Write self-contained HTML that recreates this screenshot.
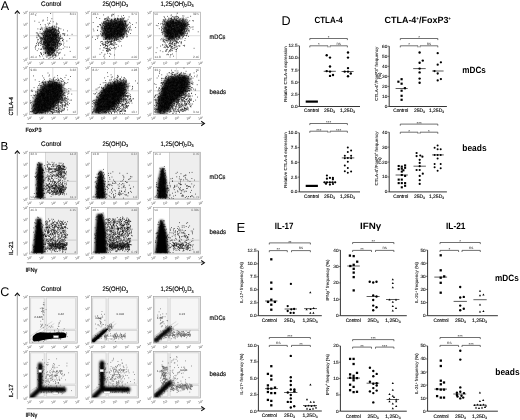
<!DOCTYPE html>
<html><head><meta charset="utf-8"><style>
html,body{margin:0;padding:0;background:#fff;width:520px;height:420px;overflow:hidden}
svg{display:block;filter:grayscale(1)}
text{font-family:"Liberation Sans",sans-serif;-webkit-font-smoothing:antialiased;text-rendering:geometricPrecision}
</style></head><body>
<svg width="520" height="420" viewBox="0 0 520 420">
<defs><filter id="b5" filterUnits="userSpaceOnUse" x="0" y="0" width="520" height="420"><feGaussianBlur stdDeviation="0.5"/></filter><filter id="b6" filterUnits="userSpaceOnUse" x="0" y="0" width="520" height="420"><feGaussianBlur stdDeviation="0.6"/></filter><filter id="b8" filterUnits="userSpaceOnUse" x="0" y="0" width="520" height="420"><feGaussianBlur stdDeviation="0.8"/></filter><filter id="b10" filterUnits="userSpaceOnUse" x="0" y="0" width="520" height="420"><feGaussianBlur stdDeviation="1.0"/></filter><filter id="b12" filterUnits="userSpaceOnUse" x="0" y="0" width="520" height="420"><feGaussianBlur stdDeviation="1.2"/></filter><filter id="b15" filterUnits="userSpaceOnUse" x="0" y="0" width="520" height="420"><feGaussianBlur stdDeviation="1.5"/></filter><filter id="b20" filterUnits="userSpaceOnUse" x="0" y="0" width="520" height="420"><feGaussianBlur stdDeviation="2.0"/></filter><filter id="b25" filterUnits="userSpaceOnUse" x="0" y="0" width="520" height="420"><feGaussianBlur stdDeviation="2.5"/></filter><filter id="b30" filterUnits="userSpaceOnUse" x="0" y="0" width="520" height="420"><feGaussianBlur stdDeviation="3.0"/></filter></defs>
<rect width="520" height="420" fill="#fff"/>
<text x="0.70" y="9.70" font-size="12.6">A</text>
<text x="0.60" y="149.80" font-size="11.6">B</text>
<text x="0.20" y="295.90" font-size="12.6">C</text>
<text x="281.60" y="25.30" font-size="12.6">D</text>
<text x="236.40" y="231.90" font-size="13.2">E</text>
<text x="51.30" y="5.80" font-size="6.6" text-anchor="middle" textLength="20.4" lengthAdjust="spacingAndGlyphs" stroke="#000" stroke-width=".15">Control</text>
<text x="102.5" y="5.8" font-size="6.6" stroke="#000" stroke-width=".15" textLength="25.5" lengthAdjust="spacingAndGlyphs">25(OH)D<tspan font-size="4" dy="1.3">3</tspan></text>
<text x="160.5" y="5.8" font-size="6.6" stroke="#000" stroke-width=".15" textLength="33" lengthAdjust="spacingAndGlyphs">1,25(OH)<tspan font-size="4" dy="1.3">2</tspan><tspan dy="-1.3">D</tspan><tspan font-size="4" dy="1.3">3</tspan></text>
<text x="51.30" y="145.60" font-size="6.6" text-anchor="middle" textLength="20.4" lengthAdjust="spacingAndGlyphs" stroke="#000" stroke-width=".15">Control</text>
<text x="102.5" y="145.6" font-size="6.6" stroke="#000" stroke-width=".15" textLength="25.5" lengthAdjust="spacingAndGlyphs">25(OH)D<tspan font-size="4" dy="1.3">3</tspan></text>
<text x="160.5" y="145.6" font-size="6.6" stroke="#000" stroke-width=".15" textLength="33" lengthAdjust="spacingAndGlyphs">1,25(OH)<tspan font-size="4" dy="1.3">2</tspan><tspan dy="-1.3">D</tspan><tspan font-size="4" dy="1.3">3</tspan></text>
<text x="51.30" y="291.20" font-size="6.6" text-anchor="middle" textLength="20.4" lengthAdjust="spacingAndGlyphs" stroke="#000" stroke-width=".15">Control</text>
<text x="102.5" y="291.2" font-size="6.6" stroke="#000" stroke-width=".15" textLength="25.5" lengthAdjust="spacingAndGlyphs">25(OH)D<tspan font-size="4" dy="1.3">3</tspan></text>
<text x="160.5" y="291.2" font-size="6.6" stroke="#000" stroke-width=".15" textLength="33" lengthAdjust="spacingAndGlyphs">1,25(OH)<tspan font-size="4" dy="1.3">2</tspan><tspan dy="-1.3">D</tspan><tspan font-size="4" dy="1.3">3</tspan></text>
<text x="209.60" y="38.60" font-size="6.6" textLength="15.8" lengthAdjust="spacingAndGlyphs" stroke="#000" stroke-width=".15">mDCs</text>
<text x="209.60" y="94.30" font-size="6.6" textLength="16.4" lengthAdjust="spacingAndGlyphs" stroke="#000" stroke-width=".15">beads</text>
<text x="209.60" y="178.70" font-size="6.6" textLength="15.8" lengthAdjust="spacingAndGlyphs" stroke="#000" stroke-width=".15">mDCs</text>
<text x="209.60" y="233.70" font-size="6.6" textLength="16.4" lengthAdjust="spacingAndGlyphs" stroke="#000" stroke-width=".15">beads</text>
<text x="209.60" y="320.20" font-size="6.6" textLength="15.8" lengthAdjust="spacingAndGlyphs" stroke="#000" stroke-width=".15">mDCs</text>
<text x="209.60" y="376.00" font-size="6.6" textLength="16.4" lengthAdjust="spacingAndGlyphs" stroke="#000" stroke-width=".15">beads</text>
<rect x="29.3" y="12.1" width="47.9" height="47.2" fill="#fff" stroke="#999" stroke-width=".6"/>
<path d="M52.8 12.1V59.3M29.3 35.7H77.2" stroke="#bbb" stroke-width=".5"/>
<text x="30.6" y="15.3" font-size="3.1" fill="#555">42.7</text>
<text x="75.9" y="15.3" font-size="3.1" fill="#555" text-anchor="end">8.61</text>
<text x="30.6" y="58.3" font-size="3.1" fill="#555">40.4</text>
<text x="75.9" y="58.3" font-size="3.1" fill="#555" text-anchor="end">16</text>
<text x="28.1" y="60.2" font-size="3.2" text-anchor="end" fill="#444" transform="rotate(-15 28.1 60.2)">10<tspan font-size="2.1" dy="-1.2">0</tspan></text>
<text x="28.1" y="48.4" font-size="3.2" text-anchor="end" fill="#444" transform="rotate(-15 28.1 48.4)">10<tspan font-size="2.1" dy="-1.2">1</tspan></text>
<text x="28.1" y="36.6" font-size="3.2" text-anchor="end" fill="#444" transform="rotate(-15 28.1 36.6)">10<tspan font-size="2.1" dy="-1.2">2</tspan></text>
<text x="28.1" y="24.8" font-size="3.2" text-anchor="end" fill="#444" transform="rotate(-15 28.1 24.8)">10<tspan font-size="2.1" dy="-1.2">3</tspan></text>
<text x="28.1" y="13.0" font-size="3.2" text-anchor="end" fill="#444" transform="rotate(-15 28.1 13.0)">10<tspan font-size="2.1" dy="-1.2">4</tspan></text>
<text x="29.8" y="64.2" font-size="3.2" text-anchor="middle" fill="#444" transform="rotate(-15 29.8 64.2)">10<tspan font-size="2.1" dy="-1.2">0</tspan></text>
<text x="41.8" y="64.2" font-size="3.2" text-anchor="middle" fill="#444" transform="rotate(-15 41.8 64.2)">10<tspan font-size="2.1" dy="-1.2">1</tspan></text>
<text x="53.8" y="64.2" font-size="3.2" text-anchor="middle" fill="#444" transform="rotate(-15 53.8 64.2)">10<tspan font-size="2.1" dy="-1.2">2</tspan></text>
<text x="65.7" y="64.2" font-size="3.2" text-anchor="middle" fill="#444" transform="rotate(-15 65.7 64.2)">10<tspan font-size="2.1" dy="-1.2">3</tspan></text>
<text x="77.7" y="64.2" font-size="3.2" text-anchor="middle" fill="#444" transform="rotate(-15 77.7 64.2)">10<tspan font-size="2.1" dy="-1.2">4</tspan></text>
<clipPath id="k1"><rect x="29.7" y="12.5" width="47.1" height="46.4"/></clipPath><g clip-path="url(#k1)"><path d="M46 28.5L52 28L56 30L58.5 35L57.5 45L54 52L49.5 56L46 54L43.5 46L42.8 36Z" filter="url(#b15)" fill-opacity="0.74"/></g><path d="M53.3 50.5h0.75M58.0 35.6h0.75M47.6 48.7h0.75M55.6 39.0h0.75M49.5 35.5h0.75M44.5 43.1h0.75M52.7 41.8h0.75M49.4 31.7h0.75M51.6 29.6h0.75M41.3 41.2h0.75M49.7 58.0h0.75M56.9 41.7h0.75M55.1 34.8h0.75M54.7 36.1h0.75M56.6 39.1h0.75M47.7 49.3h0.75M54.5 50.6h0.75M52.0 40.4h0.75M47.0 45.4h0.75M53.0 55.1h0.75M53.2 44.6h0.75M46.4 36.8h0.75M46.9 35.2h0.75M56.7 34.9h0.75M53.3 45.4h0.75M51.1 33.4h0.75M48.6 30.3h0.75M46.0 35.7h0.75M53.8 34.6h0.75M55.1 38.2h0.75M53.1 45.6h0.75M52.1 34.3h0.75M49.7 29.8h0.75M59.5 49.1h0.75M52.8 36.8h0.75M50.4 35.0h0.75M52.5 39.8h0.75M48.2 48.6h0.75M40.1 39.0h0.75M49.6 41.5h0.75M57.6 33.7h0.75M51.9 48.4h0.75M49.2 45.5h0.75M52.2 27.6h0.75M50.0 52.1h0.75M61.2 44.1h0.75M51.7 36.6h0.75M43.5 34.0h0.75M52.9 38.6h0.75M50.1 37.2h0.75M62.8 41.2h0.75M54.4 50.2h0.75M50.6 48.3h0.75M53.6 54.0h0.75M49.9 54.3h0.75M42.0 44.3h0.75M52.8 56.0h0.75M47.8 53.5h0.75M54.8 50.2h0.75M44.8 40.6h0.75M52.1 28.0h0.75M45.8 56.1h0.75M58.7 32.9h0.75M47.8 42.8h0.75M48.8 44.2h0.75M49.1 54.1h0.75M52.4 54.4h0.75M41.3 37.7h0.75M53.5 40.8h0.75M46.2 32.2h0.75M41.8 40.1h0.75M44.7 44.7h0.75M48.3 49.9h0.75M42.2 38.6h0.75M53.5 49.5h0.75M58.9 45.8h0.75M49.1 34.4h0.75M46.6 26.9h0.75M43.2 48.2h0.75M52.4 37.6h0.75M43.4 47.1h0.75M58.0 30.7h0.75M57.1 44.2h0.75M57.9 27.6h0.75M54.9 42.3h0.75M44.2 48.7h0.75M54.9 30.4h0.75M52.1 32.8h0.75M50.3 47.5h0.75M46.1 33.6h0.75M49.4 48.1h0.75M54.6 35.7h0.75M43.9 39.3h0.75M47.7 34.0h0.75M44.8 39.3h0.75M56.3 35.5h0.75M43.2 35.5h0.75M58.3 35.7h0.75M45.9 47.0h0.75M49.3 31.9h0.75M49.0 53.7h0.75M50.2 48.5h0.75M44.9 45.5h0.75M47.4 36.9h0.75M41.1 40.7h0.75M53.9 29.9h0.75M43.9 42.7h0.75M45.1 31.3h0.75M56.7 45.4h0.75M52.1 39.2h0.75M58.1 31.3h0.75M58.0 53.1h0.75M58.3 38.2h0.75M54.4 40.1h0.75M50.6 38.2h0.75M53.1 48.3h0.75M48.3 54.9h0.75M55.2 35.9h0.75M47.2 51.3h0.75M57.1 48.1h0.75M47.7 34.3h0.75M56.8 37.0h0.75M55.2 32.6h0.75M52.7 32.1h0.75M58.0 28.6h0.75M48.2 31.3h0.75M50.5 39.5h0.75M49.6 37.2h0.75M44.3 33.8h0.75M47.7 38.9h0.75M37.5 28.9h0.75M47.4 46.3h0.75M45.0 43.2h0.75M44.5 42.3h0.75M50.9 50.5h0.75M51.3 47.8h0.75M53.7 31.8h0.75M40.3 29.1h0.75M44.0 44.7h0.75M49.4 51.4h0.75M39.7 33.5h0.75M52.0 29.3h0.75M49.7 39.3h0.75M56.9 52.5h0.75M53.5 43.0h0.75M43.9 34.8h0.75M59.4 43.6h0.75M46.9 52.4h0.75M48.0 43.4h0.75M51.2 49.6h0.75M48.8 51.4h0.75M51.5 50.8h0.75M58.4 40.2h0.75M53.5 50.2h0.75M50.3 32.1h0.75M45.1 53.0h0.75M44.8 41.4h0.75M51.8 39.9h0.75M53.7 31.1h0.75M53.3 48.6h0.75M50.9 48.1h0.75M49.8 32.1h0.75M52.5 32.9h0.75M45.6 52.4h0.75M46.4 41.8h0.75M53.6 45.8h0.75M48.4 49.7h0.75M48.1 45.0h0.75M58.8 31.8h0.75M58.5 43.0h0.75M52.7 48.5h0.75M51.7 35.0h0.75M49.1 50.8h0.75M40.2 37.9h0.75M56.8 40.5h0.75M54.8 47.6h0.75M47.2 31.3h0.75M51.0 38.6h0.75M51.4 44.2h0.75M51.1 34.0h0.75M55.3 38.6h0.75M62.3 40.4h0.75M51.3 33.0h0.75M50.5 51.1h0.75M59.9 43.9h0.75M52.5 38.9h0.75M52.5 44.1h0.75M45.3 40.2h0.75M52.8 48.8h0.75M54.3 35.0h0.75M49.1 42.6h0.75M47.1 43.8h0.75M48.9 41.2h0.75M51.1 41.0h0.75M47.1 32.4h0.75M47.7 30.9h0.75M49.4 55.3h0.75M55.4 35.1h0.75M45.3 36.5h0.75M57.6 44.8h0.75M48.9 52.4h0.75M56.0 40.3h0.75M48.1 36.8h0.75M47.2 37.1h0.75M50.4 41.9h0.75M45.9 30.9h0.75M40.4 29.5h0.75M41.2 33.4h0.75M50.1 27.7h0.75M41.1 49.3h0.75M43.4 41.8h0.75M47.6 39.3h0.75M54.9 28.4h0.75M51.9 35.0h0.75M50.3 40.1h0.75M55.7 35.7h0.75M55.2 44.4h0.75M50.3 42.3h0.75M47.8 44.4h0.75M55.4 39.7h0.75M50.7 30.4h0.75M47.4 29.2h0.75M43.2 42.7h0.75M53.5 35.0h0.75M55.9 37.9h0.75M45.4 35.9h0.75M52.6 35.6h0.75M57.5 37.6h0.75M58.9 28.3h0.75M55.8 30.8h0.75M52.5 29.4h0.75M47.3 42.3h0.75M54.3 51.8h0.75M43.5 52.3h0.75M50.7 50.2h0.75M48.7 49.0h0.75M54.2 37.2h0.75M54.1 39.4h0.75M48.0 36.0h0.75M51.4 49.1h0.75M46.0 42.1h0.75M46.6 36.0h0.75M47.7 35.8h0.75M47.5 44.5h0.75M54.5 32.4h0.75M43.2 36.6h0.75M58.3 41.2h0.75M55.7 54.9h0.75M56.8 32.0h0.75M50.3 30.9h0.75M36.2 43.5h0.75M53.5 42.4h0.75M47.9 54.4h0.75M51.3 52.5h0.75M51.0 43.7h0.75M45.7 42.1h0.75M58.3 33.7h0.75M53.0 51.4h0.75M52.2 35.5h0.75M57.4 45.6h0.75M43.6 37.4h0.75M44.9 39.2h0.75M51.5 42.3h0.75M49.3 45.2h0.75M56.7 30.6h0.75M55.6 35.9h0.75M53.4 36.2h0.75M51.0 53.5h0.75M48.7 32.2h0.75M47.5 35.3h0.75M41.0 38.4h0.75M48.7 45.4h0.75M46.9 31.8h0.75M50.8 50.0h0.75M46.9 38.6h0.75M56.2 42.0h0.75M47.8 49.9h0.75M45.9 28.0h0.75M46.9 47.0h0.75M55.2 45.8h0.75M53.9 34.0h0.75M48.0 40.1h0.75M55.5 44.6h0.75M44.2 41.2h0.75M51.3 46.7h0.75M53.0 52.5h0.75M54.7 38.9h0.75M51.1 54.5h0.75M62.3 40.1h0.75M59.1 38.7h0.75M44.7 48.9h0.75M48.8 44.8h0.75M56.7 46.1h0.75M54.0 51.0h0.75M45.2 37.9h0.75M62.1 38.2h0.75M41.7 34.3h0.75M53.9 50.0h0.75M52.6 52.8h0.75M40.8 42.3h0.75M56.5 34.0h0.75M54.9 33.7h0.75M49.3 34.9h0.75M59.3 40.9h0.75M52.4 44.6h0.75M40.4 43.7h0.75M44.7 27.9h0.75M48.1 31.8h0.75M50.1 31.1h0.75M60.5 43.9h0.75M40.8 33.9h0.75M52.7 33.6h0.75M51.3 37.9h0.75M50.1 41.5h0.75M50.0 30.3h0.75M54.7 42.1h0.75M55.0 48.1h0.75M51.1 38.9h0.75M49.9 55.1h0.75M49.8 32.5h0.75M51.1 32.3h0.75M56.2 39.9h0.75M45.2 31.8h0.75M58.3 42.0h0.75M43.4 41.2h0.75M42.7 35.7h0.75M47.7 46.8h0.75M53.6 33.9h0.75M58.1 29.6h0.75M52.1 53.5h0.75M55.0 29.4h0.75M39.7 32.0h0.75M47.1 39.2h0.75M50.9 49.2h0.75M47.0 48.6h0.75M49.4 43.8h0.75M49.8 41.0h0.75M45.6 38.8h0.75M44.2 33.0h0.75M52.8 30.4h0.75M44.7 44.0h0.75M52.2 26.5h0.75M44.9 33.4h0.75M51.7 39.3h0.75M48.6 36.6h0.75M49.1 41.3h0.75M56.5 37.7h0.75M56.7 36.2h0.75M53.9 28.6h0.75M40.3 37.1h0.75M46.8 29.0h0.75M55.6 42.0h0.75M51.1 40.2h0.75M52.4 42.4h0.75M53.4 38.6h0.75M51.9 37.9h0.75M49.1 49.3h0.75M56.1 35.4h0.75M46.1 40.8h0.75M55.3 34.2h0.75M56.0 51.0h0.75M47.1 40.6h0.75M47.9 52.6h0.75M42.9 43.0h0.75M42.9 46.9h0.75M47.0 45.2h0.75M45.2 45.8h0.75M54.5 47.8h0.75M47.8 52.9h0.75M47.3 55.9h0.75M52.0 42.3h0.75M47.7 46.0h0.75M38.1 45.5h0.75M50.7 34.1h0.75M51.0 41.5h0.75M49.3 38.1h0.75M50.6 40.5h0.75M44.9 40.0h0.75M49.8 49.3h0.75M52.0 37.1h0.75M49.5 42.0h0.75M57.2 43.0h0.75M41.5 44.4h0.75M47.8 38.2h0.75M57.9 46.2h0.75M54.9 43.2h0.75M59.1 40.5h0.75M44.9 47.3h0.75M55.1 46.5h0.75M55.6 30.3h0.75M54.4 30.9h0.75M53.8 34.8h0.75M49.5 45.4h0.75M38.2 39.7h0.75M43.1 43.6h0.75M47.5 53.7h0.75M42.8 32.9h0.75M42.8 48.9h0.75M45.1 52.4h0.75M48.5 58.6h0.75M55.8 29.4h0.75M56.6 46.4h0.75M57.6 34.8h0.75M56.5 40.6h0.75M48.2 49.5h0.75M52.8 31.7h0.75M44.7 32.4h0.75M49.5 23.6h0.75M46.7 38.3h0.75M55.6 37.9h0.75M57.5 33.9h0.75M52.5 40.7h0.75M54.9 38.3h0.75M49.3 38.4h0.75M51.4 31.1h0.75M48.7 29.9h0.75M47.8 44.1h0.75M52.2 47.6h0.75M47.0 53.3h0.75M47.1 43.6h0.75M55.4 47.8h0.75M45.3 37.3h0.75M55.9 43.0h0.75M44.4 43.5h0.75M44.9 35.8h0.75M50.4 47.9h0.75M52.1 45.8h0.75M46.9 49.0h0.75M48.1 45.4h0.75M47.3 42.0h0.75M40.4 45.5h0.75M60.2 38.5h0.75M48.5 45.0h0.75M43.9 34.2h0.75M49.0 35.3h0.75M48.7 37.8h0.75M51.5 37.4h0.75M46.3 36.6h0.75M50.2 51.7h0.75M50.3 37.0h0.75M42.7 44.8h0.75M64.0 35.5h0.75M45.8 28.6h0.75M57.3 40.0h0.75M57.0 34.8h0.75M52.1 55.7h0.75M54.9 44.2h0.75M55.7 32.3h0.75M45.0 35.4h0.75M42.8 44.3h0.75M41.5 38.8h0.75M51.5 45.9h0.75M48.6 40.5h0.75M44.6 36.6h0.75M56.2 52.9h0.75M52.9 34.2h0.75M47.7 36.5h0.75M47.1 35.8h0.75M57.1 42.6h0.75M51.7 33.6h0.75M49.6 37.5h0.75M47.8 46.7h0.75M60.2 38.9h0.75M47.6 23.3h0.75M55.4 40.1h0.75M46.6 41.5h0.75M51.8 50.9h0.75M42.1 39.3h0.75M50.5 28.4h0.75M52.5 34.9h0.75M54.1 35.4h0.75M39.6 37.1h0.75M52.9 52.8h0.75M57.8 50.2h0.75M43.8 31.6h0.75M46.8 33.6h0.75M52.8 21.8h0.75M48.0 50.4h0.75M64.5 46.8h0.75M46.9 39.5h0.75M49.3 50.5h0.75M42.9 37.4h0.75M57.8 42.2h0.75M48.4 52.9h0.75M46.7 44.1h0.75M53.9 43.2h0.75M54.4 27.7h0.75M49.5 30.4h0.75M48.3 38.5h0.75M45.9 48.9h0.75M57.3 47.2h0.75M53.6 42.0h0.75M56.6 33.4h0.75M55.9 49.0h0.75M53.1 32.5h0.75M43.8 35.9h0.75M46.6 41.2h0.75M52.1 29.1h0.75M56.7 36.9h0.75M45.6 45.5h0.75M52.7 41.7h0.75M52.7 48.1h0.75M56.8 45.1h0.75M39.8 29.2h0.75M50.3 35.9h0.75M44.8 42.6h0.75M48.8 33.1h0.75M41.2 37.9h0.75M46.1 46.2h0.75M60.1 45.4h0.75M54.4 45.2h0.75M53.0 29.3h0.75M47.9 29.9h0.75M52.6 29.1h0.75M45.4 47.2h0.75M54.8 34.3h0.75M44.2 41.4h0.75M46.1 47.9h0.75M49.6 42.5h0.75M48.4 45.8h0.75M55.3 49.3h0.75M48.0 42.0h0.75M47.7 40.9h0.75M58.5 36.4h0.75M53.0 39.5h0.75M53.0 36.3h0.75M50.3 49.1h0.75M54.1 44.1h0.75M53.6 35.3h0.75M47.6 48.0h0.75M43.8 37.8h0.75M49.2 27.3h0.75M50.0 47.7h0.75M44.5 47.3h0.75M51.9 49.1h0.75M58.4 33.9h0.75M44.4 39.6h0.75M50.6 44.8h0.75M60.9 44.3h0.75M51.6 28.9h0.75M47.0 30.1h0.75M44.3 38.5h0.75M62.3 33.7h0.75M35.1 49.1h0.75M46.0 36.1h0.75M50.8 39.7h0.75M51.3 30.0h0.75M45.0 43.3h0.75M51.6 38.5h0.75M49.8 35.6h0.75M35.5 45.9h0.75M42.9 45.0h0.75M53.2 40.2h0.75M38.7 22.3h0.75M51.5 57.2h0.75M63.1 45.0h0.75M42.2 33.2h0.75M47.3 42.9h0.75M46.5 57.3h0.75M46.6 51.5h0.75M53.8 31.4h0.75M53.9 28.9h0.75M38.4 48.9h0.75M44.9 30.8h0.75M48.3 44.3h0.75M58.4 31.3h0.75M50.4 55.3h0.75M38.2 35.2h0.75M47.0 47.4h0.75M44.7 53.2h0.75M64.4 55.1h0.75M41.2 48.9h0.75M56.4 27.0h0.75M40.9 27.3h0.75M55.2 55.5h0.75M54.1 30.4h0.75M54.3 42.5h0.75M53.1 28.0h0.75M56.9 51.0h0.75M47.2 48.0h0.75M50.3 21.2h0.75M56.6 44.7h0.75M35.9 32.9h0.75M45.5 34.4h0.75M62.2 40.5h0.75M61.3 38.4h0.75M38.1 34.1h0.75M48.7 47.7h0.75M51.5 18.7h0.75M57.8 38.3h0.75M55.7 26.3h0.75M50.7 44.4h0.75M51.0 27.0h0.75M59.9 35.9h0.75M38.9 42.6h0.75M40.4 40.1h0.75M46.3 49.1h0.75M52.1 52.7h0.75M50.9 30.9h0.75M50.4 54.9h0.75M57.4 43.1h0.75M40.4 53.1h0.75M50.7 46.2h0.75M61.6 38.0h0.75M36.7 35.3h0.75M55.0 54.4h0.75M56.6 30.8h0.75M45.2 53.4h0.75M46.5 34.4h0.75M54.5 39.7h0.75M48.1 34.0h0.75M46.5 31.9h0.75M49.3 42.8h0.75M60.4 41.9h0.75M57.3 48.1h0.75M60.3 34.9h0.75M50.9 30.1h0.75M36.6 37.7h0.75M46.6 31.1h0.75M58.2 33.9h0.75M56.0 23.2h0.75M57.3 44.1h0.75M49.1 23.0h0.75M41.1 54.5h0.75M48.6 44.0h0.75M35.0 46.3h0.75M51.0 38.1h0.75M52.4 49.6h0.75M40.8 42.1h0.75M54.0 26.4h0.75M54.0 54.1h0.75M45.9 30.1h0.75M59.3 32.8h0.75M49.0 39.3h0.75M36.8 50.6h0.75M39.3 36.2h0.75M42.1 38.1h0.75M54.6 57.6h0.75M48.8 31.8h0.75M49.9 43.1h0.75M60.5 28.8h0.75M34.8 47.7h0.75M55.7 46.3h0.75M58.6 39.0h0.75M49.4 32.9h0.75M38.4 36.3h0.75M57.5 29.9h0.75M47.2 20.1h0.75M47.8 37.7h0.75M39.9 41.2h0.75M49.9 34.9h0.75M51.3 45.3h0.75M49.8 38.8h0.75M45.1 32.3h0.75M49.3 55.0h0.75M42.9 38.9h0.75M50.4 38.4h0.75M54.7 46.5h0.75M55.4 56.3h0.75M58.7 39.6h0.75M50.8 47.6h0.75M69.2 47.2h0.75M49.4 29.7h0.75M56.2 37.2h0.75M42.9 41.9h0.75M47.7 44.8h0.75M47.8 31.2h0.75M51.1 48.5h0.75M42.6 46.5h0.75M44.8 24.6h0.75M45.1 48.6h0.75M53.7 44.5h0.75M47.1 44.5h0.75M45.3 42.6h0.75M45.0 42.1h0.75M46.4 43.1h0.75M48.4 27.8h0.75M52.4 52.0h0.75M56.6 39.5h0.75M44.7 29.7h0.75M40.2 49.3h0.75M54.4 36.8h0.75M56.8 24.0h0.75M41.4 28.6h0.75M34.4 21.1h0.75M46.7 50.6h0.75M48.2 24.8h0.75M67.3 35.1h0.75M48.8 53.0h0.75M50.2 34.3h0.75M44.2 44.8h0.75M46.1 39.9h0.75M46.0 29.1h0.75M48.4 46.9h0.75M51.6 39.2h0.75M51.4 43.1h0.75M59.0 58.3h0.75M58.4 41.5h0.75M52.6 50.6h0.75M53.6 36.5h0.75M48.9 41.8h0.75M66.7 47.1h0.75M56.6 42.4h0.75M53.2 43.0h0.75M56.2 35.0h0.75M43.7 42.3h0.75M54.8 35.6h0.75M59.5 37.9h0.75M46.7 28.5h0.75M42.9 33.3h0.75M55.4 29.5h0.75M56.7 48.0h0.75M52.0 56.2h0.75M55.8 27.8h0.75M39.8 41.6h0.75M60.8 49.6h0.75M46.4 33.2h0.75M54.5 50.8h0.75M54.5 29.5h0.75M43.4 35.5h0.75M61.8 58.1h0.75M40.9 54.1h0.75M38.3 43.7h0.75M66.5 41.0h0.75M64.0 34.2h0.75M53.8 49.7h0.75M64.5 33.9h0.75M50.2 46.9h0.75M48.1 42.4h0.75M54.6 33.5h0.75M39.2 55.6h0.75M50.7 49.4h0.75M62.8 48.4h0.75M59.0 44.2h0.75M54.7 55.4h0.75M48.4 52.2h0.75M37.3 41.0h0.75M49.1 36.2h0.75M45.9 42.8h0.75M55.9 24.8h0.75M46.8 43.2h0.75M49.0 28.1h0.75M55.2 43.6h0.75M52.1 45.0h0.75M63.3 39.4h0.75M51.1 31.8h0.75M57.7 36.0h0.75M36.8 32.8h0.75M42.4 28.1h0.75M41.0 39.8h0.75M56.5 55.9h0.75M38.5 35.3h0.75M54.4 53.7h0.75M53.8 51.9h0.75M45.3 26.1h0.75M49.0 47.8h0.75M50.5 35.3h0.75M45.5 49.8h0.75M46.2 46.4h0.75M45.4 48.5h0.75M47.5 40.0h0.75M49.3 35.8h0.75M56.7 43.9h0.75M52.5 34.6h0.75M52.9 37.7h0.75M46.2 45.1h0.75M60.4 37.0h0.75M44.7 38.0h0.75M51.9 52.8h0.75M53.6 37.7h0.75M46.7 47.2h0.75M39.9 43.3h0.75M45.4 35.3h0.75M52.8 28.6h0.75M50.1 37.4h0.75M37.4 39.4h0.75M45.5 40.4h0.75M46.5 34.8h0.75M47.7 47.4h0.75M42.0 34.2h0.75M47.7 51.7h0.75M59.5 53.0h0.75M37.1 33.9h0.75M48.3 55.6h0.75M41.3 53.4h0.75M56.4 41.5h0.75M45.5 50.9h0.75M46.6 45.1h0.75M50.8 53.0h0.75M53.5 41.5h0.75M49.2 48.7h0.75M38.4 43.0h0.75M55.3 37.0h0.75M51.7 37.0h0.75M58.9 43.6h0.75M52.0 49.8h0.75M52.6 51.2h0.75M59.7 52.3h0.75M52.8 47.3h0.75M56.0 31.9h0.75M51.6 40.8h0.75M37.8 44.3h0.75M53.7 26.0h0.75M63.4 33.5h0.75M59.9 36.5h0.75M55.9 36.0h0.75M63.5 43.1h0.75M57.7 40.5h0.75M58.1 54.9h0.75M53.7 55.6h0.75M36.3 45.3h0.75M53.1 39.0h0.75M39.4 38.1h0.75M48.7 47.9h0.75M49.8 57.2h0.75M36.5 37.0h0.75M52.9 32.1h0.75M43.6 49.0h0.75M40.4 52.5h0.75M39.7 56.8h0.75M44.0 32.3h0.75M44.1 39.1h0.75M42.5 21.0h0.75M63.1 30.0h0.75M44.7 31.0h0.75M41.0 43.3h0.75M43.4 58.4h0.75M69.8 51.4h0.75M59.2 37.6h0.75M40.1 24.6h0.75M71.7 34.3h0.75M53.0 58.3h0.75M42.8 20.1h0.75M47.0 17.8h0.75M69.4 38.6h0.75M58.7 53.4h0.75M35.4 15.2h0.75M40.3 38.7h0.75M50.3 13.5h0.75M58.4 43.3h0.75M42.1 29.8h0.75M51.4 27.4h0.75M57.9 41.4h0.75M67.1 30.9h0.75M42.3 55.9h0.75M43.0 31.3h0.75M58.4 37.7h0.75M52.3 26.1h0.75M54.5 41.3h0.75M43.3 54.3h0.75M58.6 49.2h0.75M59.1 39.3h0.75M43.3 37.9h0.75M49.1 47.2h0.75M43.3 39.8h0.75M36.9 42.3h0.75M49.8 40.4h0.75M52.3 49.2h0.75M51.9 50.4h0.75M42.0 47.1h0.75M56.5 48.4h0.75M48.1 41.3h0.75M54.3 45.5h0.75M62.8 34.2h0.75M58.7 46.8h0.75" stroke="#000" stroke-width="0.75"/>
<rect x="91.3" y="12.1" width="47.3" height="47.2" fill="#fff" stroke="#999" stroke-width=".6"/>
<path d="M114.5 12.1V59.3M91.3 35.7H138.6" stroke="#bbb" stroke-width=".5"/>
<text x="92.6" y="15.3" font-size="3.1" fill="#555">49.1</text>
<text x="137.3" y="15.3" font-size="3.1" fill="#555" text-anchor="end">37.0</text>
<text x="92.6" y="58.3" font-size="3.1" fill="#555">12</text>
<text x="137.3" y="58.3" font-size="3.1" fill="#555" text-anchor="end">4.00</text>
<text x="90.1" y="60.2" font-size="3.2" text-anchor="end" fill="#444" transform="rotate(-15 90.1 60.2)">10<tspan font-size="2.1" dy="-1.2">0</tspan></text>
<text x="90.1" y="48.4" font-size="3.2" text-anchor="end" fill="#444" transform="rotate(-15 90.1 48.4)">10<tspan font-size="2.1" dy="-1.2">1</tspan></text>
<text x="90.1" y="36.6" font-size="3.2" text-anchor="end" fill="#444" transform="rotate(-15 90.1 36.6)">10<tspan font-size="2.1" dy="-1.2">2</tspan></text>
<text x="90.1" y="24.8" font-size="3.2" text-anchor="end" fill="#444" transform="rotate(-15 90.1 24.8)">10<tspan font-size="2.1" dy="-1.2">3</tspan></text>
<text x="90.1" y="13.0" font-size="3.2" text-anchor="end" fill="#444" transform="rotate(-15 90.1 13.0)">10<tspan font-size="2.1" dy="-1.2">4</tspan></text>
<text x="91.8" y="64.2" font-size="3.2" text-anchor="middle" fill="#444" transform="rotate(-15 91.8 64.2)">10<tspan font-size="2.1" dy="-1.2">0</tspan></text>
<text x="103.6" y="64.2" font-size="3.2" text-anchor="middle" fill="#444" transform="rotate(-15 103.6 64.2)">10<tspan font-size="2.1" dy="-1.2">1</tspan></text>
<text x="115.4" y="64.2" font-size="3.2" text-anchor="middle" fill="#444" transform="rotate(-15 115.4 64.2)">10<tspan font-size="2.1" dy="-1.2">2</tspan></text>
<text x="127.3" y="64.2" font-size="3.2" text-anchor="middle" fill="#444" transform="rotate(-15 127.3 64.2)">10<tspan font-size="2.1" dy="-1.2">3</tspan></text>
<text x="139.1" y="64.2" font-size="3.2" text-anchor="middle" fill="#444" transform="rotate(-15 139.1 64.2)">10<tspan font-size="2.1" dy="-1.2">4</tspan></text>
<clipPath id="k2"><rect x="91.7" y="12.5" width="46.5" height="46.4"/></clipPath><g clip-path="url(#k2)"><path d="M104 22L112 20L121 20L126 22L126 31L122 37L112 39.5L104 38.5L102.5 31Z" filter="url(#b15)" fill-opacity="0.82"/></g><path d="M110.4 35.3h0.75M117.7 26.3h0.75M115.6 33.3h0.75M127.3 25.4h0.75M107.8 35.5h0.75M119.0 30.3h0.75M119.7 34.0h0.75M107.1 41.8h0.75M119.7 29.8h0.75M119.0 31.3h0.75M126.5 37.1h0.75M116.9 31.0h0.75M110.7 28.2h0.75M119.5 33.2h0.75M112.5 22.3h0.75M109.8 34.7h0.75M115.1 37.8h0.75M111.8 38.7h0.75M120.0 22.9h0.75M121.6 23.9h0.75M119.3 25.1h0.75M114.1 31.5h0.75M123.1 26.2h0.75M102.3 33.2h0.75M105.0 35.4h0.75M121.2 20.0h0.75M123.5 29.1h0.75M111.2 42.1h0.75M110.9 19.3h0.75M110.0 33.2h0.75M122.6 31.6h0.75M115.6 30.2h0.75M110.6 28.5h0.75M120.8 29.3h0.75M110.6 41.5h0.75M111.1 35.2h0.75M107.7 35.9h0.75M108.8 37.2h0.75M113.1 36.0h0.75M114.0 37.1h0.75M111.0 25.0h0.75M117.2 18.9h0.75M114.5 39.7h0.75M104.1 26.7h0.75M122.7 27.7h0.75M107.3 31.2h0.75M114.8 42.6h0.75M117.0 35.3h0.75M108.8 38.3h0.75M124.7 25.3h0.75M118.1 36.0h0.75M106.9 28.1h0.75M115.5 29.3h0.75M115.1 23.1h0.75M121.4 31.4h0.75M120.6 19.0h0.75M105.9 38.1h0.75M118.4 25.1h0.75M105.8 31.3h0.75M111.4 41.0h0.75M106.3 36.6h0.75M118.6 32.1h0.75M111.0 29.8h0.75M121.3 22.2h0.75M118.9 31.1h0.75M116.7 28.4h0.75M120.9 21.9h0.75M116.4 27.0h0.75M113.7 30.5h0.75M108.5 37.8h0.75M122.6 34.2h0.75M109.2 39.1h0.75M107.8 34.9h0.75M114.4 19.9h0.75M109.0 32.6h0.75M127.1 28.4h0.75M115.7 35.1h0.75M116.0 34.0h0.75M120.3 31.8h0.75M114.7 20.3h0.75M107.7 36.6h0.75M105.6 28.2h0.75M120.9 28.2h0.75M114.8 29.3h0.75M115.4 37.2h0.75M121.3 34.4h0.75M117.2 32.9h0.75M106.0 20.2h0.75M125.5 24.7h0.75M125.0 23.1h0.75M120.4 29.2h0.75M120.1 32.6h0.75M109.7 34.4h0.75M123.7 36.0h0.75M116.0 29.1h0.75M129.0 27.0h0.75M106.1 33.7h0.75M117.6 27.4h0.75M123.9 31.7h0.75M117.6 37.3h0.75M117.9 29.2h0.75M117.4 34.7h0.75M113.8 24.1h0.75M119.1 34.5h0.75M124.0 32.0h0.75M108.0 22.1h0.75M117.4 30.3h0.75M126.1 31.0h0.75M109.2 18.8h0.75M100.8 26.1h0.75M122.1 22.3h0.75M102.2 29.1h0.75M123.2 38.0h0.75M125.7 33.5h0.75M107.0 20.4h0.75M122.6 30.7h0.75M105.8 22.3h0.75M107.1 25.9h0.75M123.2 34.5h0.75M123.6 27.1h0.75M107.4 37.4h0.75M114.8 33.5h0.75M107.6 38.8h0.75M119.2 24.5h0.75M113.3 24.8h0.75M112.2 29.0h0.75M116.4 20.3h0.75M108.2 28.7h0.75M115.5 22.1h0.75M121.9 23.7h0.75M106.6 30.7h0.75M120.5 35.7h0.75M104.5 28.5h0.75M112.9 25.6h0.75M113.6 33.0h0.75M110.0 25.5h0.75M110.2 29.6h0.75M113.0 40.7h0.75M110.0 31.1h0.75M104.4 23.9h0.75M109.7 31.2h0.75M110.9 23.0h0.75M118.5 19.1h0.75M124.0 21.2h0.75M114.7 38.6h0.75M111.7 27.8h0.75M111.0 21.5h0.75M105.3 29.0h0.75M123.3 33.4h0.75M112.6 33.1h0.75M115.9 23.6h0.75M128.1 24.2h0.75M117.1 27.5h0.75M121.7 28.4h0.75M121.4 28.1h0.75M106.8 37.0h0.75M121.2 27.3h0.75M122.9 24.1h0.75M130.2 27.7h0.75M119.5 38.9h0.75M113.1 26.8h0.75M107.4 35.3h0.75M115.8 25.8h0.75M104.8 29.5h0.75M114.1 21.6h0.75M107.4 36.9h0.75M117.2 31.7h0.75M111.8 28.4h0.75M103.1 23.0h0.75M116.5 35.1h0.75M112.2 24.0h0.75M104.9 25.2h0.75M118.1 34.1h0.75M116.0 40.0h0.75M119.3 35.3h0.75M113.3 35.4h0.75M112.3 34.3h0.75M102.0 24.3h0.75M124.4 28.7h0.75M115.5 25.6h0.75M113.5 21.3h0.75M117.1 33.4h0.75M122.6 25.6h0.75M109.7 30.3h0.75M121.7 20.8h0.75M124.8 24.8h0.75M122.9 18.3h0.75M101.9 27.9h0.75M104.3 35.0h0.75M104.1 22.0h0.75M121.0 25.4h0.75M123.5 23.2h0.75M110.6 32.0h0.75M125.4 29.1h0.75M103.7 28.2h0.75M110.2 24.6h0.75M124.6 30.3h0.75M120.3 28.1h0.75M107.2 35.0h0.75M112.4 35.7h0.75M120.5 37.6h0.75M115.8 21.1h0.75M105.9 26.9h0.75M110.2 41.7h0.75M126.3 27.5h0.75M116.8 26.7h0.75M109.4 29.1h0.75M116.8 35.8h0.75M103.6 32.0h0.75M114.0 32.1h0.75M122.4 35.1h0.75M106.2 31.1h0.75M125.7 21.7h0.75M104.1 27.3h0.75M108.1 20.9h0.75M106.5 28.3h0.75M111.7 20.6h0.75M122.2 24.5h0.75M117.2 27.9h0.75M117.7 23.0h0.75M119.9 31.6h0.75M125.8 33.6h0.75M106.7 37.2h0.75M106.0 38.6h0.75M119.6 23.6h0.75M118.8 22.9h0.75M116.2 31.4h0.75M114.5 33.7h0.75M107.3 28.8h0.75M124.4 27.1h0.75M112.1 26.5h0.75M111.6 29.0h0.75M111.8 23.2h0.75M111.7 25.8h0.75M120.9 25.8h0.75M117.2 37.6h0.75M102.0 33.3h0.75M111.6 19.8h0.75M128.3 32.3h0.75M110.3 26.7h0.75M124.3 21.1h0.75M101.5 27.3h0.75M108.1 28.1h0.75M119.1 35.7h0.75M108.4 23.4h0.75M125.4 23.7h0.75M108.6 27.4h0.75M105.7 21.6h0.75M122.2 22.1h0.75M125.8 34.4h0.75M118.9 33.5h0.75M108.7 28.7h0.75M118.0 32.8h0.75M121.7 29.2h0.75M107.8 17.0h0.75M122.0 26.9h0.75M113.8 26.4h0.75M110.3 26.9h0.75M105.3 24.4h0.75M108.8 27.4h0.75M123.1 28.8h0.75M114.9 24.4h0.75M110.9 25.7h0.75M104.3 31.2h0.75M106.8 31.9h0.75M118.9 24.0h0.75M122.0 26.2h0.75M113.2 29.1h0.75M114.3 40.5h0.75M105.9 34.4h0.75M120.5 24.4h0.75M117.3 32.9h0.75M117.4 24.9h0.75M114.2 19.0h0.75M118.0 27.5h0.75M101.0 29.2h0.75M103.8 30.0h0.75M108.3 25.2h0.75M123.8 34.5h0.75M101.5 31.2h0.75M113.9 28.4h0.75M109.5 38.5h0.75M124.9 22.4h0.75M121.1 24.8h0.75M104.5 32.5h0.75M109.7 23.8h0.75M121.5 25.1h0.75M110.5 21.2h0.75M106.8 36.2h0.75M110.3 28.9h0.75M118.8 24.8h0.75M122.8 37.4h0.75M117.0 23.4h0.75M124.2 30.2h0.75M121.1 34.8h0.75M115.0 35.2h0.75M104.7 26.4h0.75M123.4 33.8h0.75M116.0 29.3h0.75M125.6 20.8h0.75M119.2 28.0h0.75M119.4 23.9h0.75M111.5 35.2h0.75M112.7 21.4h0.75M113.3 37.1h0.75M101.6 32.7h0.75M109.7 33.3h0.75M114.0 19.4h0.75M124.5 25.9h0.75M107.8 25.3h0.75M116.3 23.7h0.75M102.6 25.2h0.75M118.5 22.4h0.75M118.0 19.9h0.75M122.5 27.2h0.75M120.8 28.4h0.75M111.8 33.9h0.75M113.0 26.0h0.75M116.5 29.8h0.75M109.0 34.7h0.75M122.0 35.4h0.75M114.7 22.9h0.75M123.7 20.9h0.75M106.3 28.2h0.75M109.8 22.4h0.75M102.7 25.7h0.75M104.0 32.7h0.75M117.8 26.2h0.75M107.5 33.1h0.75M111.7 31.5h0.75M116.6 36.2h0.75M111.1 37.6h0.75M108.0 25.9h0.75M111.7 38.1h0.75M116.2 23.1h0.75M119.6 30.9h0.75M105.5 36.7h0.75M128.5 30.7h0.75M107.0 36.7h0.75M115.2 31.6h0.75M119.1 25.7h0.75M127.2 36.3h0.75M103.3 25.6h0.75M119.9 30.7h0.75M120.9 39.5h0.75M103.5 33.5h0.75M124.8 28.6h0.75M113.2 24.7h0.75M107.0 34.6h0.75M110.8 30.4h0.75M114.1 30.5h0.75M119.8 29.0h0.75M109.8 33.7h0.75M119.7 19.5h0.75M124.1 17.8h0.75M111.2 35.5h0.75M121.7 38.9h0.75M122.2 24.0h0.75M118.3 27.1h0.75M105.1 28.7h0.75M102.0 35.5h0.75M116.1 37.2h0.75M111.7 36.3h0.75M117.9 28.0h0.75M129.0 22.4h0.75M106.8 33.9h0.75M120.5 21.1h0.75M107.5 24.2h0.75M120.8 32.1h0.75M107.1 29.2h0.75M111.8 36.4h0.75M116.5 27.6h0.75M111.5 32.0h0.75M115.6 38.0h0.75M117.4 31.2h0.75M116.9 30.6h0.75M112.5 30.1h0.75M109.2 26.6h0.75M111.4 33.7h0.75M119.0 36.5h0.75M117.1 19.3h0.75M118.2 31.9h0.75M103.3 22.7h0.75M114.7 19.4h0.75M105.0 30.3h0.75M116.7 32.8h0.75M124.8 21.6h0.75M114.5 23.7h0.75M126.7 24.5h0.75M108.6 34.6h0.75M107.6 29.7h0.75M118.0 18.9h0.75M118.9 21.7h0.75M119.7 21.8h0.75M111.3 35.7h0.75M100.7 34.3h0.75M107.5 41.5h0.75M115.0 26.3h0.75M104.8 31.0h0.75M125.3 32.4h0.75M119.2 27.1h0.75M104.1 29.1h0.75M121.0 29.8h0.75M107.8 25.1h0.75M107.1 19.5h0.75M105.9 24.3h0.75M113.9 41.0h0.75M120.1 26.6h0.75M118.2 30.6h0.75M119.0 34.1h0.75M122.1 34.9h0.75M119.8 21.8h0.75M114.1 36.4h0.75M108.8 25.3h0.75M125.1 31.5h0.75M125.3 23.9h0.75M114.4 29.3h0.75M101.6 35.1h0.75M109.9 27.3h0.75M105.7 33.4h0.75M123.4 35.0h0.75M110.5 30.8h0.75M103.7 32.3h0.75M106.4 32.6h0.75M120.7 18.6h0.75M118.1 26.4h0.75M106.4 25.6h0.75M108.0 20.2h0.75M123.5 28.3h0.75M119.7 31.9h0.75M110.5 23.7h0.75M122.5 18.9h0.75M120.2 27.7h0.75M111.1 21.0h0.75M116.6 39.7h0.75M108.9 31.8h0.75M103.4 28.4h0.75M104.7 22.8h0.75M120.4 31.0h0.75M110.0 38.3h0.75M123.4 18.6h0.75M122.4 37.8h0.75M100.0 24.5h0.75M110.0 20.5h0.75M116.1 26.6h0.75M115.1 31.9h0.75M123.2 36.7h0.75M106.1 37.6h0.75M116.0 22.3h0.75M114.4 39.2h0.75M126.1 25.5h0.75M126.5 26.3h0.75M124.2 21.4h0.75M110.2 23.7h0.75M111.3 31.1h0.75M112.9 23.9h0.75M109.9 31.3h0.75M110.0 30.5h0.75M104.9 34.8h0.75M106.1 33.0h0.75M115.1 28.7h0.75M123.5 24.9h0.75M126.9 34.7h0.75M109.3 39.7h0.75M123.0 19.7h0.75M113.2 32.0h0.75M116.8 39.1h0.75M122.9 24.3h0.75M107.3 27.8h0.75M110.6 37.3h0.75M122.7 20.7h0.75M105.1 18.6h0.75M117.5 33.9h0.75M112.2 39.9h0.75M107.7 23.5h0.75M105.4 37.8h0.75M120.8 36.1h0.75M124.8 23.6h0.75M106.5 22.6h0.75M115.0 18.6h0.75M118.8 40.3h0.75M118.0 21.2h0.75M114.7 28.5h0.75M127.3 29.7h0.75M121.1 16.2h0.75M117.6 36.6h0.75M110.8 34.5h0.75M111.8 32.5h0.75M111.4 33.2h0.75M113.5 36.5h0.75M121.3 35.0h0.75M123.9 27.5h0.75M110.8 32.9h0.75M106.0 35.3h0.75M113.7 33.9h0.75M118.6 30.5h0.75M112.1 31.0h0.75M104.0 28.3h0.75M102.5 23.6h0.75M105.6 35.8h0.75M128.2 27.4h0.75M123.0 29.9h0.75M110.7 25.7h0.75M114.9 30.2h0.75M113.4 26.1h0.75M111.8 32.2h0.75M109.7 37.0h0.75M120.3 35.2h0.75M109.8 28.4h0.75M108.9 23.5h0.75M108.8 39.8h0.75M113.4 31.7h0.75M99.4 18.5h0.75M102.5 34.1h0.75M114.2 23.2h0.75M120.3 36.4h0.75M109.7 36.4h0.75M109.3 25.0h0.75M123.7 25.8h0.75M122.4 37.2h0.75M118.6 37.5h0.75M118.5 26.1h0.75M109.3 27.9h0.75M108.6 27.9h0.75M112.7 24.5h0.75M107.5 32.2h0.75M104.8 26.7h0.75M106.0 37.0h0.75M107.4 18.3h0.75M121.8 31.7h0.75M120.2 24.7h0.75M105.3 38.7h0.75M113.7 38.9h0.75M109.0 35.3h0.75M118.7 29.3h0.75M110.9 20.4h0.75M116.7 34.3h0.75M113.1 28.3h0.75M113.9 29.4h0.75M103.7 37.7h0.75M118.2 25.1h0.75M106.6 26.5h0.75M120.4 30.1h0.75M103.2 31.0h0.75M115.5 22.3h0.75M112.3 28.2h0.75M112.6 38.7h0.75M112.8 35.5h0.75M108.3 32.8h0.75M121.5 36.0h0.75M110.8 29.3h0.75M115.7 23.5h0.75M101.4 23.1h0.75M109.2 37.4h0.75M117.3 33.4h0.75M102.7 36.7h0.75M118.8 32.5h0.75M127.7 19.3h0.75M119.3 24.3h0.75M103.8 21.4h0.75M115.3 25.1h0.75M123.1 24.9h0.75M105.7 27.1h0.75M108.7 20.7h0.75M126.8 25.7h0.75M117.9 37.0h0.75M115.8 38.2h0.75M111.3 24.6h0.75M105.7 18.7h0.75M103.0 33.1h0.75M117.3 18.6h0.75M117.7 41.4h0.75M103.1 30.3h0.75M111.0 41.6h0.75M105.4 35.1h0.75M105.2 19.9h0.75M104.8 23.3h0.75M125.6 30.1h0.75M116.5 31.4h0.75M106.4 39.1h0.75M120.5 34.7h0.75M120.7 21.3h0.75M121.9 33.7h0.75M125.7 30.7h0.75M115.4 36.7h0.75M121.3 33.9h0.75M124.3 36.0h0.75M107.5 32.4h0.75M127.0 31.1h0.75M119.6 36.6h0.75M118.5 24.6h0.75M123.9 33.3h0.75M123.9 32.9h0.75M107.7 17.1h0.75M115.4 19.1h0.75M108.2 31.8h0.75M111.3 38.8h0.75M122.2 26.4h0.75M116.1 28.7h0.75M109.4 27.0h0.75M117.4 26.9h0.75M122.0 28.5h0.75M105.9 26.6h0.75M117.6 21.4h0.75M115.5 27.6h0.75M107.6 31.7h0.75M108.7 35.9h0.75M108.2 24.4h0.75M113.5 23.6h0.75M120.4 22.3h0.75M108.1 29.0h0.75M119.3 26.0h0.75M121.4 19.8h0.75M120.6 33.7h0.75M101.9 28.6h0.75M105.5 29.9h0.75M115.4 32.8h0.75M120.0 18.9h0.75M108.3 29.9h0.75M116.0 20.7h0.75M108.4 23.0h0.75M108.6 38.9h0.75M103.1 39.2h0.75M116.9 24.8h0.75M111.9 26.8h0.75M108.4 37.2h0.75M117.1 19.9h0.75M111.4 34.6h0.75M107.4 24.6h0.75M105.3 30.3h0.75M108.6 32.2h0.75M100.0 33.8h0.75M100.9 27.2h0.75M130.9 30.0h0.75M122.4 29.8h0.75M125.8 30.7h0.75M118.0 31.1h0.75M97.1 30.5h0.75M108.0 18.1h0.75M98.5 35.3h0.75M102.5 30.1h0.75M106.4 18.1h0.75M92.9 29.1h0.75M114.1 26.8h0.75M111.3 29.3h0.75M113.5 31.2h0.75M100.0 42.0h0.75M111.1 27.7h0.75M121.1 45.9h0.75M114.2 39.0h0.75M122.1 20.0h0.75M92.0 37.1h0.75M105.1 34.4h0.75M122.1 29.8h0.75M103.5 23.3h0.75M120.5 35.8h0.75M100.0 31.3h0.75M104.0 19.3h0.75M114.6 40.1h0.75M121.9 29.6h0.75M110.8 30.9h0.75M116.7 38.9h0.75M110.2 22.0h0.75M115.9 30.0h0.75M113.5 41.9h0.75M114.8 33.8h0.75M117.3 18.1h0.75M104.3 26.9h0.75M110.6 36.5h0.75M110.9 36.9h0.75M122.6 29.7h0.75M105.2 21.6h0.75M111.5 22.7h0.75M121.8 21.6h0.75M108.8 33.9h0.75M103.8 39.3h0.75M119.4 27.5h0.75M105.0 38.9h0.75M107.1 49.6h0.75M115.0 20.6h0.75M110.2 44.0h0.75M100.8 28.2h0.75M110.7 35.2h0.75M123.2 15.5h0.75M117.9 33.5h0.75M114.3 34.5h0.75M121.7 17.7h0.75M115.7 28.1h0.75M113.0 14.6h0.75M114.2 28.0h0.75M119.9 23.6h0.75M113.3 33.3h0.75M109.0 26.0h0.75M129.1 29.6h0.75M117.8 15.9h0.75M102.3 26.9h0.75M109.7 25.6h0.75M111.0 15.1h0.75M114.4 32.3h0.75M105.1 38.1h0.75M95.2 39.5h0.75M108.0 39.0h0.75M103.8 23.8h0.75M122.6 21.9h0.75M107.3 23.1h0.75M126.7 20.8h0.75M132.1 24.5h0.75M117.5 32.6h0.75M123.4 34.5h0.75M122.0 36.5h0.75M130.0 26.0h0.75M128.7 28.4h0.75M114.8 25.6h0.75M120.2 20.5h0.75M113.6 20.7h0.75M114.5 30.8h0.75M125.2 26.4h0.75M111.1 28.7h0.75M105.9 23.6h0.75M119.4 28.1h0.75M115.3 27.1h0.75M120.5 29.6h0.75M117.9 39.7h0.75M97.1 30.1h0.75M121.4 35.7h0.75M107.5 45.3h0.75M119.6 29.1h0.75M103.3 14.9h0.75M101.6 35.6h0.75M100.4 25.2h0.75M114.2 32.5h0.75M108.7 45.2h0.75M126.0 26.7h0.75M124.3 28.9h0.75M109.3 28.3h0.75M100.4 25.3h0.75M117.7 27.8h0.75M101.9 27.1h0.75M127.9 31.6h0.75M120.0 38.6h0.75M117.0 22.3h0.75M121.2 32.5h0.75M105.1 33.6h0.75M119.9 34.1h0.75M135.9 22.8h0.75M103.0 34.4h0.75M135.3 27.5h0.75M113.1 30.2h0.75M97.1 26.6h0.75M130.1 33.5h0.75M117.9 38.9h0.75M106.6 30.1h0.75M115.5 23.0h0.75M107.4 40.2h0.75M111.8 15.1h0.75M108.4 42.6h0.75M114.8 36.4h0.75M117.3 30.0h0.75M113.2 32.8h0.75M97.6 36.8h0.75M114.4 30.6h0.75M119.1 26.0h0.75M113.4 34.6h0.75M107.2 37.8h0.75M109.1 27.9h0.75M111.3 19.4h0.75M112.7 24.9h0.75M119.7 18.7h0.75M117.1 25.3h0.75M115.5 44.3h0.75M104.4 33.7h0.75M120.4 41.4h0.75M115.3 31.2h0.75M113.4 26.5h0.75M115.5 40.2h0.75M128.7 16.9h0.75M112.5 14.2h0.75M98.1 26.7h0.75M106.4 45.7h0.75M129.8 23.2h0.75M121.7 30.2h0.75M119.9 20.1h0.75M105.9 25.7h0.75M126.0 32.1h0.75M103.0 21.9h0.75M117.3 28.4h0.75M125.1 21.1h0.75M108.8 28.6h0.75M109.7 31.3h0.75M111.4 16.2h0.75M92.8 22.5h0.75M99.1 24.6h0.75M108.9 36.1h0.75M120.2 25.7h0.75M101.8 41.5h0.75M118.9 41.8h0.75M111.1 33.7h0.75M101.3 41.5h0.75M106.3 38.3h0.75M116.3 40.3h0.75M120.8 23.6h0.75M93.5 30.9h0.75M119.0 21.2h0.75M96.6 35.8h0.75M129.6 29.7h0.75M126.2 36.1h0.75M117.1 34.7h0.75M104.2 18.9h0.75M106.6 37.9h0.75M111.8 34.4h0.75M121.8 18.8h0.75M106.5 20.3h0.75M107.5 29.8h0.75M116.4 44.4h0.75M121.6 32.7h0.75M107.3 20.1h0.75M97.1 38.3h0.75M96.0 17.6h0.75M114.9 48.9h0.75M110.4 54.3h0.75M109.0 48.1h0.75M105.4 42.5h0.75M105.6 43.4h0.75M102.7 50.3h0.75M111.2 44.5h0.75M100.2 45.6h0.75M111.5 44.8h0.75M102.3 44.7h0.75M116.0 34.4h0.75M114.0 34.3h0.75M104.6 54.2h0.75M107.3 46.9h0.75M106.8 43.5h0.75M114.2 55.0h0.75M103.5 56.6h0.75M106.5 50.7h0.75M109.3 36.2h0.75M113.2 45.4h0.75M106.7 39.6h0.75M99.6 48.8h0.75M107.4 50.1h0.75M106.0 45.5h0.75M106.2 51.0h0.75M110.4 47.2h0.75M108.0 36.2h0.75M113.8 47.9h0.75M102.6 34.9h0.75M102.4 43.5h0.75M114.1 39.8h0.75M110.9 43.3h0.75M109.5 53.4h0.75M107.7 48.5h0.75M108.8 41.9h0.75M102.9 44.3h0.75M108.5 41.7h0.75M108.1 42.8h0.75M105.1 39.5h0.75M112.8 44.3h0.75M115.7 39.3h0.75M102.6 42.8h0.75M112.3 41.3h0.75M108.4 50.2h0.75M112.3 44.9h0.75M116.0 38.7h0.75M116.7 30.8h0.75M99.6 54.3h0.75M113.3 37.3h0.75M106.0 48.7h0.75M110.6 43.5h0.75M103.3 47.7h0.75M106.3 48.6h0.75M110.5 41.9h0.75M114.5 43.2h0.75M110.9 41.0h0.75M107.6 42.3h0.75M105.0 44.4h0.75M109.1 56.4h0.75M113.8 45.0h0.75M112.7 48.4h0.75M117.4 39.3h0.75M113.4 42.9h0.75M112.0 43.7h0.75M102.9 35.9h0.75M107.0 43.8h0.75M102.0 34.1h0.75M105.7 41.8h0.75M110.5 39.6h0.75M101.6 43.6h0.75M104.9 48.6h0.75M104.7 46.9h0.75M104.1 44.3h0.75M107.4 46.7h0.75M104.7 42.0h0.75M105.1 41.9h0.75M106.7 48.1h0.75M106.1 50.6h0.75M107.6 50.6h0.75M104.4 58.1h0.75M109.0 44.9h0.75M101.4 36.1h0.75M109.2 49.4h0.75M110.0 42.6h0.75M109.0 41.4h0.75M111.3 48.5h0.75M109.5 37.9h0.75M110.1 44.4h0.75M107.3 53.3h0.75M107.0 46.1h0.75M105.2 45.3h0.75M108.3 49.2h0.75M107.2 51.6h0.75M105.5 45.5h0.75M105.3 44.1h0.75M114.2 47.4h0.75M103.7 44.7h0.75M104.7 37.0h0.75M116.5 34.2h0.75M107.9 34.6h0.75M103.9 47.7h0.75M112.9 34.0h0.75M106.9 41.1h0.75M105.0 46.1h0.75M101.4 52.7h0.75M107.8 51.5h0.75M109.0 50.1h0.75M103.8 55.1h0.75M103.1 45.2h0.75M108.5 42.8h0.75M110.8 40.3h0.75M109.7 49.7h0.75M106.9 48.4h0.75M107.8 32.4h0.75M106.3 41.9h0.75M117.9 46.2h0.75M110.2 50.3h0.75M115.7 47.6h0.75M110.9 43.9h0.75" stroke="#000" stroke-width="0.75"/>
<rect x="153.3" y="12.1" width="47.1" height="47.2" fill="#fff" stroke="#999" stroke-width=".6"/>
<path d="M176.4 12.1V59.3M153.3 35.7H200.4" stroke="#bbb" stroke-width=".5"/>
<text x="154.6" y="15.3" font-size="3.1" fill="#555">50</text>
<text x="199.1" y="15.3" font-size="3.1" fill="#555" text-anchor="end">32.5</text>
<text x="154.6" y="58.3" font-size="3.1" fill="#555">14.8</text>
<text x="199.1" y="58.3" font-size="3.1" fill="#555" text-anchor="end">2.46</text>
<text x="152.1" y="60.2" font-size="3.2" text-anchor="end" fill="#444" transform="rotate(-15 152.1 60.2)">10<tspan font-size="2.1" dy="-1.2">0</tspan></text>
<text x="152.1" y="48.4" font-size="3.2" text-anchor="end" fill="#444" transform="rotate(-15 152.1 48.4)">10<tspan font-size="2.1" dy="-1.2">1</tspan></text>
<text x="152.1" y="36.6" font-size="3.2" text-anchor="end" fill="#444" transform="rotate(-15 152.1 36.6)">10<tspan font-size="2.1" dy="-1.2">2</tspan></text>
<text x="152.1" y="24.8" font-size="3.2" text-anchor="end" fill="#444" transform="rotate(-15 152.1 24.8)">10<tspan font-size="2.1" dy="-1.2">3</tspan></text>
<text x="152.1" y="13.0" font-size="3.2" text-anchor="end" fill="#444" transform="rotate(-15 152.1 13.0)">10<tspan font-size="2.1" dy="-1.2">4</tspan></text>
<text x="153.8" y="64.2" font-size="3.2" text-anchor="middle" fill="#444" transform="rotate(-15 153.8 64.2)">10<tspan font-size="2.1" dy="-1.2">0</tspan></text>
<text x="165.6" y="64.2" font-size="3.2" text-anchor="middle" fill="#444" transform="rotate(-15 165.6 64.2)">10<tspan font-size="2.1" dy="-1.2">1</tspan></text>
<text x="177.4" y="64.2" font-size="3.2" text-anchor="middle" fill="#444" transform="rotate(-15 177.4 64.2)">10<tspan font-size="2.1" dy="-1.2">2</tspan></text>
<text x="189.1" y="64.2" font-size="3.2" text-anchor="middle" fill="#444" transform="rotate(-15 189.1 64.2)">10<tspan font-size="2.1" dy="-1.2">3</tspan></text>
<text x="200.9" y="64.2" font-size="3.2" text-anchor="middle" fill="#444" transform="rotate(-15 200.9 64.2)">10<tspan font-size="2.1" dy="-1.2">4</tspan></text>
<clipPath id="k3"><rect x="153.7" y="12.5" width="46.3" height="46.4"/></clipPath><g clip-path="url(#k3)"><path d="M165 21.5L172 19.5L180 20L186 21L186.5 28L183 35L176 38.5L168 40L165 36.5L164 28Z" filter="url(#b15)" fill-opacity="0.82"/></g><path d="M183.8 19.2h0.75M166.5 25.7h0.75M169.2 27.0h0.75M163.7 20.4h0.75M193.0 20.9h0.75M173.0 22.6h0.75M186.9 32.9h0.75M182.5 25.7h0.75M172.4 33.5h0.75M167.7 36.1h0.75M176.8 36.6h0.75M178.0 29.1h0.75M167.0 23.1h0.75M166.7 33.3h0.75M168.8 32.6h0.75M184.0 29.1h0.75M172.2 25.1h0.75M181.6 35.4h0.75M179.5 24.9h0.75M174.7 30.0h0.75M177.5 34.7h0.75M175.8 35.2h0.75M169.4 33.8h0.75M167.6 26.3h0.75M180.6 36.0h0.75M183.7 35.5h0.75M181.3 35.1h0.75M191.6 27.2h0.75M167.5 25.7h0.75M177.1 33.1h0.75M181.6 22.5h0.75M170.4 32.1h0.75M164.5 32.3h0.75M171.5 23.3h0.75M181.9 30.2h0.75M168.0 31.7h0.75M175.1 22.9h0.75M171.5 31.7h0.75M181.3 34.1h0.75M182.6 32.7h0.75M167.6 34.1h0.75M174.7 27.6h0.75M184.8 38.5h0.75M167.3 23.3h0.75M175.1 34.3h0.75M166.8 25.3h0.75M173.5 26.2h0.75M177.6 27.8h0.75M175.5 34.2h0.75M183.4 27.0h0.75M169.1 35.8h0.75M188.2 24.4h0.75M164.3 21.3h0.75M185.9 29.1h0.75M176.7 39.9h0.75M183.5 28.0h0.75M164.8 34.6h0.75M174.3 29.4h0.75M167.9 30.3h0.75M167.5 32.4h0.75M184.2 25.1h0.75M177.9 17.5h0.75M173.4 28.7h0.75M171.5 30.3h0.75M170.4 31.2h0.75M177.5 30.5h0.75M169.5 31.9h0.75M170.8 37.7h0.75M167.7 30.9h0.75M165.1 26.9h0.75M174.4 39.7h0.75M163.1 29.3h0.75M178.0 30.6h0.75M166.9 30.7h0.75M181.9 20.9h0.75M168.5 31.1h0.75M178.3 23.9h0.75M171.5 32.2h0.75M173.9 27.9h0.75M179.3 25.9h0.75M181.7 25.0h0.75M184.5 40.5h0.75M162.0 28.4h0.75M192.4 20.6h0.75M178.7 30.7h0.75M170.3 26.3h0.75M168.7 23.9h0.75M166.2 22.1h0.75M162.9 20.3h0.75M175.9 23.0h0.75M172.7 24.1h0.75M175.9 41.5h0.75M166.0 27.8h0.75M181.2 35.0h0.75M165.7 28.9h0.75M164.8 31.7h0.75M182.3 26.1h0.75M177.4 35.6h0.75M179.2 22.5h0.75M176.2 20.5h0.75M169.4 20.1h0.75M189.8 27.9h0.75M172.5 36.3h0.75M170.0 28.2h0.75M186.9 27.7h0.75M170.2 22.1h0.75M181.1 29.9h0.75M163.8 27.3h0.75M181.0 29.1h0.75M179.4 24.3h0.75M171.2 23.4h0.75M172.2 21.8h0.75M181.6 28.4h0.75M187.2 33.4h0.75M165.6 27.9h0.75M165.8 40.8h0.75M170.4 32.4h0.75M170.7 29.7h0.75M186.4 26.1h0.75M169.6 21.8h0.75M184.4 32.1h0.75M180.0 33.4h0.75M184.3 25.1h0.75M167.2 35.7h0.75M162.6 32.2h0.75M166.3 36.6h0.75M180.5 25.2h0.75M175.2 33.7h0.75M178.4 24.7h0.75M164.9 45.7h0.75M162.0 23.0h0.75M182.9 17.9h0.75M167.2 26.1h0.75M177.7 24.2h0.75M167.3 29.3h0.75M169.3 26.5h0.75M176.5 34.8h0.75M187.3 29.0h0.75M183.9 20.5h0.75M179.1 29.4h0.75M180.2 27.7h0.75M185.4 20.0h0.75M171.0 29.4h0.75M174.0 31.3h0.75M183.6 28.6h0.75M161.4 32.3h0.75M181.3 29.5h0.75M179.7 20.0h0.75M182.3 19.2h0.75M164.1 23.4h0.75M187.7 26.0h0.75M165.5 25.4h0.75M177.5 30.0h0.75M168.0 25.7h0.75M173.8 39.5h0.75M174.2 27.6h0.75M168.7 25.4h0.75M182.1 25.7h0.75M168.4 29.4h0.75M183.1 23.7h0.75M168.4 37.1h0.75M175.3 35.2h0.75M168.6 23.2h0.75M173.2 25.2h0.75M166.5 35.5h0.75M163.0 40.6h0.75M169.2 36.3h0.75M171.1 27.6h0.75M182.9 33.9h0.75M165.3 31.7h0.75M174.8 30.4h0.75M171.2 39.2h0.75M183.3 21.7h0.75M179.2 33.4h0.75M168.3 20.2h0.75M166.8 22.7h0.75M169.4 30.8h0.75M170.7 37.0h0.75M180.8 20.5h0.75M171.4 22.7h0.75M177.9 24.6h0.75M173.1 26.1h0.75M177.5 27.6h0.75M179.8 25.6h0.75M185.0 26.4h0.75M174.7 19.5h0.75M173.0 23.2h0.75M182.0 33.1h0.75M174.8 30.1h0.75M186.0 31.2h0.75M171.6 37.4h0.75M165.5 27.6h0.75M175.1 34.0h0.75M184.2 26.3h0.75M170.1 34.0h0.75M173.3 28.9h0.75M178.7 36.5h0.75M167.2 31.0h0.75M182.5 20.9h0.75M182.2 32.7h0.75M171.3 19.1h0.75M188.2 28.9h0.75M181.0 31.0h0.75M177.1 21.3h0.75M171.2 36.2h0.75M189.4 20.8h0.75M173.0 37.1h0.75M181.3 30.2h0.75M172.5 20.4h0.75M176.0 25.0h0.75M183.8 24.7h0.75M164.9 29.2h0.75M168.7 24.8h0.75M170.2 26.6h0.75M178.0 21.7h0.75M169.4 25.2h0.75M179.2 26.8h0.75M181.0 42.6h0.75M177.7 23.0h0.75M174.2 19.3h0.75M179.9 34.9h0.75M164.6 33.9h0.75M166.9 36.4h0.75M168.2 19.2h0.75M182.9 26.9h0.75M167.4 21.7h0.75M178.9 31.6h0.75M172.8 33.8h0.75M184.1 26.1h0.75M169.4 37.2h0.75M169.7 31.7h0.75M169.7 38.2h0.75M185.3 25.0h0.75M175.0 36.3h0.75M176.1 31.3h0.75M167.9 26.8h0.75M170.0 21.7h0.75M184.0 23.1h0.75M174.7 32.8h0.75M179.9 38.9h0.75M171.1 27.9h0.75M176.8 31.4h0.75M183.9 30.1h0.75M178.6 29.1h0.75M169.7 26.0h0.75M185.2 26.1h0.75M187.3 24.8h0.75M182.8 31.9h0.75M171.1 21.2h0.75M163.5 28.3h0.75M172.6 32.0h0.75M171.0 17.9h0.75M180.5 26.3h0.75M172.6 24.9h0.75M179.6 21.3h0.75M183.6 33.4h0.75M168.5 32.8h0.75M168.1 23.2h0.75M172.7 22.2h0.75M180.0 30.5h0.75M175.8 32.4h0.75M179.9 30.1h0.75M168.2 34.7h0.75M174.9 22.5h0.75M183.3 23.2h0.75M173.8 28.6h0.75M182.2 37.7h0.75M186.5 23.3h0.75M180.9 33.3h0.75M165.1 24.3h0.75M184.7 28.9h0.75M169.9 20.3h0.75M168.3 29.2h0.75M162.5 21.5h0.75M183.3 24.3h0.75M179.2 41.6h0.75M178.0 31.6h0.75M172.8 31.6h0.75M182.8 18.9h0.75M179.3 37.5h0.75M176.7 29.0h0.75M166.6 32.7h0.75M169.9 38.3h0.75M176.1 25.6h0.75M175.7 25.8h0.75M162.7 26.7h0.75M167.1 24.0h0.75M172.1 37.9h0.75M175.9 33.7h0.75M178.0 22.3h0.75M168.7 30.0h0.75M169.7 35.6h0.75M177.7 20.7h0.75M180.4 18.9h0.75M169.5 29.8h0.75M165.8 32.8h0.75M173.1 32.0h0.75M172.3 26.2h0.75M172.0 36.5h0.75M179.8 18.9h0.75M184.1 27.3h0.75M173.9 33.0h0.75M176.0 39.0h0.75M173.1 28.7h0.75M184.0 30.4h0.75M167.2 33.5h0.75M172.2 26.6h0.75M184.8 27.4h0.75M170.0 30.5h0.75M171.6 23.1h0.75M171.6 21.2h0.75M168.2 21.9h0.75M180.2 32.8h0.75M180.9 33.0h0.75M166.7 33.2h0.75M172.2 21.2h0.75M165.8 38.1h0.75M177.6 32.2h0.75M174.7 17.8h0.75M168.6 25.9h0.75M170.5 41.7h0.75M169.3 32.4h0.75M170.6 36.4h0.75M170.5 20.9h0.75M176.3 38.2h0.75M179.1 28.5h0.75M184.4 24.3h0.75M171.8 36.9h0.75M166.9 24.9h0.75M172.3 23.1h0.75M176.1 16.3h0.75M166.7 30.6h0.75M168.8 21.8h0.75M183.9 25.3h0.75M176.6 20.8h0.75M173.6 38.4h0.75M169.0 30.8h0.75M185.7 18.1h0.75M172.3 37.8h0.75M162.8 30.8h0.75M168.4 31.5h0.75M178.9 38.3h0.75M173.3 21.9h0.75M165.7 35.8h0.75M162.1 34.2h0.75M179.4 31.1h0.75M177.0 18.6h0.75M177.5 16.6h0.75M175.0 37.2h0.75M182.6 24.1h0.75M169.4 39.7h0.75M186.0 23.1h0.75M181.0 27.2h0.75M172.3 37.6h0.75M181.1 23.8h0.75M186.1 25.9h0.75M168.0 24.4h0.75M181.0 28.2h0.75M175.7 32.3h0.75M172.4 28.8h0.75M184.2 34.2h0.75M170.0 36.9h0.75M175.5 31.8h0.75M168.9 26.6h0.75M172.5 36.1h0.75M176.5 22.8h0.75M176.5 26.7h0.75M177.2 29.9h0.75M174.9 24.9h0.75M178.6 26.3h0.75M170.5 30.5h0.75M174.5 31.2h0.75M162.5 25.0h0.75M181.4 28.1h0.75M168.2 39.2h0.75M170.9 33.9h0.75M168.6 26.9h0.75M168.0 27.7h0.75M174.1 30.8h0.75M162.6 29.0h0.75M185.7 33.6h0.75M165.2 22.3h0.75M175.8 30.6h0.75M177.2 27.2h0.75M172.4 42.3h0.75M167.8 33.1h0.75M174.0 32.0h0.75M186.4 24.3h0.75M179.5 23.7h0.75M176.0 19.5h0.75M170.4 24.5h0.75M183.8 29.4h0.75M180.4 32.7h0.75M179.6 29.0h0.75M163.8 30.5h0.75M178.0 28.0h0.75M176.7 41.1h0.75M174.7 32.3h0.75M183.6 24.9h0.75M180.5 32.9h0.75M177.6 31.3h0.75M174.1 26.8h0.75M185.0 24.0h0.75M166.5 29.8h0.75M187.8 30.7h0.75M170.6 34.7h0.75M178.4 37.7h0.75M178.3 31.0h0.75M173.2 35.7h0.75M164.0 24.6h0.75M164.1 31.1h0.75M169.8 41.1h0.75M170.0 42.8h0.75M186.8 22.5h0.75M178.3 17.7h0.75M181.6 34.3h0.75M172.0 23.0h0.75M174.2 32.4h0.75M171.3 33.6h0.75M175.5 31.0h0.75M171.1 32.1h0.75M163.8 33.3h0.75M168.7 33.5h0.75M163.9 29.2h0.75M177.6 32.3h0.75M161.0 30.5h0.75M166.5 31.6h0.75M180.2 25.2h0.75M182.6 36.1h0.75M179.6 22.2h0.75M182.6 29.4h0.75M168.9 28.6h0.75M182.4 19.4h0.75M168.3 39.7h0.75M172.0 28.5h0.75M182.0 30.3h0.75M165.8 30.8h0.75M177.1 34.2h0.75M184.1 21.6h0.75M164.5 27.7h0.75M183.7 22.5h0.75M185.9 19.9h0.75M165.7 36.7h0.75M181.1 30.5h0.75M162.7 24.7h0.75M180.5 23.6h0.75M173.2 38.9h0.75M171.0 30.9h0.75M169.7 38.7h0.75M171.1 19.0h0.75M170.6 33.2h0.75M169.9 23.8h0.75M186.8 24.9h0.75M173.7 37.5h0.75M180.8 41.5h0.75M170.1 33.1h0.75M166.3 29.6h0.75M180.2 31.7h0.75M184.8 25.5h0.75M180.6 30.5h0.75M184.2 31.3h0.75M172.4 21.6h0.75M173.8 18.6h0.75M177.9 22.8h0.75M185.4 21.6h0.75M181.4 24.3h0.75M182.4 30.2h0.75M172.3 38.5h0.75M183.6 31.9h0.75M181.8 29.7h0.75M176.8 28.7h0.75M174.9 26.1h0.75M181.9 28.9h0.75M171.5 22.2h0.75M173.1 28.9h0.75M179.5 32.0h0.75M181.1 32.3h0.75M177.1 31.8h0.75M161.1 27.8h0.75M182.2 33.5h0.75M172.1 36.2h0.75M169.9 35.6h0.75M171.8 29.2h0.75M167.2 23.7h0.75M185.1 28.4h0.75M170.5 23.0h0.75M181.4 31.1h0.75M173.3 21.1h0.75M171.1 36.5h0.75M175.2 30.9h0.75M179.2 36.8h0.75M160.1 24.0h0.75M181.7 23.7h0.75M173.5 25.7h0.75M181.7 20.1h0.75M178.2 30.0h0.75M174.2 29.1h0.75M168.4 18.1h0.75M180.2 34.1h0.75M179.9 26.9h0.75M171.9 35.3h0.75M164.9 36.3h0.75M179.2 32.1h0.75M178.4 35.9h0.75M161.6 23.5h0.75M179.4 32.3h0.75M158.2 23.5h0.75M167.1 20.3h0.75M175.5 28.3h0.75M168.5 26.7h0.75M163.3 24.9h0.75M175.6 24.4h0.75M185.8 28.7h0.75M177.3 24.6h0.75M170.6 24.1h0.75M185.9 21.7h0.75M179.8 26.4h0.75M169.9 25.8h0.75M171.9 19.6h0.75M163.7 27.0h0.75M176.5 36.7h0.75M182.9 28.5h0.75M171.4 28.3h0.75M170.9 26.2h0.75M170.4 41.1h0.75M172.7 21.2h0.75M165.6 32.4h0.75M170.8 28.9h0.75M167.9 31.8h0.75M178.8 32.9h0.75M173.9 22.8h0.75M164.0 41.2h0.75M174.1 18.2h0.75M188.7 24.5h0.75M169.6 32.9h0.75M167.3 34.8h0.75M166.7 39.0h0.75M166.7 31.9h0.75M176.9 24.6h0.75M177.3 33.7h0.75M188.8 26.6h0.75M170.7 27.6h0.75M172.8 30.8h0.75M182.3 34.6h0.75M181.1 25.7h0.75M178.4 22.3h0.75M169.2 37.6h0.75M181.5 38.9h0.75M169.3 33.7h0.75M182.9 36.5h0.75M187.0 22.2h0.75M184.7 32.8h0.75M167.1 40.8h0.75M178.1 33.0h0.75M186.7 34.8h0.75M171.0 38.2h0.75M173.2 21.5h0.75M179.7 23.0h0.75M182.9 33.2h0.75M177.0 34.8h0.75M176.5 25.0h0.75M169.3 38.9h0.75M170.7 38.3h0.75M178.6 27.5h0.75M165.5 32.9h0.75M173.1 26.6h0.75M167.3 25.0h0.75M177.2 25.6h0.75M188.9 30.2h0.75M182.8 24.6h0.75M176.2 36.1h0.75M168.2 29.7h0.75M176.1 27.6h0.75M175.8 31.2h0.75M169.6 40.0h0.75M184.7 35.5h0.75M176.7 33.1h0.75M171.9 35.1h0.75M182.0 27.7h0.75M168.6 32.6h0.75M182.6 36.9h0.75M164.0 35.2h0.75M179.5 29.5h0.75M165.7 40.7h0.75M186.2 25.2h0.75M175.6 22.6h0.75M163.7 21.7h0.75M178.4 21.3h0.75M181.5 26.0h0.75M172.3 32.8h0.75M172.9 20.7h0.75M170.2 22.4h0.75M164.1 21.0h0.75M175.5 29.3h0.75M171.3 25.0h0.75M170.3 34.2h0.75M177.2 21.0h0.75M184.9 33.1h0.75M166.3 24.0h0.75M168.0 34.0h0.75M181.2 24.8h0.75M176.8 28.2h0.75M187.7 24.6h0.75M169.6 27.4h0.75M179.3 36.6h0.75M178.0 39.6h0.75M171.5 30.0h0.75M181.3 27.5h0.75M165.1 25.9h0.75M183.3 26.6h0.75M171.1 18.3h0.75M169.4 22.8h0.75M175.2 40.2h0.75M173.3 19.5h0.75M179.4 30.6h0.75M172.7 23.4h0.75M186.1 30.6h0.75M171.6 39.5h0.75M175.6 27.0h0.75M170.7 35.1h0.75M180.9 27.4h0.75M183.1 29.3h0.75M182.2 21.7h0.75M164.5 19.3h0.75M167.7 33.0h0.75M176.0 23.9h0.75M178.2 36.1h0.75M175.4 23.0h0.75M162.6 23.8h0.75M187.4 23.7h0.75M168.0 38.5h0.75M158.9 28.7h0.75M176.0 42.1h0.75M185.4 31.5h0.75M162.5 32.3h0.75M171.2 27.0h0.75M182.4 15.9h0.75M179.0 21.3h0.75M178.1 37.6h0.75M176.4 34.0h0.75M164.7 44.3h0.75M165.9 23.4h0.75M174.5 25.4h0.75M176.8 22.7h0.75M179.2 35.4h0.75M167.0 16.4h0.75M174.0 23.4h0.75M162.9 19.6h0.75M176.8 23.1h0.75M175.3 19.1h0.75M164.6 29.7h0.75M186.9 29.2h0.75M165.5 19.6h0.75M175.9 36.7h0.75M173.2 21.2h0.75M179.9 32.0h0.75M168.1 29.1h0.75M172.9 30.5h0.75M174.6 34.3h0.75M186.0 35.8h0.75M185.3 24.0h0.75M180.6 23.1h0.75M184.3 45.3h0.75M173.5 38.2h0.75M170.8 34.8h0.75M184.6 23.2h0.75M178.6 18.8h0.75M181.9 21.9h0.75M169.6 37.7h0.75M181.5 30.5h0.75M170.0 24.6h0.75M178.7 20.4h0.75M165.0 21.0h0.75M173.0 33.7h0.75M169.3 36.3h0.75M165.1 18.8h0.75M176.5 42.1h0.75M165.7 34.2h0.75M169.7 18.4h0.75M197.8 31.8h0.75M183.4 33.1h0.75M174.7 36.5h0.75M183.5 16.0h0.75M169.3 27.8h0.75M172.1 16.6h0.75M184.0 46.1h0.75M187.6 17.4h0.75M157.5 25.7h0.75M167.8 29.8h0.75M180.4 30.0h0.75M187.6 23.1h0.75M165.5 28.5h0.75M174.6 41.2h0.75M167.1 31.9h0.75M190.3 16.3h0.75M179.9 29.7h0.75M181.7 18.2h0.75M163.7 22.3h0.75M161.8 32.1h0.75M163.3 41.7h0.75M172.9 36.4h0.75M161.1 29.4h0.75M173.7 31.0h0.75M168.6 21.5h0.75M183.4 34.3h0.75M170.7 27.8h0.75M179.8 22.4h0.75M174.8 23.4h0.75M189.4 26.6h0.75M173.7 34.2h0.75M164.3 17.6h0.75M171.4 29.2h0.75M174.6 35.6h0.75M171.6 34.7h0.75M167.4 35.7h0.75M192.6 29.3h0.75M166.0 30.7h0.75M170.7 15.8h0.75M178.7 23.1h0.75M174.5 23.3h0.75M176.0 18.1h0.75M180.6 42.7h0.75M185.1 23.1h0.75M173.3 29.6h0.75M172.6 24.3h0.75M188.2 36.4h0.75M183.2 20.5h0.75M166.6 22.2h0.75M170.7 29.9h0.75M177.7 38.8h0.75M166.3 24.3h0.75M181.8 25.8h0.75M182.6 35.4h0.75M172.9 40.7h0.75M181.3 23.8h0.75M179.0 31.0h0.75M174.2 45.2h0.75M167.3 30.2h0.75M164.3 28.4h0.75M172.2 29.6h0.75M192.7 26.9h0.75M163.2 31.4h0.75M167.7 26.9h0.75M173.1 17.0h0.75M186.0 35.4h0.75M175.8 29.4h0.75M186.3 26.7h0.75M177.9 30.8h0.75M174.8 16.5h0.75M181.1 31.4h0.75M185.1 20.0h0.75M164.5 36.6h0.75M169.9 18.6h0.75M177.1 13.2h0.75M167.6 24.3h0.75M173.2 23.9h0.75M163.2 39.9h0.75M163.7 16.6h0.75M169.0 43.8h0.75M172.3 25.6h0.75M171.1 20.3h0.75M182.6 26.9h0.75M177.6 27.0h0.75M170.1 25.4h0.75M161.4 38.7h0.75M188.8 31.8h0.75M174.7 28.6h0.75M174.1 40.6h0.75M187.3 20.1h0.75M182.4 28.2h0.75M171.6 19.4h0.75M164.0 31.6h0.75M170.2 20.2h0.75M176.5 42.4h0.75M176.8 16.6h0.75M169.3 29.5h0.75M183.1 19.4h0.75M176.3 20.6h0.75M186.7 31.0h0.75M174.0 25.7h0.75M161.1 26.9h0.75M180.3 33.8h0.75M174.9 35.5h0.75M169.0 25.4h0.75M166.0 23.2h0.75M166.4 35.9h0.75M162.6 33.7h0.75M187.9 21.9h0.75M178.9 46.1h0.75M176.8 27.4h0.75M187.0 25.8h0.75M174.2 29.6h0.75M174.4 17.2h0.75M160.3 46.1h0.75M172.0 33.4h0.75M175.0 20.7h0.75M188.4 30.8h0.75M155.9 25.4h0.75M193.7 48.3h0.75M164.9 35.6h0.75M181.6 20.4h0.75M185.2 24.3h0.75M170.9 14.9h0.75M165.4 30.1h0.75M179.5 46.0h0.75M178.8 19.7h0.75M177.9 43.0h0.75M172.5 43.8h0.75M168.8 39.6h0.75M166.1 40.3h0.75M172.2 42.2h0.75M176.0 49.5h0.75M168.2 44.1h0.75M179.5 37.8h0.75M171.0 43.9h0.75M182.9 45.5h0.75M169.5 42.7h0.75M168.0 47.5h0.75M167.2 47.1h0.75M171.7 50.0h0.75M159.9 50.8h0.75M171.9 50.7h0.75M170.0 45.0h0.75M166.9 46.5h0.75M175.0 43.2h0.75M174.3 43.6h0.75M172.8 45.1h0.75M169.7 57.0h0.75M171.9 42.6h0.75M167.0 47.8h0.75M166.0 49.7h0.75M169.4 50.5h0.75M166.1 46.1h0.75M165.3 47.7h0.75M162.8 38.2h0.75M173.0 34.6h0.75M170.5 35.8h0.75M170.2 43.6h0.75M174.8 41.5h0.75M164.3 39.5h0.75M170.4 45.7h0.75M168.2 52.0h0.75M169.0 43.3h0.75M167.7 40.4h0.75M173.6 48.6h0.75M156.7 47.8h0.75M162.5 39.7h0.75M173.8 47.2h0.75M170.6 50.7h0.75M173.8 38.5h0.75M173.0 41.7h0.75M160.5 39.8h0.75M172.1 46.5h0.75M166.5 54.7h0.75M168.1 54.7h0.75M166.1 51.1h0.75M178.4 45.7h0.75M177.1 39.1h0.75M169.9 49.6h0.75M170.9 43.3h0.75M170.2 47.0h0.75M170.3 55.1h0.75M174.9 37.3h0.75M172.1 48.3h0.75M167.4 54.2h0.75M171.9 43.6h0.75M175.7 51.5h0.75M171.2 46.8h0.75M165.3 42.9h0.75M169.3 51.1h0.75M170.5 49.7h0.75M174.0 43.3h0.75M171.8 44.5h0.75M167.9 34.9h0.75M170.6 54.5h0.75M177.7 42.7h0.75M173.2 56.2h0.75M165.9 46.8h0.75M177.0 48.4h0.75M176.3 43.6h0.75M166.9 49.6h0.75M169.1 45.7h0.75M172.5 39.7h0.75M176.6 46.8h0.75M172.2 40.2h0.75M174.4 44.7h0.75M167.7 38.6h0.75M175.5 40.8h0.75M164.3 46.9h0.75M165.6 50.3h0.75M170.2 34.3h0.75M176.5 46.2h0.75M173.8 47.7h0.75M162.1 44.8h0.75M172.0 54.0h0.75M176.1 49.9h0.75M169.5 45.4h0.75M163.7 47.5h0.75M172.4 48.2h0.75M165.2 51.3h0.75M168.6 41.3h0.75M166.9 42.2h0.75M155.7 52.6h0.75M171.0 47.3h0.75M166.0 44.9h0.75M169.8 45.7h0.75M164.1 42.2h0.75M162.6 41.2h0.75M175.1 47.1h0.75M162.5 51.7h0.75M165.3 39.9h0.75M170.6 40.7h0.75M174.8 49.4h0.75M175.1 45.1h0.75M174.0 45.6h0.75M168.8 46.5h0.75M170.5 48.9h0.75M170.5 40.1h0.75M162.5 45.0h0.75M171.2 48.1h0.75M180.8 43.7h0.75M170.9 46.3h0.75M166.6 45.6h0.75M177.0 42.2h0.75M169.8 51.3h0.75" stroke="#000" stroke-width="0.75"/>
<rect x="29.3" y="67.4" width="47.9" height="46.9" fill="#fff" stroke="#999" stroke-width=".6"/>
<path d="M52.8 67.4V114.3M29.3 90.8H77.2" stroke="#bbb" stroke-width=".5"/>
<text x="30.6" y="70.6" font-size="3.1" fill="#555">9.86</text>
<text x="75.9" y="70.6" font-size="3.1" fill="#555" text-anchor="end">3.22</text>
<text x="30.6" y="113.3" font-size="3.1" fill="#555">75</text>
<text x="75.9" y="113.3" font-size="3.1" fill="#555" text-anchor="end">12</text>
<text x="28.1" y="115.2" font-size="3.2" text-anchor="end" fill="#444" transform="rotate(-15 28.1 115.2)">10<tspan font-size="2.1" dy="-1.2">0</tspan></text>
<text x="28.1" y="103.5" font-size="3.2" text-anchor="end" fill="#444" transform="rotate(-15 28.1 103.5)">10<tspan font-size="2.1" dy="-1.2">1</tspan></text>
<text x="28.1" y="91.8" font-size="3.2" text-anchor="end" fill="#444" transform="rotate(-15 28.1 91.8)">10<tspan font-size="2.1" dy="-1.2">2</tspan></text>
<text x="28.1" y="80.0" font-size="3.2" text-anchor="end" fill="#444" transform="rotate(-15 28.1 80.0)">10<tspan font-size="2.1" dy="-1.2">3</tspan></text>
<text x="28.1" y="68.3" font-size="3.2" text-anchor="end" fill="#444" transform="rotate(-15 28.1 68.3)">10<tspan font-size="2.1" dy="-1.2">4</tspan></text>
<text x="29.8" y="119.2" font-size="3.2" text-anchor="middle" fill="#444" transform="rotate(-15 29.8 119.2)">10<tspan font-size="2.1" dy="-1.2">0</tspan></text>
<text x="41.8" y="119.2" font-size="3.2" text-anchor="middle" fill="#444" transform="rotate(-15 41.8 119.2)">10<tspan font-size="2.1" dy="-1.2">1</tspan></text>
<text x="53.8" y="119.2" font-size="3.2" text-anchor="middle" fill="#444" transform="rotate(-15 53.8 119.2)">10<tspan font-size="2.1" dy="-1.2">2</tspan></text>
<text x="65.7" y="119.2" font-size="3.2" text-anchor="middle" fill="#444" transform="rotate(-15 65.7 119.2)">10<tspan font-size="2.1" dy="-1.2">3</tspan></text>
<text x="77.7" y="119.2" font-size="3.2" text-anchor="middle" fill="#444" transform="rotate(-15 77.7 119.2)">10<tspan font-size="2.1" dy="-1.2">4</tspan></text>
<clipPath id="k4"><rect x="29.7" y="67.8" width="47.1" height="46.1"/></clipPath><g clip-path="url(#k4)"><path d="M32.4 108L33.6 101.2L39.3 89.8L43.8 84.1L49.5 81.8L56.4 81.8L62.1 84.1L63.2 92.1L59.8 100.1L54.1 107L49.5 111.5L40.4 113.8L33 113.8Z" filter="url(#b15)" fill-opacity="0.9"/></g><path d="M33.1 113.0h0.75M54.8 96.1h0.75M57.4 78.2h0.75M42.9 81.0h0.75M41.0 94.8h0.75M42.9 84.7h0.75M60.1 95.5h0.75M43.0 90.1h0.75M38.7 109.4h0.75M48.8 89.6h0.75M48.6 104.1h0.75M41.0 107.3h0.75M44.9 107.2h0.75M53.3 86.2h0.75M56.7 85.3h0.75M34.8 97.0h0.75M40.2 87.2h0.75M44.1 106.3h0.75M53.1 79.4h0.75M59.1 100.4h0.75M36.0 104.3h0.75M43.5 90.7h0.75M59.0 91.2h0.75M61.7 93.2h0.75M53.6 86.9h0.75M49.5 87.0h0.75M38.4 110.9h0.75M36.7 98.0h0.75M52.8 81.7h0.75M30.3 100.8h0.75M50.6 89.5h0.75M41.6 100.6h0.75M43.2 95.1h0.75M50.2 93.3h0.75M59.1 85.0h0.75M46.7 107.4h0.75M50.5 87.1h0.75M57.9 104.2h0.75M46.2 101.1h0.75M48.8 87.2h0.75M48.8 110.3h0.75M46.3 95.2h0.75M60.9 88.7h0.75M34.1 108.1h0.75M48.1 111.8h0.75M57.8 93.8h0.75M56.1 95.7h0.75M46.6 103.1h0.75M36.1 102.9h0.75M51.8 111.6h0.75M53.8 90.4h0.75M52.0 89.4h0.75M37.5 89.1h0.75M39.2 105.3h0.75M51.0 111.5h0.75M52.0 84.5h0.75M53.7 87.9h0.75M48.1 91.5h0.75M51.9 85.6h0.75M54.9 86.9h0.75M52.1 88.3h0.75M44.6 111.7h0.75M42.1 109.5h0.75M32.5 108.1h0.75M61.0 92.1h0.75M44.4 104.7h0.75M54.6 106.0h0.75M54.6 90.6h0.75M55.9 82.4h0.75M51.7 98.6h0.75M48.2 100.6h0.75M36.4 98.5h0.75M63.6 100.0h0.75M35.6 103.4h0.75M43.3 99.9h0.75M36.1 112.8h0.75M46.6 97.1h0.75M53.2 102.7h0.75M58.7 86.9h0.75M60.9 78.6h0.75M59.1 86.1h0.75M48.7 109.0h0.75M40.7 85.4h0.75M53.2 106.2h0.75M43.7 101.2h0.75M55.6 101.2h0.75M49.1 86.1h0.75M42.4 94.2h0.75M45.8 93.4h0.75M56.0 83.8h0.75M38.2 94.4h0.75M47.5 86.2h0.75M50.7 84.8h0.75M34.4 110.4h0.75M57.0 92.8h0.75M52.6 91.5h0.75M47.2 93.6h0.75M44.3 106.2h0.75M53.8 83.2h0.75M53.4 83.4h0.75M59.1 99.6h0.75M38.8 106.9h0.75M51.1 90.8h0.75M42.4 106.0h0.75M43.6 84.3h0.75M53.0 95.9h0.75M61.9 90.1h0.75M53.8 105.4h0.75M48.5 110.4h0.75M54.8 88.5h0.75M52.9 80.6h0.75M52.4 87.1h0.75M42.4 108.8h0.75M39.7 106.7h0.75M39.1 106.1h0.75M44.9 104.9h0.75M51.6 82.2h0.75M39.2 107.6h0.75M39.5 105.1h0.75M42.3 88.0h0.75M49.0 94.9h0.75M45.3 91.6h0.75M40.0 96.9h0.75M53.9 84.5h0.75M38.7 103.2h0.75M35.7 101.3h0.75M51.1 84.4h0.75M59.2 97.8h0.75M56.7 89.1h0.75M60.7 83.0h0.75M49.7 108.8h0.75M30.2 102.7h0.75M35.7 100.1h0.75M48.6 89.9h0.75M40.5 111.2h0.75M46.3 92.7h0.75M55.6 105.8h0.75M45.3 83.8h0.75M34.7 104.7h0.75M41.3 107.1h0.75M51.6 91.3h0.75M37.3 103.0h0.75M46.4 108.3h0.75M47.0 111.7h0.75M41.0 104.2h0.75M40.8 91.8h0.75M53.6 98.3h0.75M40.5 96.0h0.75M43.6 111.4h0.75M50.4 107.5h0.75M53.4 79.1h0.75M47.9 103.5h0.75M52.3 95.9h0.75M49.8 108.9h0.75M37.2 102.0h0.75M62.6 81.5h0.75M60.2 89.6h0.75M43.3 98.2h0.75M42.2 105.9h0.75M48.3 101.9h0.75M58.7 83.0h0.75M61.4 81.4h0.75M57.1 85.4h0.75M59.3 96.6h0.75M40.7 91.8h0.75M50.9 106.7h0.75M44.7 104.0h0.75M59.6 99.4h0.75M41.6 94.6h0.75M39.8 110.0h0.75M60.5 101.8h0.75M44.6 96.7h0.75M60.1 93.7h0.75M42.9 89.5h0.75M45.5 110.6h0.75M37.8 108.1h0.75M56.0 90.0h0.75M38.0 106.1h0.75M49.8 107.3h0.75M59.3 86.2h0.75M57.0 94.2h0.75M51.3 81.4h0.75M57.7 100.2h0.75M46.2 89.7h0.75M55.5 86.6h0.75M40.7 112.0h0.75M44.2 85.3h0.75M50.1 95.2h0.75M39.1 94.4h0.75M46.3 100.3h0.75M33.2 104.9h0.75M37.8 109.6h0.75M50.3 82.2h0.75M43.0 91.3h0.75M37.4 112.2h0.75M49.6 101.2h0.75M43.0 100.3h0.75M35.5 110.1h0.75M35.7 112.7h0.75M47.2 94.8h0.75M58.7 102.2h0.75M38.2 112.1h0.75M45.4 97.6h0.75M43.4 93.6h0.75M58.1 105.1h0.75M44.5 81.7h0.75M48.9 80.3h0.75M53.7 88.5h0.75M52.9 97.0h0.75M35.5 105.2h0.75M64.1 92.4h0.75M38.2 98.9h0.75M44.9 86.2h0.75M50.8 106.8h0.75M41.6 87.7h0.75M45.2 88.9h0.75M60.5 97.2h0.75M42.5 96.4h0.75M48.2 81.7h0.75M47.4 105.8h0.75M52.1 83.3h0.75M52.0 103.4h0.75M50.6 97.0h0.75M57.2 93.7h0.75M42.1 95.2h0.75M44.0 103.9h0.75M54.6 97.4h0.75M60.9 89.2h0.75M52.3 97.9h0.75M45.0 104.7h0.75M34.5 108.5h0.75M41.0 95.3h0.75M39.1 99.9h0.75M44.1 105.4h0.75M62.3 100.0h0.75M51.1 95.8h0.75M39.6 104.1h0.75M46.7 111.1h0.75M41.4 95.6h0.75M30.4 103.3h0.75M54.0 98.1h0.75M56.5 87.4h0.75M37.3 103.8h0.75M49.4 89.2h0.75M42.3 104.4h0.75M58.0 86.6h0.75M53.0 101.7h0.75M59.7 86.4h0.75M48.3 82.5h0.75M57.5 99.6h0.75M63.9 84.8h0.75M60.0 87.9h0.75M40.1 89.8h0.75M46.6 99.3h0.75M34.9 113.5h0.75M55.7 108.9h0.75M38.1 105.3h0.75M50.5 91.5h0.75M40.6 89.0h0.75M46.6 101.6h0.75M42.5 113.0h0.75M31.8 107.7h0.75M48.5 107.6h0.75M57.8 97.1h0.75M40.2 99.0h0.75M60.6 88.2h0.75M40.8 109.7h0.75M40.3 96.5h0.75M43.0 95.8h0.75M53.7 82.3h0.75M44.8 111.3h0.75M52.8 91.3h0.75M34.2 111.0h0.75M57.7 103.1h0.75M56.9 95.3h0.75M57.9 87.9h0.75M30.1 111.7h0.75M41.0 108.4h0.75M55.7 88.2h0.75M38.0 106.6h0.75M52.2 106.9h0.75M43.9 87.5h0.75M56.8 83.7h0.75M50.6 95.7h0.75M47.6 91.9h0.75M63.0 93.2h0.75M37.0 91.7h0.75M49.5 98.7h0.75M40.2 109.3h0.75M51.9 100.4h0.75M37.3 112.3h0.75M31.8 106.3h0.75M47.7 90.6h0.75M53.0 93.3h0.75M56.2 89.2h0.75M55.3 93.3h0.75M32.8 110.1h0.75M42.8 95.4h0.75M36.0 105.6h0.75M42.2 107.5h0.75M44.3 108.6h0.75M36.8 108.4h0.75M54.6 95.6h0.75M50.0 101.5h0.75M41.0 108.9h0.75M61.0 91.3h0.75M43.5 88.6h0.75M62.3 94.2h0.75M47.1 104.1h0.75M63.4 87.3h0.75M33.0 106.5h0.75M38.7 93.5h0.75M57.5 96.4h0.75M48.9 103.6h0.75M32.7 111.2h0.75M43.7 98.8h0.75M43.9 101.9h0.75M42.3 90.2h0.75M42.3 98.9h0.75M39.6 103.0h0.75M44.1 100.1h0.75M45.4 106.3h0.75M48.0 100.8h0.75M47.5 105.7h0.75M56.7 91.6h0.75M48.5 96.0h0.75M57.3 94.5h0.75M36.9 95.7h0.75M49.7 85.9h0.75M44.5 84.3h0.75M60.2 99.7h0.75M54.2 82.4h0.75M51.4 109.1h0.75M42.6 110.5h0.75M56.4 84.6h0.75M40.6 103.5h0.75M45.1 110.5h0.75M38.2 101.7h0.75M35.3 101.1h0.75M33.3 109.4h0.75M60.2 91.4h0.75M51.8 91.2h0.75M35.6 103.9h0.75M44.6 98.8h0.75M52.5 81.9h0.75M50.2 85.9h0.75M45.9 95.1h0.75M49.7 87.6h0.75M31.1 102.4h0.75M62.1 94.4h0.75M43.5 102.4h0.75M36.3 101.1h0.75M45.6 106.8h0.75M37.1 110.0h0.75M65.7 98.4h0.75M51.3 104.1h0.75M35.2 99.7h0.75M57.1 86.3h0.75M46.9 108.5h0.75M45.0 85.1h0.75M65.3 88.9h0.75M36.7 96.6h0.75M36.1 95.5h0.75M59.6 95.5h0.75M60.3 95.1h0.75M51.3 88.0h0.75M57.0 105.5h0.75M53.8 89.1h0.75M43.6 110.3h0.75M53.7 91.6h0.75M56.2 85.3h0.75M43.4 93.8h0.75M37.9 111.7h0.75M43.8 88.3h0.75M48.0 98.5h0.75M47.4 109.7h0.75M58.2 108.3h0.75M54.1 86.0h0.75M45.3 111.6h0.75M36.8 100.3h0.75M40.1 93.3h0.75M58.0 85.2h0.75M53.6 100.4h0.75M37.2 93.6h0.75M36.9 107.9h0.75M47.2 94.1h0.75M61.0 87.4h0.75M58.6 84.5h0.75M59.0 92.9h0.75M56.9 91.9h0.75M55.0 94.4h0.75M42.2 106.4h0.75M59.5 87.1h0.75M60.3 93.9h0.75M49.6 90.3h0.75M42.7 84.1h0.75M49.6 84.1h0.75M58.4 91.8h0.75M55.5 92.8h0.75M50.3 105.4h0.75M61.3 97.7h0.75M42.4 104.9h0.75M54.1 97.0h0.75M46.9 95.7h0.75M38.6 99.1h0.75M52.9 90.0h0.75M47.1 94.3h0.75M36.3 106.2h0.75M49.5 108.4h0.75M53.0 96.5h0.75M61.3 96.0h0.75M55.9 86.9h0.75M45.6 92.7h0.75M55.4 99.9h0.75M57.9 84.4h0.75M61.0 94.0h0.75M52.6 87.3h0.75M61.4 92.2h0.75M55.0 93.4h0.75M62.2 91.5h0.75M52.5 86.4h0.75M43.1 96.5h0.75M42.6 93.1h0.75M37.9 102.0h0.75M53.0 88.7h0.75M42.9 110.2h0.75M54.8 96.6h0.75M48.9 104.4h0.75M49.7 94.6h0.75M42.2 94.0h0.75M41.6 106.0h0.75M32.5 103.1h0.75M60.2 85.4h0.75M55.8 96.9h0.75M48.0 91.8h0.75M57.3 95.4h0.75M56.4 79.5h0.75M66.7 98.2h0.75M40.9 107.9h0.75M62.6 85.6h0.75M56.8 82.5h0.75M46.5 110.3h0.75M37.2 92.8h0.75M39.7 97.3h0.75M38.8 102.1h0.75M45.5 111.1h0.75M62.3 97.7h0.75M57.6 101.0h0.75M60.4 98.5h0.75M47.8 101.7h0.75M54.5 93.9h0.75M44.2 94.7h0.75M47.0 92.3h0.75M50.4 99.7h0.75M42.5 98.4h0.75M43.9 93.6h0.75M39.8 100.0h0.75M33.9 112.9h0.75M43.8 98.0h0.75M45.7 105.1h0.75M42.2 96.0h0.75M51.2 99.5h0.75M44.3 100.2h0.75M56.5 98.9h0.75M36.6 104.1h0.75M52.6 84.0h0.75M57.1 91.4h0.75M46.5 99.1h0.75M39.3 113.1h0.75M41.3 93.9h0.75M35.5 94.2h0.75M42.6 82.9h0.75M54.1 94.2h0.75M44.5 101.8h0.75M58.4 89.3h0.75M35.8 99.2h0.75M60.1 90.8h0.75M56.0 105.3h0.75M53.9 93.2h0.75M52.1 101.4h0.75M42.3 92.5h0.75M39.0 101.1h0.75M48.7 104.5h0.75M52.6 103.3h0.75M44.2 109.0h0.75M55.9 94.4h0.75M41.5 104.0h0.75M34.6 113.1h0.75M59.7 80.8h0.75M49.8 99.5h0.75M42.5 93.5h0.75M64.0 82.4h0.75M60.1 93.9h0.75M46.9 100.5h0.75M56.2 92.5h0.75M38.0 107.2h0.75M52.3 113.4h0.75M42.1 82.2h0.75M54.1 87.7h0.75M49.3 90.2h0.75M33.7 105.0h0.75M47.4 100.0h0.75M46.5 86.8h0.75M31.7 111.1h0.75M51.0 96.9h0.75M33.6 111.9h0.75M54.1 92.7h0.75M36.4 107.3h0.75M64.2 83.0h0.75M41.3 86.9h0.75M44.3 110.0h0.75M43.8 92.6h0.75M44.7 111.8h0.75M37.5 91.7h0.75M60.4 102.8h0.75M48.2 97.8h0.75M49.8 92.5h0.75M53.9 90.8h0.75M37.8 95.8h0.75M39.4 112.4h0.75M43.5 95.2h0.75M50.6 105.9h0.75M55.4 96.9h0.75M46.5 102.6h0.75M48.1 86.4h0.75M39.9 104.0h0.75M58.4 106.6h0.75M32.9 95.2h0.75M55.3 80.0h0.75M32.8 98.2h0.75M59.7 90.8h0.75M59.2 96.2h0.75M43.7 106.9h0.75M35.5 91.7h0.75M46.5 89.0h0.75M50.5 102.0h0.75M48.2 82.2h0.75M46.4 102.2h0.75M47.0 96.7h0.75M37.9 109.9h0.75M37.0 94.7h0.75M53.6 80.7h0.75M39.6 96.3h0.75M42.4 82.2h0.75M38.5 101.2h0.75M61.7 91.0h0.75M49.9 81.5h0.75M52.8 89.5h0.75M32.1 111.5h0.75M43.0 110.3h0.75M47.0 97.1h0.75M59.5 85.4h0.75M37.4 99.3h0.75M41.8 95.3h0.75M48.8 85.6h0.75M46.9 100.1h0.75M41.2 106.6h0.75M48.7 105.1h0.75M40.2 85.6h0.75M39.9 110.7h0.75M34.8 95.6h0.75M45.9 107.5h0.75M47.6 108.5h0.75M55.4 83.1h0.75M63.2 93.9h0.75M49.9 90.1h0.75M52.0 104.5h0.75M57.0 80.7h0.75M46.0 100.6h0.75M43.7 82.6h0.75M42.7 111.0h0.75M56.6 100.1h0.75M48.2 90.7h0.75M63.7 88.5h0.75M49.4 84.6h0.75M41.8 104.9h0.75M46.0 96.7h0.75M47.2 109.0h0.75M61.3 86.7h0.75M54.8 104.9h0.75M42.5 112.3h0.75M54.8 82.6h0.75M37.6 95.3h0.75M43.0 97.6h0.75M34.5 106.1h0.75M37.2 100.1h0.75M34.8 103.7h0.75M38.1 104.3h0.75M51.2 85.3h0.75M45.5 91.1h0.75M41.9 110.1h0.75M43.6 102.8h0.75M53.4 105.5h0.75M51.2 101.0h0.75M52.6 88.6h0.75M35.3 109.5h0.75M40.2 112.1h0.75M52.5 98.8h0.75M46.8 107.5h0.75M59.2 88.2h0.75M66.7 92.1h0.75M41.5 113.1h0.75M49.7 80.2h0.75M54.3 101.4h0.75M44.0 79.4h0.75M36.4 96.8h0.75M35.1 109.4h0.75M48.4 86.9h0.75M61.3 90.4h0.75M37.8 107.7h0.75M35.8 107.2h0.75M64.7 83.0h0.75M43.0 105.9h0.75M41.4 102.0h0.75M44.0 110.2h0.75M40.5 100.9h0.75M55.5 82.7h0.75M53.7 100.9h0.75M35.6 97.9h0.75M43.4 98.5h0.75M44.0 101.1h0.75M47.6 101.0h0.75M61.8 98.3h0.75M50.6 109.2h0.75M56.5 82.8h0.75M48.9 103.0h0.75M53.4 104.9h0.75M50.1 107.1h0.75M46.6 91.7h0.75M54.6 98.8h0.75M39.0 104.5h0.75M46.4 90.8h0.75M65.7 100.8h0.75M50.2 103.1h0.75M48.7 84.2h0.75M38.7 90.2h0.75M53.8 81.1h0.75M58.2 86.9h0.75M56.8 95.2h0.75M34.9 101.8h0.75M32.5 97.3h0.75M44.1 96.0h0.75M54.4 85.0h0.75M37.7 102.2h0.75M47.9 93.9h0.75M58.1 101.9h0.75M59.4 97.4h0.75M48.1 94.9h0.75M44.1 107.5h0.75M44.6 101.7h0.75M40.8 99.9h0.75M44.4 91.1h0.75M59.8 101.6h0.75M55.3 103.0h0.75M60.9 95.6h0.75M46.6 104.2h0.75M36.6 112.5h0.75M39.4 102.0h0.75M48.2 90.8h0.75M58.7 88.1h0.75M33.2 110.4h0.75M40.4 102.1h0.75M56.0 100.2h0.75M55.2 104.4h0.75M56.3 98.1h0.75M37.9 105.2h0.75M36.5 111.3h0.75M51.6 80.7h0.75M55.1 89.1h0.75M58.0 80.6h0.75M45.9 92.1h0.75M47.1 103.5h0.75M42.1 97.6h0.75M52.8 98.5h0.75M47.7 104.1h0.75M47.0 90.7h0.75M50.6 81.7h0.75M35.9 113.5h0.75M50.2 90.7h0.75M55.4 84.8h0.75M39.1 97.1h0.75M34.1 108.7h0.75M48.6 83.7h0.75M53.2 92.8h0.75M42.5 103.0h0.75M51.1 94.5h0.75M55.8 83.0h0.75M58.6 93.9h0.75M52.7 101.8h0.75M42.9 109.7h0.75M54.7 86.9h0.75M60.7 97.6h0.75M51.8 98.8h0.75M38.6 94.1h0.75M58.7 87.6h0.75M44.8 103.4h0.75M54.4 82.7h0.75M43.7 105.2h0.75M38.7 96.6h0.75M47.3 97.7h0.75M45.1 97.7h0.75M48.8 111.0h0.75M37.4 87.3h0.75M61.1 97.3h0.75M37.4 106.8h0.75M50.4 103.8h0.75M39.6 108.5h0.75M56.3 108.3h0.75M38.3 110.5h0.75M56.8 99.1h0.75M37.2 90.0h0.75M43.0 97.0h0.75M52.3 93.1h0.75M48.7 82.1h0.75M35.4 92.2h0.75M34.7 113.4h0.75M50.8 102.9h0.75M59.3 82.2h0.75M44.6 106.9h0.75M34.2 101.1h0.75M50.8 86.0h0.75M37.1 112.2h0.75M39.7 105.9h0.75M49.2 81.4h0.75M53.9 83.7h0.75M60.8 90.1h0.75M47.7 93.1h0.75M45.3 82.6h0.75M53.8 102.5h0.75M53.6 99.6h0.75M44.6 98.5h0.75M53.1 89.0h0.75M43.5 109.5h0.75M55.1 93.0h0.75M50.7 94.3h0.75M46.8 97.6h0.75M46.5 105.9h0.75M34.2 109.0h0.75M33.6 105.8h0.75M53.8 96.4h0.75M51.9 91.8h0.75M37.5 93.3h0.75M44.2 98.6h0.75M59.8 98.5h0.75M39.7 99.6h0.75M41.0 105.2h0.75M44.9 82.4h0.75M42.6 98.2h0.75M49.5 110.1h0.75M55.4 95.9h0.75M37.3 102.3h0.75M58.6 98.1h0.75M40.9 93.3h0.75M51.9 87.2h0.75M49.3 102.4h0.75M39.9 106.1h0.75M49.1 92.5h0.75M39.0 102.5h0.75M42.5 110.1h0.75M56.5 94.9h0.75M62.7 91.2h0.75M52.1 94.1h0.75M44.5 105.3h0.75M48.4 100.1h0.75M31.3 105.0h0.75M32.9 105.3h0.75M45.0 99.9h0.75M55.5 89.5h0.75M61.3 91.7h0.75M38.7 103.6h0.75M48.0 94.3h0.75M51.5 86.5h0.75M39.5 96.2h0.75M30.7 111.6h0.75M44.2 95.4h0.75M64.6 77.6h0.75M45.3 106.1h0.75M42.6 105.6h0.75M48.5 85.2h0.75M38.6 109.9h0.75M59.5 99.0h0.75M52.5 103.1h0.75M48.3 99.4h0.75M49.7 92.9h0.75M55.9 103.3h0.75M52.3 91.2h0.75M47.1 98.8h0.75M41.1 107.1h0.75M45.6 89.6h0.75M44.8 112.9h0.75M53.5 102.6h0.75M39.5 83.6h0.75M51.8 113.4h0.75M39.6 96.8h0.75M48.6 90.5h0.75M47.7 94.7h0.75M57.2 111.1h0.75M54.8 82.1h0.75M40.8 112.8h0.75M39.1 109.6h0.75M47.8 99.8h0.75M41.9 111.2h0.75M52.1 91.5h0.75M42.6 100.4h0.75M62.2 87.2h0.75M52.7 109.7h0.75M55.7 87.4h0.75M48.6 76.1h0.75M58.3 79.4h0.75M43.4 77.9h0.75M62.4 99.7h0.75M61.2 84.8h0.75M39.8 93.9h0.75M41.4 82.9h0.75M68.5 91.9h0.75M49.6 88.4h0.75M67.8 79.6h0.75M38.4 107.7h0.75M40.0 102.2h0.75M65.6 90.7h0.75M49.9 93.1h0.75M42.9 103.1h0.75M67.4 94.2h0.75M48.1 108.1h0.75M49.8 101.0h0.75M50.6 97.8h0.75M68.3 91.0h0.75M48.4 92.4h0.75M53.5 94.6h0.75M37.6 95.1h0.75M57.7 89.5h0.75M36.2 98.5h0.75M54.7 100.7h0.75M46.8 110.9h0.75M65.7 83.4h0.75M49.1 75.0h0.75M45.0 103.1h0.75M38.5 111.3h0.75M49.8 105.5h0.75M53.6 104.3h0.75M59.7 100.1h0.75M37.8 97.1h0.75M58.3 96.0h0.75M64.6 100.0h0.75M49.3 109.3h0.75M40.6 86.9h0.75M50.3 98.6h0.75M41.4 93.6h0.75M61.0 81.1h0.75M61.9 102.6h0.75M64.1 105.1h0.75M46.9 81.7h0.75M45.2 100.5h0.75M54.9 85.4h0.75M38.5 98.2h0.75M51.6 79.4h0.75M56.4 96.5h0.75M48.2 93.2h0.75M53.2 103.7h0.75M44.9 113.3h0.75M36.7 110.6h0.75M53.4 91.8h0.75M44.7 94.0h0.75M34.7 102.1h0.75M57.9 102.3h0.75M55.5 91.8h0.75M41.7 108.2h0.75M57.4 98.9h0.75M37.6 98.8h0.75M38.7 100.1h0.75M37.2 104.8h0.75M62.8 97.9h0.75M53.9 96.0h0.75M31.3 108.7h0.75M52.3 83.6h0.75M64.8 93.0h0.75M56.9 89.5h0.75M49.5 81.0h0.75M50.4 109.9h0.75M53.2 78.1h0.75M59.4 84.4h0.75M52.5 92.1h0.75M52.7 105.7h0.75M37.7 97.7h0.75M34.9 100.7h0.75M48.4 105.9h0.75M33.1 75.9h0.75M41.9 99.6h0.75M45.1 108.3h0.75M45.2 99.4h0.75M51.5 93.8h0.75M47.7 84.7h0.75M48.1 97.2h0.75M49.7 110.4h0.75M39.1 108.4h0.75M53.0 95.5h0.75M40.4 91.7h0.75M36.4 108.9h0.75M65.7 75.3h0.75M33.9 95.6h0.75M48.2 88.5h0.75M37.9 89.9h0.75M62.0 96.8h0.75M45.0 106.4h0.75M45.9 110.9h0.75M63.4 93.0h0.75M54.0 110.2h0.75M57.7 90.5h0.75M38.3 85.5h0.75M44.9 99.1h0.75M50.2 98.2h0.75M44.2 98.8h0.75M50.9 98.0h0.75M55.9 101.7h0.75M52.3 85.5h0.75M46.1 90.8h0.75M51.9 97.1h0.75M35.3 113.7h0.75M34.7 99.2h0.75M43.1 83.0h0.75M51.1 86.4h0.75M58.6 90.5h0.75M59.7 88.8h0.75M44.3 88.3h0.75M53.6 92.4h0.75M37.3 101.2h0.75M42.8 108.1h0.75M42.1 89.1h0.75M46.8 101.4h0.75M48.8 101.1h0.75M50.5 96.3h0.75M35.5 94.7h0.75M32.1 110.0h0.75M40.2 101.4h0.75M53.4 109.0h0.75M47.4 102.4h0.75M58.4 92.4h0.75M41.4 94.9h0.75M47.9 96.7h0.75M56.3 85.0h0.75M51.9 82.3h0.75M49.8 108.2h0.75M54.6 112.1h0.75M51.7 103.3h0.75M39.4 90.2h0.75M41.2 104.5h0.75M51.4 89.4h0.75M58.4 98.9h0.75M68.5 88.6h0.75M63.9 90.8h0.75M49.4 96.4h0.75M45.4 81.3h0.75M39.1 110.3h0.75M42.1 86.4h0.75M46.5 98.1h0.75M43.3 86.4h0.75M60.7 86.2h0.75M40.9 110.2h0.75M57.0 75.6h0.75M52.9 99.6h0.75M70.5 89.1h0.75M33.9 95.8h0.75M33.1 110.8h0.75M43.1 104.5h0.75M64.5 95.2h0.75M49.7 91.6h0.75M60.9 91.1h0.75M39.2 85.0h0.75M52.5 88.9h0.75M50.8 109.0h0.75M68.4 93.4h0.75M49.4 107.8h0.75M50.0 87.0h0.75M43.9 94.2h0.75M54.9 90.1h0.75M56.8 103.2h0.75M40.8 112.7h0.75M40.7 100.5h0.75M58.3 108.1h0.75M46.6 107.2h0.75M61.4 85.2h0.75M66.5 89.3h0.75M35.2 106.8h0.75M35.1 104.5h0.75M50.8 105.2h0.75M36.6 113.6h0.75M49.7 86.4h0.75M47.1 98.7h0.75M43.2 105.0h0.75M49.7 97.1h0.75M45.6 109.2h0.75M41.1 101.8h0.75M46.3 92.0h0.75M41.7 112.5h0.75M40.4 98.4h0.75M41.9 82.3h0.75M41.8 89.4h0.75M37.5 107.8h0.75M50.0 96.8h0.75M67.1 104.0h0.75M46.2 104.9h0.75M70.1 76.5h0.75M43.4 112.6h0.75M59.2 91.6h0.75M62.8 84.9h0.75M43.5 95.3h0.75M56.3 87.2h0.75M54.5 88.7h0.75M32.6 101.4h0.75M33.8 105.2h0.75M45.3 102.6h0.75M55.4 90.6h0.75M39.0 95.9h0.75M32.2 91.3h0.75M46.1 98.0h0.75M51.3 85.2h0.75M67.4 82.6h0.75M67.7 102.1h0.75M43.5 103.9h0.75M41.5 112.2h0.75M44.6 97.2h0.75M41.3 92.0h0.75M42.4 96.2h0.75M64.7 97.5h0.75M60.2 78.3h0.75M53.6 92.9h0.75M53.6 106.9h0.75M31.2 91.0h0.75M38.8 81.5h0.75M49.5 99.7h0.75M43.4 83.6h0.75M30.8 95.6h0.75M54.5 98.2h0.75M36.6 92.1h0.75M44.3 101.1h0.75M47.6 73.0h0.75M39.4 101.0h0.75M37.4 104.6h0.75M46.6 110.1h0.75M33.7 87.6h0.75M56.8 97.8h0.75M50.6 83.7h0.75M71.0 100.1h0.75M58.6 94.7h0.75M62.3 95.6h0.75M42.2 75.9h0.75M36.8 98.4h0.75M63.4 80.8h0.75M34.8 79.9h0.75M49.8 94.5h0.75M56.1 88.2h0.75M62.2 79.6h0.75M53.7 101.6h0.75M54.4 77.3h0.75M60.2 88.7h0.75M60.7 84.1h0.75M41.3 85.3h0.75M47.2 113.0h0.75M64.3 93.2h0.75M49.6 78.7h0.75M57.8 99.2h0.75M63.5 90.0h0.75M36.7 104.3h0.75M31.5 90.0h0.75M71.4 94.1h0.75M67.8 105.0h0.75M55.2 108.1h0.75M40.5 112.4h0.75M61.3 94.1h0.75M46.7 90.1h0.75M54.9 95.3h0.75M56.4 101.1h0.75M45.5 97.8h0.75M44.4 103.5h0.75M53.3 110.9h0.75M64.4 106.4h0.75M49.4 104.5h0.75M49.4 85.5h0.75M62.5 101.1h0.75M50.1 101.9h0.75M62.2 98.1h0.75M58.5 80.0h0.75M64.3 89.0h0.75M55.6 105.6h0.75M63.7 83.9h0.75M40.9 91.4h0.75M65.6 91.9h0.75M35.1 108.9h0.75M52.3 100.0h0.75M64.4 105.3h0.75M63.6 105.9h0.75M57.0 106.8h0.75M57.6 113.0h0.75M63.5 100.7h0.75M64.5 102.6h0.75M55.9 110.6h0.75M61.6 102.4h0.75M61.1 100.5h0.75M62.0 105.6h0.75M60.5 103.3h0.75M60.3 99.8h0.75M62.4 105.2h0.75M57.3 100.3h0.75M58.7 105.7h0.75M53.6 109.8h0.75M57.8 103.0h0.75M65.5 103.6h0.75M58.2 106.1h0.75M66.8 104.5h0.75M61.1 111.1h0.75M52.8 109.5h0.75M65.5 101.7h0.75M63.7 98.7h0.75M67.1 102.8h0.75M59.7 107.4h0.75M65.6 100.1h0.75M59.4 108.5h0.75M56.3 111.8h0.75M59.5 97.2h0.75M53.6 107.7h0.75M64.0 101.9h0.75M57.6 98.7h0.75M62.0 106.6h0.75M52.7 109.8h0.75M64.3 99.7h0.75M62.5 95.0h0.75M62.9 94.7h0.75M61.3 111.2h0.75M62.1 107.6h0.75M63.6 102.1h0.75M61.5 98.8h0.75M61.1 102.2h0.75M55.6 103.4h0.75M58.7 112.7h0.75M63.4 96.0h0.75M50.6 112.0h0.75M68.1 99.2h0.75M62.9 99.2h0.75M54.4 108.9h0.75M66.4 103.8h0.75M51.4 111.7h0.75M58.2 111.1h0.75M60.2 108.8h0.75M62.6 110.5h0.75M66.7 101.2h0.75M58.4 109.5h0.75M62.6 104.5h0.75M59.4 101.9h0.75M52.2 109.6h0.75M61.0 99.0h0.75M51.5 112.3h0.75M61.8 100.3h0.75M65.1 98.2h0.75M58.2 109.5h0.75M56.4 102.6h0.75M65.9 98.7h0.75M54.7 106.9h0.75M54.4 111.1h0.75M55.0 110.7h0.75M52.8 107.0h0.75M53.9 106.9h0.75M59.0 111.1h0.75M55.6 97.6h0.75M62.7 96.0h0.75M55.2 100.2h0.75M59.1 112.9h0.75M61.7 99.8h0.75M58.6 97.3h0.75M64.8 96.9h0.75M57.4 109.0h0.75M56.7 110.7h0.75M56.1 110.9h0.75M59.0 110.7h0.75M52.0 112.4h0.75M64.2 95.3h0.75M59.7 95.8h0.75M63.5 95.0h0.75M53.5 112.7h0.75M60.0 96.3h0.75M57.8 99.6h0.75M53.0 106.6h0.75M65.5 106.1h0.75M56.7 107.6h0.75M59.9 105.5h0.75M69.7 100.2h0.75M58.0 111.3h0.75M61.4 107.0h0.75M61.7 109.7h0.75M61.8 101.1h0.75M61.3 102.2h0.75M56.1 107.6h0.75M57.6 102.3h0.75M67.3 96.7h0.75M64.4 97.8h0.75M48.8 108.6h0.75M64.7 95.6h0.75M63.8 108.9h0.75M61.2 99.8h0.75M60.8 105.9h0.75M61.3 97.0h0.75M60.9 103.9h0.75M64.2 109.3h0.75M53.8 112.0h0.75M58.7 111.8h0.75M67.1 99.8h0.75M65.1 105.6h0.75M57.8 101.7h0.75M64.3 98.6h0.75M60.5 106.1h0.75M60.8 93.3h0.75M56.7 103.0h0.75M62.9 100.8h0.75M52.5 106.9h0.75M58.8 101.6h0.75M56.2 108.2h0.75M55.6 112.6h0.75M63.2 109.0h0.75M56.9 112.2h0.75M58.4 102.8h0.75M58.0 100.9h0.75M57.5 101.7h0.75M60.8 95.9h0.75M61.7 108.9h0.75M69.1 103.5h0.75M53.8 106.1h0.75M62.0 110.8h0.75M57.8 99.9h0.75M60.9 96.3h0.75M61.4 103.9h0.75M57.2 96.0h0.75M61.9 99.0h0.75M50.2 111.5h0.75M62.0 92.4h0.75M65.1 104.2h0.75M52.0 108.1h0.75M59.9 111.5h0.75M62.3 104.1h0.75M58.8 110.0h0.75M52.8 112.6h0.75M64.9 102.9h0.75M66.8 107.4h0.75M60.6 110.2h0.75M49.6 113.5h0.75M67.3 109.9h0.75M57.9 112.2h0.75M64.2 108.2h0.75M52.9 108.1h0.75M61.6 98.1h0.75M63.5 110.6h0.75M65.3 104.7h0.75M64.9 100.1h0.75M61.0 112.0h0.75M58.0 109.8h0.75M58.5 107.6h0.75M57.0 104.5h0.75M60.2 102.8h0.75" stroke="#000" stroke-width="0.75"/>
<rect x="91.3" y="67.4" width="47.3" height="46.9" fill="#fff" stroke="#999" stroke-width=".6"/>
<path d="M114.5 67.4V114.3M91.3 90.8H138.6" stroke="#bbb" stroke-width=".5"/>
<text x="92.6" y="70.6" font-size="3.1" fill="#555">8.27</text>
<text x="137.3" y="70.6" font-size="3.1" fill="#555" text-anchor="end">4.28</text>
<text x="92.6" y="113.3" font-size="3.1" fill="#555">73.5</text>
<text x="137.3" y="113.3" font-size="3.1" fill="#555" text-anchor="end">13.7</text>
<text x="90.1" y="115.2" font-size="3.2" text-anchor="end" fill="#444" transform="rotate(-15 90.1 115.2)">10<tspan font-size="2.1" dy="-1.2">0</tspan></text>
<text x="90.1" y="103.5" font-size="3.2" text-anchor="end" fill="#444" transform="rotate(-15 90.1 103.5)">10<tspan font-size="2.1" dy="-1.2">1</tspan></text>
<text x="90.1" y="91.8" font-size="3.2" text-anchor="end" fill="#444" transform="rotate(-15 90.1 91.8)">10<tspan font-size="2.1" dy="-1.2">2</tspan></text>
<text x="90.1" y="80.0" font-size="3.2" text-anchor="end" fill="#444" transform="rotate(-15 90.1 80.0)">10<tspan font-size="2.1" dy="-1.2">3</tspan></text>
<text x="90.1" y="68.3" font-size="3.2" text-anchor="end" fill="#444" transform="rotate(-15 90.1 68.3)">10<tspan font-size="2.1" dy="-1.2">4</tspan></text>
<text x="91.8" y="119.2" font-size="3.2" text-anchor="middle" fill="#444" transform="rotate(-15 91.8 119.2)">10<tspan font-size="2.1" dy="-1.2">0</tspan></text>
<text x="103.6" y="119.2" font-size="3.2" text-anchor="middle" fill="#444" transform="rotate(-15 103.6 119.2)">10<tspan font-size="2.1" dy="-1.2">1</tspan></text>
<text x="115.4" y="119.2" font-size="3.2" text-anchor="middle" fill="#444" transform="rotate(-15 115.4 119.2)">10<tspan font-size="2.1" dy="-1.2">2</tspan></text>
<text x="127.3" y="119.2" font-size="3.2" text-anchor="middle" fill="#444" transform="rotate(-15 127.3 119.2)">10<tspan font-size="2.1" dy="-1.2">3</tspan></text>
<text x="139.1" y="119.2" font-size="3.2" text-anchor="middle" fill="#444" transform="rotate(-15 139.1 119.2)">10<tspan font-size="2.1" dy="-1.2">4</tspan></text>
<clipPath id="k5"><rect x="91.7" y="67.8" width="46.5" height="46.1"/></clipPath><g clip-path="url(#k5)"><path d="M94.4 109.2L95.6 101.2L102.4 89.8L108.1 84.1L116.1 81.8L123 80.7L126.4 83L125.2 93.3L120.7 101.2L113.8 108.1L108.1 112.1L97.8 113.5L94.4 113.5Z" filter="url(#b15)" fill-opacity="0.9"/></g><path d="M115.9 94.0h0.75M97.6 102.7h0.75M101.1 105.9h0.75M100.0 95.0h0.75M104.8 99.0h0.75M124.7 78.6h0.75M97.3 101.9h0.75M106.4 98.8h0.75M119.3 101.8h0.75M102.1 95.8h0.75M117.7 98.6h0.75M113.5 86.7h0.75M112.0 86.0h0.75M98.8 100.7h0.75M109.6 82.2h0.75M113.2 91.0h0.75M99.4 108.2h0.75M114.1 89.7h0.75M93.4 111.1h0.75M115.8 95.0h0.75M113.8 101.1h0.75M107.3 88.0h0.75M126.4 87.0h0.75M118.0 86.7h0.75M102.1 92.7h0.75M116.4 101.1h0.75M115.4 89.2h0.75M126.3 95.9h0.75M104.2 108.7h0.75M97.9 93.5h0.75M114.0 104.0h0.75M108.4 111.6h0.75M120.6 95.8h0.75M108.8 101.1h0.75M107.0 97.5h0.75M102.8 109.0h0.75M102.6 87.9h0.75M100.1 106.6h0.75M112.9 104.8h0.75M111.7 85.9h0.75M115.7 103.7h0.75M120.3 82.4h0.75M107.7 101.1h0.75M99.8 96.5h0.75M124.5 92.4h0.75M116.9 79.9h0.75M118.4 88.0h0.75M118.2 98.1h0.75M118.8 92.2h0.75M106.3 90.6h0.75M108.1 108.9h0.75M113.5 96.5h0.75M112.1 105.9h0.75M102.6 113.5h0.75M111.2 95.2h0.75M96.5 96.9h0.75M108.3 104.0h0.75M110.5 82.4h0.75M117.6 92.3h0.75M111.5 88.1h0.75M114.7 90.4h0.75M113.3 98.6h0.75M111.2 89.8h0.75M109.6 91.5h0.75M103.9 99.5h0.75M110.6 111.8h0.75M105.4 111.2h0.75M115.4 89.8h0.75M112.7 88.7h0.75M118.0 91.4h0.75M116.9 87.6h0.75M106.6 104.4h0.75M121.8 85.2h0.75M115.3 93.5h0.75M105.0 103.6h0.75M103.5 90.3h0.75M105.3 97.3h0.75M106.4 88.7h0.75M120.3 92.9h0.75M115.4 84.9h0.75M106.4 94.6h0.75M112.4 94.3h0.75M106.8 103.3h0.75M124.3 93.0h0.75M112.5 102.4h0.75M101.2 90.8h0.75M109.7 105.9h0.75M98.0 99.4h0.75M104.0 95.4h0.75M110.7 88.5h0.75M101.9 99.3h0.75M105.1 92.9h0.75M101.5 105.0h0.75M105.3 95.3h0.75M104.0 106.8h0.75M107.0 101.3h0.75M97.3 97.3h0.75M101.6 94.4h0.75M97.9 103.8h0.75M118.5 85.3h0.75M109.6 93.3h0.75M102.3 109.7h0.75M108.6 105.0h0.75M119.5 91.0h0.75M122.9 80.8h0.75M124.1 83.9h0.75M123.9 82.1h0.75M121.5 95.9h0.75M121.9 94.5h0.75M116.9 96.5h0.75M119.1 97.2h0.75M115.8 81.1h0.75M99.1 95.2h0.75M118.0 103.8h0.75M117.1 107.1h0.75M123.3 88.7h0.75M101.8 107.2h0.75M124.5 93.7h0.75M121.8 99.9h0.75M110.1 103.0h0.75M106.6 104.2h0.75M108.2 83.9h0.75M104.6 89.7h0.75M114.5 88.6h0.75M116.0 101.3h0.75M98.8 100.9h0.75M111.3 91.5h0.75M93.5 104.2h0.75M108.8 110.1h0.75M119.0 94.0h0.75M111.7 106.8h0.75M107.1 84.5h0.75M107.3 91.3h0.75M121.3 83.5h0.75M100.0 102.5h0.75M105.9 112.7h0.75M114.4 83.6h0.75M117.2 89.5h0.75M113.1 111.0h0.75M111.9 98.7h0.75M123.2 90.7h0.75M123.6 84.6h0.75M127.2 88.2h0.75M114.2 106.1h0.75M98.6 98.4h0.75M120.4 90.1h0.75M123.9 80.2h0.75M102.4 106.5h0.75M112.2 99.6h0.75M92.4 103.6h0.75M124.8 81.5h0.75M123.3 96.2h0.75M103.2 102.8h0.75M112.0 94.4h0.75M108.9 91.7h0.75M94.5 108.0h0.75M119.8 98.0h0.75M116.5 96.6h0.75M107.9 107.6h0.75M118.8 96.1h0.75M124.9 82.6h0.75M110.0 96.0h0.75M110.9 104.7h0.75M120.7 93.8h0.75M118.5 89.4h0.75M111.1 113.4h0.75M106.8 99.7h0.75M109.1 88.1h0.75M95.3 106.1h0.75M104.7 87.3h0.75M112.8 93.9h0.75M120.3 106.4h0.75M105.0 99.8h0.75M101.4 99.0h0.75M106.1 92.1h0.75M112.4 102.9h0.75M96.5 97.6h0.75M119.8 95.0h0.75M108.9 94.8h0.75M123.6 91.0h0.75M94.5 102.9h0.75M112.7 88.1h0.75M94.8 99.9h0.75M121.1 99.5h0.75M104.3 109.0h0.75M118.9 84.5h0.75M95.3 105.0h0.75M108.1 85.0h0.75M108.2 85.5h0.75M102.7 97.2h0.75M110.3 111.4h0.75M116.5 91.8h0.75M116.0 108.9h0.75M103.0 97.7h0.75M111.9 95.4h0.75M127.6 86.8h0.75M100.2 107.1h0.75M123.7 96.6h0.75M103.5 101.9h0.75M111.5 92.3h0.75M99.0 108.2h0.75M104.9 88.6h0.75M100.2 105.6h0.75M118.5 91.4h0.75M107.2 91.4h0.75M120.1 92.1h0.75M104.2 90.7h0.75M107.2 111.2h0.75M118.3 87.6h0.75M114.9 83.9h0.75M117.2 80.4h0.75M118.3 100.3h0.75M114.6 86.5h0.75M122.0 93.3h0.75M102.1 107.9h0.75M93.8 109.1h0.75M124.5 83.8h0.75M115.8 88.7h0.75M115.7 101.1h0.75M114.8 100.3h0.75M122.8 90.0h0.75M109.3 97.4h0.75M97.8 104.8h0.75M100.6 96.4h0.75M119.4 81.5h0.75M103.7 91.6h0.75M112.6 106.7h0.75M126.6 85.6h0.75M116.4 86.7h0.75M119.3 87.7h0.75M116.9 102.6h0.75M118.8 99.8h0.75M107.7 97.7h0.75M115.0 101.1h0.75M115.1 81.7h0.75M124.8 84.0h0.75M111.8 97.3h0.75M111.6 93.7h0.75M118.1 96.2h0.75M103.0 88.3h0.75M108.3 92.6h0.75M112.7 111.2h0.75M123.9 99.0h0.75M112.2 103.3h0.75M103.5 109.6h0.75M107.8 106.5h0.75M111.3 88.6h0.75M92.5 113.3h0.75M105.5 91.4h0.75M98.5 111.5h0.75M111.3 92.1h0.75M103.9 106.6h0.75M98.4 109.6h0.75M110.7 94.2h0.75M117.1 81.9h0.75M99.4 92.7h0.75M109.3 111.2h0.75M111.2 88.8h0.75M99.4 104.5h0.75M127.9 90.1h0.75M112.4 81.7h0.75M113.7 92.9h0.75M118.9 87.2h0.75M120.4 83.3h0.75M102.3 104.1h0.75M106.2 101.4h0.75M123.8 99.5h0.75M123.6 93.0h0.75M113.2 82.7h0.75M116.0 94.7h0.75M97.5 94.9h0.75M104.7 91.7h0.75M101.2 106.9h0.75M113.3 82.7h0.75M97.8 112.1h0.75M106.9 104.0h0.75M113.7 83.1h0.75M109.2 91.8h0.75M118.8 108.4h0.75M112.8 97.9h0.75M102.6 99.2h0.75M111.0 89.7h0.75M117.4 90.6h0.75M109.6 88.7h0.75M108.1 99.9h0.75M116.1 88.1h0.75M113.6 109.0h0.75M117.2 82.3h0.75M103.2 98.5h0.75M101.9 95.6h0.75M116.6 98.6h0.75M121.7 94.6h0.75M105.2 84.5h0.75M108.0 95.8h0.75M121.9 97.0h0.75M108.2 89.9h0.75M122.3 85.1h0.75M107.2 93.7h0.75M98.7 103.9h0.75M113.7 99.8h0.75M115.4 99.0h0.75M94.8 109.7h0.75M119.7 101.3h0.75M114.5 89.5h0.75M111.2 88.0h0.75M111.6 102.7h0.75M103.3 98.7h0.75M120.8 91.7h0.75M118.1 88.1h0.75M125.5 88.5h0.75M98.2 112.8h0.75M100.1 94.6h0.75M108.4 104.3h0.75M116.0 89.4h0.75M97.4 109.5h0.75M112.4 104.0h0.75M102.7 97.6h0.75M99.8 101.9h0.75M121.4 90.5h0.75M121.6 91.9h0.75M128.2 95.6h0.75M106.0 99.2h0.75M122.0 90.3h0.75M120.8 95.6h0.75M101.0 109.6h0.75M111.6 103.2h0.75M107.3 95.1h0.75M119.9 80.2h0.75M125.0 98.0h0.75M115.0 92.3h0.75M118.3 86.6h0.75M117.1 110.2h0.75M104.7 111.6h0.75M97.4 107.5h0.75M117.4 95.7h0.75M113.8 91.2h0.75M100.2 91.9h0.75M104.7 95.0h0.75M101.7 100.6h0.75M119.7 103.5h0.75M117.6 81.4h0.75M111.1 85.3h0.75M112.5 94.2h0.75M123.8 89.4h0.75M107.8 107.0h0.75M116.8 92.6h0.75M104.4 91.1h0.75M94.6 103.5h0.75M116.9 85.6h0.75M112.5 90.7h0.75M101.9 109.1h0.75M95.0 110.2h0.75M102.8 82.8h0.75M119.7 99.7h0.75M105.5 111.5h0.75M110.2 90.1h0.75M109.1 109.3h0.75M101.1 106.5h0.75M113.7 94.4h0.75M115.0 85.0h0.75M120.3 95.1h0.75M125.9 91.3h0.75M113.5 79.7h0.75M122.7 93.1h0.75M107.4 94.4h0.75M98.6 99.8h0.75M117.2 86.0h0.75M102.0 104.3h0.75M98.7 113.3h0.75M106.1 106.2h0.75M113.8 100.7h0.75M123.6 90.3h0.75M106.9 95.1h0.75M103.3 90.0h0.75M113.2 109.6h0.75M104.6 101.6h0.75M118.0 100.4h0.75M92.5 111.6h0.75M95.7 102.6h0.75M101.8 110.0h0.75M111.6 91.1h0.75M108.9 93.4h0.75M120.3 79.8h0.75M105.1 100.9h0.75M113.0 100.9h0.75M101.6 93.3h0.75M99.9 111.3h0.75M123.7 92.6h0.75M110.9 107.3h0.75M103.7 109.1h0.75M101.0 93.3h0.75M121.7 104.8h0.75M104.3 98.6h0.75M106.3 99.8h0.75M105.3 80.5h0.75M117.9 95.3h0.75M92.7 109.5h0.75M108.6 90.9h0.75M110.7 100.3h0.75M106.6 110.1h0.75M114.3 87.7h0.75M101.9 90.2h0.75M113.5 88.4h0.75M112.1 103.9h0.75M125.4 84.1h0.75M98.8 105.8h0.75M100.8 92.4h0.75M102.6 96.4h0.75M98.5 108.6h0.75M117.0 88.3h0.75M112.7 93.6h0.75M123.1 79.6h0.75M106.7 103.2h0.75M112.8 105.6h0.75M104.6 85.9h0.75M108.5 97.8h0.75M117.0 103.6h0.75M92.1 101.3h0.75M99.7 102.4h0.75M112.8 85.3h0.75M98.8 99.0h0.75M106.8 86.3h0.75M106.8 104.9h0.75M99.7 99.5h0.75M109.3 106.8h0.75M102.2 97.9h0.75M114.6 85.6h0.75M101.9 98.8h0.75M108.5 82.6h0.75M117.6 99.0h0.75M105.6 103.7h0.75M95.9 107.1h0.75M113.2 88.8h0.75M125.9 80.8h0.75M105.0 96.3h0.75M97.3 103.9h0.75M112.8 109.8h0.75M114.2 106.3h0.75M113.5 101.9h0.75M118.4 103.5h0.75M102.5 88.7h0.75M110.2 84.1h0.75M113.8 107.2h0.75M103.4 92.3h0.75M123.0 99.4h0.75M114.8 85.4h0.75M117.7 99.9h0.75M104.3 96.0h0.75M124.5 87.7h0.75M120.9 88.5h0.75M99.4 102.1h0.75M104.8 111.5h0.75M108.9 99.2h0.75M107.7 106.6h0.75M114.4 92.7h0.75M104.5 93.3h0.75M107.8 87.1h0.75M93.9 110.9h0.75M103.4 95.7h0.75M121.2 85.5h0.75M114.2 102.2h0.75M115.2 96.4h0.75M115.0 106.9h0.75M122.6 83.8h0.75M117.3 97.3h0.75M98.3 107.7h0.75M106.9 97.2h0.75M95.9 112.6h0.75M122.8 96.1h0.75M96.2 110.6h0.75M108.8 108.1h0.75M98.1 100.6h0.75M106.5 89.8h0.75M124.4 86.9h0.75M109.4 101.5h0.75M97.4 110.5h0.75M109.2 96.0h0.75M94.6 94.3h0.75M124.7 86.0h0.75M107.3 99.3h0.75M103.1 90.4h0.75M113.3 103.3h0.75M117.2 92.1h0.75M118.5 95.1h0.75M103.6 94.6h0.75M119.9 93.0h0.75M106.7 102.2h0.75M123.7 86.9h0.75M107.0 90.5h0.75M116.7 88.0h0.75M110.8 97.8h0.75M121.3 82.4h0.75M111.6 98.3h0.75M96.9 104.2h0.75M108.1 113.0h0.75M96.7 110.6h0.75M114.1 108.8h0.75M105.5 98.7h0.75M118.1 101.2h0.75M95.3 93.5h0.75M126.9 86.8h0.75M102.4 92.9h0.75M113.6 97.9h0.75M112.7 96.1h0.75M108.6 109.1h0.75M117.6 84.7h0.75M110.8 106.6h0.75M101.1 98.7h0.75M120.1 83.7h0.75M125.6 81.7h0.75M116.7 77.6h0.75M120.3 94.4h0.75M116.7 99.8h0.75M96.1 99.3h0.75M115.3 99.5h0.75M119.3 88.8h0.75M106.7 100.7h0.75M116.0 89.0h0.75M123.2 94.3h0.75M118.8 105.3h0.75M100.4 97.2h0.75M108.3 95.1h0.75M117.8 82.9h0.75M104.2 104.0h0.75M123.3 81.9h0.75M99.4 110.3h0.75M119.4 83.6h0.75M98.3 101.3h0.75M109.6 96.6h0.75M111.2 86.6h0.75M109.2 80.1h0.75M99.1 93.7h0.75M99.3 101.0h0.75M110.0 95.0h0.75M103.0 89.1h0.75M103.2 97.2h0.75M108.3 112.3h0.75M108.0 102.2h0.75M108.1 88.7h0.75M107.4 92.0h0.75M97.8 112.6h0.75M114.2 109.5h0.75M108.0 104.9h0.75M106.1 96.5h0.75M96.3 109.5h0.75M115.7 85.7h0.75M100.3 99.4h0.75M113.6 101.5h0.75M107.3 102.0h0.75M117.6 97.2h0.75M100.4 113.3h0.75M112.0 108.6h0.75M104.3 96.9h0.75M98.3 101.2h0.75M101.1 101.7h0.75M119.9 86.7h0.75M96.7 105.1h0.75M105.5 93.7h0.75M110.1 105.5h0.75M114.2 82.7h0.75M124.3 94.4h0.75M106.4 106.0h0.75M117.8 92.9h0.75M103.5 97.9h0.75M118.7 83.4h0.75M124.7 85.2h0.75M118.2 89.4h0.75M113.2 92.9h0.75M110.7 93.5h0.75M119.2 87.7h0.75M110.0 109.7h0.75M96.4 111.7h0.75M112.3 94.9h0.75M110.4 101.3h0.75M122.1 80.3h0.75M115.3 97.7h0.75M103.8 95.2h0.75M98.1 110.9h0.75M109.0 105.1h0.75M99.7 100.7h0.75M97.2 107.2h0.75M96.5 102.5h0.75M98.9 106.4h0.75M101.2 87.9h0.75M113.3 103.9h0.75M111.2 87.6h0.75M115.6 93.2h0.75M109.8 85.2h0.75M110.6 91.0h0.75M114.2 103.0h0.75M120.1 84.8h0.75M122.9 88.1h0.75M107.5 105.2h0.75M107.5 104.0h0.75M95.9 102.8h0.75M113.9 82.8h0.75M107.8 106.0h0.75M109.6 103.6h0.75M109.8 96.3h0.75M102.8 91.2h0.75M104.0 112.1h0.75M113.3 95.7h0.75M116.5 96.0h0.75M113.7 96.2h0.75M115.1 101.4h0.75M124.8 90.1h0.75M119.4 87.9h0.75M101.9 98.7h0.75M118.5 86.0h0.75M123.7 89.0h0.75M94.2 102.9h0.75M119.5 95.4h0.75M121.1 89.2h0.75M109.8 102.5h0.75M122.5 91.5h0.75M123.0 96.7h0.75M100.6 94.9h0.75M113.6 83.7h0.75M109.8 100.4h0.75M112.7 95.5h0.75M129.5 86.0h0.75M97.2 110.4h0.75M115.2 107.3h0.75M119.9 83.1h0.75M103.5 105.7h0.75M117.4 78.1h0.75M111.3 108.2h0.75M114.5 81.8h0.75M100.5 109.7h0.75M98.9 108.9h0.75M98.8 113.1h0.75M122.9 98.5h0.75M108.5 108.1h0.75M99.2 106.9h0.75M117.4 77.4h0.75M104.9 85.8h0.75M95.1 102.9h0.75M114.9 90.7h0.75M120.1 87.8h0.75M101.2 96.2h0.75M100.3 107.0h0.75M120.2 99.0h0.75M113.9 100.2h0.75M124.4 84.4h0.75M112.7 99.0h0.75M100.1 109.3h0.75M111.7 106.4h0.75M104.4 106.3h0.75M119.8 96.1h0.75M111.7 102.2h0.75M111.7 98.0h0.75M121.7 88.0h0.75M109.8 86.1h0.75M116.9 89.9h0.75M119.1 89.9h0.75M106.3 112.5h0.75M114.4 94.2h0.75M110.1 87.6h0.75M127.6 83.9h0.75M126.2 80.1h0.75M114.1 86.9h0.75M111.3 89.0h0.75M116.4 86.8h0.75M112.4 108.8h0.75M121.5 85.6h0.75M106.6 84.1h0.75M123.8 91.8h0.75M107.5 102.3h0.75M111.9 91.1h0.75M99.3 95.7h0.75M125.7 84.6h0.75M123.4 77.9h0.75M111.9 97.9h0.75M98.4 106.1h0.75M96.4 111.1h0.75M93.5 100.3h0.75M109.6 92.0h0.75M104.6 107.3h0.75M115.8 79.3h0.75M112.1 96.8h0.75M115.6 104.5h0.75M106.2 87.2h0.75M109.3 85.2h0.75M111.9 104.7h0.75M101.0 94.2h0.75M114.6 93.3h0.75M126.7 95.3h0.75M105.7 94.1h0.75M102.0 92.1h0.75M97.7 97.8h0.75M103.3 103.2h0.75M115.9 95.9h0.75M119.2 107.2h0.75M100.8 105.6h0.75M113.6 93.4h0.75M101.5 100.9h0.75M105.0 89.8h0.75M116.0 85.4h0.75M110.1 101.5h0.75M118.1 91.2h0.75M97.3 103.0h0.75M97.0 108.3h0.75M120.4 85.5h0.75M115.5 106.4h0.75M112.2 86.5h0.75M104.1 112.8h0.75M119.7 92.5h0.75M99.6 109.1h0.75M114.4 103.9h0.75M113.0 105.9h0.75M102.2 111.9h0.75M112.0 76.9h0.75M113.6 107.9h0.75M121.3 90.2h0.75M108.6 108.6h0.75M98.7 99.3h0.75M103.6 97.1h0.75M110.7 96.5h0.75M116.1 84.5h0.75M106.9 96.0h0.75M106.3 107.1h0.75M99.4 106.6h0.75M94.9 101.6h0.75M103.6 89.5h0.75M99.4 103.4h0.75M105.7 108.9h0.75M100.6 110.5h0.75M109.1 107.1h0.75M118.7 83.0h0.75M105.8 108.8h0.75M115.3 90.3h0.75M96.2 108.8h0.75M109.5 89.0h0.75M114.6 89.0h0.75M102.7 112.4h0.75M115.2 88.0h0.75M96.1 108.7h0.75M100.8 99.3h0.75M110.9 108.5h0.75M116.1 90.1h0.75M114.0 92.1h0.75M107.6 109.4h0.75M118.9 88.8h0.75M104.9 99.7h0.75M120.8 102.0h0.75M105.7 107.2h0.75M110.1 94.3h0.75M94.4 100.5h0.75M106.5 95.8h0.75M103.9 100.8h0.75M103.3 99.4h0.75M123.9 83.5h0.75M105.1 97.0h0.75M98.2 104.6h0.75M97.5 108.0h0.75M101.1 92.2h0.75M108.6 102.0h0.75M127.9 86.6h0.75M109.9 106.3h0.75M116.4 94.3h0.75M115.2 110.2h0.75M111.6 83.9h0.75M104.8 113.0h0.75M121.1 98.2h0.75M123.0 93.6h0.75M101.5 110.1h0.75M120.0 89.1h0.75M124.3 89.4h0.75M93.4 108.2h0.75M116.1 86.6h0.75M114.4 99.3h0.75M102.9 101.0h0.75M110.2 89.0h0.75M108.3 100.0h0.75M118.5 90.8h0.75M112.0 106.5h0.75M107.0 98.2h0.75M118.8 91.5h0.75M121.7 86.1h0.75M113.5 102.9h0.75M114.6 86.2h0.75M109.0 107.4h0.75M113.5 94.9h0.75M114.5 95.4h0.75M114.9 103.6h0.75M112.8 103.1h0.75M106.1 96.0h0.75M123.4 85.6h0.75M118.7 89.0h0.75M108.6 110.0h0.75M119.7 78.8h0.75M118.2 76.4h0.75M113.6 105.1h0.75M125.6 86.8h0.75M116.0 92.8h0.75M118.9 91.1h0.75M110.9 102.4h0.75M95.9 101.1h0.75M105.6 85.9h0.75M118.1 102.0h0.75M101.1 102.0h0.75M117.7 103.4h0.75M95.6 89.2h0.75M103.4 111.2h0.75M102.4 98.7h0.75M108.5 91.3h0.75M109.8 107.6h0.75M116.3 89.7h0.75M118.1 106.9h0.75M121.4 102.0h0.75M123.9 87.6h0.75M107.1 104.6h0.75M116.3 87.4h0.75M108.4 105.9h0.75M102.7 107.8h0.75M92.3 112.8h0.75M122.6 93.5h0.75M108.7 88.2h0.75M119.5 89.4h0.75M103.6 101.7h0.75M109.3 113.6h0.75M109.1 106.5h0.75M107.5 86.7h0.75M117.4 91.3h0.75M125.3 89.6h0.75M104.0 104.6h0.75M101.6 97.1h0.75M132.3 86.9h0.75M94.9 104.8h0.75M108.0 96.7h0.75M121.8 105.4h0.75M125.0 82.1h0.75M119.4 79.3h0.75M102.8 106.5h0.75M113.1 98.3h0.75M98.8 103.5h0.75M105.6 102.6h0.75M104.7 111.9h0.75M113.8 97.9h0.75M116.6 92.5h0.75M114.1 84.6h0.75M111.7 101.6h0.75M125.6 90.2h0.75M108.4 85.4h0.75M116.4 88.9h0.75M109.2 102.4h0.75M103.6 107.1h0.75M96.4 92.3h0.75M120.5 92.4h0.75M126.6 90.0h0.75M112.7 99.4h0.75M93.5 93.6h0.75M126.5 86.0h0.75M123.7 97.9h0.75M110.9 112.6h0.75M95.5 104.5h0.75M109.8 86.3h0.75M108.4 90.2h0.75M116.7 102.5h0.75M115.6 86.1h0.75M126.1 96.1h0.75M100.2 103.6h0.75M101.4 106.4h0.75M117.7 80.5h0.75M118.7 84.6h0.75M126.1 81.8h0.75M108.5 90.5h0.75M112.1 111.2h0.75M98.9 105.5h0.75M103.1 105.4h0.75M118.4 99.9h0.75M113.5 109.8h0.75M116.5 107.8h0.75M122.4 105.7h0.75M115.7 106.0h0.75M100.1 99.7h0.75M110.5 80.2h0.75M105.0 93.8h0.75M121.3 87.4h0.75M114.6 103.2h0.75M113.0 104.2h0.75M114.8 104.0h0.75M100.9 94.9h0.75M107.3 99.8h0.75M93.3 102.5h0.75M124.2 77.7h0.75M112.1 89.2h0.75M109.1 92.4h0.75M106.8 99.0h0.75M120.0 78.8h0.75M115.3 97.0h0.75M121.3 87.2h0.75M106.8 94.3h0.75M109.8 105.2h0.75M113.0 97.1h0.75M123.9 90.1h0.75M123.3 79.8h0.75M113.9 102.6h0.75M110.7 102.6h0.75M114.1 108.7h0.75M102.8 102.2h0.75M108.7 103.1h0.75M111.1 109.3h0.75M117.6 92.8h0.75M103.3 95.8h0.75M102.1 101.6h0.75M132.1 86.4h0.75M126.2 90.0h0.75M100.5 100.2h0.75M126.3 86.4h0.75M97.8 87.8h0.75M119.9 90.3h0.75M126.5 84.4h0.75M109.2 89.9h0.75M122.7 100.7h0.75M116.9 83.6h0.75M116.7 90.7h0.75M101.0 102.4h0.75M114.0 96.6h0.75M112.4 98.7h0.75M110.0 90.6h0.75M112.2 91.6h0.75M117.1 106.4h0.75M105.4 95.0h0.75M104.4 95.4h0.75M108.8 101.7h0.75M103.9 89.8h0.75M116.8 81.1h0.75M104.4 92.3h0.75M117.4 75.4h0.75M118.2 105.3h0.75M111.0 87.2h0.75M104.8 111.9h0.75M97.3 109.8h0.75M94.3 106.0h0.75M104.7 106.2h0.75M109.2 91.2h0.75M110.7 103.3h0.75M106.2 106.7h0.75M92.1 112.4h0.75M116.5 95.0h0.75M108.0 91.6h0.75M96.4 96.3h0.75M115.6 82.9h0.75M103.0 98.2h0.75M108.5 95.9h0.75M116.3 108.4h0.75M124.6 80.8h0.75M111.0 98.9h0.75M110.6 109.9h0.75M96.1 100.7h0.75M118.1 92.4h0.75M110.6 99.5h0.75M110.9 77.2h0.75M119.1 85.5h0.75M121.0 77.1h0.75M118.6 94.5h0.75M115.4 86.8h0.75M118.4 109.6h0.75M121.1 80.8h0.75M132.2 88.6h0.75M127.1 95.7h0.75M98.1 103.5h0.75M114.6 109.8h0.75M109.0 101.8h0.75M114.1 81.4h0.75M103.0 99.2h0.75M99.2 111.8h0.75M112.3 108.1h0.75M101.3 92.6h0.75M92.8 111.1h0.75M110.9 79.3h0.75M93.8 110.2h0.75M105.0 107.0h0.75M95.8 104.8h0.75M128.8 83.3h0.75M119.2 88.3h0.75M111.0 105.1h0.75M114.5 78.6h0.75M106.8 108.7h0.75M101.8 88.7h0.75M119.9 84.6h0.75M124.6 99.1h0.75M107.1 85.6h0.75M105.5 104.5h0.75M125.3 87.7h0.75M97.3 100.2h0.75M99.8 95.5h0.75M121.5 95.6h0.75M113.4 102.7h0.75M114.0 107.8h0.75M98.0 110.4h0.75M122.1 92.4h0.75M110.7 74.8h0.75M112.7 101.4h0.75M104.6 90.1h0.75M114.7 80.8h0.75M117.6 85.1h0.75M122.3 88.3h0.75M126.2 93.1h0.75M117.4 99.4h0.75M124.9 89.6h0.75M110.3 83.4h0.75M104.1 95.8h0.75M98.4 106.9h0.75M99.3 87.1h0.75M108.6 93.6h0.75M120.7 82.2h0.75M107.0 72.7h0.75M103.9 91.0h0.75M115.0 95.8h0.75M129.8 100.6h0.75M121.5 93.3h0.75M106.8 96.7h0.75M126.2 82.8h0.75M112.2 101.4h0.75M105.6 82.7h0.75M119.1 102.4h0.75M110.5 87.5h0.75M123.1 82.3h0.75M108.0 92.6h0.75M106.1 98.3h0.75M120.6 91.4h0.75M122.8 95.1h0.75M110.1 97.0h0.75M103.1 87.6h0.75M111.4 94.4h0.75M105.8 95.4h0.75M106.6 88.0h0.75M114.2 88.0h0.75M101.2 87.3h0.75M106.1 110.7h0.75M105.6 113.1h0.75M103.3 101.1h0.75M121.9 104.7h0.75M112.8 102.1h0.75M106.9 107.2h0.75M100.0 99.8h0.75M131.6 89.6h0.75M104.3 77.9h0.75M126.1 103.0h0.75M106.4 92.6h0.75M96.6 108.6h0.75M105.8 88.9h0.75M117.4 110.6h0.75M111.9 109.0h0.75M115.0 94.7h0.75M99.9 84.4h0.75M103.4 112.0h0.75M96.0 109.6h0.75M107.5 76.5h0.75M109.5 100.8h0.75M97.3 104.9h0.75M108.5 94.6h0.75M109.5 105.2h0.75M118.9 109.6h0.75M113.7 105.8h0.75M99.7 111.5h0.75M114.2 94.9h0.75M112.3 91.6h0.75M115.3 88.1h0.75M113.2 108.9h0.75M112.6 86.2h0.75M118.8 93.3h0.75M119.1 85.8h0.75M104.8 105.6h0.75M104.6 99.2h0.75M108.8 103.3h0.75M117.1 99.2h0.75M113.7 84.0h0.75M133.1 98.7h0.75M131.6 103.1h0.75M111.1 91.5h0.75M107.8 94.5h0.75M132.5 98.9h0.75M101.1 112.7h0.75M127.9 88.0h0.75M116.2 104.3h0.75M107.0 109.6h0.75M120.9 98.5h0.75M104.6 82.6h0.75M108.5 95.7h0.75M126.4 107.6h0.75M137.1 83.2h0.75M113.6 97.1h0.75M96.7 89.1h0.75M128.1 85.1h0.75M103.5 106.7h0.75M105.3 92.1h0.75M117.1 76.0h0.75M101.0 107.4h0.75M92.9 100.8h0.75M104.2 100.3h0.75M116.3 79.8h0.75M135.1 80.9h0.75M97.8 97.0h0.75M125.0 80.1h0.75M122.9 88.6h0.75M118.5 83.8h0.75M95.2 111.8h0.75M112.2 109.6h0.75M122.0 93.2h0.75M116.6 88.5h0.75M103.0 95.3h0.75M108.0 109.7h0.75M91.9 106.6h0.75M106.6 98.3h0.75M115.0 95.3h0.75M117.3 105.6h0.75M125.1 104.0h0.75M118.9 100.9h0.75M121.2 105.3h0.75M120.4 111.6h0.75M123.6 97.6h0.75M124.4 104.7h0.75M124.6 103.0h0.75M114.0 112.6h0.75M128.6 93.7h0.75M122.7 108.6h0.75M122.0 110.0h0.75M121.7 97.7h0.75M122.5 110.9h0.75M121.9 101.6h0.75M121.1 93.1h0.75M130.3 96.6h0.75M125.6 101.0h0.75M123.5 106.3h0.75M123.0 95.7h0.75M127.1 108.0h0.75M123.5 109.1h0.75M117.4 110.0h0.75M123.0 104.4h0.75M124.0 100.8h0.75M121.1 110.2h0.75M126.4 107.2h0.75M129.8 98.7h0.75M125.4 103.6h0.75M130.1 99.0h0.75M128.5 99.9h0.75M131.1 100.7h0.75M116.4 107.4h0.75M119.5 111.0h0.75M118.6 102.0h0.75M121.2 100.2h0.75M125.1 91.4h0.75M131.2 100.1h0.75M124.7 111.2h0.75M113.6 111.1h0.75M116.2 105.2h0.75M125.3 92.4h0.75M120.6 98.5h0.75M123.0 100.3h0.75M120.4 96.4h0.75M116.4 100.4h0.75M127.9 106.0h0.75M124.8 95.5h0.75M122.5 104.1h0.75M125.2 96.1h0.75M125.4 96.2h0.75M118.5 101.0h0.75M123.2 100.0h0.75M127.4 96.7h0.75M125.6 93.5h0.75M118.0 110.8h0.75M128.4 102.3h0.75M125.9 99.1h0.75M130.2 94.8h0.75M126.2 101.0h0.75M124.9 110.3h0.75M124.1 92.8h0.75M125.8 106.8h0.75M127.2 100.2h0.75M129.8 96.6h0.75M115.7 105.7h0.75M126.2 93.5h0.75M118.8 107.3h0.75M117.3 107.2h0.75M125.3 100.2h0.75M117.7 104.0h0.75M128.7 98.9h0.75M127.4 102.1h0.75M121.5 106.9h0.75M114.6 112.0h0.75M122.4 104.5h0.75M126.9 106.4h0.75M128.4 102.1h0.75M125.1 98.9h0.75M115.6 109.9h0.75M124.0 95.9h0.75M117.8 109.1h0.75M123.7 99.0h0.75M122.0 109.1h0.75M125.4 107.3h0.75M121.3 111.5h0.75M119.1 112.9h0.75M125.1 106.2h0.75M119.6 111.5h0.75M125.6 99.4h0.75M123.0 107.1h0.75M131.1 101.2h0.75M123.6 109.7h0.75M126.4 102.9h0.75M119.0 97.9h0.75M119.5 103.1h0.75M123.5 107.6h0.75M126.3 105.2h0.75M119.7 101.1h0.75M128.3 105.5h0.75M122.6 99.9h0.75M118.6 107.6h0.75M128.8 103.4h0.75M122.2 113.3h0.75M122.7 95.3h0.75M121.2 111.0h0.75M116.2 108.4h0.75M124.9 111.0h0.75M125.2 108.4h0.75M119.9 113.4h0.75M114.2 111.2h0.75M115.6 108.8h0.75M117.5 102.8h0.75M130.3 98.1h0.75M111.2 113.0h0.75M129.8 101.6h0.75M125.2 104.9h0.75M121.6 103.4h0.75M121.7 104.2h0.75M116.5 111.6h0.75M123.9 110.8h0.75M119.9 111.0h0.75M124.4 113.6h0.75M125.2 103.6h0.75M120.8 109.0h0.75M125.1 99.8h0.75M128.0 96.9h0.75M127.3 103.3h0.75M126.9 93.0h0.75M118.3 104.1h0.75M123.2 101.8h0.75M126.4 99.0h0.75M125.3 111.1h0.75M126.0 106.1h0.75M125.4 95.5h0.75M123.1 106.0h0.75M123.4 101.9h0.75M123.7 105.1h0.75M126.1 101.8h0.75M128.8 95.4h0.75M127.2 96.4h0.75M125.2 94.6h0.75M126.1 105.6h0.75M113.1 106.3h0.75M125.7 101.7h0.75M120.2 103.6h0.75M124.3 107.8h0.75M115.4 111.3h0.75M123.7 111.1h0.75M127.6 92.2h0.75M121.7 99.4h0.75M115.8 111.9h0.75M120.8 101.5h0.75M127.1 97.6h0.75M127.1 106.0h0.75M123.0 94.1h0.75M129.0 99.4h0.75M120.2 108.5h0.75M120.0 111.5h0.75M124.0 95.4h0.75M116.9 113.0h0.75M125.6 96.3h0.75M112.6 109.3h0.75" stroke="#000" stroke-width="0.75"/>
<rect x="153.3" y="67.4" width="47.1" height="46.9" fill="#fff" stroke="#999" stroke-width=".6"/>
<path d="M176.4 67.4V114.3M153.3 90.8H200.4" stroke="#bbb" stroke-width=".5"/>
<text x="154.6" y="70.6" font-size="3.1" fill="#555">33.5</text>
<text x="199.1" y="70.6" font-size="3.1" fill="#555" text-anchor="end">56</text>
<text x="154.6" y="113.3" font-size="3.1" fill="#555">5.83</text>
<text x="199.1" y="113.3" font-size="3.1" fill="#555" text-anchor="end">3.54</text>
<text x="152.1" y="115.2" font-size="3.2" text-anchor="end" fill="#444" transform="rotate(-15 152.1 115.2)">10<tspan font-size="2.1" dy="-1.2">0</tspan></text>
<text x="152.1" y="103.5" font-size="3.2" text-anchor="end" fill="#444" transform="rotate(-15 152.1 103.5)">10<tspan font-size="2.1" dy="-1.2">1</tspan></text>
<text x="152.1" y="91.8" font-size="3.2" text-anchor="end" fill="#444" transform="rotate(-15 152.1 91.8)">10<tspan font-size="2.1" dy="-1.2">2</tspan></text>
<text x="152.1" y="80.0" font-size="3.2" text-anchor="end" fill="#444" transform="rotate(-15 152.1 80.0)">10<tspan font-size="2.1" dy="-1.2">3</tspan></text>
<text x="152.1" y="68.3" font-size="3.2" text-anchor="end" fill="#444" transform="rotate(-15 152.1 68.3)">10<tspan font-size="2.1" dy="-1.2">4</tspan></text>
<text x="153.8" y="119.2" font-size="3.2" text-anchor="middle" fill="#444" transform="rotate(-15 153.8 119.2)">10<tspan font-size="2.1" dy="-1.2">0</tspan></text>
<text x="165.6" y="119.2" font-size="3.2" text-anchor="middle" fill="#444" transform="rotate(-15 165.6 119.2)">10<tspan font-size="2.1" dy="-1.2">1</tspan></text>
<text x="177.4" y="119.2" font-size="3.2" text-anchor="middle" fill="#444" transform="rotate(-15 177.4 119.2)">10<tspan font-size="2.1" dy="-1.2">2</tspan></text>
<text x="189.1" y="119.2" font-size="3.2" text-anchor="middle" fill="#444" transform="rotate(-15 189.1 119.2)">10<tspan font-size="2.1" dy="-1.2">3</tspan></text>
<text x="200.9" y="119.2" font-size="3.2" text-anchor="middle" fill="#444" transform="rotate(-15 200.9 119.2)">10<tspan font-size="2.1" dy="-1.2">4</tspan></text>
<clipPath id="k6"><rect x="153.7" y="67.8" width="46.3" height="46.1"/></clipPath><g clip-path="url(#k6)"><path d="M156.4 110.4L157.6 99L161.5 90L164 81.5L168.5 77L176 75.5L184 75L189 76.5L190 83L187.5 91L181 96L175 102.4L170.5 108.1L167 112.7L159.8 113.5L156.4 113.5Z" filter="url(#b15)" fill-opacity="0.9"/></g><path d="M160.3 113.1h0.75M174.5 81.1h0.75M164.7 101.0h0.75M173.9 92.5h0.75M182.3 91.6h0.75M175.8 79.8h0.75M188.0 78.6h0.75M181.8 95.6h0.75M161.4 86.1h0.75M185.5 93.6h0.75M160.4 113.3h0.75M167.4 88.5h0.75M161.6 95.5h0.75M164.2 107.5h0.75M172.5 96.3h0.75M169.1 94.3h0.75M175.7 91.5h0.75M160.6 106.1h0.75M170.8 97.4h0.75M182.0 92.9h0.75M162.8 99.1h0.75M169.8 105.5h0.75M162.2 97.3h0.75M164.8 95.3h0.75M163.7 107.1h0.75M170.4 78.5h0.75M181.9 86.1h0.75M180.1 85.6h0.75M179.0 93.1h0.75M180.6 93.4h0.75M169.7 83.3h0.75M166.6 107.8h0.75M179.8 83.1h0.75M169.5 99.9h0.75M165.1 103.5h0.75M166.8 102.4h0.75M173.9 81.8h0.75M162.8 100.5h0.75M172.6 86.7h0.75M181.3 79.7h0.75M178.5 86.3h0.75M164.8 88.3h0.75M170.1 100.7h0.75M168.2 83.8h0.75M185.7 86.6h0.75M187.5 82.3h0.75M157.4 102.7h0.75M171.7 92.3h0.75M159.5 106.4h0.75M179.2 96.2h0.75M191.9 87.7h0.75M163.1 102.4h0.75M157.7 91.0h0.75M188.9 84.6h0.75M166.6 105.7h0.75M182.4 81.1h0.75M174.5 83.2h0.75M191.0 87.6h0.75M188.4 90.6h0.75M167.6 109.0h0.75M164.6 104.2h0.75M176.7 94.8h0.75M163.6 91.4h0.75M186.0 91.0h0.75M185.3 82.8h0.75M163.0 101.6h0.75M173.8 86.0h0.75M160.0 111.1h0.75M172.4 99.1h0.75M189.5 82.7h0.75M180.0 82.5h0.75M184.6 81.7h0.75M161.7 105.7h0.75M160.3 96.0h0.75M164.3 88.2h0.75M176.4 96.3h0.75M169.5 92.1h0.75M187.1 83.9h0.75M172.9 83.8h0.75M160.6 85.7h0.75M172.9 78.4h0.75M176.1 92.0h0.75M172.3 82.1h0.75M155.3 95.5h0.75M184.2 77.1h0.75M166.7 95.1h0.75M181.3 91.6h0.75M175.4 79.1h0.75M155.7 111.9h0.75M173.0 90.1h0.75M183.3 90.6h0.75M180.6 88.3h0.75M176.2 82.4h0.75M160.6 98.7h0.75M163.1 99.3h0.75M180.3 82.1h0.75M163.6 111.2h0.75M172.0 88.2h0.75M177.5 88.8h0.75M174.5 90.4h0.75M184.9 73.4h0.75M162.1 88.1h0.75M175.7 89.6h0.75M161.2 103.2h0.75M167.4 90.2h0.75M188.5 82.4h0.75M168.3 84.4h0.75M162.4 104.7h0.75M166.4 108.5h0.75M168.2 107.5h0.75M168.9 93.8h0.75M159.3 96.3h0.75M164.2 110.0h0.75M159.1 99.2h0.75M187.5 96.2h0.75M163.0 95.0h0.75M181.6 95.4h0.75M173.7 90.0h0.75M180.2 89.9h0.75M163.5 99.0h0.75M172.9 101.2h0.75M187.2 89.9h0.75M166.6 113.5h0.75M181.1 82.0h0.75M161.0 98.3h0.75M177.5 91.2h0.75M173.5 98.3h0.75M159.3 88.4h0.75M163.3 95.9h0.75M170.7 73.6h0.75M170.6 109.4h0.75M175.4 90.7h0.75M180.3 79.1h0.75M171.7 78.3h0.75M167.3 111.5h0.75M167.3 103.7h0.75M169.1 109.4h0.75M168.4 80.4h0.75M158.1 107.4h0.75M177.6 80.8h0.75M182.0 87.0h0.75M184.9 80.0h0.75M166.1 105.3h0.75M162.7 97.9h0.75M174.8 77.1h0.75M163.7 113.7h0.75M179.6 96.8h0.75M178.7 94.1h0.75M184.7 87.3h0.75M184.1 81.5h0.75M175.9 77.0h0.75M167.7 77.6h0.75M172.8 91.4h0.75M165.6 106.9h0.75M179.6 99.0h0.75M165.7 81.3h0.75M183.3 82.0h0.75M174.8 92.9h0.75M171.8 93.9h0.75M173.6 88.3h0.75M184.5 80.5h0.75M163.9 87.4h0.75M180.9 86.0h0.75M165.1 98.1h0.75M161.1 82.6h0.75M167.6 98.0h0.75M164.7 94.2h0.75M179.0 82.0h0.75M172.3 97.9h0.75M182.7 77.3h0.75M184.1 84.4h0.75M176.7 76.6h0.75M168.0 108.4h0.75M167.4 85.2h0.75M187.1 80.4h0.75M170.0 103.0h0.75M170.3 105.6h0.75M174.4 80.2h0.75M171.0 85.6h0.75M171.4 92.2h0.75M164.5 107.7h0.75M186.7 85.0h0.75M178.2 83.6h0.75M179.0 81.1h0.75M183.5 76.6h0.75M170.5 99.2h0.75M163.9 89.6h0.75M170.4 91.5h0.75M170.9 105.3h0.75M187.7 76.6h0.75M168.8 108.2h0.75M172.0 80.3h0.75M176.5 83.0h0.75M165.4 103.6h0.75M174.2 95.7h0.75M167.5 81.6h0.75M163.0 89.8h0.75M170.1 96.9h0.75M174.3 88.7h0.75M170.4 82.8h0.75M181.3 95.2h0.75M180.9 79.4h0.75M183.5 79.9h0.75M168.9 89.8h0.75M168.3 110.8h0.75M162.4 106.2h0.75M156.8 109.7h0.75M168.1 96.8h0.75M159.7 92.6h0.75M154.3 97.4h0.75M169.0 76.9h0.75M177.9 82.6h0.75M159.4 110.6h0.75M173.5 77.3h0.75M183.4 89.4h0.75M168.3 98.4h0.75M183.8 78.1h0.75M177.6 72.6h0.75M179.4 75.4h0.75M170.2 103.5h0.75M180.2 97.0h0.75M180.6 85.4h0.75M180.7 80.2h0.75M189.5 75.6h0.75M170.3 86.1h0.75M164.5 109.5h0.75M174.3 103.2h0.75M160.2 111.6h0.75M164.7 106.2h0.75M163.8 111.6h0.75M174.0 94.1h0.75M182.1 79.9h0.75M183.8 84.1h0.75M173.5 79.9h0.75M168.7 105.3h0.75M183.2 87.5h0.75M162.5 89.3h0.75M179.4 81.0h0.75M161.5 78.2h0.75M164.1 103.4h0.75M161.7 82.5h0.75M162.1 99.0h0.75M164.7 98.8h0.75M161.3 104.0h0.75M154.0 105.4h0.75M172.9 82.5h0.75M183.2 80.2h0.75M162.0 84.5h0.75M176.7 94.0h0.75M169.3 91.1h0.75M184.0 83.5h0.75M183.4 86.9h0.75M185.3 78.1h0.75M170.1 102.1h0.75M165.7 107.3h0.75M164.2 96.0h0.75M188.6 79.8h0.75M168.8 111.7h0.75M187.7 86.9h0.75M174.9 106.4h0.75M159.4 112.9h0.75M164.4 91.6h0.75M179.9 81.3h0.75M168.9 86.5h0.75M172.4 78.6h0.75M169.2 72.7h0.75M180.9 97.2h0.75M179.1 92.6h0.75M171.6 88.0h0.75M154.3 109.4h0.75M165.7 93.7h0.75M172.7 87.6h0.75M170.3 96.1h0.75M172.8 84.9h0.75M169.8 86.7h0.75M164.6 85.7h0.75M178.8 90.3h0.75M156.5 105.4h0.75M168.7 88.9h0.75M190.6 79.3h0.75M167.4 104.2h0.75M183.4 92.7h0.75M186.6 84.3h0.75M170.2 85.6h0.75M173.3 82.1h0.75M174.2 90.4h0.75M167.3 81.1h0.75M166.1 101.7h0.75M179.3 87.7h0.75M166.4 111.0h0.75M178.9 91.8h0.75M178.2 76.2h0.75M166.8 88.4h0.75M177.5 99.6h0.75M157.8 100.0h0.75M173.8 85.5h0.75M188.8 86.6h0.75M171.8 88.8h0.75M183.1 95.3h0.75M176.5 86.1h0.75M182.7 84.7h0.75M162.2 102.8h0.75M164.1 88.7h0.75M170.2 102.6h0.75M181.1 89.2h0.75M172.0 98.9h0.75M180.8 72.4h0.75M181.3 84.6h0.75M181.3 75.4h0.75M178.9 95.4h0.75M169.5 91.3h0.75M174.2 103.7h0.75M166.0 104.1h0.75M182.2 77.4h0.75M172.2 107.9h0.75M160.6 108.7h0.75M165.5 95.9h0.75M171.6 106.3h0.75M176.9 83.0h0.75M181.3 94.1h0.75M177.7 83.2h0.75M168.3 101.0h0.75M164.2 88.1h0.75M171.9 85.8h0.75M179.2 78.6h0.75M179.6 88.0h0.75M167.2 93.0h0.75M175.5 86.1h0.75M171.5 99.5h0.75M166.9 101.5h0.75M165.9 93.3h0.75M166.3 102.6h0.75M181.9 87.6h0.75M167.7 91.0h0.75M157.8 97.7h0.75M161.4 108.0h0.75M188.7 86.6h0.75M170.5 82.7h0.75M160.7 82.9h0.75M180.6 74.9h0.75M156.1 105.8h0.75M161.9 108.9h0.75M164.0 94.2h0.75M159.7 108.0h0.75M170.1 99.2h0.75M174.9 88.1h0.75M178.1 81.6h0.75M168.0 109.3h0.75M178.4 94.7h0.75M170.5 108.5h0.75M159.0 97.3h0.75M179.7 91.7h0.75M176.1 89.5h0.75M165.5 97.0h0.75M158.6 109.1h0.75M179.1 74.4h0.75M192.6 82.7h0.75M179.4 77.8h0.75M165.5 94.8h0.75M161.6 98.2h0.75M176.7 79.4h0.75M181.5 98.0h0.75M189.5 88.7h0.75M161.6 93.2h0.75M168.3 85.7h0.75M174.7 81.9h0.75M184.9 79.6h0.75M162.6 90.5h0.75M162.3 107.2h0.75M170.6 81.7h0.75M163.5 94.2h0.75M160.0 105.6h0.75M164.9 92.0h0.75M171.5 73.9h0.75M183.5 81.0h0.75M169.2 96.4h0.75M164.0 101.3h0.75M172.3 96.1h0.75M190.8 78.2h0.75M170.3 90.1h0.75M181.3 84.1h0.75M165.0 91.1h0.75M162.5 105.1h0.75M163.2 82.3h0.75M177.1 101.1h0.75M179.2 84.8h0.75M168.1 76.8h0.75M185.8 84.7h0.75M166.6 80.7h0.75M170.1 88.2h0.75M164.9 104.7h0.75M178.2 95.2h0.75M160.5 89.5h0.75M179.1 79.2h0.75M173.5 99.2h0.75M175.6 99.8h0.75M167.9 99.2h0.75M170.6 99.6h0.75M173.2 88.3h0.75M163.1 112.0h0.75M173.2 105.3h0.75M174.7 100.9h0.75M176.8 95.1h0.75M164.8 87.6h0.75M161.9 91.7h0.75M181.3 85.4h0.75M177.7 87.4h0.75M159.3 93.3h0.75M173.3 103.6h0.75M177.7 101.4h0.75M164.0 112.5h0.75M185.2 90.1h0.75M180.3 92.9h0.75M173.4 83.2h0.75M172.0 83.1h0.75M162.1 99.8h0.75M172.0 102.2h0.75M183.1 83.8h0.75M167.5 89.4h0.75M182.3 83.6h0.75M164.8 86.2h0.75M181.1 88.3h0.75M187.3 91.3h0.75M162.1 100.4h0.75M178.1 86.9h0.75M173.4 91.7h0.75M188.3 88.3h0.75M164.2 92.6h0.75M166.1 98.1h0.75M164.4 105.2h0.75M182.5 78.8h0.75M186.7 78.5h0.75M160.8 100.6h0.75M188.1 88.4h0.75M167.1 96.8h0.75M169.3 82.7h0.75M169.7 84.3h0.75M154.1 108.0h0.75M183.4 84.9h0.75M166.1 104.7h0.75M181.7 81.9h0.75M175.0 83.0h0.75M182.7 91.8h0.75M161.4 91.3h0.75M163.3 106.4h0.75M157.4 97.6h0.75M162.8 94.6h0.75M177.8 77.3h0.75M185.6 82.4h0.75M166.6 106.9h0.75M165.1 93.2h0.75M185.9 89.1h0.75M174.9 96.7h0.75M178.8 107.1h0.75M171.9 105.9h0.75M165.8 98.3h0.75M171.3 75.9h0.75M189.9 74.8h0.75M183.0 89.4h0.75M166.1 83.7h0.75M162.5 101.6h0.75M177.6 82.2h0.75M179.6 73.9h0.75M167.0 106.4h0.75M163.7 91.8h0.75M166.4 92.4h0.75M158.9 109.7h0.75M165.5 85.3h0.75M177.4 88.1h0.75M158.5 99.9h0.75M160.0 105.0h0.75M163.3 82.3h0.75M181.4 78.8h0.75M187.8 81.5h0.75M166.1 83.0h0.75M179.1 86.1h0.75M175.9 97.8h0.75M160.7 97.5h0.75M162.7 88.1h0.75M167.2 96.4h0.75M188.0 93.9h0.75M171.9 91.9h0.75M174.9 85.7h0.75M182.0 81.3h0.75M179.6 83.5h0.75M155.7 99.4h0.75M176.3 89.4h0.75M180.3 87.6h0.75M178.7 77.2h0.75M164.2 102.9h0.75M191.7 81.2h0.75M164.2 104.7h0.75M177.3 76.2h0.75M171.1 100.5h0.75M167.6 98.3h0.75M170.8 103.1h0.75M175.2 89.7h0.75M173.3 81.3h0.75M165.6 100.9h0.75M181.6 77.6h0.75M170.7 79.9h0.75M164.7 89.2h0.75M165.4 88.2h0.75M162.8 113.3h0.75M164.5 99.5h0.75M167.7 107.7h0.75M174.9 98.7h0.75M169.3 103.3h0.75M169.9 82.5h0.75M166.2 97.3h0.75M156.8 94.8h0.75M171.7 74.4h0.75M156.1 104.8h0.75M183.1 76.9h0.75M165.5 97.9h0.75M163.2 92.3h0.75M173.3 76.8h0.75M169.5 102.6h0.75M181.0 83.0h0.75M165.4 87.5h0.75M167.2 101.8h0.75M185.3 76.1h0.75M158.2 101.0h0.75M160.9 110.3h0.75M166.7 92.0h0.75M176.5 85.0h0.75M180.7 83.1h0.75M166.9 109.1h0.75M168.3 104.9h0.75M191.1 76.6h0.75M168.0 92.5h0.75M179.3 87.1h0.75M182.5 80.7h0.75M155.4 108.6h0.75M166.8 88.0h0.75M169.7 97.1h0.75M168.7 102.5h0.75M166.8 110.6h0.75M168.2 103.5h0.75M161.3 91.8h0.75M168.8 91.7h0.75M162.8 93.4h0.75M172.0 79.2h0.75M165.6 89.1h0.75M179.7 81.4h0.75M176.9 97.5h0.75M161.2 108.3h0.75M175.8 101.8h0.75M170.9 89.9h0.75M171.3 76.9h0.75M173.2 93.2h0.75M166.3 82.8h0.75M166.6 102.1h0.75M159.4 90.8h0.75M175.8 85.0h0.75M181.1 73.1h0.75M174.9 88.4h0.75M164.7 92.8h0.75M171.6 85.9h0.75M168.6 88.0h0.75M173.5 85.5h0.75M174.3 89.1h0.75M172.7 99.3h0.75M166.9 108.1h0.75M155.2 99.3h0.75M173.6 97.5h0.75M179.4 83.2h0.75M158.1 106.5h0.75M168.8 100.4h0.75M176.9 91.1h0.75M174.7 78.7h0.75M164.7 90.1h0.75M170.7 86.4h0.75M163.4 98.2h0.75M181.2 87.1h0.75M172.5 77.2h0.75M168.4 80.8h0.75M169.7 96.0h0.75M167.7 83.5h0.75M171.3 77.4h0.75M179.8 91.9h0.75M168.9 95.1h0.75M186.7 87.8h0.75M156.4 100.3h0.75M162.1 113.3h0.75M164.9 102.8h0.75M165.6 97.4h0.75M178.4 82.4h0.75M179.9 90.3h0.75M166.2 106.8h0.75M166.7 97.7h0.75M159.6 100.0h0.75M192.5 84.2h0.75M172.0 96.6h0.75M159.6 110.9h0.75M163.1 106.3h0.75M158.6 103.8h0.75M171.1 103.3h0.75M168.8 99.2h0.75M161.7 106.8h0.75M163.2 108.2h0.75M162.5 82.8h0.75M155.6 94.7h0.75M163.1 95.5h0.75M162.3 84.1h0.75M169.3 94.3h0.75M188.9 88.6h0.75M163.5 90.8h0.75M172.4 84.7h0.75M173.7 94.5h0.75M165.1 102.7h0.75M171.3 101.8h0.75M169.5 79.8h0.75M185.0 90.5h0.75M187.2 86.7h0.75M170.5 98.1h0.75M155.6 105.1h0.75M176.8 79.9h0.75M182.6 87.7h0.75M159.3 102.9h0.75M187.8 77.9h0.75M168.3 78.0h0.75M167.3 102.6h0.75M175.7 93.9h0.75M183.9 88.0h0.75M164.7 112.9h0.75M162.3 95.0h0.75M171.2 81.4h0.75M179.8 79.1h0.75M165.8 89.1h0.75M161.2 99.8h0.75M164.0 83.1h0.75M161.3 97.4h0.75M169.5 81.8h0.75M163.5 97.7h0.75M183.0 99.1h0.75M168.5 83.6h0.75M179.3 95.8h0.75M180.2 77.2h0.75M183.6 88.8h0.75M180.1 77.5h0.75M181.9 79.5h0.75M171.4 95.1h0.75M175.7 98.4h0.75M172.0 78.1h0.75M173.9 93.0h0.75M178.3 75.0h0.75M167.8 80.0h0.75M160.7 110.6h0.75M181.5 89.7h0.75M184.1 88.3h0.75M161.2 107.1h0.75M173.8 110.6h0.75M169.4 97.7h0.75M185.9 86.5h0.75M157.8 99.6h0.75M169.0 82.4h0.75M181.3 99.0h0.75M183.8 73.6h0.75M174.1 80.9h0.75M179.0 75.5h0.75M170.5 94.7h0.75M168.1 79.6h0.75M176.4 102.8h0.75M184.1 87.0h0.75M176.5 87.3h0.75M182.7 89.8h0.75M161.0 113.1h0.75M165.2 83.1h0.75M179.2 87.4h0.75M177.1 84.2h0.75M178.9 101.4h0.75M169.8 107.9h0.75M174.0 90.0h0.75M177.0 85.4h0.75M165.7 86.0h0.75M183.1 80.3h0.75M179.1 93.9h0.75M158.6 108.3h0.75M168.4 107.6h0.75M170.6 103.3h0.75M156.6 109.4h0.75M170.0 76.4h0.75M165.1 100.9h0.75M158.4 100.7h0.75M171.4 87.7h0.75M178.8 91.4h0.75M167.6 93.8h0.75M167.6 87.4h0.75M186.6 86.1h0.75M173.9 99.0h0.75M185.6 92.4h0.75M158.2 106.0h0.75M191.8 96.0h0.75M182.1 92.6h0.75M163.9 107.9h0.75M172.9 81.7h0.75M181.3 87.7h0.75M180.5 91.2h0.75M188.6 89.2h0.75M188.0 84.7h0.75M163.2 88.4h0.75M167.8 90.5h0.75M170.5 107.8h0.75M184.5 88.7h0.75M165.4 102.6h0.75M189.1 82.7h0.75M163.9 95.7h0.75M177.2 103.9h0.75M165.4 96.4h0.75M176.6 80.0h0.75M173.3 93.4h0.75M156.6 103.6h0.75M174.8 80.0h0.75M164.5 95.4h0.75M182.9 88.0h0.75M189.8 73.7h0.75M175.9 84.7h0.75M182.7 93.4h0.75M161.4 102.6h0.75M163.3 99.9h0.75M164.2 97.5h0.75M172.5 91.9h0.75M170.5 92.7h0.75M160.7 110.9h0.75M168.6 103.1h0.75M169.4 80.7h0.75M163.6 92.8h0.75M168.5 93.6h0.75M163.7 105.3h0.75M175.9 85.4h0.75M179.9 93.5h0.75M161.4 100.7h0.75M162.5 98.9h0.75M173.0 82.9h0.75M173.9 85.0h0.75M180.9 91.9h0.75M177.8 90.6h0.75M184.3 88.2h0.75M159.1 100.8h0.75M173.0 88.8h0.75M172.3 104.6h0.75M170.9 96.0h0.75M176.6 97.2h0.75M159.0 103.2h0.75M186.8 83.6h0.75M181.5 84.8h0.75M167.6 96.5h0.75M187.6 88.2h0.75M176.8 88.0h0.75M163.9 81.1h0.75M179.4 77.2h0.75M177.0 75.4h0.75M158.5 96.6h0.75M161.8 95.9h0.75M168.8 110.1h0.75M182.5 93.9h0.75M170.9 92.2h0.75M163.9 106.4h0.75M168.1 104.1h0.75M190.9 83.5h0.75M163.6 86.0h0.75M184.0 82.3h0.75M173.0 93.5h0.75M173.5 94.9h0.75M165.8 94.0h0.75M188.6 93.7h0.75M182.2 77.0h0.75M172.2 76.4h0.75M183.1 73.0h0.75M162.5 83.6h0.75M165.0 109.7h0.75M170.4 98.5h0.75M166.8 108.4h0.75M174.5 94.3h0.75M161.2 99.7h0.75M184.4 75.9h0.75M165.1 107.9h0.75M178.7 78.4h0.75M165.9 90.0h0.75M167.0 93.5h0.75M174.4 93.5h0.75M177.1 92.0h0.75M189.8 86.3h0.75M162.2 106.1h0.75M156.9 109.0h0.75M180.4 86.7h0.75M177.3 83.9h0.75M163.4 101.2h0.75M165.9 76.5h0.75M172.3 85.5h0.75M167.7 104.8h0.75M173.2 99.7h0.75M183.4 91.1h0.75M174.2 91.9h0.75M173.9 99.5h0.75M162.7 98.4h0.75M157.9 109.6h0.75M166.9 89.9h0.75M172.2 84.9h0.75M178.7 91.2h0.75M182.2 91.0h0.75M174.0 78.9h0.75M178.0 77.1h0.75M177.3 81.6h0.75M176.6 88.9h0.75M166.0 78.8h0.75M175.5 85.5h0.75M156.2 109.3h0.75M160.7 106.7h0.75M181.4 75.9h0.75M159.4 100.4h0.75M164.0 109.3h0.75M164.5 108.7h0.75M167.5 101.7h0.75M180.3 89.7h0.75M165.5 83.9h0.75M179.5 94.8h0.75M169.3 95.5h0.75M161.4 91.1h0.75M163.2 111.7h0.75M162.5 107.7h0.75M162.8 88.8h0.75M174.9 87.4h0.75M171.2 102.3h0.75M182.4 85.0h0.75M177.9 100.9h0.75M192.6 78.1h0.75M182.2 87.8h0.75M171.5 100.0h0.75M164.8 78.7h0.75M182.2 80.3h0.75M164.5 89.7h0.75M154.5 96.7h0.75M154.8 95.8h0.75M183.1 78.4h0.75M183.9 98.2h0.75M177.9 91.5h0.75M176.5 85.3h0.75M163.3 102.0h0.75M167.1 100.3h0.75M184.0 85.0h0.75M170.7 100.0h0.75M184.6 96.4h0.75M176.0 80.5h0.75M189.7 78.8h0.75M166.7 99.8h0.75M186.7 76.9h0.75M166.3 98.2h0.75M179.0 80.2h0.75M179.6 75.1h0.75M165.6 104.8h0.75M171.4 91.7h0.75M170.7 88.4h0.75M168.6 101.6h0.75M158.2 101.5h0.75M173.7 99.4h0.75M177.2 73.5h0.75M161.3 78.6h0.75M180.6 89.1h0.75M172.0 94.8h0.75M198.5 80.3h0.75M159.2 73.3h0.75M174.3 75.4h0.75M178.2 108.2h0.75M175.4 91.0h0.75M164.6 79.1h0.75M165.9 103.6h0.75M178.2 101.9h0.75M189.3 74.7h0.75M158.0 96.4h0.75M173.0 109.6h0.75M163.8 93.4h0.75M161.7 88.0h0.75M168.9 87.3h0.75M172.4 109.1h0.75M174.7 70.8h0.75M164.9 94.8h0.75M166.1 88.1h0.75M181.6 105.2h0.75M158.0 97.2h0.75M158.3 103.2h0.75M185.6 91.4h0.75M172.9 100.2h0.75M168.3 108.5h0.75M163.9 100.0h0.75M174.3 101.4h0.75M166.9 109.8h0.75M165.5 94.6h0.75M175.7 73.9h0.75M185.6 78.4h0.75M168.4 98.9h0.75M175.3 76.8h0.75M190.2 89.8h0.75M165.6 92.1h0.75M167.4 107.2h0.75M172.2 81.7h0.75M167.1 86.4h0.75M172.3 85.1h0.75M166.8 79.6h0.75M168.6 72.8h0.75M162.0 107.4h0.75M160.9 93.6h0.75M165.1 97.6h0.75M165.2 77.9h0.75M191.4 83.1h0.75M169.6 104.6h0.75M173.2 79.1h0.75M171.2 107.0h0.75M178.9 97.3h0.75M175.9 88.6h0.75M191.2 89.9h0.75M161.4 106.2h0.75M181.9 82.4h0.75M164.8 94.7h0.75M166.6 99.0h0.75M188.0 96.6h0.75M176.3 78.8h0.75M171.5 90.9h0.75M173.8 77.6h0.75M155.4 110.4h0.75M171.8 97.1h0.75M188.9 90.9h0.75M174.1 104.1h0.75M158.6 88.7h0.75M172.2 72.4h0.75M172.5 74.5h0.75M183.1 80.8h0.75M184.8 77.5h0.75M164.1 84.3h0.75M194.8 90.3h0.75M193.7 72.9h0.75M174.7 86.5h0.75M168.4 90.2h0.75M158.2 98.3h0.75M194.9 89.2h0.75M162.4 88.4h0.75M155.5 109.4h0.75M173.4 101.0h0.75M171.3 100.7h0.75M163.7 90.0h0.75M168.1 98.7h0.75M171.4 107.2h0.75M171.4 97.2h0.75M164.6 107.1h0.75M180.8 99.6h0.75M179.0 104.0h0.75M177.7 101.1h0.75M169.8 101.2h0.75M183.8 90.6h0.75M164.9 96.2h0.75M157.1 103.5h0.75M182.4 87.0h0.75M170.7 93.9h0.75M169.9 87.2h0.75M165.1 90.6h0.75M165.2 80.3h0.75M174.4 95.5h0.75M169.2 107.0h0.75M170.4 110.7h0.75M159.5 104.3h0.75M179.3 74.6h0.75M158.6 107.7h0.75M169.1 106.0h0.75M180.5 86.0h0.75M171.0 99.6h0.75M166.8 97.4h0.75M158.2 76.0h0.75M162.5 109.8h0.75M171.4 111.4h0.75M165.8 92.4h0.75M176.1 83.8h0.75M178.3 80.3h0.75M161.5 88.6h0.75M181.0 106.6h0.75M163.8 80.5h0.75M156.1 102.6h0.75M174.0 82.9h0.75M161.4 74.8h0.75M166.2 91.3h0.75M162.0 90.2h0.75M171.2 84.2h0.75M158.1 108.6h0.75M175.1 95.8h0.75M196.5 76.8h0.75M156.7 78.0h0.75M181.1 87.8h0.75M176.8 84.3h0.75M168.1 86.2h0.75M160.0 94.8h0.75M173.0 79.9h0.75M180.7 96.0h0.75M169.8 89.4h0.75M162.1 89.7h0.75M182.9 77.9h0.75M164.6 94.4h0.75M172.0 108.7h0.75M182.7 77.8h0.75M165.8 77.2h0.75M169.7 109.1h0.75M159.0 105.8h0.75M192.2 83.9h0.75M160.4 105.6h0.75M167.1 86.8h0.75M158.0 89.9h0.75M172.8 90.4h0.75M171.1 106.2h0.75M180.1 73.7h0.75M179.7 93.9h0.75M166.0 101.0h0.75M180.3 105.7h0.75M173.2 85.3h0.75M173.7 81.2h0.75M181.2 92.3h0.75M183.6 94.8h0.75M170.4 111.1h0.75M177.3 99.8h0.75M180.5 83.9h0.75M161.4 80.3h0.75M189.4 90.9h0.75M177.3 93.7h0.75M171.3 84.1h0.75M179.3 95.4h0.75M172.6 105.4h0.75M166.2 99.8h0.75M155.4 100.7h0.75M170.8 82.6h0.75M176.7 90.7h0.75M167.4 83.0h0.75M153.9 99.8h0.75M181.2 81.1h0.75M185.8 75.6h0.75M180.7 84.7h0.75M179.2 95.2h0.75M178.6 93.3h0.75M190.5 88.2h0.75M156.1 87.3h0.75M166.3 89.3h0.75M159.0 99.3h0.75M171.9 106.5h0.75M176.9 102.5h0.75M155.0 102.8h0.75M169.0 103.6h0.75M168.6 106.5h0.75M177.5 92.0h0.75M175.6 97.9h0.75M173.5 111.3h0.75M174.5 100.1h0.75M180.4 90.0h0.75M171.1 101.4h0.75M164.2 105.8h0.75M176.6 95.3h0.75M176.0 100.1h0.75M165.7 76.2h0.75M155.4 106.7h0.75M178.8 88.4h0.75M160.2 96.6h0.75M179.8 104.2h0.75M171.3 88.5h0.75M175.3 82.3h0.75M161.4 103.5h0.75M170.4 85.4h0.75M172.5 96.8h0.75M154.6 111.9h0.75M166.2 86.0h0.75M173.0 99.0h0.75M183.9 95.7h0.75M172.5 93.8h0.75M159.2 98.7h0.75M183.9 76.1h0.75M169.3 104.8h0.75M171.1 70.2h0.75M186.8 91.2h0.75M172.2 113.3h0.75M166.8 74.0h0.75M164.8 100.1h0.75M162.7 78.5h0.75M173.3 72.5h0.75M164.4 103.0h0.75M160.7 110.2h0.75M166.4 96.0h0.75M184.4 85.3h0.75M182.1 85.7h0.75M159.5 112.0h0.75M160.7 95.1h0.75M168.1 105.9h0.75M166.5 87.6h0.75M175.0 75.1h0.75M159.6 102.2h0.75M182.2 83.9h0.75M160.2 109.7h0.75M175.7 86.6h0.75M168.0 91.2h0.75M178.9 89.2h0.75M173.7 86.8h0.75M181.7 82.8h0.75M160.8 83.5h0.75M179.5 79.4h0.75M174.5 74.4h0.75M154.9 100.8h0.75M173.7 90.7h0.75M163.7 98.4h0.75M183.8 78.5h0.75M184.9 86.5h0.75M167.6 75.4h0.75M181.6 87.1h0.75M185.5 82.2h0.75M163.0 86.7h0.75M182.4 75.4h0.75M172.0 90.6h0.75M166.2 81.9h0.75M166.7 88.0h0.75M177.7 97.7h0.75M161.5 88.9h0.75M167.8 78.6h0.75M170.9 82.2h0.75M176.4 106.4h0.75M185.7 71.3h0.75M165.8 94.6h0.75M172.0 107.7h0.75M169.5 84.0h0.75M191.2 100.0h0.75M170.2 111.6h0.75M172.0 92.8h0.75M168.2 82.4h0.75M177.6 95.3h0.75M169.4 112.3h0.75M173.9 74.8h0.75M178.2 102.3h0.75M164.8 83.9h0.75M169.8 90.7h0.75M177.2 82.5h0.75M178.8 99.5h0.75M197.0 97.1h0.75M164.7 111.2h0.75M177.9 78.0h0.75M196.1 71.6h0.75M193.2 101.4h0.75M182.1 94.9h0.75M184.8 94.5h0.75M158.7 93.6h0.75M171.5 72.1h0.75M167.4 86.3h0.75M165.8 85.6h0.75M195.0 94.6h0.75M182.4 97.5h0.75M189.1 98.7h0.75M172.0 74.3h0.75M162.5 88.9h0.75M167.1 87.4h0.75M169.3 93.4h0.75M171.8 98.6h0.75M168.5 93.2h0.75M184.2 77.7h0.75M193.0 89.1h0.75M189.6 86.6h0.75M181.0 80.7h0.75M169.7 110.0h0.75M174.5 79.4h0.75M170.0 99.4h0.75M167.3 95.4h0.75M165.0 100.7h0.75M184.0 82.8h0.75M158.5 104.3h0.75M183.6 75.2h0.75M165.6 78.3h0.75M156.3 101.9h0.75M184.6 90.3h0.75M177.5 71.0h0.75M175.6 95.2h0.75M194.0 76.2h0.75M173.0 108.2h0.75M196.8 84.7h0.75M170.6 92.2h0.75M158.8 87.5h0.75M166.8 98.8h0.75M164.9 77.7h0.75M185.7 96.1h0.75M188.3 76.8h0.75M173.7 100.6h0.75M174.6 106.1h0.75M172.1 87.3h0.75M183.5 85.5h0.75M162.3 87.3h0.75M164.6 95.2h0.75M159.0 71.8h0.75M155.6 84.5h0.75M180.1 102.0h0.75M170.6 76.8h0.75M158.7 103.5h0.75M178.6 98.0h0.75M196.8 75.2h0.75M154.3 83.8h0.75M170.9 93.7h0.75M183.6 68.1h0.75M167.4 79.3h0.75M191.3 93.3h0.75M181.6 109.7h0.75M185.0 105.5h0.75M178.1 105.8h0.75M182.8 110.4h0.75M189.8 100.3h0.75M188.1 100.3h0.75M181.6 110.7h0.75M188.8 90.5h0.75M183.7 104.6h0.75M184.1 103.3h0.75M177.7 98.1h0.75M182.1 109.5h0.75M189.2 102.8h0.75M191.1 93.3h0.75M184.3 108.5h0.75M176.3 102.5h0.75M182.8 97.4h0.75M178.0 100.7h0.75M183.4 97.3h0.75M179.2 106.3h0.75M189.4 96.1h0.75M187.8 109.9h0.75M187.7 104.1h0.75M184.5 91.8h0.75M184.4 101.3h0.75M178.5 109.1h0.75M175.2 107.2h0.75M175.5 111.6h0.75M187.6 101.6h0.75M175.3 95.3h0.75M182.7 100.8h0.75M185.8 103.6h0.75M177.8 111.5h0.75M186.8 100.0h0.75M195.3 100.1h0.75M180.2 109.5h0.75M178.4 104.0h0.75M186.0 104.6h0.75M178.6 111.3h0.75M173.2 113.2h0.75M181.8 108.5h0.75M181.7 106.9h0.75M179.1 100.0h0.75M184.4 98.6h0.75M179.4 103.8h0.75M185.0 91.4h0.75M177.0 96.0h0.75M189.8 95.8h0.75M186.8 109.5h0.75M179.2 107.5h0.75M185.2 95.5h0.75M188.5 101.4h0.75M190.2 106.5h0.75M181.0 95.2h0.75M189.7 105.9h0.75M189.1 96.2h0.75M187.5 107.5h0.75M179.4 105.4h0.75M189.8 96.9h0.75M172.8 106.8h0.75M181.5 104.5h0.75M180.1 95.5h0.75M181.7 101.4h0.75M182.2 111.5h0.75M181.3 97.1h0.75M186.6 91.7h0.75M177.4 99.0h0.75M177.1 109.8h0.75M189.1 101.3h0.75M183.3 93.7h0.75M186.6 108.8h0.75M186.8 106.9h0.75M183.9 107.4h0.75M186.4 104.9h0.75M177.6 104.7h0.75M179.0 112.1h0.75M178.5 105.2h0.75M174.8 108.5h0.75M185.4 106.0h0.75M181.1 109.3h0.75M182.5 109.4h0.75M181.8 99.3h0.75M177.5 102.6h0.75M181.5 99.6h0.75M181.8 104.0h0.75M186.3 99.8h0.75M182.3 92.7h0.75M185.7 103.9h0.75M192.3 104.0h0.75M180.9 104.9h0.75M185.2 104.1h0.75M181.1 97.9h0.75M181.2 93.8h0.75M183.8 105.5h0.75M186.4 95.9h0.75M189.2 102.7h0.75M185.2 97.2h0.75M190.8 105.3h0.75M187.1 94.9h0.75M189.3 102.0h0.75M183.3 94.5h0.75M176.3 111.6h0.75M177.7 109.8h0.75M186.3 95.7h0.75M177.4 96.0h0.75M184.0 107.9h0.75M183.4 109.8h0.75M176.5 98.3h0.75M179.8 98.4h0.75M188.5 100.6h0.75M175.8 98.7h0.75M175.6 113.3h0.75M177.6 107.1h0.75M185.1 101.9h0.75M176.0 105.7h0.75M178.7 99.5h0.75M177.8 100.0h0.75M181.5 100.8h0.75M180.2 106.9h0.75M183.2 93.0h0.75M176.1 98.8h0.75M183.5 100.4h0.75M177.7 111.3h0.75M179.7 110.7h0.75M185.3 108.5h0.75M175.8 108.0h0.75M184.4 102.1h0.75M190.5 103.9h0.75M175.8 101.7h0.75M181.4 103.8h0.75M184.9 96.5h0.75M183.9 108.4h0.75M177.5 100.7h0.75M173.8 105.3h0.75M182.7 101.6h0.75M179.1 112.6h0.75M188.0 95.7h0.75M175.9 104.2h0.75M175.4 110.1h0.75M187.3 98.4h0.75M185.7 101.8h0.75M190.7 98.7h0.75M184.7 111.0h0.75M180.4 96.3h0.75M181.2 91.6h0.75M184.3 94.7h0.75M177.9 110.3h0.75M183.1 111.4h0.75M179.6 107.8h0.75M186.0 99.2h0.75M179.9 110.7h0.75M187.7 108.5h0.75M182.0 97.4h0.75M182.1 100.5h0.75M188.9 94.1h0.75M189.4 99.5h0.75M176.7 101.0h0.75M190.5 100.6h0.75M182.2 105.6h0.75M180.6 107.1h0.75M181.0 110.8h0.75M178.1 96.4h0.75M183.9 98.4h0.75M176.3 104.6h0.75M184.3 97.4h0.75M174.0 109.1h0.75M187.1 102.2h0.75M185.0 93.7h0.75M177.9 99.4h0.75M173.9 111.9h0.75M184.6 109.4h0.75M186.1 94.2h0.75M187.8 97.8h0.75M182.6 99.6h0.75M188.0 103.3h0.75M183.4 98.4h0.75M190.6 106.9h0.75M175.6 102.0h0.75M177.3 96.7h0.75M182.7 105.2h0.75M185.1 108.2h0.75M182.2 91.4h0.75M184.0 100.8h0.75M186.5 108.1h0.75M181.5 102.8h0.75M184.5 103.8h0.75M186.4 103.5h0.75M186.0 109.0h0.75M175.0 109.3h0.75M185.3 99.7h0.75M185.9 99.4h0.75M183.4 106.8h0.75M177.4 103.3h0.75M187.7 90.7h0.75M185.3 110.2h0.75M189.3 99.2h0.75M178.2 91.2h0.75M186.0 109.8h0.75M172.9 110.5h0.75M184.1 110.3h0.75M184.5 110.0h0.75M184.4 94.0h0.75M190.5 99.4h0.75M189.3 104.6h0.75M177.9 103.2h0.75M185.6 104.4h0.75M184.2 101.8h0.75M180.8 100.7h0.75" stroke="#000" stroke-width="0.75"/>
<rect x="29.3" y="152.2" width="47.9" height="47.0" fill="#fff" stroke="#999" stroke-width=".6"/>
<rect x="45.6" y="152.7" width="30.7" height="46.0" fill="#eeeeee" stroke="#b5b5b5" stroke-width=".5"/>
<path d="M45.6 181.3H76.3" stroke="#aaa" stroke-width=".5"/>
<text x="30.6" y="155.4" font-size="3.1" fill="#555">22.3</text>
<text x="75.9" y="155.4" font-size="3.1" fill="#555" text-anchor="end">14.2</text>
<text x="30.6" y="198.2" font-size="3.1" fill="#555">52.1</text>
<text x="75.9" y="198.2" font-size="3.1" fill="#555" text-anchor="end">11.1</text>
<text x="28.1" y="200.1" font-size="3.2" text-anchor="end" fill="#444" transform="rotate(-15 28.1 200.1)">10<tspan font-size="2.1" dy="-1.2">0</tspan></text>
<text x="28.1" y="188.3" font-size="3.2" text-anchor="end" fill="#444" transform="rotate(-15 28.1 188.3)">10<tspan font-size="2.1" dy="-1.2">1</tspan></text>
<text x="28.1" y="176.6" font-size="3.2" text-anchor="end" fill="#444" transform="rotate(-15 28.1 176.6)">10<tspan font-size="2.1" dy="-1.2">2</tspan></text>
<text x="28.1" y="164.8" font-size="3.2" text-anchor="end" fill="#444" transform="rotate(-15 28.1 164.8)">10<tspan font-size="2.1" dy="-1.2">3</tspan></text>
<text x="28.1" y="153.1" font-size="3.2" text-anchor="end" fill="#444" transform="rotate(-15 28.1 153.1)">10<tspan font-size="2.1" dy="-1.2">4</tspan></text>
<text x="29.8" y="204.1" font-size="3.2" text-anchor="middle" fill="#444" transform="rotate(-15 29.8 204.1)">10<tspan font-size="2.1" dy="-1.2">0</tspan></text>
<text x="41.8" y="204.1" font-size="3.2" text-anchor="middle" fill="#444" transform="rotate(-15 41.8 204.1)">10<tspan font-size="2.1" dy="-1.2">1</tspan></text>
<text x="53.8" y="204.1" font-size="3.2" text-anchor="middle" fill="#444" transform="rotate(-15 53.8 204.1)">10<tspan font-size="2.1" dy="-1.2">2</tspan></text>
<text x="65.7" y="204.1" font-size="3.2" text-anchor="middle" fill="#444" transform="rotate(-15 65.7 204.1)">10<tspan font-size="2.1" dy="-1.2">3</tspan></text>
<text x="77.7" y="204.1" font-size="3.2" text-anchor="middle" fill="#444" transform="rotate(-15 77.7 204.1)">10<tspan font-size="2.1" dy="-1.2">4</tspan></text>
<clipPath id="k7"><rect x="29.7" y="152.6" width="47.1" height="46.2"/></clipPath><g clip-path="url(#k7)"><path d="M38 163L41.5 163L43.5 172L43.8 199L36 199L36.5 172Z" filter="url(#b8)" fill-opacity="0.97"/></g><path d="M38.5 192.5h0.75M38.2 193.0h0.75M40.7 176.0h0.75M38.7 191.4h0.75M44.5 188.1h0.75M42.8 182.4h0.75M42.8 186.1h0.75M40.3 194.4h0.75M38.1 177.3h0.75M38.0 190.0h0.75M41.5 180.9h0.75M41.1 192.7h0.75M43.3 176.8h0.75M37.0 178.2h0.75M39.6 191.8h0.75M37.2 181.9h0.75M37.3 164.9h0.75M39.1 193.6h0.75M39.7 198.2h0.75M42.5 193.0h0.75M40.5 187.3h0.75M42.1 173.3h0.75M41.6 183.3h0.75M37.3 183.6h0.75M36.8 188.1h0.75M40.0 184.2h0.75M38.8 172.7h0.75M39.6 165.0h0.75M41.7 181.3h0.75M38.5 170.5h0.75M41.9 173.0h0.75M39.2 168.1h0.75M42.1 170.6h0.75M38.9 187.1h0.75M37.6 193.9h0.75M42.0 179.4h0.75M40.8 179.8h0.75M44.7 179.0h0.75M43.8 193.2h0.75M38.1 182.5h0.75M44.0 188.8h0.75M37.1 165.0h0.75M42.5 189.8h0.75M39.3 189.1h0.75M37.5 174.8h0.75M40.0 198.3h0.75M39.7 172.1h0.75M40.0 185.2h0.75M38.6 164.9h0.75M36.1 188.9h0.75M37.0 192.2h0.75M37.6 178.1h0.75M37.5 181.6h0.75M42.0 194.6h0.75M43.8 185.4h0.75M41.7 168.9h0.75M42.7 170.0h0.75M39.5 169.4h0.75M40.5 178.3h0.75M38.0 181.1h0.75M39.3 163.7h0.75M35.1 185.0h0.75M38.8 189.1h0.75M40.0 167.7h0.75M42.2 170.9h0.75M36.2 193.5h0.75M40.3 198.6h0.75M42.0 193.2h0.75M41.0 190.0h0.75M41.4 168.0h0.75M40.5 168.1h0.75M42.4 176.1h0.75M40.6 167.3h0.75M38.7 190.0h0.75M35.9 172.3h0.75M43.4 193.3h0.75M39.6 170.7h0.75M43.1 170.5h0.75M42.6 188.4h0.75M36.9 167.4h0.75M40.9 185.0h0.75M36.0 187.9h0.75M39.0 180.0h0.75M40.3 177.9h0.75M41.4 174.1h0.75M39.9 183.0h0.75M39.9 168.8h0.75M42.5 189.7h0.75M42.1 190.8h0.75M43.1 190.5h0.75M38.7 162.7h0.75M39.7 183.3h0.75M37.2 175.4h0.75M43.4 198.2h0.75M41.0 184.5h0.75M38.2 179.6h0.75M39.1 177.3h0.75M37.1 177.3h0.75M40.2 165.0h0.75M40.0 174.3h0.75M42.1 169.4h0.75M39.0 172.0h0.75M41.7 169.9h0.75M37.0 185.4h0.75M41.5 176.8h0.75M40.7 164.0h0.75M39.2 182.6h0.75M43.2 179.8h0.75M44.6 197.7h0.75M38.8 190.6h0.75M36.9 193.5h0.75M43.9 180.3h0.75M42.2 169.8h0.75M42.1 181.3h0.75M38.7 176.5h0.75M36.6 184.0h0.75M34.3 197.9h0.75M39.8 180.5h0.75M40.9 164.9h0.75M41.5 175.5h0.75M42.2 177.2h0.75M40.6 173.1h0.75M42.4 172.5h0.75M41.4 176.5h0.75M40.7 179.4h0.75M37.1 196.5h0.75M38.0 180.2h0.75M38.1 189.3h0.75M35.9 175.3h0.75M42.6 169.0h0.75M40.5 172.1h0.75M40.8 193.3h0.75M36.4 176.6h0.75M39.8 171.1h0.75M35.4 173.3h0.75M36.7 190.6h0.75M41.1 177.1h0.75M35.0 177.5h0.75M34.6 176.5h0.75M42.3 178.1h0.75M39.4 170.9h0.75M41.1 169.3h0.75M38.7 170.1h0.75M42.3 177.4h0.75M39.3 179.1h0.75M42.2 190.7h0.75M38.1 187.1h0.75M39.3 173.7h0.75M36.7 195.1h0.75M41.4 184.6h0.75M39.5 188.2h0.75M41.3 197.5h0.75M38.8 174.6h0.75M38.3 173.0h0.75M40.7 189.1h0.75M39.5 175.7h0.75M39.4 171.6h0.75M36.6 179.0h0.75M36.4 179.7h0.75M40.3 184.6h0.75M41.1 171.0h0.75M40.1 175.8h0.75M39.2 196.4h0.75M42.9 180.7h0.75M43.2 181.2h0.75M42.2 176.7h0.75M41.6 173.0h0.75M36.2 176.3h0.75M41.1 186.6h0.75M40.8 194.6h0.75M36.8 194.2h0.75M38.5 178.4h0.75M38.3 168.9h0.75M37.5 188.3h0.75M39.7 193.7h0.75M33.9 193.5h0.75M36.9 174.4h0.75M38.7 194.0h0.75M37.9 167.6h0.75M41.0 181.8h0.75M37.5 175.8h0.75M39.6 182.8h0.75M36.6 178.0h0.75M39.9 192.5h0.75M42.8 188.5h0.75M37.5 174.1h0.75M40.7 195.5h0.75M42.3 172.2h0.75M36.4 192.7h0.75M40.6 191.8h0.75M39.3 197.1h0.75M39.8 179.9h0.75M41.7 175.8h0.75M36.5 196.5h0.75M43.9 172.4h0.75M42.4 195.7h0.75M35.9 169.1h0.75M42.6 182.8h0.75M39.4 176.8h0.75M35.5 196.8h0.75M40.8 196.2h0.75M43.9 193.5h0.75M39.9 176.4h0.75M40.6 184.1h0.75M41.8 196.4h0.75M43.0 194.2h0.75M41.9 164.2h0.75M38.0 162.8h0.75M39.2 196.1h0.75M35.3 176.9h0.75M44.8 167.8h0.75M41.1 178.1h0.75M42.9 195.7h0.75M37.7 194.5h0.75M36.9 164.2h0.75M38.6 169.5h0.75M39.0 176.8h0.75M40.0 173.8h0.75M42.1 194.8h0.75M40.7 190.1h0.75M36.2 189.7h0.75M42.6 170.3h0.75M41.0 195.6h0.75M58.3 175.4h0.75M63.8 175.1h0.75M56.1 166.9h0.75M50.0 169.2h0.75M57.9 166.9h0.75M53.1 174.7h0.75M46.8 165.2h0.75M64.3 173.2h0.75M60.0 171.4h0.75M55.3 169.6h0.75M55.6 169.8h0.75M60.7 170.2h0.75M63.1 176.4h0.75M51.2 177.2h0.75M57.2 174.2h0.75M47.5 169.6h0.75M61.5 163.2h0.75M53.9 175.7h0.75M44.1 165.6h0.75M53.3 164.0h0.75M54.8 168.6h0.75M48.9 173.0h0.75M54.4 171.0h0.75M52.4 171.4h0.75M49.1 169.7h0.75M59.3 165.8h0.75M59.9 174.8h0.75M63.6 175.9h0.75M48.7 178.3h0.75M62.3 171.7h0.75M51.5 178.5h0.75M61.7 168.5h0.75M53.5 166.2h0.75M65.5 177.9h0.75M57.2 175.5h0.75M56.2 168.2h0.75M63.9 178.1h0.75M60.7 178.7h0.75M58.8 176.4h0.75M65.1 173.8h0.75M54.0 169.3h0.75M46.8 164.5h0.75M44.9 177.9h0.75M64.0 175.9h0.75M63.1 165.1h0.75M47.2 166.2h0.75M47.4 176.6h0.75M58.4 170.6h0.75M59.5 169.4h0.75M55.2 171.5h0.75M58.8 171.4h0.75M60.7 176.0h0.75M56.9 168.8h0.75M58.9 165.5h0.75M59.3 168.3h0.75M50.1 172.6h0.75M49.6 169.0h0.75M47.0 162.0h0.75M65.7 174.8h0.75M48.5 172.1h0.75M60.9 169.3h0.75M54.6 178.1h0.75M50.6 172.3h0.75M57.8 169.9h0.75M56.3 170.6h0.75M62.2 169.3h0.75M61.2 168.2h0.75M58.7 164.8h0.75M48.2 176.0h0.75M54.6 168.6h0.75M48.4 171.6h0.75M50.3 174.5h0.75M45.4 168.6h0.75M55.9 174.1h0.75M63.7 172.8h0.75M58.3 168.2h0.75M56.5 170.9h0.75M58.3 167.6h0.75M57.6 175.8h0.75M56.3 164.3h0.75M64.0 166.3h0.75M47.8 177.3h0.75M54.2 171.3h0.75M63.4 171.6h0.75M60.0 166.3h0.75M50.8 168.4h0.75M52.9 171.3h0.75M63.8 169.4h0.75M51.3 172.0h0.75M49.1 169.0h0.75M51.7 168.7h0.75M55.8 174.8h0.75M56.2 176.1h0.75M46.6 176.0h0.75M58.1 168.0h0.75M61.9 164.7h0.75M46.6 171.7h0.75M58.1 173.5h0.75M63.7 166.8h0.75M52.9 166.5h0.75M59.8 163.2h0.75M48.0 168.3h0.75M52.3 176.0h0.75M62.8 169.6h0.75M58.6 170.2h0.75M48.6 170.7h0.75M48.5 163.2h0.75M52.2 164.4h0.75M49.8 168.7h0.75M54.7 166.0h0.75M50.6 169.6h0.75M51.3 175.1h0.75M48.9 176.1h0.75M52.8 165.0h0.75M64.5 169.6h0.75M59.6 168.2h0.75M63.0 166.5h0.75M55.8 173.1h0.75M51.7 176.7h0.75M52.8 168.3h0.75M53.7 162.8h0.75M53.8 174.9h0.75M51.7 173.4h0.75M58.7 163.1h0.75M47.3 174.9h0.75M61.9 176.9h0.75M55.4 176.4h0.75M61.7 165.7h0.75M50.3 164.6h0.75M57.7 172.3h0.75M47.1 166.7h0.75M64.9 179.0h0.75M57.5 166.3h0.75M62.9 168.9h0.75M52.2 171.2h0.75M63.5 166.4h0.75M62.8 172.8h0.75M66.1 171.7h0.75M55.8 169.7h0.75M45.6 169.8h0.75M49.2 167.7h0.75M62.8 177.3h0.75M60.3 180.1h0.75M47.6 167.5h0.75M61.0 173.6h0.75M57.3 175.2h0.75M56.3 174.9h0.75M54.8 164.8h0.75M59.1 166.0h0.75M48.2 169.1h0.75M51.3 166.5h0.75M48.6 164.1h0.75M63.8 179.8h0.75M53.5 172.2h0.75M52.6 169.4h0.75M53.6 175.8h0.75M65.8 168.0h0.75M51.0 169.4h0.75M57.5 165.5h0.75M61.3 176.7h0.75M48.0 170.1h0.75M58.5 166.9h0.75M57.9 165.6h0.75M58.4 171.2h0.75M57.0 170.5h0.75M60.1 177.2h0.75M58.7 172.6h0.75M58.7 169.6h0.75M56.7 169.5h0.75M63.2 163.7h0.75M64.0 167.6h0.75M59.5 172.0h0.75M59.6 168.9h0.75M56.4 165.9h0.75M51.7 172.6h0.75M52.3 165.9h0.75M48.7 168.6h0.75M49.4 176.2h0.75M54.6 169.4h0.75M51.7 162.3h0.75M62.5 177.2h0.75M54.9 171.8h0.75M52.0 175.3h0.75M48.7 164.5h0.75M56.0 193.8h0.75M53.5 191.0h0.75M54.7 185.8h0.75M47.8 192.0h0.75M62.9 189.9h0.75M58.5 190.3h0.75M49.0 190.9h0.75M64.7 189.2h0.75M57.2 193.6h0.75M59.1 188.8h0.75M59.8 188.3h0.75M49.1 188.0h0.75M49.0 193.4h0.75M52.9 190.4h0.75M48.1 187.0h0.75M54.9 191.1h0.75M47.4 185.1h0.75M53.5 192.6h0.75M59.2 191.4h0.75M55.1 187.0h0.75M55.9 188.3h0.75M59.2 190.6h0.75M60.7 191.6h0.75M62.9 190.8h0.75M63.9 194.8h0.75M61.6 191.9h0.75M62.1 184.2h0.75M50.3 189.3h0.75M52.7 189.1h0.75M54.3 188.9h0.75M55.7 187.3h0.75M54.2 188.5h0.75M51.7 191.5h0.75M49.0 192.9h0.75M50.0 193.1h0.75M46.8 188.8h0.75M46.5 187.4h0.75M48.0 186.7h0.75M45.2 189.6h0.75M52.2 187.1h0.75M54.5 189.7h0.75M47.3 192.0h0.75M66.0 194.0h0.75M46.1 192.9h0.75M59.4 185.6h0.75M63.5 188.6h0.75M61.6 192.9h0.75M51.1 190.3h0.75M61.2 189.0h0.75M57.3 191.8h0.75M63.5 190.7h0.75M62.5 186.6h0.75M53.8 192.7h0.75M56.7 186.8h0.75M48.6 186.1h0.75M60.6 190.6h0.75M49.9 187.7h0.75M52.7 193.7h0.75M59.6 192.0h0.75M57.5 186.5h0.75M63.2 192.8h0.75M62.4 185.1h0.75M57.7 188.7h0.75M60.2 192.0h0.75M49.4 192.9h0.75M58.6 191.6h0.75M61.0 184.8h0.75M59.5 187.5h0.75M48.6 188.0h0.75M61.3 188.3h0.75M61.8 187.3h0.75M59.1 186.2h0.75M52.8 185.7h0.75M49.3 187.4h0.75M59.9 187.0h0.75M52.6 194.7h0.75M58.6 192.6h0.75M59.1 194.8h0.75M51.6 186.6h0.75M45.0 186.4h0.75M49.4 188.7h0.75M54.3 184.7h0.75M55.5 193.2h0.75M60.9 190.9h0.75M48.3 190.2h0.75M57.1 194.1h0.75M62.2 194.5h0.75M48.3 192.3h0.75M51.9 188.6h0.75M65.8 187.4h0.75M64.2 193.3h0.75M49.3 189.0h0.75M60.5 187.8h0.75M53.8 187.9h0.75M53.5 185.9h0.75M51.6 188.1h0.75M46.0 186.1h0.75M57.7 183.2h0.75M55.6 187.8h0.75M53.8 192.1h0.75M56.2 194.5h0.75M55.0 189.2h0.75M48.4 190.4h0.75M52.7 188.1h0.75M54.6 192.3h0.75M65.3 186.1h0.75M46.2 189.2h0.75M49.5 190.1h0.75M54.8 185.2h0.75M52.1 191.7h0.75M51.2 194.4h0.75M61.1 190.4h0.75M54.5 189.8h0.75M61.8 190.7h0.75M58.3 188.5h0.75M59.1 190.0h0.75M61.7 190.9h0.75M51.8 191.2h0.75M56.2 186.4h0.75M54.2 183.6h0.75M65.0 187.7h0.75M50.6 192.3h0.75M48.8 189.8h0.75M54.3 188.4h0.75M45.9 188.3h0.75M55.3 194.6h0.75M55.3 185.1h0.75M60.2 191.5h0.75M46.8 185.4h0.75M47.3 188.3h0.75M51.2 191.9h0.75M50.7 196.4h0.75M58.8 191.8h0.75M54.7 194.6h0.75M61.9 186.9h0.75M54.4 187.3h0.75M52.5 192.4h0.75M63.4 185.6h0.75M49.3 186.8h0.75M58.3 193.9h0.75M48.7 187.1h0.75M48.5 186.7h0.75M51.5 185.1h0.75M62.5 185.8h0.75M52.7 191.4h0.75M47.2 185.9h0.75M47.4 190.4h0.75M60.8 188.4h0.75M55.5 190.8h0.75M62.9 192.7h0.75M52.7 188.6h0.75M59.1 188.0h0.75M53.4 193.1h0.75M47.6 190.9h0.75M60.7 192.9h0.75M63.1 191.9h0.75M60.6 189.1h0.75M58.5 195.2h0.75M46.8 191.8h0.75M59.3 187.2h0.75M61.7 190.0h0.75M56.2 191.5h0.75M53.7 192.2h0.75M55.2 192.4h0.75M56.5 185.8h0.75M51.7 185.6h0.75M65.1 189.4h0.75M53.9 187.7h0.75M53.2 188.3h0.75M51.3 187.0h0.75M59.4 185.9h0.75M60.1 194.3h0.75M51.0 190.9h0.75M57.8 184.5h0.75M52.0 193.7h0.75M51.2 186.5h0.75M52.3 186.0h0.75M46.6 184.5h0.75M52.1 186.4h0.75M58.3 193.2h0.75M55.4 192.1h0.75M49.3 184.0h0.75M61.6 188.0h0.75M47.0 185.1h0.75M50.7 188.1h0.75M52.1 185.9h0.75M56.2 184.0h0.75M60.0 183.0h0.75M53.9 182.7h0.75M60.9 184.1h0.75M50.5 176.2h0.75M50.6 184.6h0.75M55.8 185.2h0.75M50.5 181.5h0.75M47.7 179.2h0.75M55.4 175.3h0.75M58.8 180.9h0.75M64.7 183.7h0.75M62.5 182.4h0.75M66.2 184.7h0.75M58.6 181.5h0.75M50.8 184.9h0.75M50.9 178.2h0.75M57.9 181.1h0.75M57.8 182.1h0.75M54.8 182.1h0.75M48.2 184.4h0.75M58.8 184.1h0.75M53.2 179.8h0.75M48.0 179.0h0.75M49.1 183.9h0.75M47.6 180.4h0.75M55.4 182.0h0.75M60.1 186.5h0.75M50.5 181.8h0.75M56.4 178.5h0.75M54.2 181.9h0.75M62.1 180.7h0.75M51.6 183.7h0.75M62.0 182.8h0.75M54.2 183.0h0.75M52.7 180.0h0.75M64.4 183.9h0.75M51.8 181.4h0.75M60.6 174.8h0.75M59.0 180.2h0.75M48.0 180.9h0.75M54.5 185.6h0.75M50.2 180.8h0.75M53.1 185.1h0.75M60.2 177.5h0.75M53.2 187.6h0.75M48.9 183.5h0.75M61.8 183.5h0.75M58.3 179.5h0.75M50.1 186.8h0.75M55.4 186.9h0.75M66.2 183.1h0.75M50.2 185.8h0.75M47.8 185.6h0.75M55.2 184.5h0.75M64.5 181.8h0.75M54.3 181.6h0.75M56.9 182.4h0.75M52.5 181.1h0.75M56.0 183.5h0.75M55.2 182.7h0.75M45.8 183.5h0.75M49.7 179.6h0.75M67.5 180.6h0.75M60.0 180.1h0.75M52.2 176.3h0.75M48.9 183.2h0.75M60.1 182.4h0.75M57.6 177.9h0.75M58.9 177.7h0.75M48.6 178.1h0.75M58.2 176.9h0.75M53.1 184.0h0.75M52.1 182.6h0.75M51.9 178.6h0.75M59.0 174.8h0.75M47.9 178.7h0.75M63.1 178.1h0.75M46.0 185.2h0.75M49.1 179.4h0.75M53.3 181.1h0.75M46.2 177.6h0.75M58.7 183.6h0.75M61.2 175.9h0.75M63.5 168.7h0.75M64.3 171.7h0.75M64.8 173.0h0.75M62.4 168.6h0.75M57.8 169.4h0.75M64.0 169.8h0.75M64.8 173.7h0.75M61.7 169.2h0.75M59.9 168.0h0.75M59.8 170.2h0.75M60.9 174.5h0.75M60.3 166.5h0.75M62.5 172.7h0.75M57.9 169.1h0.75M61.0 174.8h0.75M59.2 167.3h0.75M61.3 172.4h0.75M60.6 168.3h0.75M57.6 172.8h0.75M59.3 170.4h0.75M58.8 168.6h0.75M59.5 166.8h0.75M56.6 170.2h0.75M62.8 166.1h0.75M60.5 165.8h0.75M62.6 174.0h0.75M62.5 167.9h0.75M59.5 167.6h0.75M58.2 173.2h0.75M60.3 173.6h0.75M60.8 168.5h0.75M60.6 174.1h0.75M56.6 176.0h0.75M59.8 167.3h0.75M60.8 172.8h0.75M57.8 170.8h0.75M59.5 174.4h0.75M64.2 172.6h0.75M56.3 168.3h0.75M63.9 171.2h0.75M58.5 165.6h0.75M59.5 173.7h0.75M57.4 174.1h0.75M62.2 169.9h0.75M61.2 171.4h0.75M56.5 167.0h0.75M65.1 169.3h0.75M60.0 171.8h0.75M58.9 169.5h0.75M55.0 170.2h0.75M63.7 175.7h0.75M61.3 170.5h0.75M62.0 175.8h0.75M58.2 174.4h0.75M62.6 167.0h0.75M58.2 176.5h0.75M63.0 168.1h0.75M59.1 172.6h0.75M57.3 166.8h0.75M61.5 165.8h0.75M60.4 169.3h0.75M59.8 174.0h0.75M62.5 166.3h0.75M60.2 167.2h0.75M61.4 173.3h0.75M60.7 169.1h0.75M56.9 170.9h0.75M60.6 171.1h0.75M61.7 177.5h0.75M57.6 168.2h0.75M62.5 171.0h0.75M60.1 175.7h0.75M65.9 172.9h0.75M60.7 167.7h0.75M63.3 169.7h0.75M60.4 172.9h0.75M64.6 166.9h0.75M63.8 166.8h0.75M58.7 171.7h0.75M60.5 172.5h0.75M62.8 172.1h0.75M61.4 191.4h0.75M63.7 186.7h0.75M59.6 192.5h0.75M58.0 185.9h0.75M60.1 189.6h0.75M60.4 192.7h0.75M55.0 188.4h0.75M57.4 187.8h0.75M64.2 189.9h0.75M59.0 193.1h0.75M58.6 189.6h0.75M61.4 186.5h0.75M59.8 190.5h0.75M62.3 189.1h0.75M61.9 189.1h0.75M61.6 192.5h0.75M56.2 189.1h0.75M55.6 186.6h0.75M60.1 189.9h0.75M57.6 189.2h0.75M53.7 191.3h0.75M55.5 185.8h0.75M58.4 185.7h0.75M60.2 193.4h0.75M66.2 188.0h0.75M58.2 189.3h0.75M56.7 190.0h0.75M55.9 185.9h0.75M60.7 191.9h0.75M54.0 191.3h0.75M62.0 185.1h0.75M57.2 190.9h0.75M59.6 188.9h0.75M63.8 188.4h0.75M61.2 191.4h0.75M64.5 191.1h0.75M59.7 189.6h0.75M55.8 193.2h0.75M63.2 186.4h0.75M60.7 189.7h0.75M60.3 188.7h0.75M58.4 187.9h0.75M53.9 188.9h0.75M52.7 194.8h0.75M58.8 191.0h0.75M62.5 185.7h0.75M60.3 193.7h0.75M57.9 187.6h0.75M57.0 188.0h0.75M56.7 191.9h0.75M60.2 184.9h0.75M59.4 191.1h0.75M56.6 192.5h0.75M63.6 191.6h0.75M55.8 189.3h0.75M60.4 194.2h0.75M57.3 191.4h0.75M62.6 193.7h0.75M63.4 189.8h0.75M59.5 191.4h0.75M57.4 187.3h0.75M56.9 190.4h0.75M59.4 190.5h0.75M56.4 191.0h0.75M56.7 191.6h0.75M62.2 188.1h0.75M62.2 193.0h0.75M59.9 189.2h0.75M62.9 189.7h0.75M63.2 187.0h0.75M56.1 192.7h0.75M56.7 190.5h0.75M62.6 187.3h0.75M61.5 187.0h0.75M60.8 189.9h0.75M63.9 187.5h0.75M61.2 192.4h0.75M63.1 187.3h0.75M61.8 192.5h0.75M61.0 186.8h0.75M65.3 188.7h0.75M54.5 190.4h0.75M58.0 188.0h0.75M55.3 193.6h0.75M62.4 189.6h0.75M56.5 185.4h0.75M64.4 189.9h0.75M57.7 192.5h0.75" stroke="#000" stroke-width="0.75"/>
<rect x="91.3" y="152.2" width="47.3" height="47.0" fill="#fff" stroke="#999" stroke-width=".6"/>
<rect x="107.4" y="152.7" width="30.3" height="46.0" fill="#eeeeee" stroke="#b5b5b5" stroke-width=".5"/>
<path d="M107.4 181.3H137.7" stroke="#aaa" stroke-width=".5"/>
<text x="92.6" y="155.4" font-size="3.1" fill="#555">13.8</text>
<text x="137.3" y="155.4" font-size="3.1" fill="#555" text-anchor="end">0.67</text>
<text x="92.6" y="198.2" font-size="3.1" fill="#555">85</text>
<text x="137.3" y="198.2" font-size="3.1" fill="#555" text-anchor="end">1.6</text>
<text x="90.1" y="200.1" font-size="3.2" text-anchor="end" fill="#444" transform="rotate(-15 90.1 200.1)">10<tspan font-size="2.1" dy="-1.2">0</tspan></text>
<text x="90.1" y="188.3" font-size="3.2" text-anchor="end" fill="#444" transform="rotate(-15 90.1 188.3)">10<tspan font-size="2.1" dy="-1.2">1</tspan></text>
<text x="90.1" y="176.6" font-size="3.2" text-anchor="end" fill="#444" transform="rotate(-15 90.1 176.6)">10<tspan font-size="2.1" dy="-1.2">2</tspan></text>
<text x="90.1" y="164.8" font-size="3.2" text-anchor="end" fill="#444" transform="rotate(-15 90.1 164.8)">10<tspan font-size="2.1" dy="-1.2">3</tspan></text>
<text x="90.1" y="153.1" font-size="3.2" text-anchor="end" fill="#444" transform="rotate(-15 90.1 153.1)">10<tspan font-size="2.1" dy="-1.2">4</tspan></text>
<text x="91.8" y="204.1" font-size="3.2" text-anchor="middle" fill="#444" transform="rotate(-15 91.8 204.1)">10<tspan font-size="2.1" dy="-1.2">0</tspan></text>
<text x="103.6" y="204.1" font-size="3.2" text-anchor="middle" fill="#444" transform="rotate(-15 103.6 204.1)">10<tspan font-size="2.1" dy="-1.2">1</tspan></text>
<text x="115.4" y="204.1" font-size="3.2" text-anchor="middle" fill="#444" transform="rotate(-15 115.4 204.1)">10<tspan font-size="2.1" dy="-1.2">2</tspan></text>
<text x="127.3" y="204.1" font-size="3.2" text-anchor="middle" fill="#444" transform="rotate(-15 127.3 204.1)">10<tspan font-size="2.1" dy="-1.2">3</tspan></text>
<text x="139.1" y="204.1" font-size="3.2" text-anchor="middle" fill="#444" transform="rotate(-15 139.1 204.1)">10<tspan font-size="2.1" dy="-1.2">4</tspan></text>
<clipPath id="k8"><rect x="91.7" y="152.6" width="46.5" height="46.2"/></clipPath><g clip-path="url(#k8)"><path d="M99.5 171L102 171L104.5 182L105.5 199L95.5 199L96.5 182Z" filter="url(#b8)" fill-opacity="0.97"/></g><path d="M100.3 179.5h0.75M105.5 195.0h0.75M95.4 187.7h0.75M101.2 197.9h0.75M100.5 189.6h0.75M101.4 189.1h0.75M104.6 196.7h0.75M99.9 189.1h0.75M103.8 192.6h0.75M101.4 174.7h0.75M98.6 184.5h0.75M106.0 186.7h0.75M103.5 177.3h0.75M100.8 176.3h0.75M101.1 172.7h0.75M97.5 188.4h0.75M105.2 181.4h0.75M103.2 169.4h0.75M100.7 183.2h0.75M96.2 183.3h0.75M101.0 183.9h0.75M100.9 189.7h0.75M100.9 194.2h0.75M100.1 183.5h0.75M96.5 185.4h0.75M104.4 178.6h0.75M99.0 181.0h0.75M95.4 194.5h0.75M98.8 195.7h0.75M99.3 172.5h0.75M100.3 187.4h0.75M100.0 179.8h0.75M99.9 179.3h0.75M102.5 187.9h0.75M106.2 194.0h0.75M100.2 174.0h0.75M97.8 191.4h0.75M98.8 196.9h0.75M98.2 187.6h0.75M103.2 181.0h0.75M98.1 188.1h0.75M102.2 179.6h0.75M98.2 192.4h0.75M103.3 190.8h0.75M99.8 176.2h0.75M103.2 183.7h0.75M102.9 193.3h0.75M100.7 177.9h0.75M100.9 171.8h0.75M98.0 186.9h0.75M102.5 196.1h0.75M98.4 174.2h0.75M100.9 193.5h0.75M104.1 174.3h0.75M99.4 198.3h0.75M101.1 180.7h0.75M99.2 181.7h0.75M100.8 190.7h0.75M102.8 188.6h0.75M104.5 194.4h0.75M103.3 175.8h0.75M96.9 196.9h0.75M98.2 183.0h0.75M96.7 186.4h0.75M104.8 188.9h0.75M97.9 177.8h0.75M100.6 190.7h0.75M95.5 181.6h0.75M97.4 198.1h0.75M99.5 183.7h0.75M98.7 172.4h0.75M103.2 190.1h0.75M100.6 176.2h0.75M105.4 198.5h0.75M97.0 178.5h0.75M103.5 192.0h0.75M101.3 190.5h0.75M98.6 196.6h0.75M101.4 180.7h0.75M98.2 177.0h0.75M103.6 186.4h0.75M98.8 180.0h0.75M100.4 183.4h0.75M101.3 194.6h0.75M98.6 197.3h0.75M101.7 173.9h0.75M96.9 192.0h0.75M102.5 183.2h0.75M101.5 181.5h0.75M98.9 198.0h0.75M105.3 189.5h0.75M102.0 192.7h0.75M101.0 180.8h0.75M98.6 173.5h0.75M97.2 192.4h0.75M99.6 181.7h0.75M99.1 197.5h0.75M102.7 180.5h0.75M100.5 185.7h0.75M103.3 172.6h0.75M104.4 183.6h0.75M101.3 186.0h0.75M100.7 187.0h0.75M96.1 196.4h0.75M101.7 181.9h0.75M100.0 197.2h0.75M99.6 177.9h0.75M100.5 181.6h0.75M101.6 184.9h0.75M102.3 197.1h0.75M102.1 195.1h0.75M104.7 193.8h0.75M103.5 192.7h0.75M98.9 191.6h0.75M99.4 177.0h0.75M98.3 180.0h0.75M97.8 196.4h0.75M97.1 188.2h0.75M98.7 190.5h0.75M103.4 189.4h0.75M100.8 182.4h0.75M102.0 186.2h0.75M104.4 184.9h0.75M101.6 181.1h0.75M104.0 184.6h0.75M102.2 175.0h0.75M99.5 192.1h0.75M97.3 194.3h0.75M95.3 186.2h0.75M97.0 185.7h0.75M102.6 177.2h0.75M98.4 177.2h0.75M100.0 177.4h0.75M102.0 197.9h0.75M102.3 192.6h0.75M99.3 190.4h0.75M102.1 177.8h0.75M101.4 192.0h0.75M96.7 174.2h0.75M102.5 178.5h0.75M103.4 175.3h0.75M98.3 194.8h0.75M102.4 183.6h0.75M103.0 176.6h0.75M97.7 185.8h0.75M103.4 197.6h0.75M100.6 195.1h0.75M103.8 197.0h0.75M97.7 192.6h0.75M98.2 183.5h0.75M101.6 195.0h0.75M94.7 182.2h0.75M103.7 194.9h0.75M96.4 187.6h0.75M99.4 186.0h0.75M97.6 177.1h0.75M102.1 185.3h0.75M103.9 194.3h0.75M98.2 173.6h0.75M102.8 192.6h0.75M99.5 172.0h0.75M99.0 177.3h0.75M98.9 194.5h0.75M96.2 183.9h0.75M100.7 186.1h0.75M101.9 188.3h0.75M101.4 188.4h0.75M98.8 187.0h0.75M102.4 177.5h0.75M98.7 192.0h0.75M98.9 182.5h0.75M102.4 189.3h0.75M102.5 185.6h0.75M105.8 197.4h0.75M101.9 189.1h0.75M103.3 193.1h0.75M101.9 187.8h0.75M102.4 172.9h0.75M95.8 186.8h0.75M96.5 177.4h0.75M101.5 175.6h0.75M99.7 195.0h0.75M98.6 188.1h0.75M95.2 177.4h0.75M101.9 196.6h0.75M102.2 193.7h0.75M97.6 195.8h0.75M99.5 173.3h0.75M97.7 184.8h0.75M101.5 193.5h0.75M101.4 176.6h0.75M96.8 188.6h0.75M102.0 190.7h0.75M100.3 171.4h0.75M98.3 192.6h0.75M102.2 190.8h0.75M96.6 183.9h0.75M96.8 180.8h0.75M102.4 187.6h0.75M96.5 193.7h0.75M98.8 179.6h0.75M97.9 179.9h0.75M98.1 174.4h0.75M96.4 189.8h0.75M101.5 183.3h0.75M100.1 189.6h0.75M104.4 195.8h0.75M96.1 191.6h0.75M97.3 185.4h0.75M98.2 195.2h0.75M97.2 189.0h0.75M96.4 193.2h0.75M102.4 195.6h0.75M105.0 191.7h0.75M96.2 188.1h0.75M101.9 180.8h0.75M97.1 190.1h0.75M97.6 193.6h0.75M103.8 186.6h0.75M103.8 181.3h0.75M97.0 194.3h0.75M99.9 188.7h0.75M98.4 188.7h0.75M111.6 177.0h0.75M109.2 177.7h0.75M108.2 173.4h0.75M131.5 176.8h0.75M126.8 182.3h0.75M129.3 179.0h0.75M119.4 173.2h0.75M130.3 178.2h0.75M123.1 179.3h0.75M108.2 175.5h0.75M128.0 179.4h0.75M123.5 177.7h0.75M122.4 180.8h0.75M109.5 179.4h0.75M110.4 173.3h0.75M122.6 175.4h0.75M130.1 176.4h0.75M126.8 173.4h0.75M112.5 171.8h0.75M123.4 176.6h0.75M108.3 188.4h0.75M127.5 195.9h0.75M118.7 188.4h0.75M108.7 195.6h0.75M115.3 193.6h0.75M124.9 187.8h0.75M123.5 187.4h0.75M111.1 193.6h0.75M113.1 195.2h0.75M107.8 184.7h0.75M119.4 190.8h0.75M123.1 198.1h0.75M127.9 193.2h0.75M119.4 193.2h0.75M113.8 183.4h0.75M120.9 184.7h0.75M122.6 193.4h0.75M109.5 196.6h0.75M125.7 195.4h0.75M111.0 189.5h0.75M124.2 191.4h0.75M110.8 197.4h0.75M113.9 197.8h0.75M119.4 195.3h0.75M122.9 186.1h0.75M113.4 196.6h0.75M119.1 194.6h0.75M118.1 194.0h0.75M129.9 188.6h0.75M131.0 192.3h0.75M128.9 185.2h0.75M123.4 186.8h0.75M119.0 183.7h0.75M107.2 186.0h0.75M130.3 188.2h0.75M109.7 184.3h0.75M114.1 197.1h0.75M113.3 197.7h0.75M120.6 181.4h0.75M111.2 190.7h0.75M123.9 185.8h0.75M125.1 181.5h0.75M124.6 194.6h0.75M113.9 190.2h0.75M112.0 192.0h0.75M112.3 188.3h0.75M124.7 191.9h0.75M110.8 185.0h0.75M106.8 189.7h0.75M108.6 184.2h0.75M117.7 184.8h0.75M115.1 182.2h0.75M123.5 183.9h0.75M113.0 180.0h0.75M112.3 182.9h0.75M107.0 187.5h0.75M125.8 194.5h0.75M113.0 194.4h0.75M121.5 187.9h0.75M125.2 189.9h0.75M122.1 183.6h0.75M108.5 184.5h0.75M117.9 188.3h0.75M118.9 192.2h0.75M115.2 190.9h0.75M120.2 193.2h0.75M108.3 181.7h0.75M126.3 182.4h0.75M133.0 186.9h0.75M114.3 181.4h0.75M130.1 191.4h0.75M106.6 194.3h0.75M118.8 186.3h0.75M121.0 191.1h0.75M121.3 194.0h0.75M108.9 185.6h0.75M118.6 192.8h0.75M128.0 192.5h0.75M115.5 183.3h0.75M121.0 191.4h0.75M112.5 183.5h0.75M115.1 196.0h0.75M111.7 185.6h0.75M120.5 194.5h0.75M117.9 194.4h0.75M109.5 192.2h0.75" stroke="#000" stroke-width="0.75"/>
<rect x="153.3" y="152.2" width="47.1" height="47.0" fill="#fff" stroke="#999" stroke-width=".6"/>
<rect x="169.3" y="152.7" width="30.2" height="46.0" fill="#eeeeee" stroke="#b5b5b5" stroke-width=".5"/>
<path d="M169.3 181.3H199.5" stroke="#aaa" stroke-width=".5"/>
<text x="154.6" y="155.4" font-size="3.1" fill="#555">15.4</text>
<text x="199.1" y="155.4" font-size="3.1" fill="#555" text-anchor="end">0.76</text>
<text x="154.6" y="198.2" font-size="3.1" fill="#555">82</text>
<text x="199.1" y="198.2" font-size="3.1" fill="#555" text-anchor="end">1.71</text>
<text x="152.1" y="200.1" font-size="3.2" text-anchor="end" fill="#444" transform="rotate(-15 152.1 200.1)">10<tspan font-size="2.1" dy="-1.2">0</tspan></text>
<text x="152.1" y="188.3" font-size="3.2" text-anchor="end" fill="#444" transform="rotate(-15 152.1 188.3)">10<tspan font-size="2.1" dy="-1.2">1</tspan></text>
<text x="152.1" y="176.6" font-size="3.2" text-anchor="end" fill="#444" transform="rotate(-15 152.1 176.6)">10<tspan font-size="2.1" dy="-1.2">2</tspan></text>
<text x="152.1" y="164.8" font-size="3.2" text-anchor="end" fill="#444" transform="rotate(-15 152.1 164.8)">10<tspan font-size="2.1" dy="-1.2">3</tspan></text>
<text x="152.1" y="153.1" font-size="3.2" text-anchor="end" fill="#444" transform="rotate(-15 152.1 153.1)">10<tspan font-size="2.1" dy="-1.2">4</tspan></text>
<text x="153.8" y="204.1" font-size="3.2" text-anchor="middle" fill="#444" transform="rotate(-15 153.8 204.1)">10<tspan font-size="2.1" dy="-1.2">0</tspan></text>
<text x="165.6" y="204.1" font-size="3.2" text-anchor="middle" fill="#444" transform="rotate(-15 165.6 204.1)">10<tspan font-size="2.1" dy="-1.2">1</tspan></text>
<text x="177.4" y="204.1" font-size="3.2" text-anchor="middle" fill="#444" transform="rotate(-15 177.4 204.1)">10<tspan font-size="2.1" dy="-1.2">2</tspan></text>
<text x="189.1" y="204.1" font-size="3.2" text-anchor="middle" fill="#444" transform="rotate(-15 189.1 204.1)">10<tspan font-size="2.1" dy="-1.2">3</tspan></text>
<text x="200.9" y="204.1" font-size="3.2" text-anchor="middle" fill="#444" transform="rotate(-15 200.9 204.1)">10<tspan font-size="2.1" dy="-1.2">4</tspan></text>
<clipPath id="k9"><rect x="153.7" y="152.6" width="46.3" height="46.2"/></clipPath><g clip-path="url(#k9)"><path d="M161 168L164 168L166.5 181L167.5 199L157 199L158 181Z" filter="url(#b8)" fill-opacity="0.97"/></g><path d="M161.5 188.9h0.75M161.8 169.2h0.75M157.0 190.8h0.75M164.5 187.0h0.75M156.3 182.7h0.75M158.9 187.2h0.75M163.3 188.7h0.75M158.6 191.8h0.75M162.5 169.8h0.75M164.9 175.6h0.75M162.4 180.9h0.75M161.0 171.3h0.75M163.0 172.2h0.75M157.7 187.4h0.75M167.8 188.6h0.75M161.8 187.4h0.75M160.4 168.9h0.75M163.7 186.5h0.75M157.0 187.4h0.75M167.8 197.8h0.75M156.2 186.3h0.75M166.1 190.0h0.75M162.6 186.0h0.75M160.4 193.2h0.75M160.3 191.0h0.75M159.4 193.0h0.75M162.8 172.3h0.75M159.0 191.5h0.75M163.3 183.0h0.75M159.5 184.0h0.75M160.7 185.8h0.75M165.0 197.8h0.75M158.4 197.6h0.75M160.0 197.1h0.75M164.4 176.3h0.75M161.8 190.9h0.75M167.1 188.6h0.75M165.8 194.7h0.75M163.9 178.4h0.75M162.1 176.0h0.75M164.4 177.3h0.75M162.9 188.6h0.75M162.8 175.6h0.75M159.9 171.3h0.75M165.3 172.8h0.75M159.4 195.2h0.75M160.3 178.4h0.75M162.0 170.6h0.75M162.7 175.4h0.75M161.3 170.8h0.75M160.7 174.3h0.75M166.2 195.7h0.75M163.2 197.6h0.75M158.6 195.4h0.75M164.9 189.1h0.75M159.9 174.2h0.75M164.9 170.7h0.75M162.8 182.8h0.75M164.9 183.2h0.75M163.2 181.2h0.75M166.4 195.4h0.75M166.5 194.7h0.75M159.1 183.2h0.75M157.3 189.7h0.75M163.3 191.3h0.75M161.9 198.4h0.75M163.0 183.8h0.75M157.0 193.3h0.75M161.6 191.5h0.75M162.6 190.9h0.75M158.9 194.6h0.75M164.6 181.0h0.75M159.9 188.9h0.75M169.2 183.0h0.75M163.9 187.6h0.75M163.4 183.3h0.75M164.8 194.3h0.75M167.5 191.3h0.75M161.8 171.5h0.75M162.8 174.5h0.75M160.0 184.6h0.75M158.9 196.1h0.75M162.7 189.6h0.75M163.4 179.7h0.75M162.1 194.0h0.75M165.3 196.7h0.75M160.5 184.9h0.75M164.9 190.6h0.75M158.3 190.6h0.75M163.1 176.3h0.75M164.7 181.9h0.75M167.5 185.7h0.75M160.8 197.0h0.75M157.6 190.6h0.75M164.9 179.8h0.75M162.4 168.6h0.75M163.7 168.9h0.75M165.5 180.5h0.75M165.7 179.7h0.75M161.9 196.2h0.75M161.9 186.9h0.75M156.0 184.7h0.75M162.7 169.2h0.75M161.9 195.7h0.75M162.8 170.1h0.75M159.1 193.4h0.75M164.6 193.4h0.75M158.0 187.8h0.75M163.5 174.5h0.75M164.3 173.5h0.75M162.2 182.6h0.75M165.2 178.3h0.75M161.3 173.3h0.75M164.9 175.1h0.75M167.1 187.8h0.75M155.8 187.0h0.75M159.8 179.1h0.75M164.1 188.7h0.75M161.0 187.3h0.75M160.4 181.7h0.75M161.2 184.9h0.75M164.2 186.7h0.75M160.8 179.7h0.75M166.7 196.0h0.75M165.0 184.1h0.75M158.0 191.1h0.75M161.2 175.1h0.75M163.4 182.0h0.75M161.9 189.2h0.75M159.7 181.4h0.75M163.4 196.8h0.75M164.1 173.4h0.75M156.5 184.3h0.75M161.5 174.4h0.75M163.6 198.0h0.75M160.1 196.0h0.75M159.9 191.3h0.75M164.6 189.1h0.75M159.9 188.3h0.75M159.5 168.2h0.75M159.0 187.6h0.75M164.8 183.4h0.75M162.7 181.8h0.75M163.3 180.3h0.75M165.8 177.0h0.75M157.6 193.9h0.75M166.2 188.6h0.75M164.4 179.8h0.75M164.4 179.2h0.75M163.9 166.5h0.75M158.6 186.1h0.75M163.3 181.7h0.75M159.6 195.4h0.75M163.9 168.9h0.75M164.1 175.2h0.75M161.0 181.1h0.75M163.1 173.8h0.75M164.0 196.9h0.75M156.0 195.3h0.75M163.2 168.9h0.75M160.1 190.7h0.75M164.5 196.2h0.75M165.3 174.0h0.75M166.3 196.9h0.75M162.4 189.8h0.75M166.8 192.8h0.75M166.2 194.9h0.75M161.6 187.4h0.75M160.3 192.7h0.75M164.5 182.8h0.75M165.1 193.9h0.75M163.4 191.9h0.75M160.2 198.2h0.75M164.9 181.1h0.75M169.3 198.5h0.75M166.8 188.9h0.75M159.4 179.5h0.75M159.7 197.2h0.75M161.4 177.9h0.75M158.3 178.2h0.75M167.1 192.1h0.75M160.4 190.7h0.75M163.8 189.9h0.75M160.9 172.3h0.75M162.3 190.5h0.75M165.5 181.7h0.75M163.2 171.3h0.75M160.9 176.9h0.75M160.0 179.5h0.75M158.1 197.1h0.75M163.1 180.3h0.75M168.2 188.1h0.75M159.2 194.2h0.75M165.5 198.3h0.75M162.6 189.2h0.75M163.2 185.0h0.75M162.7 184.4h0.75M164.4 196.7h0.75M164.6 188.5h0.75M165.6 191.4h0.75M157.6 188.1h0.75M164.1 193.5h0.75M162.7 179.6h0.75M157.9 184.0h0.75M163.9 182.5h0.75M166.3 182.7h0.75M157.3 190.2h0.75M162.1 171.2h0.75M163.6 190.9h0.75M165.2 191.2h0.75M158.7 187.7h0.75M162.3 192.8h0.75M163.0 178.8h0.75M158.9 185.5h0.75M164.4 192.2h0.75M161.8 176.7h0.75M162.9 178.0h0.75M162.7 195.4h0.75M163.2 194.7h0.75M161.8 173.4h0.75M163.2 172.9h0.75M162.5 184.1h0.75M160.2 177.6h0.75M168.3 190.4h0.75M164.9 198.3h0.75M159.9 192.8h0.75M184.9 177.4h0.75M172.0 178.4h0.75M186.6 179.4h0.75M176.9 172.3h0.75M191.7 172.4h0.75M180.8 179.4h0.75M178.9 178.9h0.75M185.0 175.1h0.75M180.6 173.7h0.75M170.5 178.8h0.75M185.6 175.2h0.75M183.2 176.2h0.75M179.2 176.8h0.75M172.2 180.9h0.75M185.3 178.9h0.75M184.3 175.7h0.75M176.4 176.8h0.75M180.3 180.0h0.75M189.2 172.7h0.75M175.7 173.4h0.75M189.6 181.4h0.75M179.4 183.8h0.75M167.1 190.1h0.75M174.4 185.4h0.75M172.1 193.2h0.75M190.0 187.2h0.75M182.9 195.4h0.75M184.7 191.2h0.75M186.1 191.3h0.75M194.0 180.1h0.75M187.1 188.3h0.75M186.3 196.5h0.75M180.9 190.7h0.75M186.0 188.5h0.75M183.8 191.9h0.75M182.4 189.8h0.75M177.2 190.9h0.75M188.1 196.5h0.75M176.7 185.0h0.75M174.5 186.6h0.75M191.1 195.8h0.75M187.1 185.8h0.75M172.8 198.5h0.75M167.2 185.9h0.75M180.2 181.9h0.75M191.4 183.9h0.75M181.1 193.2h0.75M182.7 196.6h0.75M176.5 186.3h0.75M173.9 189.6h0.75M181.1 184.6h0.75M186.5 185.9h0.75M173.3 196.1h0.75M190.3 196.5h0.75M179.8 189.9h0.75M178.3 187.3h0.75M193.8 185.3h0.75M178.9 188.7h0.75M189.4 186.5h0.75M168.6 189.9h0.75M180.2 184.5h0.75M171.3 197.9h0.75M169.5 195.6h0.75M191.1 190.4h0.75M187.6 180.8h0.75M188.2 186.7h0.75M182.1 195.9h0.75M186.0 185.9h0.75M178.3 183.2h0.75M179.5 189.2h0.75M195.0 194.1h0.75M183.3 179.9h0.75M175.2 195.4h0.75M172.0 181.4h0.75M190.3 196.8h0.75M173.0 187.9h0.75M182.1 195.0h0.75M190.1 192.4h0.75M179.9 184.8h0.75M169.6 194.7h0.75M184.9 197.5h0.75M174.1 186.2h0.75M191.5 178.5h0.75M180.0 187.7h0.75M166.8 187.7h0.75M181.5 190.9h0.75M170.0 186.8h0.75M183.3 189.7h0.75M193.0 186.9h0.75M179.7 183.4h0.75M180.0 193.4h0.75M177.6 191.8h0.75M187.5 198.2h0.75M169.8 185.4h0.75M181.1 196.0h0.75M184.9 184.2h0.75M192.1 196.0h0.75M174.9 192.3h0.75M188.5 186.4h0.75M174.3 187.3h0.75" stroke="#000" stroke-width="0.75"/>
<rect x="29.3" y="207.5" width="47.9" height="46.5" fill="#fff" stroke="#999" stroke-width=".6"/>
<rect x="45.6" y="208.0" width="30.7" height="45.5" fill="#eeeeee" stroke="#b5b5b5" stroke-width=".5"/>
<path d="M45.6 240.1H76.3" stroke="#aaa" stroke-width=".5"/>
<text x="30.6" y="210.7" font-size="3.1" fill="#555">46.3</text>
<text x="75.9" y="210.7" font-size="3.1" fill="#555" text-anchor="end">4.15</text>
<text x="30.6" y="253.0" font-size="3.1" fill="#555">47</text>
<text x="75.9" y="253.0" font-size="3.1" fill="#555" text-anchor="end">4</text>
<text x="28.1" y="254.9" font-size="3.2" text-anchor="end" fill="#444" transform="rotate(-15 28.1 254.9)">10<tspan font-size="2.1" dy="-1.2">0</tspan></text>
<text x="28.1" y="243.3" font-size="3.2" text-anchor="end" fill="#444" transform="rotate(-15 28.1 243.3)">10<tspan font-size="2.1" dy="-1.2">1</tspan></text>
<text x="28.1" y="231.7" font-size="3.2" text-anchor="end" fill="#444" transform="rotate(-15 28.1 231.7)">10<tspan font-size="2.1" dy="-1.2">2</tspan></text>
<text x="28.1" y="220.0" font-size="3.2" text-anchor="end" fill="#444" transform="rotate(-15 28.1 220.0)">10<tspan font-size="2.1" dy="-1.2">3</tspan></text>
<text x="28.1" y="208.4" font-size="3.2" text-anchor="end" fill="#444" transform="rotate(-15 28.1 208.4)">10<tspan font-size="2.1" dy="-1.2">4</tspan></text>
<text x="29.8" y="258.9" font-size="3.2" text-anchor="middle" fill="#444" transform="rotate(-15 29.8 258.9)">10<tspan font-size="2.1" dy="-1.2">0</tspan></text>
<text x="41.8" y="258.9" font-size="3.2" text-anchor="middle" fill="#444" transform="rotate(-15 41.8 258.9)">10<tspan font-size="2.1" dy="-1.2">1</tspan></text>
<text x="53.8" y="258.9" font-size="3.2" text-anchor="middle" fill="#444" transform="rotate(-15 53.8 258.9)">10<tspan font-size="2.1" dy="-1.2">2</tspan></text>
<text x="65.7" y="258.9" font-size="3.2" text-anchor="middle" fill="#444" transform="rotate(-15 65.7 258.9)">10<tspan font-size="2.1" dy="-1.2">3</tspan></text>
<text x="77.7" y="258.9" font-size="3.2" text-anchor="middle" fill="#444" transform="rotate(-15 77.7 258.9)">10<tspan font-size="2.1" dy="-1.2">4</tspan></text>
<clipPath id="k10"><rect x="29.7" y="207.9" width="47.1" height="45.7"/></clipPath><g clip-path="url(#k10)"><path d="M36.5 218.5L41 218.5L43.5 235L44.5 254L32.5 254L34.5 235Z" filter="url(#b8)"/></g><path d="M41.9 251.3h0.75M39.1 226.9h0.75M37.8 222.3h0.75M34.1 234.9h0.75M41.7 250.8h0.75M36.5 241.3h0.75M40.6 238.5h0.75M40.5 244.5h0.75M37.3 240.1h0.75M42.1 246.8h0.75M37.8 217.5h0.75M44.9 249.5h0.75M35.8 251.1h0.75M44.0 234.6h0.75M33.0 247.3h0.75M38.3 245.2h0.75M43.1 235.4h0.75M38.6 250.9h0.75M33.3 232.2h0.75M41.9 232.9h0.75M42.6 232.7h0.75M39.5 238.8h0.75M35.3 238.8h0.75M41.8 253.1h0.75M44.8 251.1h0.75M37.5 240.5h0.75M44.3 234.8h0.75M42.2 245.2h0.75M36.4 235.4h0.75M38.0 228.0h0.75M38.9 234.5h0.75M37.7 226.8h0.75M34.2 251.6h0.75M42.4 240.7h0.75M38.7 248.7h0.75M38.4 249.4h0.75M38.5 235.3h0.75M39.7 249.4h0.75M42.7 240.9h0.75M37.4 252.0h0.75M36.2 227.0h0.75M36.9 233.3h0.75M36.7 244.8h0.75M33.3 249.7h0.75M37.4 224.7h0.75M35.1 236.3h0.75M39.5 241.7h0.75M38.7 219.3h0.75M41.3 249.3h0.75M35.1 244.8h0.75M38.4 231.1h0.75M38.2 244.0h0.75M33.8 245.9h0.75M42.3 247.7h0.75M43.9 249.9h0.75M37.7 228.6h0.75M35.7 233.2h0.75M43.3 247.1h0.75M39.4 231.1h0.75M37.4 217.1h0.75M37.4 251.5h0.75M37.9 229.8h0.75M42.5 243.1h0.75M41.1 235.5h0.75M40.9 243.0h0.75M39.9 243.5h0.75M33.8 248.3h0.75M43.1 240.2h0.75M36.8 244.9h0.75M34.4 237.2h0.75M42.1 247.7h0.75M39.7 225.0h0.75M36.5 225.7h0.75M41.9 238.6h0.75M41.9 226.5h0.75M40.3 219.3h0.75M36.6 238.4h0.75M40.8 236.1h0.75M33.8 253.1h0.75M36.1 242.8h0.75M42.4 249.7h0.75M35.0 241.8h0.75M39.0 237.0h0.75M38.5 248.1h0.75M36.7 240.9h0.75M41.0 244.5h0.75M40.2 233.5h0.75M37.9 224.2h0.75M33.5 246.8h0.75M34.4 246.6h0.75M37.1 251.6h0.75M44.5 251.6h0.75M41.4 253.4h0.75M43.0 246.9h0.75M35.5 231.8h0.75M38.0 246.7h0.75M37.0 237.9h0.75M36.9 224.9h0.75M40.6 236.0h0.75M37.8 236.3h0.75M35.0 249.0h0.75M35.8 247.5h0.75M40.2 232.5h0.75M34.2 250.3h0.75M41.5 249.0h0.75M43.0 234.7h0.75M34.4 222.7h0.75M40.6 233.1h0.75M41.9 242.0h0.75M36.5 240.1h0.75M40.1 229.5h0.75M38.8 246.8h0.75M38.5 249.8h0.75M35.2 252.5h0.75M38.6 239.9h0.75M41.3 230.8h0.75M35.8 223.3h0.75M36.7 227.5h0.75M37.9 223.1h0.75M38.0 228.3h0.75M35.1 226.4h0.75M43.4 235.8h0.75M41.1 231.7h0.75M37.0 234.5h0.75M40.6 220.7h0.75M43.8 246.4h0.75M39.6 248.7h0.75M38.1 241.5h0.75M43.7 239.9h0.75M40.2 220.1h0.75M43.8 244.5h0.75M40.8 223.7h0.75M39.3 250.0h0.75M42.3 227.6h0.75M34.7 247.1h0.75M41.0 242.3h0.75M39.7 241.0h0.75M37.4 234.8h0.75M38.7 229.8h0.75M37.7 224.9h0.75M39.3 223.6h0.75M40.0 248.5h0.75M33.5 240.1h0.75M40.6 223.2h0.75M39.2 220.0h0.75M37.3 227.8h0.75M42.3 234.7h0.75M32.5 245.1h0.75M44.1 231.0h0.75M33.4 227.9h0.75M40.7 246.7h0.75M40.8 229.2h0.75M41.6 251.4h0.75M35.0 250.8h0.75M39.4 224.4h0.75M35.9 226.1h0.75M39.8 230.5h0.75M36.5 232.3h0.75M36.6 247.2h0.75M38.4 228.7h0.75M40.5 228.9h0.75M43.1 244.5h0.75M40.2 242.6h0.75M36.0 253.4h0.75M35.8 237.1h0.75M35.9 227.9h0.75M36.2 241.0h0.75M32.7 252.7h0.75M39.2 224.4h0.75M35.2 247.7h0.75M33.7 246.5h0.75M38.2 240.8h0.75M35.4 220.0h0.75M35.2 249.8h0.75M41.8 243.0h0.75M39.1 242.4h0.75M38.1 243.5h0.75M35.5 230.8h0.75M39.2 244.7h0.75M37.3 237.7h0.75M38.4 250.4h0.75M36.7 251.8h0.75M36.8 228.4h0.75M43.7 242.0h0.75M38.0 237.8h0.75M41.9 234.9h0.75M43.8 251.5h0.75M34.7 251.5h0.75M42.4 236.1h0.75M34.9 223.2h0.75M35.6 246.6h0.75M40.7 223.3h0.75M40.1 246.4h0.75M38.0 239.0h0.75M36.0 243.5h0.75M38.4 243.7h0.75M39.6 249.1h0.75M39.0 235.6h0.75M39.8 222.9h0.75M34.2 239.6h0.75M37.3 240.8h0.75M38.5 240.4h0.75M36.9 219.8h0.75M38.1 226.5h0.75M43.4 243.7h0.75M42.9 237.3h0.75M36.6 245.8h0.75M42.1 239.9h0.75M39.3 248.2h0.75M35.4 235.1h0.75M39.7 243.5h0.75M37.4 226.7h0.75M35.0 250.6h0.75M40.0 222.4h0.75M36.0 232.9h0.75M43.2 246.5h0.75M38.6 246.1h0.75M41.8 224.8h0.75M34.8 246.4h0.75M39.5 230.1h0.75M64.3 238.4h0.75M63.6 236.7h0.75M55.3 238.2h0.75M61.7 239.0h0.75M46.1 239.9h0.75M45.6 242.3h0.75M54.8 233.3h0.75M62.1 228.1h0.75M51.5 219.2h0.75M47.6 241.5h0.75M61.3 241.2h0.75M51.9 222.6h0.75M66.5 237.9h0.75M49.0 227.7h0.75M61.5 222.0h0.75M54.0 231.2h0.75M64.7 229.9h0.75M57.6 240.4h0.75M58.7 238.7h0.75M45.0 235.4h0.75M50.0 234.5h0.75M58.9 229.7h0.75M52.9 228.9h0.75M64.5 232.9h0.75M54.4 236.9h0.75M61.6 221.5h0.75M51.3 239.4h0.75M46.9 224.4h0.75M45.2 236.5h0.75M49.7 230.1h0.75M61.3 225.7h0.75M60.2 228.1h0.75M61.2 235.1h0.75M47.2 241.9h0.75M61.9 234.3h0.75M45.8 236.7h0.75M60.5 224.0h0.75M49.0 240.2h0.75M67.3 234.5h0.75M60.1 223.6h0.75M63.1 224.3h0.75M58.1 225.4h0.75M52.3 221.1h0.75M46.8 227.8h0.75M65.5 231.3h0.75M54.3 224.7h0.75M46.9 221.4h0.75M49.9 239.0h0.75M65.6 237.3h0.75M54.6 241.6h0.75M51.3 231.1h0.75M51.3 229.2h0.75M62.4 241.4h0.75M56.0 231.2h0.75M45.1 236.2h0.75M63.8 226.9h0.75M51.1 230.2h0.75M49.3 227.5h0.75M48.3 242.0h0.75M65.2 222.3h0.75M58.9 234.1h0.75M47.4 227.7h0.75M63.6 231.9h0.75M65.4 227.7h0.75M58.2 239.2h0.75M48.5 225.3h0.75M63.2 244.9h0.75M65.9 224.9h0.75M59.7 237.7h0.75M61.8 226.8h0.75M51.9 223.5h0.75M54.3 221.3h0.75M62.2 236.9h0.75M53.7 238.1h0.75M49.1 236.4h0.75M62.2 227.5h0.75M51.4 223.7h0.75M58.5 224.0h0.75M62.4 223.7h0.75M46.7 227.9h0.75M61.0 229.0h0.75M60.6 225.9h0.75M47.8 231.6h0.75M51.7 225.0h0.75M60.0 240.7h0.75M61.4 228.3h0.75M65.1 235.6h0.75M57.6 226.9h0.75M65.6 227.8h0.75M61.6 223.6h0.75M65.7 235.7h0.75M64.3 234.0h0.75M56.3 231.4h0.75M53.4 232.6h0.75M49.4 236.4h0.75M54.3 227.9h0.75M55.3 236.5h0.75M49.0 221.0h0.75M54.0 232.7h0.75M50.4 224.1h0.75M53.5 229.5h0.75M45.7 230.7h0.75M63.5 224.1h0.75M53.5 222.8h0.75M51.5 234.8h0.75M54.0 230.2h0.75M61.0 232.6h0.75M57.9 227.8h0.75M49.4 226.1h0.75M65.6 235.8h0.75M45.9 228.3h0.75M53.0 222.5h0.75M57.0 233.1h0.75M58.5 242.3h0.75M47.6 230.1h0.75M46.5 227.5h0.75M56.1 226.6h0.75M59.0 231.1h0.75M48.7 221.7h0.75M51.9 238.2h0.75M55.5 227.3h0.75M62.9 221.0h0.75M55.7 226.1h0.75M56.1 224.9h0.75M45.9 227.3h0.75M59.5 221.3h0.75M65.3 232.8h0.75M67.3 228.4h0.75M59.6 238.3h0.75M46.2 225.8h0.75M47.7 226.4h0.75M47.3 222.5h0.75M67.2 221.7h0.75M56.6 222.9h0.75M54.3 242.1h0.75M55.4 240.4h0.75M43.4 225.2h0.75M53.6 224.6h0.75M52.8 230.0h0.75M49.5 220.5h0.75M54.1 227.7h0.75M62.1 231.8h0.75M61.4 241.8h0.75M50.7 239.7h0.75M54.1 233.7h0.75M60.2 238.4h0.75M46.3 227.1h0.75M61.1 227.6h0.75M58.2 220.3h0.75M50.4 241.6h0.75M45.5 236.2h0.75M54.0 233.9h0.75M57.4 229.4h0.75M55.3 243.3h0.75M52.9 240.8h0.75M47.0 226.2h0.75M46.0 223.5h0.75M63.9 226.7h0.75M53.0 219.4h0.75M52.7 239.0h0.75M55.3 240.1h0.75M46.3 240.7h0.75M63.8 240.9h0.75M48.9 232.2h0.75M47.7 235.5h0.75M59.5 241.0h0.75M47.6 240.2h0.75M48.9 234.6h0.75M52.3 227.3h0.75M55.2 235.2h0.75M48.1 230.9h0.75M48.5 238.8h0.75M45.6 234.8h0.75M58.5 234.9h0.75M58.2 228.9h0.75M60.9 235.9h0.75M48.4 230.2h0.75M61.4 240.1h0.75M48.4 228.2h0.75M49.8 228.4h0.75M52.3 243.6h0.75M57.6 237.3h0.75M46.5 238.7h0.75M47.4 231.4h0.75M64.9 227.8h0.75M64.2 237.0h0.75M63.0 230.5h0.75M60.0 221.2h0.75M60.9 224.5h0.75M57.9 234.8h0.75M58.0 236.6h0.75M54.9 224.7h0.75M52.3 230.0h0.75M58.5 227.7h0.75M57.6 230.6h0.75M47.3 233.5h0.75M57.5 232.7h0.75M63.9 234.8h0.75M60.0 228.6h0.75M60.2 232.4h0.75M52.1 233.3h0.75M60.4 225.4h0.75M44.7 244.7h0.75M48.2 233.3h0.75M46.6 239.6h0.75M61.0 236.7h0.75M44.5 238.7h0.75M52.1 229.6h0.75M64.2 231.2h0.75M64.8 227.1h0.75M55.4 225.1h0.75M59.5 227.5h0.75M53.1 240.2h0.75M44.3 230.0h0.75M46.3 220.9h0.75M55.3 233.9h0.75M50.8 239.7h0.75M58.9 226.0h0.75M55.8 243.1h0.75M53.6 225.7h0.75M44.9 223.0h0.75M51.4 232.3h0.75M50.0 233.7h0.75M50.7 233.5h0.75M67.2 235.2h0.75M45.6 240.3h0.75M49.2 242.2h0.75M57.0 239.9h0.75M51.6 240.2h0.75M48.1 229.5h0.75M59.1 222.6h0.75M62.1 228.8h0.75M47.6 232.6h0.75M57.0 227.4h0.75M52.1 234.4h0.75M57.5 236.2h0.75M63.2 232.3h0.75M52.3 233.7h0.75M52.7 238.0h0.75M56.5 223.3h0.75M49.4 227.1h0.75M62.8 232.1h0.75M63.0 228.1h0.75M62.3 240.3h0.75M55.8 232.9h0.75M48.5 232.2h0.75M57.3 241.0h0.75M52.5 227.8h0.75M64.6 230.5h0.75M44.8 227.4h0.75M53.5 239.9h0.75M54.5 230.3h0.75M59.2 242.5h0.75M55.2 230.2h0.75M57.2 223.7h0.75M44.5 233.5h0.75M51.1 224.7h0.75M48.6 235.4h0.75M48.4 241.3h0.75M61.9 230.6h0.75M54.9 226.0h0.75M50.9 231.6h0.75M46.8 223.7h0.75M64.9 238.0h0.75M55.4 241.3h0.75M51.6 241.2h0.75M62.7 242.1h0.75M47.4 230.3h0.75M62.8 239.7h0.75M52.1 225.6h0.75M63.2 224.1h0.75M53.8 236.9h0.75M60.8 225.7h0.75M62.8 240.0h0.75M54.6 230.9h0.75M52.0 242.1h0.75M59.2 241.6h0.75M63.2 228.8h0.75M63.5 230.8h0.75M64.3 222.7h0.75M48.2 219.0h0.75M61.6 223.0h0.75M57.6 228.1h0.75M57.9 232.3h0.75M54.6 221.9h0.75M52.8 232.1h0.75M57.5 227.7h0.75M56.4 243.2h0.75M60.3 233.1h0.75M65.2 237.1h0.75M64.5 234.5h0.75M55.4 226.4h0.75M60.5 231.0h0.75M54.2 226.8h0.75M60.9 221.9h0.75M50.1 237.5h0.75M65.8 233.9h0.75M53.2 235.3h0.75M45.9 222.2h0.75M54.2 226.7h0.75M47.0 227.7h0.75M61.2 237.1h0.75M47.9 227.1h0.75M52.0 239.2h0.75M54.8 232.1h0.75M50.0 240.4h0.75M56.9 231.1h0.75M49.3 231.2h0.75M53.1 223.1h0.75M64.0 239.6h0.75M45.2 231.2h0.75M47.0 231.8h0.75M53.1 227.7h0.75M65.0 237.4h0.75M53.9 240.4h0.75M47.1 232.5h0.75M45.7 236.3h0.75M51.4 235.9h0.75M55.2 225.1h0.75M59.6 239.9h0.75M57.0 222.3h0.75M46.1 229.6h0.75M62.4 228.5h0.75M62.6 230.3h0.75M63.9 241.8h0.75M60.1 241.9h0.75M48.1 232.5h0.75M50.8 226.6h0.75M61.3 226.9h0.75M45.6 241.7h0.75M52.1 225.9h0.75M46.4 224.4h0.75M63.2 234.0h0.75M50.6 241.1h0.75M53.0 237.0h0.75M45.1 231.7h0.75M55.9 222.7h0.75M58.4 238.1h0.75M57.0 234.2h0.75M45.2 224.7h0.75M48.1 231.9h0.75M61.9 235.4h0.75M65.2 226.5h0.75M45.1 221.6h0.75M44.6 229.1h0.75M53.2 230.5h0.75M51.6 238.6h0.75M50.4 230.6h0.75M62.5 224.5h0.75M65.5 224.7h0.75M58.7 225.9h0.75M57.7 225.1h0.75M46.3 236.2h0.75M65.4 234.6h0.75M52.4 233.9h0.75M50.5 234.8h0.75M59.8 223.8h0.75M64.5 236.4h0.75M53.3 231.2h0.75M57.9 221.3h0.75M48.1 241.2h0.75M49.6 239.3h0.75M65.1 240.3h0.75M66.1 223.8h0.75M63.2 241.0h0.75M60.6 233.7h0.75M55.5 232.4h0.75M61.6 239.6h0.75M50.1 237.8h0.75M54.0 228.8h0.75M62.2 222.5h0.75M64.0 227.3h0.75M49.3 225.0h0.75M60.9 233.3h0.75M59.7 229.2h0.75M54.1 232.0h0.75M46.8 235.0h0.75M52.9 234.3h0.75M52.3 225.7h0.75M63.2 237.3h0.75M48.2 236.5h0.75M59.0 235.9h0.75M62.7 232.3h0.75M47.4 239.7h0.75M53.6 247.3h0.75M59.2 247.1h0.75M54.8 245.9h0.75M50.6 250.3h0.75M63.3 247.5h0.75M62.0 246.9h0.75M62.6 244.9h0.75M59.2 247.6h0.75M59.3 249.0h0.75M58.6 250.0h0.75M60.1 246.6h0.75M54.7 247.7h0.75M56.4 244.5h0.75M49.3 245.8h0.75M64.6 246.8h0.75M58.4 244.0h0.75M57.3 243.8h0.75M47.7 247.4h0.75M54.5 244.6h0.75M54.0 243.6h0.75M61.5 249.0h0.75M60.6 247.1h0.75M65.8 249.7h0.75M56.2 247.7h0.75M47.3 247.9h0.75M52.5 248.7h0.75M45.4 243.4h0.75M48.9 245.9h0.75M50.6 248.5h0.75M49.7 244.3h0.75M50.2 244.0h0.75M57.6 248.3h0.75M58.6 248.0h0.75M59.1 242.9h0.75M60.6 243.5h0.75M50.2 246.0h0.75M55.1 242.3h0.75M63.8 249.8h0.75M52.3 250.1h0.75M62.1 243.3h0.75M47.6 243.8h0.75M62.0 248.8h0.75M55.8 251.1h0.75M57.8 243.3h0.75M57.9 247.2h0.75M64.8 245.3h0.75M59.4 250.9h0.75M54.9 251.6h0.75M63.8 244.7h0.75M51.2 248.5h0.75M56.0 247.0h0.75M50.5 243.4h0.75M46.9 243.5h0.75M55.3 245.4h0.75M45.1 248.4h0.75M48.5 245.4h0.75M50.3 245.6h0.75M43.6 248.0h0.75M58.6 242.2h0.75M59.6 248.7h0.75M52.3 249.6h0.75M54.7 249.4h0.75M47.2 251.0h0.75M62.4 249.9h0.75M58.9 242.0h0.75M56.3 241.7h0.75M59.1 245.6h0.75M49.0 247.1h0.75M66.3 243.1h0.75M62.7 247.2h0.75M44.6 243.2h0.75M50.3 249.0h0.75M61.7 245.6h0.75M48.0 249.0h0.75M52.1 243.9h0.75M52.7 242.9h0.75M49.5 245.3h0.75M64.7 249.6h0.75M62.7 251.7h0.75M62.5 249.4h0.75M59.1 248.3h0.75M49.1 244.7h0.75M53.7 250.3h0.75M60.2 244.8h0.75M46.3 249.4h0.75M59.1 248.2h0.75M48.3 247.0h0.75M53.6 246.2h0.75M49.6 244.2h0.75M64.0 245.6h0.75M59.3 243.6h0.75M63.2 247.9h0.75M54.4 251.1h0.75M62.0 251.0h0.75M45.3 247.2h0.75M59.7 247.3h0.75M60.8 243.3h0.75M54.8 244.7h0.75M46.9 248.5h0.75M64.0 248.0h0.75M51.6 248.7h0.75M59.3 245.1h0.75M46.4 247.2h0.75M47.2 246.2h0.75M64.8 248.8h0.75M46.7 248.7h0.75M56.9 243.7h0.75M53.8 245.9h0.75M55.9 248.0h0.75M67.0 244.0h0.75M56.9 241.1h0.75M64.9 249.8h0.75M53.4 244.4h0.75M45.6 248.5h0.75M60.9 246.7h0.75M62.2 252.2h0.75M54.1 250.3h0.75M66.4 245.1h0.75M57.8 244.5h0.75M53.6 246.4h0.75M61.7 243.0h0.75M66.7 242.5h0.75M48.8 243.8h0.75M53.9 247.1h0.75M50.9 244.8h0.75M61.7 244.4h0.75M55.6 242.1h0.75M57.0 251.5h0.75M49.7 246.7h0.75M51.3 252.0h0.75M53.0 249.1h0.75M63.4 249.6h0.75M45.1 244.5h0.75M60.6 245.1h0.75M66.0 243.6h0.75M49.7 249.7h0.75M48.6 248.5h0.75M62.4 246.6h0.75M57.0 244.9h0.75M61.7 243.4h0.75M60.1 242.8h0.75M65.2 252.2h0.75M60.1 250.1h0.75M61.9 244.9h0.75M60.1 248.5h0.75M63.1 248.8h0.75M60.0 243.9h0.75M59.6 245.6h0.75M60.3 244.3h0.75M56.3 249.1h0.75M48.5 243.5h0.75M65.6 247.5h0.75M49.0 249.2h0.75M51.6 245.8h0.75M52.2 244.6h0.75M55.0 246.5h0.75M63.4 247.1h0.75M52.6 246.0h0.75M52.9 245.7h0.75M64.9 245.1h0.75M55.8 246.2h0.75M63.3 243.8h0.75M62.6 244.4h0.75M63.9 247.5h0.75M51.1 246.1h0.75M57.0 244.7h0.75M57.4 246.2h0.75M50.0 245.6h0.75M53.4 243.0h0.75M55.8 244.8h0.75M61.4 247.8h0.75M55.4 246.0h0.75M61.1 245.9h0.75M55.0 245.0h0.75M65.6 245.3h0.75M51.1 246.6h0.75M53.5 246.9h0.75M63.9 244.0h0.75M62.6 248.0h0.75M54.7 246.5h0.75M58.3 246.8h0.75M64.2 244.8h0.75M53.0 245.8h0.75M66.2 248.6h0.75M50.7 246.4h0.75M56.5 248.3h0.75M65.0 244.3h0.75M58.2 245.3h0.75M64.4 245.5h0.75M63.5 246.6h0.75M60.0 247.7h0.75M51.4 244.0h0.75M56.4 246.2h0.75M62.7 245.9h0.75M54.5 248.5h0.75M64.1 243.7h0.75M57.2 246.8h0.75M58.4 246.1h0.75M57.5 244.5h0.75M51.7 247.2h0.75M58.0 248.3h0.75M59.1 249.0h0.75M55.1 248.2h0.75M57.8 248.2h0.75M52.2 247.4h0.75M55.2 243.9h0.75M51.7 245.2h0.75M54.5 249.1h0.75M64.7 242.6h0.75M58.1 244.2h0.75M56.8 245.4h0.75M50.8 245.3h0.75M57.5 247.6h0.75M50.1 248.2h0.75M61.3 243.9h0.75M57.5 245.3h0.75M55.7 249.0h0.75M49.3 242.9h0.75M63.1 243.3h0.75M62.3 248.5h0.75M55.5 244.9h0.75M63.2 246.6h0.75M52.3 245.3h0.75M54.6 243.7h0.75M55.3 244.6h0.75M48.1 244.8h0.75M60.5 244.1h0.75M61.9 247.7h0.75M56.5 246.7h0.75M49.3 248.5h0.75M60.9 244.0h0.75M48.3 243.8h0.75M57.5 246.8h0.75M62.1 246.6h0.75M60.6 247.6h0.75M59.6 246.0h0.75M61.8 244.3h0.75M51.8 242.3h0.75M56.6 245.7h0.75M59.3 244.5h0.75M64.8 246.6h0.75M65.6 242.8h0.75M55.4 248.2h0.75M63.7 244.5h0.75M58.1 243.2h0.75M62.6 247.6h0.75M52.5 244.4h0.75M57.6 243.3h0.75M61.5 246.5h0.75M53.2 244.3h0.75M54.8 242.9h0.75M61.6 246.2h0.75M53.1 244.0h0.75M49.3 248.9h0.75M52.0 242.8h0.75M60.2 246.8h0.75M51.8 245.8h0.75M50.9 244.5h0.75M56.8 246.4h0.75M53.9 244.5h0.75M66.4 245.6h0.75M53.5 245.5h0.75M65.9 248.0h0.75M51.2 243.2h0.75M59.9 246.0h0.75M49.7 245.1h0.75M49.8 243.7h0.75M59.2 244.1h0.75M66.6 244.0h0.75M52.9 245.1h0.75M51.4 247.3h0.75M54.4 246.8h0.75M55.0 243.3h0.75M66.2 244.8h0.75M50.4 247.5h0.75M52.1 246.3h0.75M54.8 245.7h0.75M65.0 245.8h0.75M62.4 243.7h0.75M60.7 246.4h0.75M52.3 244.1h0.75M62.2 245.9h0.75M61.9 247.8h0.75M53.2 248.4h0.75M51.6 243.4h0.75M60.5 248.7h0.75M59.0 246.3h0.75M62.9 247.2h0.75M64.3 245.2h0.75M62.9 247.3h0.75M55.5 246.8h0.75M54.9 246.9h0.75M65.7 249.1h0.75M57.2 247.3h0.75M63.5 245.5h0.75M65.5 244.5h0.75M50.6 245.9h0.75M56.4 244.2h0.75M63.1 245.4h0.75M60.2 244.3h0.75M58.6 245.3h0.75M58.5 247.3h0.75M51.2 247.5h0.75" stroke="#000" stroke-width="0.75"/>
<rect x="91.3" y="207.5" width="47.3" height="46.5" fill="#fff" stroke="#999" stroke-width=".6"/>
<rect x="107.4" y="208.0" width="30.3" height="45.5" fill="#eeeeee" stroke="#b5b5b5" stroke-width=".5"/>
<path d="M107.4 240.1H137.7" stroke="#aaa" stroke-width=".5"/>
<text x="92.6" y="210.7" font-size="3.1" fill="#555">48.5</text>
<text x="137.3" y="210.7" font-size="3.1" fill="#555" text-anchor="end">4.46</text>
<text x="92.6" y="253.0" font-size="3.1" fill="#555">43</text>
<text x="137.3" y="253.0" font-size="3.1" fill="#555" text-anchor="end">6.79</text>
<text x="90.1" y="254.9" font-size="3.2" text-anchor="end" fill="#444" transform="rotate(-15 90.1 254.9)">10<tspan font-size="2.1" dy="-1.2">0</tspan></text>
<text x="90.1" y="243.3" font-size="3.2" text-anchor="end" fill="#444" transform="rotate(-15 90.1 243.3)">10<tspan font-size="2.1" dy="-1.2">1</tspan></text>
<text x="90.1" y="231.7" font-size="3.2" text-anchor="end" fill="#444" transform="rotate(-15 90.1 231.7)">10<tspan font-size="2.1" dy="-1.2">2</tspan></text>
<text x="90.1" y="220.0" font-size="3.2" text-anchor="end" fill="#444" transform="rotate(-15 90.1 220.0)">10<tspan font-size="2.1" dy="-1.2">3</tspan></text>
<text x="90.1" y="208.4" font-size="3.2" text-anchor="end" fill="#444" transform="rotate(-15 90.1 208.4)">10<tspan font-size="2.1" dy="-1.2">4</tspan></text>
<text x="91.8" y="258.9" font-size="3.2" text-anchor="middle" fill="#444" transform="rotate(-15 91.8 258.9)">10<tspan font-size="2.1" dy="-1.2">0</tspan></text>
<text x="103.6" y="258.9" font-size="3.2" text-anchor="middle" fill="#444" transform="rotate(-15 103.6 258.9)">10<tspan font-size="2.1" dy="-1.2">1</tspan></text>
<text x="115.4" y="258.9" font-size="3.2" text-anchor="middle" fill="#444" transform="rotate(-15 115.4 258.9)">10<tspan font-size="2.1" dy="-1.2">2</tspan></text>
<text x="127.3" y="258.9" font-size="3.2" text-anchor="middle" fill="#444" transform="rotate(-15 127.3 258.9)">10<tspan font-size="2.1" dy="-1.2">3</tspan></text>
<text x="139.1" y="258.9" font-size="3.2" text-anchor="middle" fill="#444" transform="rotate(-15 139.1 258.9)">10<tspan font-size="2.1" dy="-1.2">4</tspan></text>
<clipPath id="k11"><rect x="91.7" y="207.9" width="46.5" height="45.7"/></clipPath><g clip-path="url(#k11)"><path d="M97 214L103 214L106 230L107 254L94.5 254L95.5 230Z" filter="url(#b8)"/></g><path d="M105.4 243.4h0.75M105.5 223.3h0.75M101.2 218.6h0.75M95.7 217.8h0.75M96.7 252.7h0.75M102.8 226.8h0.75M98.5 227.1h0.75M97.2 235.3h0.75M99.5 224.9h0.75M96.1 230.3h0.75M102.3 230.4h0.75M101.7 233.1h0.75M99.6 244.3h0.75M101.1 230.0h0.75M95.8 242.3h0.75M105.2 249.6h0.75M97.0 236.6h0.75M97.8 224.5h0.75M97.0 227.0h0.75M102.1 235.7h0.75M99.0 233.1h0.75M97.4 229.1h0.75M105.4 245.0h0.75M102.2 241.7h0.75M104.7 232.9h0.75M100.1 219.7h0.75M100.6 243.1h0.75M96.9 251.0h0.75M101.0 237.9h0.75M99.2 219.5h0.75M96.7 217.1h0.75M98.4 214.9h0.75M104.2 246.6h0.75M103.1 229.9h0.75M102.5 222.4h0.75M96.6 216.5h0.75M95.4 251.7h0.75M106.3 243.6h0.75M98.6 233.9h0.75M105.5 249.9h0.75M98.4 227.9h0.75M104.7 222.3h0.75M97.6 250.0h0.75M100.5 237.0h0.75M96.5 245.6h0.75M103.7 239.6h0.75M101.1 235.2h0.75M102.7 223.1h0.75M101.6 227.6h0.75M100.4 249.8h0.75M101.8 239.4h0.75M102.3 251.0h0.75M102.8 251.0h0.75M101.8 223.1h0.75M106.7 229.4h0.75M95.0 252.9h0.75M103.7 220.8h0.75M96.1 235.1h0.75M100.4 248.8h0.75M102.4 247.2h0.75M97.3 223.1h0.75M103.4 224.2h0.75M105.9 227.8h0.75M99.6 221.5h0.75M97.8 245.3h0.75M105.5 247.3h0.75M104.9 235.9h0.75M97.7 221.2h0.75M99.4 220.5h0.75M102.6 246.0h0.75M97.9 216.8h0.75M106.1 230.6h0.75M105.8 241.8h0.75M98.3 222.4h0.75M97.2 241.5h0.75M105.3 248.2h0.75M97.6 227.5h0.75M97.0 244.3h0.75M101.1 230.4h0.75M98.8 229.0h0.75M99.7 244.0h0.75M97.2 243.3h0.75M101.9 224.2h0.75M98.5 249.5h0.75M97.7 223.7h0.75M98.3 237.6h0.75M106.5 240.5h0.75M94.5 233.9h0.75M99.9 237.7h0.75M102.2 229.8h0.75M107.2 238.7h0.75M98.7 248.4h0.75M107.2 227.3h0.75M104.4 240.7h0.75M105.8 248.7h0.75M97.2 236.0h0.75M99.1 231.0h0.75M103.0 232.1h0.75M103.8 225.9h0.75M104.8 244.4h0.75M103.0 244.5h0.75M109.4 240.2h0.75M103.4 248.0h0.75M104.6 241.6h0.75M104.9 237.3h0.75M104.3 224.0h0.75M98.8 224.9h0.75M99.3 243.1h0.75M100.3 238.3h0.75M96.3 244.7h0.75M105.0 235.4h0.75M101.5 237.8h0.75M105.9 248.8h0.75M108.4 244.6h0.75M99.4 229.8h0.75M101.4 214.4h0.75M99.3 231.8h0.75M102.0 220.9h0.75M98.4 229.5h0.75M105.0 219.7h0.75M101.5 214.8h0.75M104.9 250.7h0.75M103.4 240.1h0.75M100.0 245.1h0.75M99.8 216.7h0.75M95.5 236.8h0.75M99.8 239.3h0.75M108.3 252.4h0.75M100.9 251.5h0.75M101.1 246.4h0.75M101.7 238.3h0.75M100.0 227.8h0.75M96.4 232.6h0.75M102.8 223.7h0.75M98.7 243.0h0.75M99.0 249.1h0.75M105.0 247.5h0.75M96.1 241.4h0.75M95.0 235.5h0.75M97.9 248.8h0.75M98.3 237.1h0.75M95.3 237.6h0.75M106.3 223.6h0.75M102.7 213.0h0.75M104.7 243.4h0.75M104.6 242.9h0.75M102.2 240.7h0.75M106.2 252.5h0.75M100.3 248.7h0.75M104.7 226.9h0.75M104.4 234.1h0.75M102.0 245.3h0.75M103.0 217.8h0.75M105.5 248.4h0.75M103.2 229.6h0.75M104.2 249.2h0.75M97.2 236.9h0.75M98.2 244.1h0.75M103.4 222.2h0.75M100.2 215.3h0.75M106.8 247.8h0.75M98.4 253.1h0.75M101.7 249.6h0.75M102.2 215.2h0.75M98.4 234.7h0.75M101.6 234.6h0.75M94.7 227.8h0.75M96.9 248.5h0.75M100.9 217.1h0.75M102.6 250.4h0.75M102.6 228.3h0.75M100.1 237.8h0.75M95.8 233.5h0.75M104.1 236.4h0.75M104.0 251.8h0.75M99.4 242.4h0.75M99.6 245.0h0.75M95.6 219.6h0.75M105.6 251.3h0.75M107.8 229.4h0.75M102.6 219.8h0.75M98.7 238.9h0.75M99.0 253.0h0.75M101.0 226.2h0.75M102.5 242.5h0.75M102.9 243.4h0.75M94.4 242.7h0.75M99.6 250.3h0.75M100.2 231.5h0.75M105.4 233.2h0.75M98.4 218.4h0.75M105.2 241.9h0.75M99.5 214.8h0.75M100.2 242.3h0.75M98.2 246.9h0.75M94.5 234.9h0.75M101.4 240.6h0.75M104.7 232.2h0.75M102.3 249.4h0.75M99.8 241.2h0.75M96.1 252.8h0.75M101.6 252.7h0.75M102.3 229.7h0.75M96.8 220.3h0.75M98.2 237.4h0.75M102.3 244.0h0.75M103.0 240.8h0.75M100.9 221.3h0.75M100.2 217.6h0.75M102.1 239.9h0.75M95.2 238.9h0.75M96.9 234.2h0.75M102.4 227.0h0.75M104.2 232.5h0.75M98.5 224.4h0.75M97.8 242.7h0.75M103.2 225.6h0.75M106.1 242.4h0.75M104.1 229.0h0.75M107.1 244.5h0.75M94.4 238.3h0.75M101.0 236.3h0.75M97.7 232.7h0.75M100.9 216.3h0.75M105.7 241.6h0.75M102.8 231.2h0.75M100.4 246.9h0.75M102.6 235.3h0.75M101.2 238.6h0.75M96.0 239.5h0.75M99.5 245.5h0.75M100.8 213.9h0.75M104.8 241.4h0.75M104.9 240.4h0.75M99.6 251.1h0.75M96.1 252.2h0.75M100.7 223.4h0.75M117.3 238.6h0.75M109.1 218.6h0.75M111.4 226.6h0.75M125.4 222.9h0.75M109.4 235.3h0.75M113.7 241.1h0.75M113.6 221.6h0.75M123.5 239.3h0.75M116.7 226.7h0.75M127.8 224.1h0.75M109.3 226.9h0.75M108.5 234.1h0.75M122.5 225.4h0.75M108.3 219.3h0.75M127.1 227.3h0.75M108.3 222.4h0.75M126.9 222.4h0.75M108.5 220.6h0.75M118.3 222.0h0.75M117.9 221.1h0.75M120.6 240.0h0.75M114.8 237.8h0.75M112.6 222.3h0.75M108.6 223.5h0.75M111.0 231.3h0.75M115.3 236.5h0.75M112.4 240.4h0.75M128.5 231.7h0.75M118.8 231.9h0.75M107.5 224.4h0.75M117.3 228.5h0.75M112.2 237.6h0.75M120.9 221.1h0.75M110.0 240.9h0.75M128.3 223.9h0.75M114.9 242.3h0.75M113.7 229.8h0.75M114.9 221.7h0.75M131.0 231.0h0.75M108.3 219.1h0.75M123.7 237.6h0.75M112.5 227.6h0.75M115.7 237.7h0.75M118.7 238.4h0.75M124.2 224.6h0.75M125.8 240.0h0.75M109.6 237.9h0.75M114.8 219.0h0.75M118.5 240.9h0.75M114.5 234.6h0.75M126.6 231.9h0.75M121.9 229.7h0.75M129.4 227.5h0.75M124.8 228.0h0.75M111.7 228.1h0.75M113.9 222.6h0.75M123.8 219.4h0.75M110.1 228.1h0.75M119.8 240.8h0.75M110.2 230.3h0.75M110.5 231.1h0.75M116.9 227.4h0.75M118.4 238.8h0.75M111.6 241.0h0.75M110.8 228.5h0.75M125.6 222.2h0.75M129.7 227.9h0.75M125.9 232.9h0.75M121.0 223.5h0.75M113.7 242.4h0.75M120.1 231.7h0.75M129.4 240.1h0.75M118.9 236.4h0.75M114.8 222.6h0.75M113.8 226.9h0.75M113.0 225.0h0.75M123.7 219.2h0.75M114.7 228.6h0.75M119.6 219.7h0.75M113.2 236.6h0.75M117.9 228.8h0.75M107.9 236.9h0.75M127.5 225.0h0.75M117.3 235.7h0.75M120.9 235.0h0.75M115.3 233.9h0.75M110.3 224.7h0.75M121.8 228.2h0.75M117.5 230.2h0.75M116.2 241.9h0.75M127.2 229.4h0.75M121.3 235.0h0.75M118.8 233.5h0.75M123.7 228.2h0.75M120.5 226.8h0.75M116.5 238.0h0.75M117.0 233.0h0.75M106.1 237.7h0.75M114.8 240.3h0.75M113.6 233.5h0.75M123.7 239.0h0.75M111.5 231.0h0.75M117.3 231.5h0.75M127.2 240.2h0.75M116.1 240.2h0.75M116.9 228.8h0.75M114.5 227.0h0.75M117.1 226.8h0.75M110.3 237.6h0.75M127.9 219.0h0.75M109.2 239.6h0.75M110.6 232.6h0.75M110.0 230.9h0.75M111.6 223.2h0.75M111.3 227.3h0.75M123.4 240.5h0.75M114.3 221.9h0.75M122.4 235.3h0.75M115.3 234.6h0.75M112.4 238.4h0.75M130.9 232.7h0.75M125.8 230.9h0.75M122.3 217.0h0.75M127.3 222.4h0.75M112.2 228.8h0.75M110.6 234.1h0.75M126.3 224.4h0.75M113.5 224.3h0.75M124.8 230.2h0.75M125.3 231.8h0.75M127.3 239.1h0.75M113.7 226.2h0.75M119.6 231.9h0.75M124.5 238.1h0.75M120.0 217.7h0.75M131.3 235.5h0.75M107.8 220.2h0.75M127.0 223.2h0.75M113.0 240.7h0.75M106.8 219.6h0.75M124.2 225.0h0.75M110.0 221.6h0.75M120.6 236.8h0.75M113.3 220.2h0.75M113.1 221.5h0.75M123.5 231.8h0.75M125.5 237.1h0.75M119.4 234.7h0.75M124.8 236.5h0.75M126.1 228.5h0.75M122.0 218.4h0.75M118.4 236.9h0.75M116.0 225.6h0.75M121.5 233.7h0.75M126.6 222.7h0.75M113.4 222.6h0.75M110.7 241.8h0.75M122.9 235.7h0.75M128.6 233.6h0.75M128.2 221.7h0.75M114.7 230.0h0.75M127.9 234.5h0.75M126.7 226.1h0.75M107.1 234.3h0.75M110.8 241.0h0.75M110.2 236.2h0.75M122.8 230.8h0.75M121.2 227.4h0.75M116.5 221.6h0.75M122.5 233.5h0.75M115.5 231.9h0.75M126.9 235.8h0.75M112.4 228.7h0.75M123.6 230.3h0.75M123.6 227.6h0.75M127.3 229.6h0.75M125.9 227.1h0.75M121.1 239.9h0.75M106.4 219.3h0.75M120.9 227.8h0.75M119.6 228.4h0.75M111.7 235.5h0.75M110.8 236.4h0.75M111.1 226.0h0.75M124.1 235.0h0.75M127.2 233.5h0.75M112.5 230.7h0.75M113.3 223.2h0.75M110.4 234.4h0.75M108.2 221.0h0.75M107.3 236.7h0.75M113.8 240.8h0.75M110.9 244.1h0.75M121.5 235.9h0.75M113.0 232.7h0.75M128.6 219.9h0.75M118.1 228.5h0.75M127.0 241.9h0.75M115.5 220.8h0.75M121.6 224.3h0.75M119.2 232.4h0.75M122.0 230.5h0.75M124.8 234.9h0.75M120.7 234.5h0.75M117.1 236.4h0.75M113.4 234.0h0.75M112.3 236.7h0.75M111.9 227.2h0.75M112.6 218.5h0.75M121.1 229.2h0.75M128.3 221.1h0.75M126.4 230.3h0.75M113.0 225.6h0.75M128.2 229.3h0.75M127.1 228.5h0.75M108.8 237.7h0.75M110.3 219.1h0.75M123.4 230.0h0.75M118.4 219.7h0.75M123.4 226.1h0.75M110.9 222.0h0.75M118.2 237.3h0.75M119.7 225.4h0.75M109.6 224.3h0.75M127.0 243.5h0.75M131.2 232.0h0.75M113.0 224.6h0.75M112.5 238.8h0.75M123.5 234.7h0.75M127.9 227.7h0.75M114.0 235.4h0.75M129.6 228.7h0.75M129.9 221.3h0.75M124.1 221.6h0.75M126.2 219.1h0.75M128.6 220.7h0.75M116.9 241.5h0.75M122.9 225.5h0.75M131.7 229.2h0.75M130.4 229.7h0.75M109.0 231.7h0.75M119.6 223.4h0.75M126.7 217.9h0.75M111.6 226.0h0.75M112.7 232.1h0.75M129.2 224.1h0.75M110.9 238.2h0.75M127.8 240.2h0.75M121.6 235.7h0.75M119.7 241.0h0.75M114.1 233.9h0.75M122.2 227.7h0.75M125.4 220.5h0.75M113.3 237.8h0.75M111.8 225.9h0.75M117.8 236.4h0.75M108.9 234.8h0.75M112.3 220.2h0.75M115.7 225.4h0.75M119.2 234.7h0.75M124.6 240.4h0.75M124.8 231.7h0.75M125.8 241.6h0.75M118.5 232.5h0.75M129.8 226.5h0.75M117.8 229.4h0.75M128.9 233.5h0.75M120.4 224.5h0.75M128.2 238.7h0.75M129.6 232.5h0.75M116.5 234.5h0.75M130.1 240.2h0.75M128.7 230.4h0.75M114.3 220.5h0.75M122.0 225.1h0.75M128.3 228.0h0.75M126.3 241.0h0.75M122.7 231.8h0.75M126.4 220.6h0.75M111.6 232.2h0.75M127.6 223.8h0.75M128.7 231.1h0.75M120.0 229.0h0.75M119.5 238.5h0.75M113.1 234.7h0.75M123.7 221.8h0.75M124.6 228.3h0.75M129.7 221.4h0.75M119.5 223.0h0.75M112.4 228.1h0.75M109.1 234.3h0.75M116.6 236.6h0.75M117.9 239.3h0.75M119.5 219.0h0.75M123.1 232.4h0.75M120.7 234.1h0.75M120.1 224.5h0.75M125.0 241.5h0.75M114.5 219.7h0.75M108.8 222.5h0.75M114.1 221.7h0.75M112.1 236.8h0.75M124.5 233.7h0.75M119.9 220.6h0.75M115.8 224.0h0.75M126.3 220.1h0.75M123.4 225.6h0.75M122.0 220.1h0.75M105.4 234.0h0.75M113.6 228.3h0.75M106.5 233.9h0.75M124.3 227.4h0.75M123.1 237.5h0.75M128.9 241.5h0.75M110.6 229.8h0.75M118.9 228.1h0.75M118.3 228.9h0.75M129.7 238.3h0.75M117.0 221.2h0.75M122.2 242.0h0.75M122.7 225.2h0.75M111.1 228.0h0.75M110.9 239.8h0.75M127.3 221.4h0.75M109.3 239.5h0.75M119.3 233.9h0.75M108.5 230.5h0.75M126.9 232.5h0.75M119.3 221.1h0.75M128.1 224.6h0.75M111.5 220.7h0.75M129.1 238.9h0.75M122.1 231.6h0.75M118.9 222.2h0.75M108.3 235.3h0.75M116.9 233.5h0.75M121.6 225.3h0.75M111.7 237.0h0.75M120.9 221.5h0.75M128.4 227.1h0.75M113.0 239.8h0.75M125.2 222.3h0.75M118.8 224.8h0.75M122.7 217.9h0.75M106.8 220.9h0.75M122.5 242.7h0.75M109.3 222.4h0.75M124.1 228.6h0.75M120.8 231.6h0.75M105.3 224.4h0.75M117.1 232.2h0.75M117.5 229.3h0.75M121.3 225.9h0.75M117.9 236.1h0.75M128.2 238.9h0.75M118.5 242.0h0.75M128.9 221.0h0.75M127.0 227.9h0.75M114.2 223.3h0.75M112.0 232.7h0.75M128.0 235.5h0.75M128.8 222.4h0.75M128.4 227.4h0.75M113.1 224.2h0.75M119.4 236.1h0.75M112.5 224.8h0.75M107.8 224.3h0.75M117.5 236.6h0.75M126.0 235.1h0.75M125.3 229.7h0.75M113.3 230.3h0.75M120.2 228.0h0.75M131.8 235.9h0.75M121.4 227.3h0.75M116.9 217.6h0.75M122.7 241.8h0.75M110.2 239.7h0.75M121.3 221.6h0.75M121.7 240.7h0.75M129.3 233.8h0.75M122.2 226.3h0.75M113.8 231.9h0.75M108.9 230.1h0.75M126.3 222.8h0.75M124.6 224.0h0.75M113.6 239.9h0.75M115.3 242.5h0.75M125.7 224.0h0.75M119.4 221.9h0.75M120.5 222.3h0.75M114.5 239.2h0.75M119.8 230.0h0.75M126.2 220.4h0.75M125.1 220.8h0.75M127.2 227.2h0.75M122.1 218.9h0.75M130.4 221.4h0.75M110.1 224.9h0.75M130.3 225.9h0.75M107.3 225.0h0.75M123.5 223.2h0.75M117.5 230.3h0.75M116.1 241.6h0.75M111.3 230.2h0.75M118.5 233.6h0.75M121.8 230.1h0.75M106.9 230.1h0.75M120.1 219.7h0.75M119.6 239.8h0.75M129.1 241.9h0.75M110.2 223.0h0.75M115.4 233.4h0.75M113.7 232.0h0.75M122.2 233.0h0.75M116.8 237.3h0.75M116.1 239.4h0.75M107.6 222.4h0.75M117.4 223.3h0.75M112.7 234.7h0.75M107.3 231.2h0.75M118.0 227.8h0.75M127.3 234.7h0.75M127.5 220.6h0.75M116.5 223.0h0.75M128.5 238.3h0.75M128.5 239.3h0.75M116.0 228.9h0.75M108.8 229.7h0.75M110.5 235.9h0.75M105.9 222.6h0.75M120.8 225.3h0.75M122.2 233.5h0.75M109.8 238.1h0.75M119.3 237.6h0.75M112.6 219.3h0.75M123.0 225.0h0.75M113.7 225.4h0.75M108.5 240.8h0.75M130.3 238.4h0.75M122.7 226.0h0.75M120.6 238.6h0.75M122.9 232.2h0.75M130.4 241.6h0.75M110.2 240.0h0.75M120.0 235.6h0.75M125.0 233.6h0.75M130.7 233.7h0.75M127.9 235.8h0.75M120.6 223.2h0.75M126.8 230.7h0.75M124.2 230.0h0.75M126.9 229.8h0.75M125.9 243.6h0.75M116.2 237.3h0.75M112.4 235.0h0.75M126.4 228.3h0.75M121.7 240.9h0.75M128.3 219.7h0.75M108.2 226.0h0.75M126.4 243.3h0.75M111.2 231.2h0.75M109.1 220.5h0.75M107.7 226.7h0.75M109.6 236.3h0.75M114.5 238.6h0.75M114.9 232.5h0.75M126.5 231.6h0.75M123.7 239.9h0.75M121.9 228.5h0.75M128.9 241.0h0.75M114.3 238.2h0.75M113.0 234.9h0.75M121.8 234.5h0.75M119.8 228.4h0.75M118.1 234.5h0.75M115.6 238.9h0.75M110.9 233.7h0.75M117.7 229.0h0.75M122.4 230.9h0.75M109.0 227.2h0.75M113.0 239.0h0.75M108.4 239.2h0.75M127.1 236.4h0.75M110.3 231.6h0.75M108.9 238.2h0.75M112.9 219.5h0.75M116.8 223.6h0.75M118.1 229.8h0.75M126.4 224.9h0.75M109.4 228.4h0.75M118.9 237.1h0.75M106.6 218.9h0.75M126.1 238.2h0.75M120.6 219.5h0.75M128.6 229.0h0.75M122.3 231.4h0.75M112.5 241.0h0.75M120.5 242.0h0.75M129.9 225.9h0.75M108.1 241.3h0.75M122.8 236.4h0.75M127.5 227.6h0.75M117.6 246.8h0.75M109.9 243.0h0.75M121.0 243.3h0.75M119.2 243.5h0.75M114.8 249.8h0.75M116.1 251.6h0.75M110.6 246.3h0.75M117.1 250.9h0.75M109.1 245.9h0.75M125.5 243.2h0.75M125.7 249.9h0.75M128.5 246.1h0.75M121.1 248.9h0.75M127.9 249.7h0.75M111.7 244.5h0.75M115.4 245.1h0.75M131.3 244.8h0.75M121.3 248.2h0.75M122.0 246.6h0.75M129.1 247.8h0.75M122.6 248.1h0.75M109.6 244.4h0.75M107.7 243.5h0.75M122.4 246.2h0.75M125.8 247.0h0.75M117.7 241.6h0.75M121.3 249.2h0.75M124.1 245.2h0.75M122.6 247.3h0.75M107.1 248.6h0.75M113.9 247.5h0.75M127.7 242.6h0.75M112.9 247.7h0.75M116.6 250.8h0.75M119.6 241.3h0.75M120.6 242.5h0.75M120.4 244.9h0.75M115.9 250.8h0.75M110.1 249.7h0.75M116.6 245.5h0.75M117.8 247.3h0.75M113.7 248.2h0.75M122.4 250.1h0.75M112.9 241.8h0.75M109.6 251.0h0.75M117.2 243.2h0.75M128.0 248.0h0.75M118.7 243.0h0.75M122.1 247.7h0.75M124.9 243.8h0.75M128.9 249.1h0.75M117.1 244.5h0.75M120.7 245.4h0.75M117.2 244.8h0.75M110.5 240.6h0.75M119.3 249.4h0.75M125.1 249.2h0.75M108.9 242.5h0.75M110.7 245.0h0.75M107.1 249.7h0.75M109.0 244.0h0.75M127.1 251.4h0.75M111.2 250.4h0.75M116.9 247.5h0.75M107.1 243.8h0.75M114.3 247.8h0.75M119.1 244.8h0.75M124.4 247.0h0.75M124.0 245.8h0.75M125.5 245.1h0.75M124.5 251.2h0.75M126.7 247.1h0.75M116.7 246.2h0.75M129.3 249.7h0.75M108.7 250.8h0.75M118.8 247.2h0.75M109.4 247.6h0.75M127.1 242.6h0.75M111.5 246.7h0.75M122.3 243.5h0.75M116.2 247.2h0.75M129.0 242.8h0.75M120.5 243.7h0.75M126.8 243.9h0.75M128.3 245.6h0.75M118.0 249.8h0.75M127.3 243.7h0.75M124.1 242.2h0.75M124.3 246.5h0.75M116.6 242.7h0.75M117.3 242.5h0.75M128.1 250.3h0.75M116.6 242.0h0.75M115.6 246.4h0.75M121.0 246.8h0.75M125.6 244.4h0.75M120.5 246.5h0.75M129.5 242.1h0.75M118.4 249.4h0.75M128.7 249.2h0.75M117.1 248.8h0.75M126.4 244.2h0.75M111.8 245.7h0.75M125.8 249.7h0.75M114.2 243.8h0.75M113.1 245.3h0.75M114.7 243.6h0.75M120.1 243.3h0.75M113.2 244.5h0.75M111.9 249.7h0.75M119.7 245.6h0.75M123.0 242.7h0.75M109.0 241.9h0.75M122.3 250.6h0.75M121.4 246.3h0.75M116.2 247.8h0.75M114.0 245.5h0.75M119.2 243.8h0.75M110.7 242.8h0.75M121.2 247.5h0.75M112.3 243.0h0.75M113.8 243.4h0.75M114.5 246.6h0.75M120.1 249.3h0.75M122.6 244.4h0.75M112.5 243.4h0.75M107.8 250.0h0.75M111.7 249.2h0.75M127.2 248.6h0.75M112.7 249.6h0.75M115.0 251.3h0.75M112.1 246.4h0.75M122.8 243.9h0.75M108.7 246.5h0.75M122.1 242.7h0.75M126.7 245.3h0.75M110.1 252.2h0.75M122.0 249.2h0.75M108.4 241.7h0.75M116.5 246.6h0.75M119.5 250.7h0.75M107.0 245.5h0.75M118.4 248.9h0.75M120.7 248.0h0.75M112.0 242.4h0.75M127.8 243.0h0.75M113.4 242.8h0.75M109.3 245.2h0.75M111.7 242.7h0.75M128.6 246.4h0.75M123.3 245.4h0.75M117.4 245.3h0.75M123.9 246.7h0.75M109.8 244.9h0.75M126.7 244.8h0.75M111.1 248.4h0.75M116.0 247.6h0.75M127.7 251.9h0.75M128.1 244.6h0.75M109.5 246.8h0.75M123.4 247.3h0.75M108.8 244.7h0.75M125.8 247.9h0.75M115.8 246.2h0.75M115.4 245.6h0.75M121.3 247.4h0.75M117.9 245.9h0.75M119.4 243.2h0.75M111.4 247.6h0.75M120.6 247.3h0.75M114.5 244.9h0.75M125.0 244.5h0.75M127.7 246.0h0.75M110.0 245.3h0.75M120.9 248.0h0.75M123.1 249.1h0.75M124.6 246.2h0.75M110.3 243.9h0.75M124.2 244.3h0.75M116.9 246.9h0.75M116.8 248.4h0.75M115.1 246.7h0.75M128.8 249.7h0.75M111.9 246.0h0.75M109.7 246.4h0.75M110.7 247.0h0.75M128.0 245.0h0.75M127.9 246.9h0.75M115.4 244.1h0.75M113.3 247.5h0.75M124.8 246.8h0.75M111.7 246.0h0.75M118.7 246.4h0.75M109.1 246.4h0.75M119.6 247.8h0.75M113.1 243.7h0.75M120.2 245.2h0.75M115.1 244.8h0.75M116.6 243.7h0.75M126.2 244.9h0.75M122.3 248.3h0.75M112.7 244.3h0.75M121.9 245.1h0.75M127.1 246.5h0.75M120.9 246.1h0.75M115.3 247.9h0.75M114.4 244.4h0.75M118.0 248.5h0.75M119.8 247.9h0.75M112.7 245.6h0.75M111.1 246.3h0.75M116.0 245.1h0.75M123.1 247.8h0.75M110.4 246.0h0.75M130.3 244.7h0.75M122.4 246.4h0.75M109.9 246.4h0.75M111.6 243.1h0.75M118.1 243.2h0.75M115.0 246.8h0.75M121.8 244.5h0.75M112.2 244.6h0.75M127.4 247.4h0.75M121.0 246.5h0.75M123.6 248.4h0.75M119.6 243.8h0.75M118.4 244.9h0.75M112.9 246.7h0.75M111.6 245.1h0.75M115.1 247.5h0.75M117.8 247.0h0.75M128.9 246.3h0.75M126.1 246.5h0.75M126.6 246.5h0.75M124.4 244.6h0.75M127.0 247.9h0.75M120.7 244.2h0.75M113.9 248.9h0.75M123.5 245.2h0.75M118.4 244.6h0.75M118.9 247.3h0.75M114.1 244.8h0.75M117.1 249.3h0.75M109.5 245.4h0.75M120.1 244.3h0.75M113.3 243.4h0.75M111.9 248.4h0.75M112.1 243.2h0.75M114.6 247.6h0.75M110.0 248.0h0.75M128.2 246.2h0.75M125.6 245.6h0.75M120.3 249.3h0.75M109.5 249.2h0.75M113.6 246.4h0.75M123.4 244.5h0.75M109.0 245.5h0.75M121.4 244.0h0.75M128.5 246.9h0.75M117.5 246.4h0.75M109.0 249.0h0.75M121.1 244.4h0.75M125.1 247.8h0.75M116.9 246.2h0.75M119.1 245.7h0.75M113.5 245.1h0.75M127.0 244.5h0.75M116.7 244.2h0.75M111.5 248.3h0.75M130.2 244.5h0.75M118.1 245.3h0.75M119.1 246.0h0.75M120.2 245.7h0.75M127.7 246.8h0.75M128.4 244.5h0.75M123.0 246.3h0.75M111.5 245.4h0.75M112.5 247.7h0.75M113.3 247.1h0.75M114.2 247.2h0.75M119.5 246.0h0.75M126.5 242.8h0.75M128.4 243.3h0.75M111.2 244.6h0.75M123.3 248.1h0.75M116.5 246.9h0.75M111.7 247.0h0.75M129.2 244.9h0.75M119.3 247.6h0.75M122.7 245.6h0.75M124.4 243.6h0.75M119.5 244.5h0.75M122.5 246.9h0.75M115.4 247.4h0.75M115.8 245.6h0.75M119.7 246.8h0.75M118.6 246.1h0.75M111.0 247.0h0.75M108.6 245.9h0.75M122.1 245.6h0.75M118.0 249.3h0.75M115.0 248.0h0.75M116.1 244.7h0.75M111.7 248.0h0.75M124.1 245.3h0.75M110.3 247.3h0.75M109.1 245.2h0.75M110.1 247.4h0.75M126.9 245.6h0.75M125.3 247.9h0.75M121.1 245.7h0.75M124.1 246.8h0.75M115.1 245.6h0.75M112.5 246.7h0.75M120.6 246.9h0.75M108.8 246.8h0.75M119.8 248.4h0.75M123.4 243.9h0.75M117.1 245.5h0.75M120.0 246.6h0.75M127.3 245.5h0.75M123.2 245.6h0.75M128.9 244.4h0.75M112.9 248.3h0.75M117.4 246.0h0.75M114.0 248.0h0.75M124.9 246.1h0.75M109.7 243.5h0.75M123.0 246.8h0.75M128.4 244.8h0.75M117.3 245.1h0.75M108.6 248.0h0.75M127.1 249.5h0.75M115.3 248.6h0.75M122.0 245.9h0.75M123.0 247.4h0.75M111.4 243.3h0.75M128.7 247.3h0.75M120.2 245.9h0.75M114.3 242.8h0.75M124.6 244.2h0.75M114.2 246.5h0.75M110.3 245.6h0.75M113.8 245.8h0.75M112.6 248.4h0.75M112.9 247.9h0.75M112.4 245.8h0.75M109.9 244.6h0.75M125.6 247.5h0.75M112.6 244.2h0.75M123.2 243.5h0.75M112.6 250.1h0.75M112.3 245.1h0.75M122.2 247.2h0.75M125.1 245.4h0.75M121.4 248.5h0.75" stroke="#000" stroke-width="0.75"/>
<rect x="153.3" y="207.5" width="47.1" height="46.5" fill="#fff" stroke="#999" stroke-width=".6"/>
<rect x="169.3" y="208.0" width="30.2" height="45.5" fill="#eeeeee" stroke="#b5b5b5" stroke-width=".5"/>
<path d="M169.3 240.1H199.5" stroke="#aaa" stroke-width=".5"/>
<text x="154.6" y="210.7" font-size="3.1" fill="#555">50</text>
<text x="199.1" y="210.7" font-size="3.1" fill="#555" text-anchor="end">0.365</text>
<text x="154.6" y="253.0" font-size="3.1" fill="#555">46</text>
<text x="199.1" y="253.0" font-size="3.1" fill="#555" text-anchor="end">3.18</text>
<text x="152.1" y="254.9" font-size="3.2" text-anchor="end" fill="#444" transform="rotate(-15 152.1 254.9)">10<tspan font-size="2.1" dy="-1.2">0</tspan></text>
<text x="152.1" y="243.3" font-size="3.2" text-anchor="end" fill="#444" transform="rotate(-15 152.1 243.3)">10<tspan font-size="2.1" dy="-1.2">1</tspan></text>
<text x="152.1" y="231.7" font-size="3.2" text-anchor="end" fill="#444" transform="rotate(-15 152.1 231.7)">10<tspan font-size="2.1" dy="-1.2">2</tspan></text>
<text x="152.1" y="220.0" font-size="3.2" text-anchor="end" fill="#444" transform="rotate(-15 152.1 220.0)">10<tspan font-size="2.1" dy="-1.2">3</tspan></text>
<text x="152.1" y="208.4" font-size="3.2" text-anchor="end" fill="#444" transform="rotate(-15 152.1 208.4)">10<tspan font-size="2.1" dy="-1.2">4</tspan></text>
<text x="153.8" y="258.9" font-size="3.2" text-anchor="middle" fill="#444" transform="rotate(-15 153.8 258.9)">10<tspan font-size="2.1" dy="-1.2">0</tspan></text>
<text x="165.6" y="258.9" font-size="3.2" text-anchor="middle" fill="#444" transform="rotate(-15 165.6 258.9)">10<tspan font-size="2.1" dy="-1.2">1</tspan></text>
<text x="177.4" y="258.9" font-size="3.2" text-anchor="middle" fill="#444" transform="rotate(-15 177.4 258.9)">10<tspan font-size="2.1" dy="-1.2">2</tspan></text>
<text x="189.1" y="258.9" font-size="3.2" text-anchor="middle" fill="#444" transform="rotate(-15 189.1 258.9)">10<tspan font-size="2.1" dy="-1.2">3</tspan></text>
<text x="200.9" y="258.9" font-size="3.2" text-anchor="middle" fill="#444" transform="rotate(-15 200.9 258.9)">10<tspan font-size="2.1" dy="-1.2">4</tspan></text>
<clipPath id="k12"><rect x="153.7" y="207.9" width="46.3" height="45.7"/></clipPath><g clip-path="url(#k12)"><path d="M160 220L163 220L167 235L168.5 254L155 254L157 235Z" filter="url(#b8)"/></g><path d="M167.1 239.5h0.75M162.2 248.6h0.75M160.3 239.9h0.75M159.2 248.4h0.75M160.1 233.8h0.75M166.1 241.2h0.75M166.6 247.1h0.75M158.3 238.0h0.75M158.0 244.5h0.75M165.3 250.0h0.75M163.3 230.6h0.75M167.7 234.7h0.75M168.4 245.6h0.75M164.2 246.3h0.75M161.9 249.6h0.75M163.6 245.9h0.75M155.7 233.6h0.75M157.3 236.8h0.75M164.5 238.3h0.75M160.2 220.8h0.75M159.9 248.9h0.75M166.9 249.6h0.75M162.4 249.4h0.75M161.6 239.8h0.75M165.5 251.1h0.75M157.5 233.4h0.75M161.6 246.2h0.75M160.0 249.9h0.75M160.0 240.3h0.75M157.1 251.9h0.75M161.3 245.6h0.75M158.7 240.4h0.75M160.8 243.4h0.75M164.1 233.0h0.75M159.6 238.8h0.75M168.4 251.8h0.75M159.4 237.8h0.75M161.1 252.4h0.75M162.2 248.2h0.75M165.4 252.7h0.75M159.4 233.9h0.75M158.6 246.9h0.75M167.0 235.6h0.75M163.3 238.7h0.75M160.2 245.0h0.75M163.8 226.0h0.75M157.8 251.6h0.75M162.4 241.2h0.75M164.4 224.4h0.75M161.4 249.1h0.75M159.7 243.1h0.75M160.9 241.3h0.75M160.7 252.6h0.75M166.4 237.0h0.75M158.4 236.2h0.75M158.8 244.4h0.75M159.9 225.7h0.75M159.3 251.3h0.75M164.5 250.3h0.75M166.7 236.3h0.75M162.6 248.8h0.75M158.6 224.5h0.75M164.0 226.5h0.75M168.7 237.7h0.75M158.6 240.1h0.75M162.1 243.8h0.75M163.0 227.3h0.75M160.9 233.0h0.75M158.5 227.4h0.75M163.7 221.0h0.75M157.5 224.4h0.75M166.6 252.2h0.75M160.8 230.7h0.75M161.2 243.9h0.75M157.7 235.7h0.75M160.4 244.1h0.75M161.9 247.6h0.75M157.1 242.7h0.75M163.5 220.6h0.75M163.9 234.3h0.75M162.5 233.3h0.75M159.7 252.7h0.75M160.2 251.8h0.75M163.5 242.9h0.75M160.8 249.7h0.75M165.1 248.8h0.75M159.4 250.4h0.75M168.2 237.3h0.75M160.0 222.9h0.75M163.1 231.1h0.75M162.0 244.3h0.75M164.2 249.0h0.75M159.3 240.3h0.75M165.4 246.0h0.75M164.7 252.7h0.75M162.5 245.9h0.75M161.6 240.9h0.75M165.4 243.3h0.75M163.2 236.4h0.75M156.7 237.7h0.75M156.2 249.8h0.75M159.5 236.9h0.75M160.3 252.2h0.75M169.8 252.5h0.75M159.2 229.2h0.75M163.5 247.0h0.75M163.8 242.1h0.75M165.5 232.6h0.75M156.2 248.3h0.75M158.1 222.2h0.75M166.0 252.3h0.75M159.0 231.1h0.75M164.7 230.3h0.75M162.8 240.7h0.75M167.4 244.0h0.75M159.8 241.2h0.75M158.4 244.8h0.75M161.7 251.1h0.75M159.0 236.5h0.75M160.9 221.1h0.75M161.1 225.1h0.75M162.8 252.0h0.75M158.3 246.1h0.75M162.0 223.2h0.75M164.5 229.8h0.75M164.8 232.4h0.75M166.2 229.2h0.75M164.2 244.2h0.75M159.9 233.7h0.75M162.8 239.9h0.75M158.4 231.0h0.75M163.9 252.4h0.75M164.1 232.2h0.75M162.3 251.0h0.75M162.2 230.0h0.75M159.6 227.4h0.75M157.6 232.8h0.75M157.5 247.9h0.75M161.2 223.7h0.75M167.0 244.7h0.75M161.7 249.8h0.75M161.9 232.8h0.75M159.3 239.6h0.75M167.1 241.3h0.75M165.3 226.7h0.75M156.2 233.1h0.75M165.1 247.9h0.75M158.4 249.2h0.75M163.9 245.3h0.75M160.8 247.4h0.75M156.9 245.9h0.75M161.9 245.6h0.75M163.1 239.3h0.75M162.9 226.5h0.75M159.9 231.1h0.75M165.7 237.2h0.75M155.1 241.0h0.75M159.0 226.9h0.75M160.3 225.7h0.75M162.0 228.2h0.75M161.7 247.5h0.75M158.8 238.0h0.75M160.8 245.4h0.75M162.5 248.6h0.75M163.9 239.4h0.75M160.3 221.4h0.75M166.0 237.8h0.75M159.2 251.5h0.75M159.8 231.3h0.75M167.2 252.9h0.75M160.0 226.2h0.75M158.2 246.8h0.75M160.3 231.2h0.75M161.5 250.3h0.75M165.6 246.9h0.75M156.9 232.6h0.75M165.3 245.5h0.75M163.5 248.9h0.75M162.0 251.3h0.75M162.3 230.9h0.75M156.0 238.0h0.75M166.6 238.6h0.75M161.1 229.4h0.75M162.8 241.9h0.75M162.2 233.8h0.75M160.6 232.7h0.75M162.2 237.4h0.75M164.8 235.3h0.75M160.2 243.3h0.75M161.1 223.8h0.75M156.6 249.3h0.75M158.0 251.1h0.75M157.3 245.4h0.75M162.1 230.8h0.75M160.3 234.1h0.75M160.8 232.5h0.75M161.1 235.0h0.75M161.3 239.5h0.75M166.8 245.9h0.75M163.2 237.0h0.75M158.0 240.8h0.75M163.3 226.7h0.75M162.9 224.7h0.75M159.2 241.0h0.75M163.5 232.2h0.75M163.1 250.7h0.75M155.1 242.5h0.75M162.4 243.7h0.75M160.9 233.6h0.75M164.8 237.7h0.75M165.3 245.2h0.75M163.5 239.7h0.75M164.6 235.8h0.75M164.6 240.3h0.75M166.0 237.1h0.75M157.3 235.9h0.75M159.3 228.2h0.75M157.0 251.2h0.75M168.0 248.1h0.75M163.8 229.3h0.75M158.7 251.6h0.75M165.4 233.4h0.75M162.6 224.7h0.75M161.6 242.9h0.75M185.2 230.5h0.75M183.0 233.0h0.75M179.2 222.6h0.75M173.9 228.5h0.75M170.0 230.3h0.75M181.2 232.8h0.75M173.3 230.8h0.75M183.6 225.6h0.75M181.8 225.8h0.75M177.0 232.1h0.75M171.6 232.9h0.75M185.8 226.5h0.75M182.9 232.7h0.75M185.5 235.4h0.75M191.9 232.6h0.75M181.8 227.3h0.75M178.8 241.2h0.75M183.7 231.0h0.75M178.9 229.9h0.75M178.0 233.9h0.75M182.1 232.9h0.75M186.1 235.8h0.75M174.7 232.4h0.75M186.2 223.3h0.75M188.6 234.7h0.75M178.9 228.1h0.75M173.1 233.2h0.75M192.0 233.8h0.75M185.1 236.7h0.75M174.8 231.7h0.75M179.1 237.4h0.75M190.8 231.0h0.75M183.8 227.2h0.75M178.2 229.8h0.75M188.1 227.3h0.75M188.0 234.5h0.75M184.1 233.2h0.75M185.2 237.1h0.75M177.8 226.5h0.75M178.8 230.8h0.75M187.0 236.8h0.75M175.2 230.7h0.75M193.3 229.1h0.75M173.0 229.1h0.75M180.4 229.9h0.75M180.5 231.0h0.75M192.3 231.2h0.75M177.0 231.5h0.75M181.0 236.7h0.75M177.2 228.5h0.75M171.1 227.6h0.75M189.3 225.9h0.75M177.9 235.3h0.75M177.0 234.3h0.75M169.9 229.1h0.75M181.9 230.1h0.75M175.0 234.3h0.75M184.7 233.9h0.75M179.4 232.9h0.75M187.3 222.6h0.75M192.0 246.8h0.75M175.1 238.3h0.75M173.1 250.0h0.75M186.2 242.6h0.75M173.5 245.5h0.75M172.2 242.3h0.75M183.4 243.1h0.75M175.5 250.1h0.75M186.1 240.3h0.75M181.0 244.0h0.75M188.3 245.3h0.75M192.5 238.5h0.75M184.3 235.3h0.75M181.5 247.7h0.75M192.8 244.8h0.75M188.1 245.2h0.75M185.1 241.1h0.75M170.0 240.8h0.75M187.6 236.9h0.75M180.2 247.2h0.75M182.6 251.2h0.75M171.2 240.2h0.75M184.2 241.9h0.75M174.9 236.0h0.75M171.9 240.1h0.75M186.4 238.1h0.75M187.4 237.9h0.75M178.8 241.6h0.75M183.0 248.9h0.75M183.1 250.2h0.75M169.8 247.0h0.75M188.1 243.8h0.75M180.0 244.9h0.75M179.0 240.5h0.75M170.0 237.9h0.75M183.6 250.4h0.75M171.4 246.7h0.75M183.8 235.8h0.75M187.3 237.4h0.75M177.9 246.9h0.75M182.3 245.1h0.75M169.8 243.5h0.75M169.6 232.7h0.75M179.1 236.2h0.75M176.8 248.5h0.75M182.6 247.9h0.75M185.1 242.6h0.75M179.6 238.9h0.75M190.4 250.2h0.75M169.8 247.6h0.75M175.3 245.3h0.75M186.9 249.9h0.75M187.4 243.7h0.75M178.9 247.5h0.75M179.3 250.5h0.75M191.2 241.4h0.75M173.7 235.0h0.75M187.9 248.4h0.75M178.0 249.6h0.75M176.2 245.5h0.75M173.0 242.6h0.75M184.0 236.7h0.75M189.4 244.4h0.75M181.2 239.8h0.75M177.5 233.7h0.75M187.7 247.2h0.75M192.5 240.8h0.75M182.5 236.4h0.75M179.4 245.6h0.75M179.6 243.6h0.75M189.2 250.5h0.75M181.5 243.0h0.75M172.7 252.5h0.75M188.0 239.3h0.75M176.5 243.1h0.75M169.6 247.6h0.75M187.5 247.4h0.75M187.2 249.2h0.75M179.3 236.9h0.75M182.1 243.1h0.75M186.1 243.1h0.75M171.8 236.3h0.75M174.4 240.2h0.75M185.6 249.3h0.75M186.8 240.0h0.75M192.5 249.3h0.75M167.5 241.8h0.75M176.1 239.1h0.75M186.3 249.2h0.75M180.2 246.2h0.75M175.1 248.3h0.75M172.2 245.6h0.75M173.4 245.1h0.75M180.6 246.3h0.75M173.6 246.9h0.75M186.6 248.3h0.75M183.9 248.1h0.75M176.2 245.2h0.75M175.5 243.2h0.75M182.2 248.1h0.75M179.0 245.7h0.75M185.2 245.1h0.75M185.8 247.7h0.75M181.8 248.5h0.75M181.1 246.1h0.75M177.4 244.6h0.75M176.6 250.2h0.75M191.6 245.2h0.75M174.1 244.6h0.75M185.9 244.8h0.75M174.3 243.6h0.75M173.3 246.5h0.75M175.6 244.8h0.75M179.3 244.7h0.75M183.6 245.6h0.75M180.8 247.7h0.75M174.3 243.9h0.75M188.6 243.3h0.75M183.3 244.5h0.75M176.0 243.2h0.75M181.8 245.9h0.75M177.8 243.6h0.75M186.2 244.7h0.75M183.1 245.1h0.75M187.4 246.1h0.75M178.1 247.7h0.75M182.1 246.5h0.75M189.2 247.6h0.75M190.4 245.7h0.75M188.0 248.8h0.75M174.5 246.0h0.75M173.9 243.6h0.75M187.5 246.4h0.75M185.6 245.8h0.75M181.0 244.3h0.75M179.0 248.3h0.75M176.2 246.1h0.75M172.5 245.1h0.75M173.0 246.0h0.75M178.5 247.4h0.75M186.9 248.3h0.75M179.9 245.7h0.75M177.5 246.3h0.75M173.8 244.1h0.75M173.7 248.3h0.75M175.9 244.4h0.75M184.4 246.2h0.75M176.6 244.3h0.75M180.6 244.5h0.75M182.9 245.5h0.75M174.6 245.1h0.75M190.1 244.8h0.75M187.9 246.9h0.75M172.9 245.7h0.75M178.4 246.6h0.75M187.1 245.8h0.75M189.7 245.2h0.75M179.3 248.9h0.75M173.0 243.5h0.75M173.8 249.3h0.75M175.7 246.1h0.75M190.0 247.9h0.75M181.7 244.5h0.75M186.8 247.2h0.75M178.8 244.6h0.75M182.8 248.4h0.75M185.0 246.0h0.75M189.6 242.4h0.75M174.8 242.7h0.75M171.4 244.8h0.75M174.1 245.4h0.75M180.2 244.7h0.75M184.7 248.1h0.75M182.4 243.6h0.75M177.6 243.2h0.75M178.3 244.6h0.75M174.0 247.3h0.75M180.4 248.3h0.75M186.2 247.0h0.75M181.8 245.3h0.75M172.9 248.3h0.75M177.4 247.0h0.75M180.1 242.0h0.75M179.6 248.6h0.75M180.9 248.1h0.75" stroke="#000" stroke-width="0.75"/>
<rect x="29.3" y="296.5" width="47.9" height="46.6" fill="#ececec" stroke="#999" stroke-width=".6"/>
<rect x="30.8" y="298.0" width="13.3" height="43.6" fill="#f6f6f6" stroke="#c4c4c4" stroke-width=".5"/>
<rect x="46.3" y="298.0" width="29.4" height="31.1" fill="#f6f6f6" stroke="#c4c4c4" stroke-width=".5"/>
<rect x="46.3" y="330.5" width="29.4" height="11.1" fill="#f6f6f6" stroke="#c4c4c4" stroke-width=".5"/>
<path d="M29.8 336.5L52.3 321.5M29.8 340.0L54.3 323.5" stroke="#aaa" stroke-width=".4" fill="none"/>
<text x="28.1" y="344.0" font-size="3.2" text-anchor="end" fill="#444" transform="rotate(-15 28.1 344.0)">10<tspan font-size="2.1" dy="-1.2">0</tspan></text>
<text x="28.1" y="332.4" font-size="3.2" text-anchor="end" fill="#444" transform="rotate(-15 28.1 332.4)">10<tspan font-size="2.1" dy="-1.2">1</tspan></text>
<text x="28.1" y="320.7" font-size="3.2" text-anchor="end" fill="#444" transform="rotate(-15 28.1 320.7)">10<tspan font-size="2.1" dy="-1.2">2</tspan></text>
<text x="28.1" y="309.0" font-size="3.2" text-anchor="end" fill="#444" transform="rotate(-15 28.1 309.0)">10<tspan font-size="2.1" dy="-1.2">3</tspan></text>
<text x="28.1" y="297.4" font-size="3.2" text-anchor="end" fill="#444" transform="rotate(-15 28.1 297.4)">10<tspan font-size="2.1" dy="-1.2">4</tspan></text>
<text x="29.8" y="348.0" font-size="3.2" text-anchor="middle" fill="#444" transform="rotate(-15 29.8 348.0)">10<tspan font-size="2.1" dy="-1.2">0</tspan></text>
<text x="41.8" y="348.0" font-size="3.2" text-anchor="middle" fill="#444" transform="rotate(-15 41.8 348.0)">10<tspan font-size="2.1" dy="-1.2">1</tspan></text>
<text x="53.8" y="348.0" font-size="3.2" text-anchor="middle" fill="#444" transform="rotate(-15 53.8 348.0)">10<tspan font-size="2.1" dy="-1.2">2</tspan></text>
<text x="65.7" y="348.0" font-size="3.2" text-anchor="middle" fill="#444" transform="rotate(-15 65.7 348.0)">10<tspan font-size="2.1" dy="-1.2">3</tspan></text>
<text x="77.7" y="348.0" font-size="3.2" text-anchor="middle" fill="#444" transform="rotate(-15 77.7 348.0)">10<tspan font-size="2.1" dy="-1.2">4</tspan></text>
<path d="M54.1 337.5h0.75M37.4 339.5h0.75M52.7 333.9h0.75M37.7 337.6h0.75M49.8 337.1h0.75M63.0 334.2h0.75M45.9 333.9h0.75M38.4 341.6h0.75M33.2 340.2h0.75M37.0 338.5h0.75M44.5 334.4h0.75M60.1 338.9h0.75M59.3 333.1h0.75M50.0 332.2h0.75M63.3 336.1h0.75M57.0 332.6h0.75M59.8 333.4h0.75M41.1 337.6h0.75M38.9 338.4h0.75M44.1 334.7h0.75M48.4 333.8h0.75M66.2 332.7h0.75M57.5 332.2h0.75M61.1 335.7h0.75M61.7 332.8h0.75M44.5 339.4h0.75M44.0 337.9h0.75M53.3 334.7h0.75M36.8 335.2h0.75M40.5 335.0h0.75M43.0 335.4h0.75M43.3 333.0h0.75M35.4 336.0h0.75M35.4 337.9h0.75M50.9 334.0h0.75M47.2 335.0h0.75M36.4 336.4h0.75M43.8 339.8h0.75M49.1 335.9h0.75M41.7 333.9h0.75M48.1 334.4h0.75M64.4 336.2h0.75M50.7 339.0h0.75M42.7 337.1h0.75M35.9 335.3h0.75M36.7 341.0h0.75M63.3 334.5h0.75M58.7 332.5h0.75M62.9 337.2h0.75M36.2 336.8h0.75M58.5 333.0h0.75M43.1 337.1h0.75M56.3 333.2h0.75M42.8 334.1h0.75M48.9 332.6h0.75M36.6 332.9h0.75M60.9 332.2h0.75M62.4 335.0h0.75M53.8 335.9h0.75M48.8 333.7h0.75M40.6 334.7h0.75M46.9 338.3h0.75M50.0 338.1h0.75M43.3 341.6h0.75M42.5 335.8h0.75M34.8 339.9h0.75M54.7 334.4h0.75M38.0 341.2h0.75M66.9 336.6h0.75M39.8 337.5h0.75M43.9 339.2h0.75M36.4 338.6h0.75M37.9 334.9h0.75M60.3 339.1h0.75M36.1 336.0h0.75M36.8 336.5h0.75M43.9 339.5h0.75M50.4 337.6h0.75M48.3 337.7h0.75M36.9 337.5h0.75M58.5 338.9h0.75M32.4 342.4h0.75M40.4 337.8h0.75M32.5 337.1h0.75M38.9 333.6h0.75M44.5 340.5h0.75M53.0 336.5h0.75M39.1 340.6h0.75M56.1 336.5h0.75M57.4 336.2h0.75M58.8 337.2h0.75M41.6 334.7h0.75M35.5 335.2h0.75M55.5 338.0h0.75M49.4 334.0h0.75M40.8 335.2h0.75M45.3 336.4h0.75M50.2 337.7h0.75M36.2 335.0h0.75M35.7 339.3h0.75M44.0 333.6h0.75M66.4 333.3h0.75M46.9 338.2h0.75M38.5 339.3h0.75M60.4 335.5h0.75M63.8 335.5h0.75M41.8 337.6h0.75M60.3 336.3h0.75M44.6 337.1h0.75M42.8 339.5h0.75M46.6 335.6h0.75M41.9 307.9h0.75M42.3 311.1h0.75M41.3 316.5h0.75M40.3 327.0h0.75M43.3 311.6h0.75M42.5 308.6h0.75M43.4 310.5h0.75M42.0 312.9h0.75M41.2 326.3h0.75M40.5 324.3h0.75M41.3 325.4h0.75M42.2 324.3h0.75M41.9 308.8h0.75M42.9 304.4h0.75M41.8 325.2h0.75M40.5 316.9h0.75M43.0 308.3h0.75M43.6 312.5h0.75M45.7 309.6h0.75M43.5 302.5h0.75M45.0 324.8h0.75M42.9 327.7h0.75M39.9 308.4h0.75M40.4 321.2h0.75M41.9 311.1h0.75M41.1 311.5h0.75M42.8 314.5h0.75M39.7 317.1h0.75M42.6 319.3h0.75M43.7 305.0h0.75M43.5 304.4h0.75M40.7 317.5h0.75M42.0 317.0h0.75M42.2 319.2h0.75M41.6 308.0h0.75M42.0 310.0h0.75M43.4 315.2h0.75M54.4 331.9h0.75M58.7 332.1h0.75M63.8 328.7h0.75M53.2 335.4h0.75M57.9 326.2h0.75M58.4 324.1h0.75M48.8 326.3h0.75M58.7 322.8h0.75M58.0 331.7h0.75M56.2 335.6h0.75M56.1 332.8h0.75M58.5 326.5h0.75M52.5 327.0h0.75M59.8 321.0h0.75M47.7 334.5h0.75M54.1 330.4h0.75M50.4 327.6h0.75M57.0 328.6h0.75M51.2 326.2h0.75M47.2 325.6h0.75M59.2 322.9h0.75M58.0 336.3h0.75M58.4 330.1h0.75M62.8 330.4h0.75" stroke="#555" stroke-width="0.75"/><clipPath id="k13"><rect x="29.7" y="296.9" width="47.1" height="45.8"/></clipPath><g clip-path="url(#k13)"><path d="M33 336L36 333.5L40 332.2L45 332.5L50 332.8L58 332.5L64 332.5L66.5 334L66 337.5L60 338.5L52 338.8L46 339.5L40 340.8L34 341.5L32.5 340Z" filter="url(#b5)"/></g>
<rect x="91.3" y="296.5" width="47.3" height="46.6" fill="#ececec" stroke="#999" stroke-width=".6"/>
<rect x="92.8" y="298.0" width="13.2" height="43.6" fill="#f6f6f6" stroke="#c4c4c4" stroke-width=".5"/>
<rect x="108.2" y="298.0" width="28.9" height="31.1" fill="#f6f6f6" stroke="#c4c4c4" stroke-width=".5"/>
<rect x="108.2" y="330.5" width="28.9" height="11.1" fill="#f6f6f6" stroke="#c4c4c4" stroke-width=".5"/>
<path d="M91.8 336.5L114.3 321.5M91.8 340.0L116.3 323.5" stroke="#aaa" stroke-width=".4" fill="none"/>
<text x="90.1" y="344.0" font-size="3.2" text-anchor="end" fill="#444" transform="rotate(-15 90.1 344.0)">10<tspan font-size="2.1" dy="-1.2">0</tspan></text>
<text x="90.1" y="332.4" font-size="3.2" text-anchor="end" fill="#444" transform="rotate(-15 90.1 332.4)">10<tspan font-size="2.1" dy="-1.2">1</tspan></text>
<text x="90.1" y="320.7" font-size="3.2" text-anchor="end" fill="#444" transform="rotate(-15 90.1 320.7)">10<tspan font-size="2.1" dy="-1.2">2</tspan></text>
<text x="90.1" y="309.0" font-size="3.2" text-anchor="end" fill="#444" transform="rotate(-15 90.1 309.0)">10<tspan font-size="2.1" dy="-1.2">3</tspan></text>
<text x="90.1" y="297.4" font-size="3.2" text-anchor="end" fill="#444" transform="rotate(-15 90.1 297.4)">10<tspan font-size="2.1" dy="-1.2">4</tspan></text>
<text x="91.8" y="348.0" font-size="3.2" text-anchor="middle" fill="#444" transform="rotate(-15 91.8 348.0)">10<tspan font-size="2.1" dy="-1.2">0</tspan></text>
<text x="103.6" y="348.0" font-size="3.2" text-anchor="middle" fill="#444" transform="rotate(-15 103.6 348.0)">10<tspan font-size="2.1" dy="-1.2">1</tspan></text>
<text x="115.4" y="348.0" font-size="3.2" text-anchor="middle" fill="#444" transform="rotate(-15 115.4 348.0)">10<tspan font-size="2.1" dy="-1.2">2</tspan></text>
<text x="127.3" y="348.0" font-size="3.2" text-anchor="middle" fill="#444" transform="rotate(-15 127.3 348.0)">10<tspan font-size="2.1" dy="-1.2">3</tspan></text>
<text x="139.1" y="348.0" font-size="3.2" text-anchor="middle" fill="#444" transform="rotate(-15 139.1 348.0)">10<tspan font-size="2.1" dy="-1.2">4</tspan></text>
<path d="M100.4 337.0h0.75M94.1 337.8h0.75M112.7 326.7h0.75M103.3 332.6h0.75M102.2 334.6h0.75M110.6 323.9h0.75M101.4 336.3h0.75M110.8 326.7h0.75M93.7 339.3h0.75M100.4 336.2h0.75M101.0 333.8h0.75M108.1 326.3h0.75M102.6 332.4h0.75M102.8 333.2h0.75M93.9 340.7h0.75M108.7 329.8h0.75M111.2 327.9h0.75M109.3 329.1h0.75M100.0 334.8h0.75M102.1 332.8h0.75M106.9 328.6h0.75M103.1 329.9h0.75M93.5 341.0h0.75M111.4 326.6h0.75M98.0 336.6h0.75M110.8 327.5h0.75M110.6 326.2h0.75M108.4 327.3h0.75M94.8 336.0h0.75M93.9 338.8h0.75M97.4 337.0h0.75M105.8 330.9h0.75M99.8 334.1h0.75M104.0 330.7h0.75M100.3 335.0h0.75M102.1 332.1h0.75M111.3 324.8h0.75M96.7 335.9h0.75M107.5 328.2h0.75M103.3 331.0h0.75M102.8 331.7h0.75M98.8 338.6h0.75M106.6 329.1h0.75M109.4 326.6h0.75M99.3 335.1h0.75M98.9 337.2h0.75M110.0 329.9h0.75M108.8 327.7h0.75M111.1 325.5h0.75M99.1 336.2h0.75M102.4 334.1h0.75M110.1 326.6h0.75M96.8 336.4h0.75M112.2 328.0h0.75M100.3 333.6h0.75M106.8 329.0h0.75M100.9 336.2h0.75M104.7 331.8h0.75M101.7 333.9h0.75M94.3 341.0h0.75M110.0 326.0h0.75M100.9 338.3h0.75M101.1 332.3h0.75M100.2 333.6h0.75M107.2 329.5h0.75M107.0 327.6h0.75M105.4 331.3h0.75M106.0 329.2h0.75M95.9 338.2h0.75M101.2 331.9h0.75M102.5 333.3h0.75M110.9 327.1h0.75M97.3 334.3h0.75M98.1 335.7h0.75M109.1 326.1h0.75M97.6 335.6h0.75M101.8 330.5h0.75M105.2 331.3h0.75M104.6 329.3h0.75M106.7 329.3h0.75M104.9 335.8h0.75M98.1 338.4h0.75M100.7 334.4h0.75M99.5 336.4h0.75M111.1 328.3h0.75M108.5 326.2h0.75M97.0 336.8h0.75M98.4 335.8h0.75M93.0 341.0h0.75M111.1 324.7h0.75M102.6 331.0h0.75M100.1 334.5h0.75M96.3 337.7h0.75M100.9 333.2h0.75M105.2 328.0h0.75M102.8 332.5h0.75M109.4 324.4h0.75M108.4 327.0h0.75M107.0 325.8h0.75M97.4 336.0h0.75M110.0 329.2h0.75M104.4 333.1h0.75M99.9 336.6h0.75M102.4 331.6h0.75M107.7 326.1h0.75M99.7 334.3h0.75M93.0 340.4h0.75M108.1 330.2h0.75M95.0 335.5h0.75M96.7 336.6h0.75M109.2 325.3h0.75M102.2 330.9h0.75M100.5 332.6h0.75M96.4 336.9h0.75M92.4 339.3h0.75M103.3 330.4h0.75M96.9 338.3h0.75M99.8 331.5h0.75M108.8 328.6h0.75M109.4 331.5h0.75M93.9 340.1h0.75M98.3 338.3h0.75M109.1 330.2h0.75M108.0 328.7h0.75M108.1 337.4h0.75M124.8 335.0h0.75M107.6 336.5h0.75M121.3 336.2h0.75M108.1 337.0h0.75M104.7 339.8h0.75M113.3 336.0h0.75M116.9 335.5h0.75M120.9 336.3h0.75M112.5 337.4h0.75M104.6 335.7h0.75M114.0 335.9h0.75M106.8 337.3h0.75M114.1 334.7h0.75M104.4 335.8h0.75M115.5 336.5h0.75M104.3 337.0h0.75M112.8 335.1h0.75M113.0 336.6h0.75M114.4 334.6h0.75M120.9 338.3h0.75M121.4 336.3h0.75M120.9 336.0h0.75M106.4 335.6h0.75M106.9 335.1h0.75M117.2 334.7h0.75M119.8 335.1h0.75M115.1 335.2h0.75M106.8 338.4h0.75M123.2 335.2h0.75M116.6 337.2h0.75M105.5 336.1h0.75M124.2 336.7h0.75M110.1 333.7h0.75M107.2 337.8h0.75M120.5 334.4h0.75M114.4 337.4h0.75M118.8 336.7h0.75M121.4 334.5h0.75M117.9 336.8h0.75M104.9 334.6h0.75M105.9 336.2h0.75M112.0 336.2h0.75M124.8 333.4h0.75M123.7 336.1h0.75M116.2 336.6h0.75M111.0 337.9h0.75M104.2 336.5h0.75M123.6 335.1h0.75M110.7 339.2h0.75M105.6 338.5h0.75M118.5 336.8h0.75M120.0 333.3h0.75M119.8 337.3h0.75M113.6 337.7h0.75M122.3 339.2h0.75M107.7 337.0h0.75M115.3 341.5h0.75M111.9 337.8h0.75M104.1 338.0h0.75M104.4 336.3h0.75M120.8 335.7h0.75M121.9 336.7h0.75M109.9 337.2h0.75M107.3 335.4h0.75M114.7 338.0h0.75M122.3 337.1h0.75M114.9 335.4h0.75M111.6 336.0h0.75M106.7 334.8h0.75M122.5 335.9h0.75M106.2 339.2h0.75M118.4 338.8h0.75M123.2 336.1h0.75M105.8 337.3h0.75M124.6 337.9h0.75M115.9 337.3h0.75M105.1 337.0h0.75M110.2 335.8h0.75M115.7 337.9h0.75M116.0 338.4h0.75M114.0 339.1h0.75M117.3 336.1h0.75M115.2 336.3h0.75M124.4 336.2h0.75M113.4 336.3h0.75M112.1 337.7h0.75M123.4 336.3h0.75M123.9 334.7h0.75M116.1 333.1h0.75M118.9 335.2h0.75M114.6 336.4h0.75M105.3 337.2h0.75M114.6 338.7h0.75M124.9 336.0h0.75M115.0 336.2h0.75M111.2 338.7h0.75M124.8 336.8h0.75M109.3 337.7h0.75M114.7 333.5h0.75M115.3 335.0h0.75M108.5 337.2h0.75M117.2 336.0h0.75M110.6 338.3h0.75M120.7 337.6h0.75M112.7 339.9h0.75M115.9 334.0h0.75M121.2 334.5h0.75M106.4 336.2h0.75M108.0 337.8h0.75M97.3 316.7h0.75M105.2 325.0h0.75M97.3 315.6h0.75M102.3 317.3h0.75M99.5 320.9h0.75M97.8 324.9h0.75M100.3 322.4h0.75M100.9 322.3h0.75M101.6 311.5h0.75M105.0 329.2h0.75M100.2 319.1h0.75M100.6 326.9h0.75M97.2 318.3h0.75M104.5 320.3h0.75M100.1 318.5h0.75M97.6 324.8h0.75M98.5 318.7h0.75M101.5 325.8h0.75M103.2 324.5h0.75M100.1 321.5h0.75M100.8 317.3h0.75M95.8 328.8h0.75M99.2 318.5h0.75M104.1 314.3h0.75M102.0 316.1h0.75M101.2 314.3h0.75M98.9 325.8h0.75M100.8 318.8h0.75M100.3 323.7h0.75M94.9 316.2h0.75M101.8 324.3h0.75M100.4 323.8h0.75M95.2 324.0h0.75" stroke="#555" stroke-width="0.75"/><clipPath id="k14"><rect x="91.7" y="296.9" width="46.5" height="45.8"/></clipPath><g clip-path="url(#k14)"><path d="M91.5 341L107 328.5L108 329.5L94 342.5Z" filter="url(#b6)"/><path d="M92.5 341L105 330.5" stroke="#000" stroke-width="3.4" stroke-linecap="round" stroke-linejoin="round" fill="none" filter="url(#b8)"/></g>
<rect x="153.3" y="296.5" width="47.1" height="46.6" fill="#ececec" stroke="#999" stroke-width=".6"/>
<rect x="154.8" y="298.0" width="13.1" height="43.6" fill="#f6f6f6" stroke="#c4c4c4" stroke-width=".5"/>
<rect x="170.1" y="298.0" width="28.8" height="31.1" fill="#f6f6f6" stroke="#c4c4c4" stroke-width=".5"/>
<rect x="170.1" y="330.5" width="28.8" height="11.1" fill="#f6f6f6" stroke="#c4c4c4" stroke-width=".5"/>
<path d="M153.8 336.5L176.3 321.5M153.8 340.0L178.3 323.5" stroke="#aaa" stroke-width=".4" fill="none"/>
<text x="152.1" y="344.0" font-size="3.2" text-anchor="end" fill="#444" transform="rotate(-15 152.1 344.0)">10<tspan font-size="2.1" dy="-1.2">0</tspan></text>
<text x="152.1" y="332.4" font-size="3.2" text-anchor="end" fill="#444" transform="rotate(-15 152.1 332.4)">10<tspan font-size="2.1" dy="-1.2">1</tspan></text>
<text x="152.1" y="320.7" font-size="3.2" text-anchor="end" fill="#444" transform="rotate(-15 152.1 320.7)">10<tspan font-size="2.1" dy="-1.2">2</tspan></text>
<text x="152.1" y="309.0" font-size="3.2" text-anchor="end" fill="#444" transform="rotate(-15 152.1 309.0)">10<tspan font-size="2.1" dy="-1.2">3</tspan></text>
<text x="152.1" y="297.4" font-size="3.2" text-anchor="end" fill="#444" transform="rotate(-15 152.1 297.4)">10<tspan font-size="2.1" dy="-1.2">4</tspan></text>
<text x="153.8" y="348.0" font-size="3.2" text-anchor="middle" fill="#444" transform="rotate(-15 153.8 348.0)">10<tspan font-size="2.1" dy="-1.2">0</tspan></text>
<text x="165.6" y="348.0" font-size="3.2" text-anchor="middle" fill="#444" transform="rotate(-15 165.6 348.0)">10<tspan font-size="2.1" dy="-1.2">1</tspan></text>
<text x="177.4" y="348.0" font-size="3.2" text-anchor="middle" fill="#444" transform="rotate(-15 177.4 348.0)">10<tspan font-size="2.1" dy="-1.2">2</tspan></text>
<text x="189.1" y="348.0" font-size="3.2" text-anchor="middle" fill="#444" transform="rotate(-15 189.1 348.0)">10<tspan font-size="2.1" dy="-1.2">3</tspan></text>
<text x="200.9" y="348.0" font-size="3.2" text-anchor="middle" fill="#444" transform="rotate(-15 200.9 348.0)">10<tspan font-size="2.1" dy="-1.2">4</tspan></text>
<path d="M168.5 329.1h0.75M157.4 339.7h0.75M169.1 332.2h0.75M158.2 340.2h0.75M164.4 331.9h0.75M156.0 340.1h0.75M161.6 337.3h0.75M170.1 331.2h0.75M169.8 327.6h0.75M168.0 332.9h0.75M157.6 341.4h0.75M171.3 326.9h0.75M164.9 333.5h0.75M169.2 326.7h0.75M159.5 335.3h0.75M157.0 339.6h0.75M161.1 336.1h0.75M157.7 336.6h0.75M164.0 335.9h0.75M158.7 339.0h0.75M169.8 328.5h0.75M170.7 329.0h0.75M162.6 330.8h0.75M171.1 326.9h0.75M158.6 336.7h0.75M160.1 336.5h0.75M165.0 332.9h0.75M172.4 329.0h0.75M166.8 330.8h0.75M163.2 331.5h0.75M161.4 335.7h0.75M167.7 328.7h0.75M170.8 330.5h0.75M171.6 331.0h0.75M165.7 334.0h0.75M166.4 330.4h0.75M164.6 335.1h0.75M155.5 338.3h0.75M171.1 328.7h0.75M165.3 327.5h0.75M163.0 334.6h0.75M165.0 335.9h0.75M159.6 335.2h0.75M173.2 331.4h0.75M156.1 336.5h0.75M166.4 331.2h0.75M159.9 337.2h0.75M169.9 328.1h0.75M157.7 341.1h0.75M171.2 330.9h0.75M161.5 334.4h0.75M163.5 331.1h0.75M162.0 335.2h0.75M160.7 335.0h0.75M162.9 336.0h0.75M161.8 335.6h0.75M168.1 331.4h0.75M162.6 335.2h0.75M164.6 330.5h0.75M170.5 326.2h0.75M161.3 339.8h0.75M169.5 326.6h0.75M165.4 330.7h0.75M163.3 332.1h0.75M162.4 333.7h0.75M172.9 328.1h0.75M169.0 331.0h0.75M158.8 339.1h0.75M167.9 328.7h0.75M158.7 339.7h0.75M154.9 340.1h0.75M166.3 332.6h0.75M161.5 335.9h0.75M154.4 338.8h0.75M164.7 332.9h0.75M162.2 335.9h0.75M173.4 329.4h0.75M161.1 338.5h0.75M163.7 333.5h0.75M169.3 327.6h0.75M155.8 339.4h0.75M170.9 329.3h0.75M159.8 337.4h0.75M160.9 338.8h0.75M165.6 332.8h0.75M157.6 341.9h0.75M168.6 331.3h0.75M167.1 329.2h0.75M169.5 329.8h0.75M164.6 334.0h0.75M158.9 338.6h0.75M163.0 333.4h0.75M164.4 332.7h0.75M168.3 329.6h0.75M163.3 333.9h0.75M168.5 330.7h0.75M163.0 333.8h0.75M168.0 330.2h0.75M160.3 339.0h0.75M171.3 326.4h0.75M160.1 338.0h0.75M163.5 338.6h0.75M170.4 329.8h0.75M167.5 328.9h0.75M157.0 339.0h0.75M157.3 340.5h0.75M165.7 333.6h0.75M155.3 339.2h0.75M157.6 340.2h0.75M156.9 336.0h0.75M168.5 330.1h0.75M164.2 334.5h0.75M159.3 338.5h0.75M156.0 342.1h0.75M161.0 333.8h0.75M161.5 336.7h0.75M168.4 330.9h0.75M171.5 330.7h0.75M160.1 334.6h0.75M170.3 332.1h0.75M163.3 332.6h0.75M169.7 332.3h0.75M171.5 328.6h0.75M156.7 340.0h0.75M160.5 338.1h0.75M171.2 326.6h0.75M167.1 332.2h0.75M167.8 327.6h0.75M164.6 337.7h0.75M164.1 336.3h0.75M180.9 336.0h0.75M188.3 334.5h0.75M183.7 334.0h0.75M181.7 334.0h0.75M177.4 332.8h0.75M168.7 337.9h0.75M185.3 334.4h0.75M170.9 338.7h0.75M188.4 332.8h0.75M181.8 335.4h0.75M169.4 334.9h0.75M177.0 334.8h0.75M174.4 335.5h0.75M172.0 336.5h0.75M180.8 334.4h0.75M178.4 333.2h0.75M169.4 331.8h0.75M169.5 334.3h0.75M173.8 335.3h0.75M183.9 334.9h0.75M187.9 332.5h0.75M177.6 335.1h0.75M177.8 334.2h0.75M177.7 335.8h0.75M181.5 335.4h0.75M190.0 335.9h0.75M183.3 335.1h0.75M172.5 335.5h0.75M186.6 335.2h0.75M183.1 334.7h0.75M177.0 334.4h0.75M168.7 335.3h0.75M166.8 335.5h0.75M175.6 334.4h0.75M175.9 334.1h0.75M170.2 332.7h0.75M166.0 335.2h0.75M178.0 332.0h0.75M180.0 333.0h0.75M166.0 332.4h0.75M172.9 332.7h0.75M172.0 333.7h0.75M180.9 336.7h0.75M179.1 332.6h0.75M176.5 332.2h0.75M168.9 335.4h0.75M184.5 335.6h0.75M184.3 334.5h0.75M179.2 334.1h0.75M184.6 335.0h0.75M168.7 336.4h0.75M178.3 333.9h0.75M189.1 334.6h0.75M166.8 335.8h0.75M167.5 333.6h0.75M172.8 335.4h0.75M173.4 334.9h0.75M181.6 333.6h0.75M171.5 332.9h0.75M188.0 334.5h0.75M183.8 333.5h0.75M180.1 334.0h0.75M167.0 334.7h0.75M180.3 334.7h0.75M171.8 333.9h0.75M181.3 331.5h0.75M178.9 334.3h0.75M177.5 331.0h0.75M173.1 334.1h0.75M188.0 334.8h0.75M190.0 334.9h0.75M178.1 333.4h0.75M174.8 338.7h0.75M170.0 335.4h0.75M176.4 335.7h0.75M171.2 331.9h0.75M168.5 337.4h0.75M181.1 336.8h0.75M189.7 330.9h0.75M183.5 336.3h0.75M179.4 331.7h0.75M186.0 337.7h0.75M186.3 335.4h0.75M185.7 333.8h0.75M189.6 334.6h0.75M170.3 334.4h0.75M189.5 335.6h0.75M166.3 333.1h0.75M182.6 334.5h0.75M180.2 335.1h0.75M166.7 335.7h0.75M184.4 336.0h0.75M174.6 337.7h0.75M168.2 336.0h0.75M168.5 332.8h0.75M173.5 334.5h0.75M174.3 332.0h0.75M176.5 333.8h0.75M178.4 333.6h0.75M185.8 333.7h0.75M172.2 332.8h0.75M189.0 333.7h0.75M181.7 335.1h0.75M184.0 336.5h0.75M182.0 335.2h0.75M169.3 333.6h0.75M166.1 337.6h0.75M185.4 334.8h0.75M166.5 334.9h0.75M183.8 335.8h0.75M172.9 334.9h0.75M185.8 334.2h0.75M180.2 336.0h0.75M187.3 334.5h0.75M182.2 331.8h0.75M172.0 335.6h0.75M168.2 334.0h0.75M170.3 333.7h0.75M179.6 335.7h0.75M182.7 333.0h0.75M188.3 335.4h0.75M174.6 336.2h0.75M189.1 331.9h0.75M183.9 332.7h0.75M170.9 333.3h0.75M174.5 337.1h0.75M183.3 331.4h0.75M168.6 335.8h0.75M179.5 332.6h0.75M182.6 335.8h0.75M187.4 334.1h0.75M174.4 332.5h0.75M183.2 331.8h0.75M183.0 333.9h0.75M187.6 332.1h0.75M187.0 332.5h0.75M165.2 337.6h0.75M189.1 336.4h0.75M172.9 337.7h0.75M175.5 336.6h0.75M180.2 335.4h0.75M176.9 337.2h0.75M170.9 335.3h0.75M172.2 334.9h0.75M182.6 331.8h0.75M187.7 334.8h0.75M174.1 335.1h0.75M181.2 333.7h0.75M165.6 334.6h0.75M165.1 334.2h0.75M178.2 331.5h0.75M184.5 334.0h0.75M185.7 331.1h0.75M182.9 335.5h0.75M189.8 334.1h0.75M177.7 333.4h0.75M185.3 335.4h0.75M179.5 333.8h0.75M176.7 330.6h0.75M188.8 332.5h0.75M165.2 335.3h0.75M181.4 332.9h0.75M167.3 332.3h0.75M169.6 335.6h0.75M187.1 336.1h0.75M173.7 332.3h0.75M174.6 334.8h0.75M166.5 334.7h0.75M177.6 336.3h0.75M161.8 325.7h0.75M157.5 316.9h0.75M160.3 331.0h0.75M162.5 316.5h0.75M160.0 308.8h0.75M164.8 330.6h0.75M160.9 326.8h0.75M160.3 320.5h0.75M166.7 320.5h0.75M161.7 326.2h0.75M165.9 313.9h0.75M162.0 322.6h0.75M162.4 317.2h0.75M160.3 319.2h0.75M167.0 325.9h0.75M160.1 314.9h0.75M161.1 323.0h0.75M166.0 326.7h0.75M167.2 320.8h0.75M160.8 322.7h0.75M162.4 313.9h0.75M162.5 333.9h0.75M163.7 323.8h0.75M164.7 316.7h0.75M157.4 315.1h0.75M165.0 326.0h0.75M163.3 321.8h0.75M160.8 317.3h0.75M160.0 323.4h0.75M158.7 311.8h0.75M160.8 318.2h0.75M159.8 324.1h0.75M162.3 321.4h0.75M160.2 317.4h0.75" stroke="#555" stroke-width="0.75"/><clipPath id="k15"><rect x="153.7" y="296.9" width="46.3" height="45.8"/></clipPath><g clip-path="url(#k15)"><path d="M155.5 340.5L169 329" stroke="#000" stroke-width="4.2" stroke-linecap="round" stroke-linejoin="round" fill="none" filter="url(#b8)"/></g>
<rect x="29.3" y="351.4" width="47.9" height="46.6" fill="#ececec" stroke="#999" stroke-width=".6"/>
<rect x="30.8" y="352.9" width="13.3" height="43.6" fill="#f6f6f6" stroke="#c4c4c4" stroke-width=".5"/>
<rect x="46.3" y="352.9" width="29.4" height="31.1" fill="#f6f6f6" stroke="#c4c4c4" stroke-width=".5"/>
<rect x="46.3" y="385.4" width="29.4" height="11.1" fill="#f6f6f6" stroke="#c4c4c4" stroke-width=".5"/>
<path d="M29.8 391.4L52.3 376.4M29.8 394.9L54.3 378.4" stroke="#aaa" stroke-width=".4" fill="none"/>
<text x="28.1" y="398.9" font-size="3.2" text-anchor="end" fill="#444" transform="rotate(-15 28.1 398.9)">10<tspan font-size="2.1" dy="-1.2">0</tspan></text>
<text x="28.1" y="387.2" font-size="3.2" text-anchor="end" fill="#444" transform="rotate(-15 28.1 387.2)">10<tspan font-size="2.1" dy="-1.2">1</tspan></text>
<text x="28.1" y="375.6" font-size="3.2" text-anchor="end" fill="#444" transform="rotate(-15 28.1 375.6)">10<tspan font-size="2.1" dy="-1.2">2</tspan></text>
<text x="28.1" y="363.9" font-size="3.2" text-anchor="end" fill="#444" transform="rotate(-15 28.1 363.9)">10<tspan font-size="2.1" dy="-1.2">3</tspan></text>
<text x="28.1" y="352.3" font-size="3.2" text-anchor="end" fill="#444" transform="rotate(-15 28.1 352.3)">10<tspan font-size="2.1" dy="-1.2">4</tspan></text>
<text x="29.8" y="402.9" font-size="3.2" text-anchor="middle" fill="#444" transform="rotate(-15 29.8 402.9)">10<tspan font-size="2.1" dy="-1.2">0</tspan></text>
<text x="41.8" y="402.9" font-size="3.2" text-anchor="middle" fill="#444" transform="rotate(-15 41.8 402.9)">10<tspan font-size="2.1" dy="-1.2">1</tspan></text>
<text x="53.8" y="402.9" font-size="3.2" text-anchor="middle" fill="#444" transform="rotate(-15 53.8 402.9)">10<tspan font-size="2.1" dy="-1.2">2</tspan></text>
<text x="65.7" y="402.9" font-size="3.2" text-anchor="middle" fill="#444" transform="rotate(-15 65.7 402.9)">10<tspan font-size="2.1" dy="-1.2">3</tspan></text>
<text x="77.7" y="402.9" font-size="3.2" text-anchor="middle" fill="#444" transform="rotate(-15 77.7 402.9)">10<tspan font-size="2.1" dy="-1.2">4</tspan></text>
<path d="M39.9 377.4h0.75M42.4 382.8h0.75M39.6 369.7h0.75M41.4 366.4h0.75M37.7 371.2h0.75M41.8 372.4h0.75M40.8 387.2h0.75M39.7 379.4h0.75M39.7 367.1h0.75M36.1 367.9h0.75M41.3 368.1h0.75M40.9 385.8h0.75M39.7 380.7h0.75M40.0 378.5h0.75M37.0 379.6h0.75M41.2 377.4h0.75M39.0 368.3h0.75M36.2 387.9h0.75M37.8 385.1h0.75M41.0 367.5h0.75M38.8 374.6h0.75M39.5 366.5h0.75M40.5 381.9h0.75M38.7 372.5h0.75M40.2 388.8h0.75M43.6 369.5h0.75M39.8 376.6h0.75M41.4 376.0h0.75M39.8 367.7h0.75M39.3 388.3h0.75M37.9 369.0h0.75M41.6 376.4h0.75M40.9 368.6h0.75M39.6 378.9h0.75M38.0 377.1h0.75M38.0 386.9h0.75M43.2 370.6h0.75M38.0 387.6h0.75M40.3 381.6h0.75M41.5 367.3h0.75M39.7 367.9h0.75M39.5 374.7h0.75M40.6 385.3h0.75M40.3 377.5h0.75M40.2 369.8h0.75M42.4 376.2h0.75M38.4 383.7h0.75M43.8 385.2h0.75M37.7 379.8h0.75M40.4 367.1h0.75M39.3 386.9h0.75M41.2 365.1h0.75M41.2 373.3h0.75M40.7 386.2h0.75M40.0 382.6h0.75M42.9 380.8h0.75M39.5 374.9h0.75M41.5 382.9h0.75M39.8 379.9h0.75M41.4 379.1h0.75M39.2 380.1h0.75M40.6 374.3h0.75M41.1 365.4h0.75M39.1 372.2h0.75M40.5 369.2h0.75M39.9 374.7h0.75M39.3 384.4h0.75M42.9 386.8h0.75M39.7 381.5h0.75M40.4 377.8h0.75M40.9 370.3h0.75M39.9 371.0h0.75M39.8 385.2h0.75M42.4 371.3h0.75M40.3 373.7h0.75M40.7 380.8h0.75M40.5 379.5h0.75M41.6 371.5h0.75M39.4 376.8h0.75M38.0 376.0h0.75M42.6 368.4h0.75M38.1 380.9h0.75M40.7 365.6h0.75M39.0 385.0h0.75M41.9 376.4h0.75M40.2 387.6h0.75M39.6 386.5h0.75M37.1 373.5h0.75M40.8 381.8h0.75M42.4 372.2h0.75M37.1 388.9h0.75M41.4 376.9h0.75M42.5 366.5h0.75M39.0 374.2h0.75M40.1 383.5h0.75M40.3 369.8h0.75M41.7 379.5h0.75M39.3 365.2h0.75M40.8 379.0h0.75M39.9 366.4h0.75M41.0 366.3h0.75M40.7 371.2h0.75M40.4 366.2h0.75M41.5 383.3h0.75M40.7 382.6h0.75M44.9 390.2h0.75M51.3 387.9h0.75M56.9 390.9h0.75M59.2 390.1h0.75M58.4 388.9h0.75M44.7 388.3h0.75M49.2 387.4h0.75M56.3 391.1h0.75M60.6 392.4h0.75M50.8 391.0h0.75M43.5 389.8h0.75M48.7 389.1h0.75M50.5 389.8h0.75M53.0 389.7h0.75M53.0 390.6h0.75M51.6 390.1h0.75M61.4 390.2h0.75M43.1 388.7h0.75M53.8 389.7h0.75M41.6 391.2h0.75M60.6 391.8h0.75M52.5 388.8h0.75M54.9 389.2h0.75M61.3 388.6h0.75M63.8 391.2h0.75M41.7 390.6h0.75M51.0 392.6h0.75M63.5 392.7h0.75M42.5 387.4h0.75M46.6 389.9h0.75M50.5 392.0h0.75M57.6 388.6h0.75M50.4 388.1h0.75M49.0 388.0h0.75M44.3 390.0h0.75M43.5 391.4h0.75M48.0 391.6h0.75M58.2 390.2h0.75M53.1 393.6h0.75M57.3 388.9h0.75M46.6 392.2h0.75M60.0 390.3h0.75M55.9 387.4h0.75M57.9 389.5h0.75M51.4 389.5h0.75M54.6 390.3h0.75M55.3 393.3h0.75M60.7 389.5h0.75M57.5 391.0h0.75M56.7 389.9h0.75M52.0 391.3h0.75M56.8 391.5h0.75M49.1 389.2h0.75M53.8 390.7h0.75M47.5 389.8h0.75M41.0 389.7h0.75M49.2 390.4h0.75M51.7 390.9h0.75M59.8 389.8h0.75M43.6 390.6h0.75M56.8 387.9h0.75M41.0 391.5h0.75M48.4 388.1h0.75M45.3 389.1h0.75M56.5 391.6h0.75M59.3 390.8h0.75M57.6 389.9h0.75M49.2 389.4h0.75M56.1 388.7h0.75M48.1 387.3h0.75M43.5 389.6h0.75M41.4 389.8h0.75M58.7 388.3h0.75M50.2 389.7h0.75M55.6 389.4h0.75M46.1 387.1h0.75M62.0 390.1h0.75M44.6 388.1h0.75M63.8 387.7h0.75M62.4 393.3h0.75M51.1 388.6h0.75M56.1 390.2h0.75M40.1 392.8h0.75M55.9 390.8h0.75M53.7 387.8h0.75M40.1 391.4h0.75M45.0 387.3h0.75M47.6 389.3h0.75M50.0 389.9h0.75M64.2 390.4h0.75M55.2 390.9h0.75M51.7 387.5h0.75M64.5 389.9h0.75M54.3 388.1h0.75M64.0 389.9h0.75M49.3 388.9h0.75M41.9 389.6h0.75M60.7 388.8h0.75M42.4 390.4h0.75M41.1 392.6h0.75M60.4 388.6h0.75M59.9 390.9h0.75M58.3 392.4h0.75M51.0 390.1h0.75M51.1 391.5h0.75M61.6 394.0h0.75M65.0 391.2h0.75M51.8 389.2h0.75M58.5 389.7h0.75M59.0 388.0h0.75M50.6 389.1h0.75M44.7 389.7h0.75M58.6 390.2h0.75M42.9 392.6h0.75M54.3 389.2h0.75M48.7 392.4h0.75M50.7 390.5h0.75M60.0 389.4h0.75M56.5 389.6h0.75M57.8 393.4h0.75M42.4 389.2h0.75M46.4 389.5h0.75M43.4 387.9h0.75M53.6 390.3h0.75M60.7 390.8h0.75M43.8 389.3h0.75M48.3 389.8h0.75M62.6 388.3h0.75M62.3 391.7h0.75M45.6 391.0h0.75M46.4 393.1h0.75M41.2 392.1h0.75M50.1 390.3h0.75M43.7 392.4h0.75M52.5 365.2h0.75M46.3 364.5h0.75M61.0 374.4h0.75M59.1 380.5h0.75M59.4 388.5h0.75M55.3 383.5h0.75M53.0 371.3h0.75M58.3 372.6h0.75M52.0 372.8h0.75M56.1 375.3h0.75M46.4 372.6h0.75M61.7 373.3h0.75M51.9 379.3h0.75M56.0 371.2h0.75M55.9 375.8h0.75M47.5 362.6h0.75M51.7 371.6h0.75M47.7 374.7h0.75M53.3 363.5h0.75M53.6 367.9h0.75M56.7 367.4h0.75M61.5 392.3h0.75M54.2 375.8h0.75M50.5 385.7h0.75M56.7 392.3h0.75M50.3 372.9h0.75M52.9 371.9h0.75M63.9 375.2h0.75M56.6 372.8h0.75M47.8 380.6h0.75M41.8 372.0h0.75M55.0 381.5h0.75M40.9 368.8h0.75M55.9 374.1h0.75M46.0 378.0h0.75M58.7 365.5h0.75M50.6 375.8h0.75M45.8 375.1h0.75M53.0 392.8h0.75M55.2 382.9h0.75M54.1 364.3h0.75M42.4 380.5h0.75M58.1 392.2h0.75M49.3 372.1h0.75M58.3 383.2h0.75M57.1 375.5h0.75M43.7 366.9h0.75M52.5 391.7h0.75M48.6 359.5h0.75M52.4 379.9h0.75M52.6 366.8h0.75M45.4 377.1h0.75M54.2 380.1h0.75M48.4 381.6h0.75M51.5 378.7h0.75M55.4 376.2h0.75M55.6 379.8h0.75M51.0 369.1h0.75M49.2 376.5h0.75M65.0 379.9h0.75M60.7 370.7h0.75M57.2 373.9h0.75M46.2 389.7h0.75M52.9 381.5h0.75M40.0 375.3h0.75M58.8 379.0h0.75M58.2 383.0h0.75M43.8 373.8h0.75M45.0 382.3h0.75M48.1 388.1h0.75M58.5 392.0h0.75M47.9 388.8h0.75M48.9 375.3h0.75M49.2 382.6h0.75M52.5 376.9h0.75M55.9 386.3h0.75M49.9 378.8h0.75M54.8 376.6h0.75M45.5 380.8h0.75M47.2 371.7h0.75M48.0 390.4h0.75M47.7 364.5h0.75M46.7 381.1h0.75M55.4 374.9h0.75M66.5 365.9h0.75M48.1 384.4h0.75M51.4 374.4h0.75M53.7 366.0h0.75M43.4 380.3h0.75M54.5 367.8h0.75M59.9 385.2h0.75M52.8 370.1h0.75M47.7 379.1h0.75M54.8 372.6h0.75M38.4 381.0h0.75M58.9 379.7h0.75M64.0 374.4h0.75M60.0 373.3h0.75M51.6 377.4h0.75M45.9 376.6h0.75M49.8 370.6h0.75M54.4 371.5h0.75M52.5 376.0h0.75M55.6 375.5h0.75M55.1 375.7h0.75M55.2 389.4h0.75M51.4 375.4h0.75M46.6 381.3h0.75M52.2 367.4h0.75M60.0 372.4h0.75M53.9 375.2h0.75M66.6 363.2h0.75M62.6 375.9h0.75M56.7 392.1h0.75M44.3 362.9h0.75M52.0 374.7h0.75M40.1 381.7h0.75M56.7 382.7h0.75M58.7 377.0h0.75M56.1 378.0h0.75M47.6 374.8h0.75M45.8 386.1h0.75M57.3 380.1h0.75M40.5 372.0h0.75M45.0 378.5h0.75M46.8 374.9h0.75M61.8 374.0h0.75M50.5 378.4h0.75M59.5 380.1h0.75M47.3 365.1h0.75M42.0 359.8h0.75M68.3 372.8h0.75M58.2 382.5h0.75M61.3 378.2h0.75M56.3 358.8h0.75M71.1 390.6h0.75M56.3 385.7h0.75M50.6 380.4h0.75M63.7 386.5h0.75M50.2 375.4h0.75M56.2 371.6h0.75" stroke="#555" stroke-width="0.75"/><clipPath id="k16"><rect x="29.7" y="351.8" width="47.1" height="45.8"/></clipPath><g clip-path="url(#k16)"><path d="M40.2 365V389L64 389.5M31.5 397L40 389" stroke="#000" stroke-width="4.8" stroke-linecap="round" stroke-linejoin="round" fill="none" filter="url(#b8)"/></g>
<rect x="91.3" y="351.4" width="47.3" height="46.6" fill="#ececec" stroke="#999" stroke-width=".6"/>
<rect x="92.8" y="352.9" width="13.2" height="43.6" fill="#f6f6f6" stroke="#c4c4c4" stroke-width=".5"/>
<rect x="108.2" y="352.9" width="28.9" height="31.1" fill="#f6f6f6" stroke="#c4c4c4" stroke-width=".5"/>
<rect x="108.2" y="385.4" width="28.9" height="11.1" fill="#f6f6f6" stroke="#c4c4c4" stroke-width=".5"/>
<path d="M91.8 391.4L114.3 376.4M91.8 394.9L116.3 378.4" stroke="#aaa" stroke-width=".4" fill="none"/>
<text x="90.1" y="398.9" font-size="3.2" text-anchor="end" fill="#444" transform="rotate(-15 90.1 398.9)">10<tspan font-size="2.1" dy="-1.2">0</tspan></text>
<text x="90.1" y="387.2" font-size="3.2" text-anchor="end" fill="#444" transform="rotate(-15 90.1 387.2)">10<tspan font-size="2.1" dy="-1.2">1</tspan></text>
<text x="90.1" y="375.6" font-size="3.2" text-anchor="end" fill="#444" transform="rotate(-15 90.1 375.6)">10<tspan font-size="2.1" dy="-1.2">2</tspan></text>
<text x="90.1" y="363.9" font-size="3.2" text-anchor="end" fill="#444" transform="rotate(-15 90.1 363.9)">10<tspan font-size="2.1" dy="-1.2">3</tspan></text>
<text x="90.1" y="352.3" font-size="3.2" text-anchor="end" fill="#444" transform="rotate(-15 90.1 352.3)">10<tspan font-size="2.1" dy="-1.2">4</tspan></text>
<text x="91.8" y="402.9" font-size="3.2" text-anchor="middle" fill="#444" transform="rotate(-15 91.8 402.9)">10<tspan font-size="2.1" dy="-1.2">0</tspan></text>
<text x="103.6" y="402.9" font-size="3.2" text-anchor="middle" fill="#444" transform="rotate(-15 103.6 402.9)">10<tspan font-size="2.1" dy="-1.2">1</tspan></text>
<text x="115.4" y="402.9" font-size="3.2" text-anchor="middle" fill="#444" transform="rotate(-15 115.4 402.9)">10<tspan font-size="2.1" dy="-1.2">2</tspan></text>
<text x="127.3" y="402.9" font-size="3.2" text-anchor="middle" fill="#444" transform="rotate(-15 127.3 402.9)">10<tspan font-size="2.1" dy="-1.2">3</tspan></text>
<text x="139.1" y="402.9" font-size="3.2" text-anchor="middle" fill="#444" transform="rotate(-15 139.1 402.9)">10<tspan font-size="2.1" dy="-1.2">4</tspan></text>
<path d="M99.5 384.5h0.75M105.3 368.6h0.75M101.7 371.9h0.75M103.4 370.6h0.75M100.9 386.0h0.75M101.6 363.3h0.75M103.7 380.4h0.75M101.5 384.2h0.75M99.4 376.0h0.75M101.5 376.6h0.75M98.4 384.4h0.75M101.7 365.1h0.75M104.3 386.8h0.75M101.0 367.9h0.75M105.9 381.3h0.75M100.6 375.1h0.75M103.3 376.8h0.75M100.1 374.7h0.75M100.0 365.8h0.75M100.4 379.2h0.75M102.1 363.2h0.75M102.5 376.4h0.75M101.9 386.5h0.75M101.5 366.6h0.75M100.7 367.3h0.75M101.2 380.6h0.75M99.5 371.7h0.75M102.6 382.2h0.75M103.5 387.3h0.75M102.0 380.6h0.75M103.9 378.2h0.75M101.5 387.6h0.75M101.0 385.3h0.75M99.7 369.9h0.75M104.9 379.7h0.75M100.7 365.8h0.75M100.3 386.9h0.75M102.3 387.4h0.75M105.6 387.0h0.75M102.4 384.1h0.75M99.8 364.9h0.75M102.5 388.2h0.75M103.1 388.6h0.75M104.8 378.6h0.75M100.7 364.7h0.75M103.5 379.4h0.75M101.5 371.6h0.75M101.9 377.9h0.75M101.0 366.0h0.75M101.7 378.1h0.75M104.5 377.9h0.75M101.1 367.1h0.75M99.8 367.2h0.75M102.8 373.2h0.75M103.6 376.7h0.75M101.8 382.3h0.75M102.5 363.1h0.75M101.5 378.3h0.75M104.4 372.3h0.75M102.3 364.6h0.75M102.5 369.6h0.75M102.8 384.0h0.75M101.2 376.1h0.75M101.6 388.5h0.75M104.0 380.1h0.75M103.3 378.3h0.75M103.7 374.6h0.75M99.3 388.3h0.75M101.1 375.6h0.75M105.4 367.7h0.75M102.6 370.2h0.75M101.7 375.1h0.75M99.2 366.9h0.75M103.1 374.3h0.75M101.9 363.3h0.75M100.0 379.7h0.75M101.4 375.7h0.75M104.1 369.7h0.75M103.5 376.2h0.75M102.8 387.0h0.75M100.6 374.0h0.75M99.8 373.0h0.75M101.4 381.0h0.75M99.7 363.7h0.75M103.1 363.7h0.75M102.4 377.0h0.75M102.6 384.6h0.75M104.4 387.9h0.75M101.4 387.2h0.75M101.8 364.8h0.75M101.9 388.2h0.75M103.2 378.0h0.75M100.3 380.7h0.75M104.8 363.8h0.75M103.1 369.8h0.75M105.2 376.2h0.75M103.0 380.9h0.75M104.3 378.5h0.75M106.2 382.7h0.75M101.6 383.4h0.75M99.2 373.4h0.75M101.8 368.0h0.75M101.4 370.2h0.75M100.7 372.8h0.75M104.1 378.3h0.75M107.2 390.5h0.75M119.7 386.8h0.75M125.9 390.1h0.75M102.0 390.7h0.75M122.5 390.5h0.75M110.6 388.8h0.75M112.4 391.0h0.75M110.3 390.8h0.75M113.6 392.1h0.75M124.0 387.1h0.75M126.7 389.9h0.75M107.8 390.1h0.75M122.2 389.6h0.75M104.1 387.6h0.75M114.3 388.6h0.75M122.9 391.6h0.75M127.2 393.3h0.75M111.6 390.5h0.75M107.7 390.5h0.75M104.8 390.0h0.75M122.4 386.7h0.75M123.7 390.2h0.75M122.3 390.2h0.75M122.1 391.7h0.75M115.3 389.9h0.75M127.1 389.4h0.75M112.8 390.4h0.75M127.6 390.3h0.75M124.5 390.1h0.75M112.2 392.3h0.75M124.5 391.9h0.75M119.9 388.3h0.75M118.2 390.0h0.75M110.3 387.6h0.75M109.7 390.2h0.75M105.6 391.2h0.75M109.1 388.8h0.75M118.2 392.3h0.75M128.4 389.7h0.75M109.7 392.5h0.75M120.6 389.5h0.75M122.7 388.8h0.75M122.4 389.4h0.75M107.5 388.9h0.75M109.5 390.9h0.75M123.1 389.9h0.75M122.4 388.2h0.75M116.9 389.1h0.75M113.0 389.7h0.75M120.7 391.9h0.75M124.0 388.0h0.75M128.8 391.9h0.75M106.8 389.2h0.75M106.7 388.2h0.75M108.8 390.8h0.75M106.6 389.7h0.75M109.0 392.9h0.75M111.8 392.1h0.75M104.7 391.6h0.75M122.2 390.7h0.75M122.3 392.8h0.75M106.8 393.2h0.75M121.4 389.2h0.75M108.0 388.9h0.75M103.4 391.6h0.75M126.9 387.6h0.75M127.5 392.6h0.75M113.6 390.9h0.75M105.7 388.8h0.75M103.5 386.8h0.75M116.7 391.8h0.75M102.1 390.8h0.75M115.2 389.2h0.75M108.7 390.2h0.75M118.9 389.6h0.75M102.3 388.4h0.75M125.4 390.8h0.75M114.1 389.8h0.75M116.5 387.5h0.75M114.9 390.9h0.75M115.6 388.4h0.75M125.2 389.0h0.75M106.6 389.8h0.75M111.6 389.4h0.75M102.3 389.9h0.75M128.9 393.3h0.75M119.2 390.8h0.75M112.3 390.3h0.75M104.1 392.4h0.75M110.5 390.6h0.75M128.8 390.1h0.75M125.7 387.9h0.75M111.6 390.1h0.75M116.9 390.0h0.75M126.2 391.6h0.75M107.9 389.4h0.75M114.8 391.5h0.75M103.6 392.4h0.75M113.4 390.2h0.75M103.3 390.2h0.75M107.4 389.8h0.75M114.0 390.3h0.75M121.5 388.0h0.75M115.0 391.8h0.75M127.3 387.9h0.75M127.0 388.6h0.75M111.8 390.0h0.75M106.8 392.5h0.75M123.0 387.2h0.75M109.9 389.8h0.75M124.3 391.3h0.75M108.5 388.3h0.75M121.5 392.1h0.75M115.3 388.9h0.75M118.4 391.1h0.75M126.0 389.3h0.75M106.0 392.1h0.75M103.9 391.6h0.75M119.2 390.5h0.75M117.4 389.7h0.75M104.0 389.2h0.75M126.1 388.9h0.75M115.6 392.1h0.75M116.0 391.9h0.75M127.6 388.4h0.75M113.7 389.4h0.75M128.4 388.5h0.75M114.3 392.5h0.75M105.6 390.2h0.75M104.6 390.1h0.75M128.2 390.3h0.75M127.2 389.1h0.75M110.4 391.6h0.75M124.2 391.5h0.75M117.3 374.7h0.75M112.5 381.1h0.75M111.1 371.0h0.75M110.5 370.6h0.75M125.5 372.2h0.75M112.1 375.1h0.75M111.8 360.8h0.75M110.8 380.0h0.75M118.4 378.2h0.75M120.7 372.9h0.75M100.7 374.3h0.75M126.2 371.7h0.75M117.5 372.4h0.75M110.4 379.4h0.75M107.3 377.5h0.75M117.1 382.8h0.75M126.8 375.5h0.75M109.0 373.1h0.75M112.9 375.6h0.75M110.5 374.6h0.75M114.8 374.5h0.75M112.2 368.7h0.75M122.8 366.1h0.75M118.1 382.3h0.75M115.6 369.0h0.75M127.1 382.7h0.75M118.2 372.1h0.75M114.1 373.1h0.75M124.2 378.8h0.75M110.7 366.6h0.75M103.9 380.9h0.75M113.3 371.1h0.75M119.0 374.6h0.75M116.5 383.7h0.75M115.6 366.4h0.75M120.7 379.7h0.75M119.3 375.3h0.75M132.9 372.1h0.75M121.6 378.6h0.75M115.5 390.6h0.75M112.3 377.3h0.75M130.2 381.5h0.75M125.1 375.3h0.75M120.4 381.2h0.75M128.7 372.8h0.75M115.1 378.3h0.75M122.6 372.0h0.75M125.8 365.0h0.75M107.2 379.8h0.75M105.0 369.1h0.75M123.9 372.9h0.75M117.8 384.8h0.75M110.5 383.2h0.75M113.0 369.9h0.75M116.1 387.7h0.75M109.2 377.2h0.75M113.7 369.2h0.75M117.2 371.1h0.75M115.5 379.1h0.75M118.6 376.6h0.75M103.5 366.9h0.75M109.1 371.8h0.75M117.1 366.0h0.75M112.6 367.4h0.75M117.3 365.8h0.75M100.2 381.7h0.75M120.2 387.9h0.75M123.3 366.9h0.75M122.4 377.2h0.75M121.9 385.7h0.75M99.3 379.2h0.75M115.5 386.9h0.75M122.2 363.2h0.75M106.6 378.6h0.75M119.5 374.8h0.75M113.0 358.3h0.75M115.2 366.8h0.75M123.3 370.7h0.75M123.0 376.6h0.75M119.3 376.9h0.75M110.7 379.2h0.75M116.5 382.6h0.75M117.1 384.8h0.75M111.4 377.0h0.75M121.3 359.9h0.75M117.1 377.7h0.75M118.1 381.0h0.75M109.5 372.5h0.75M116.1 367.5h0.75M115.7 376.6h0.75M110.0 379.2h0.75M103.2 367.9h0.75M116.1 383.7h0.75M105.5 379.9h0.75M112.2 378.0h0.75M96.6 387.2h0.75M120.9 386.9h0.75M123.6 367.6h0.75M119.9 376.1h0.75M102.7 378.8h0.75M109.9 390.3h0.75M115.7 369.4h0.75M112.0 375.6h0.75M114.9 371.6h0.75M119.7 364.6h0.75M128.4 377.9h0.75M111.1 378.7h0.75M113.3 386.0h0.75M112.3 384.9h0.75M112.9 374.9h0.75M104.8 369.6h0.75M117.6 376.9h0.75M118.3 383.2h0.75M124.5 369.6h0.75M122.5 381.2h0.75M122.6 375.3h0.75M111.8 377.5h0.75M107.4 372.2h0.75M121.7 363.1h0.75M121.6 383.0h0.75M127.8 371.3h0.75M100.0 385.7h0.75M119.8 377.9h0.75M108.0 385.0h0.75M119.6 369.8h0.75M113.7 375.0h0.75M108.7 382.1h0.75M113.4 381.3h0.75M126.3 369.2h0.75M119.6 377.6h0.75M121.7 382.3h0.75M117.6 361.5h0.75M112.6 376.5h0.75M118.8 383.0h0.75M106.1 372.7h0.75M120.7 376.1h0.75M118.0 364.6h0.75M119.2 386.2h0.75M114.6 389.0h0.75M116.4 385.8h0.75M118.6 374.6h0.75M127.9 370.0h0.75M122.3 385.0h0.75M116.5 371.8h0.75M114.2 379.3h0.75M134.2 382.8h0.75M119.7 376.2h0.75M122.8 371.4h0.75M113.9 369.4h0.75M120.0 371.8h0.75M118.6 380.9h0.75M115.0 370.1h0.75M112.0 379.9h0.75M107.2 363.9h0.75M101.7 369.0h0.75M113.6 378.7h0.75M133.9 379.7h0.75M116.1 370.5h0.75M113.8 368.0h0.75M118.0 373.6h0.75M112.7 383.6h0.75M113.8 375.1h0.75M104.1 377.0h0.75M113.1 371.0h0.75M116.3 374.6h0.75M112.9 359.8h0.75M114.0 374.3h0.75M116.4 381.5h0.75M104.4 378.8h0.75M134.2 374.5h0.75M118.6 372.5h0.75M124.8 384.1h0.75M113.4 372.9h0.75M116.3 385.3h0.75M101.8 387.7h0.75M115.3 372.0h0.75M118.4 381.9h0.75M109.8 369.0h0.75M126.6 367.2h0.75M120.0 368.7h0.75M115.9 382.2h0.75M119.6 365.8h0.75M110.4 362.4h0.75" stroke="#555" stroke-width="0.75"/><clipPath id="k17"><rect x="91.7" y="351.8" width="46.5" height="45.8"/></clipPath><g clip-path="url(#k17)"><path d="M102 363V389L128 389.5M94 397L102 389" stroke="#000" stroke-width="5" stroke-linecap="round" stroke-linejoin="round" fill="none" filter="url(#b8)"/></g>
<rect x="153.3" y="351.4" width="47.1" height="46.6" fill="#ececec" stroke="#999" stroke-width=".6"/>
<rect x="154.8" y="352.9" width="13.1" height="43.6" fill="#f6f6f6" stroke="#c4c4c4" stroke-width=".5"/>
<rect x="170.1" y="352.9" width="28.8" height="31.1" fill="#f6f6f6" stroke="#c4c4c4" stroke-width=".5"/>
<rect x="170.1" y="385.4" width="28.8" height="11.1" fill="#f6f6f6" stroke="#c4c4c4" stroke-width=".5"/>
<path d="M153.8 391.4L176.3 376.4M153.8 394.9L178.3 378.4" stroke="#aaa" stroke-width=".4" fill="none"/>
<text x="152.1" y="398.9" font-size="3.2" text-anchor="end" fill="#444" transform="rotate(-15 152.1 398.9)">10<tspan font-size="2.1" dy="-1.2">0</tspan></text>
<text x="152.1" y="387.2" font-size="3.2" text-anchor="end" fill="#444" transform="rotate(-15 152.1 387.2)">10<tspan font-size="2.1" dy="-1.2">1</tspan></text>
<text x="152.1" y="375.6" font-size="3.2" text-anchor="end" fill="#444" transform="rotate(-15 152.1 375.6)">10<tspan font-size="2.1" dy="-1.2">2</tspan></text>
<text x="152.1" y="363.9" font-size="3.2" text-anchor="end" fill="#444" transform="rotate(-15 152.1 363.9)">10<tspan font-size="2.1" dy="-1.2">3</tspan></text>
<text x="152.1" y="352.3" font-size="3.2" text-anchor="end" fill="#444" transform="rotate(-15 152.1 352.3)">10<tspan font-size="2.1" dy="-1.2">4</tspan></text>
<text x="153.8" y="402.9" font-size="3.2" text-anchor="middle" fill="#444" transform="rotate(-15 153.8 402.9)">10<tspan font-size="2.1" dy="-1.2">0</tspan></text>
<text x="165.6" y="402.9" font-size="3.2" text-anchor="middle" fill="#444" transform="rotate(-15 165.6 402.9)">10<tspan font-size="2.1" dy="-1.2">1</tspan></text>
<text x="177.4" y="402.9" font-size="3.2" text-anchor="middle" fill="#444" transform="rotate(-15 177.4 402.9)">10<tspan font-size="2.1" dy="-1.2">2</tspan></text>
<text x="189.1" y="402.9" font-size="3.2" text-anchor="middle" fill="#444" transform="rotate(-15 189.1 402.9)">10<tspan font-size="2.1" dy="-1.2">3</tspan></text>
<text x="200.9" y="402.9" font-size="3.2" text-anchor="middle" fill="#444" transform="rotate(-15 200.9 402.9)">10<tspan font-size="2.1" dy="-1.2">4</tspan></text>
<path d="M168.6 386.1h0.75M161.4 392.6h0.75M170.8 381.7h0.75M157.3 392.1h0.75M157.0 396.7h0.75M161.2 388.7h0.75M169.3 383.6h0.75M171.1 382.4h0.75M164.8 389.7h0.75M162.4 390.2h0.75M157.7 392.8h0.75M168.7 381.5h0.75M164.6 387.4h0.75M168.4 384.0h0.75M157.3 395.2h0.75M167.0 387.2h0.75M168.7 381.8h0.75M157.8 394.1h0.75M163.5 393.4h0.75M159.1 395.9h0.75M158.3 392.4h0.75M158.6 389.1h0.75M169.3 385.7h0.75M167.3 387.0h0.75M163.3 387.4h0.75M164.1 391.6h0.75M164.5 391.9h0.75M172.0 381.0h0.75M157.9 392.6h0.75M157.9 397.0h0.75M163.8 389.7h0.75M161.4 394.3h0.75M164.3 389.1h0.75M165.8 389.4h0.75M164.1 391.9h0.75M162.9 386.1h0.75M163.3 390.6h0.75M161.5 393.4h0.75M164.4 391.2h0.75M165.7 386.6h0.75M156.0 394.4h0.75M168.0 385.3h0.75M161.0 391.7h0.75M171.9 382.7h0.75M159.3 392.8h0.75M161.5 390.7h0.75M159.9 393.6h0.75M161.0 387.0h0.75M166.2 387.4h0.75M156.6 394.0h0.75M166.2 388.8h0.75M167.3 388.4h0.75M168.9 383.1h0.75M168.5 383.1h0.75M159.1 394.7h0.75M164.9 386.3h0.75M161.8 394.9h0.75M172.6 384.1h0.75M165.9 387.0h0.75M167.5 384.2h0.75M170.3 379.8h0.75M156.1 394.9h0.75M157.1 394.7h0.75M156.6 393.4h0.75M166.0 384.2h0.75M170.5 381.5h0.75M164.1 385.7h0.75M165.3 385.6h0.75M158.8 394.1h0.75M160.1 391.3h0.75M163.4 389.5h0.75M158.7 391.1h0.75M169.2 384.0h0.75M158.5 394.7h0.75M154.5 394.1h0.75M165.6 384.4h0.75M159.4 394.8h0.75M169.1 386.7h0.75M156.7 394.7h0.75M165.0 389.2h0.75M163.6 385.7h0.75M164.6 387.8h0.75M156.3 396.3h0.75M161.0 390.7h0.75M155.9 393.7h0.75M169.3 378.3h0.75M171.2 383.6h0.75M161.9 389.7h0.75M162.5 390.3h0.75M162.4 390.8h0.75M169.9 380.5h0.75M166.3 388.2h0.75M163.4 388.6h0.75M164.9 386.9h0.75M156.1 392.4h0.75M161.9 391.9h0.75M164.6 389.7h0.75M170.5 383.1h0.75M161.4 385.3h0.75M174.3 383.5h0.75M157.1 395.3h0.75M167.8 384.8h0.75M164.7 384.7h0.75M167.3 387.7h0.75M169.6 384.1h0.75M163.0 388.0h0.75M161.5 393.2h0.75M172.7 382.3h0.75M159.7 391.3h0.75M168.0 384.3h0.75M164.2 390.5h0.75M164.3 386.5h0.75M159.1 394.8h0.75M159.9 393.0h0.75M165.6 387.9h0.75M162.9 389.9h0.75M159.9 395.0h0.75M168.6 383.4h0.75M169.4 384.9h0.75M162.8 391.0h0.75M169.1 384.3h0.75M159.9 396.9h0.75M170.8 380.5h0.75M158.4 393.0h0.75M157.9 393.7h0.75M170.1 385.3h0.75M161.4 387.4h0.75M164.7 387.2h0.75M166.7 391.1h0.75M155.4 393.8h0.75M162.3 387.1h0.75M160.1 393.9h0.75M163.1 368.1h0.75M163.3 367.2h0.75M163.8 376.1h0.75M164.8 367.3h0.75M165.2 380.3h0.75M161.7 366.3h0.75M162.4 367.9h0.75M164.0 367.1h0.75M161.0 372.9h0.75M161.7 374.7h0.75M162.4 379.4h0.75M164.1 381.2h0.75M162.1 373.3h0.75M163.5 377.9h0.75M165.5 375.5h0.75M166.1 367.9h0.75M164.4 382.2h0.75M161.7 374.1h0.75M163.5 381.9h0.75M163.8 382.3h0.75M161.8 369.9h0.75M164.7 373.3h0.75M165.3 380.2h0.75M165.3 373.0h0.75M163.5 375.7h0.75M163.7 368.1h0.75M166.5 369.9h0.75M165.1 380.9h0.75M164.3 370.8h0.75M163.1 383.2h0.75M165.8 375.2h0.75M164.9 375.7h0.75M163.7 372.8h0.75M166.3 382.6h0.75M167.2 367.2h0.75M163.9 375.1h0.75M163.4 372.0h0.75M165.0 383.9h0.75M162.2 366.5h0.75M161.9 380.4h0.75M163.0 376.8h0.75M163.9 375.4h0.75M165.4 372.2h0.75M164.6 373.1h0.75M164.1 368.8h0.75M162.7 372.8h0.75M166.4 379.5h0.75M163.2 366.9h0.75M165.7 368.1h0.75M163.3 376.4h0.75M164.2 382.2h0.75M164.0 378.4h0.75M166.0 372.7h0.75M166.1 367.1h0.75M164.0 369.7h0.75M162.8 369.9h0.75M164.4 381.1h0.75M164.6 378.6h0.75M165.6 379.2h0.75M163.3 375.9h0.75M162.1 383.6h0.75M165.2 373.6h0.75M164.9 384.7h0.75M162.7 384.6h0.75M166.5 378.6h0.75M163.0 382.0h0.75M161.0 370.7h0.75M162.8 378.8h0.75M161.0 382.8h0.75M167.4 369.1h0.75M165.0 376.8h0.75M165.4 368.6h0.75M165.2 379.3h0.75M165.8 379.6h0.75M164.0 374.6h0.75M162.3 383.9h0.75M162.1 374.4h0.75M162.2 384.8h0.75M165.3 383.7h0.75M162.3 374.4h0.75M164.9 376.5h0.75M165.6 382.9h0.75M164.7 374.7h0.75M160.1 380.9h0.75M163.8 374.2h0.75M166.0 379.9h0.75M163.6 374.2h0.75M167.1 379.8h0.75M161.2 376.0h0.75M164.6 374.0h0.75M163.5 368.5h0.75M163.6 381.7h0.75M163.6 378.6h0.75M163.9 378.0h0.75M163.9 372.4h0.75M164.6 367.6h0.75M162.2 373.2h0.75M165.1 382.9h0.75M161.5 375.6h0.75M162.9 368.3h0.75M166.6 369.5h0.75M163.1 372.6h0.75M163.5 375.0h0.75M164.2 381.4h0.75M162.1 366.9h0.75M160.7 377.4h0.75M163.3 370.6h0.75M164.4 376.2h0.75M164.7 367.8h0.75M161.8 382.7h0.75M163.2 373.1h0.75M163.3 378.8h0.75M164.5 379.4h0.75M163.1 384.2h0.75M166.8 383.5h0.75M160.4 378.3h0.75M165.1 378.0h0.75M165.7 367.4h0.75M163.2 366.4h0.75M165.2 369.4h0.75M162.0 366.2h0.75M162.9 368.8h0.75M163.1 383.3h0.75M166.9 368.1h0.75M162.6 371.5h0.75M164.9 370.6h0.75M161.7 371.0h0.75M165.9 382.9h0.75M163.0 375.6h0.75M163.6 383.2h0.75M162.3 375.7h0.75M172.9 384.8h0.75M177.5 390.4h0.75M173.5 390.2h0.75M179.8 385.9h0.75M170.0 386.5h0.75M189.5 384.8h0.75M179.2 385.6h0.75M185.5 385.9h0.75M187.9 386.2h0.75M176.3 386.8h0.75M184.9 386.1h0.75M187.7 386.0h0.75M190.4 386.1h0.75M191.5 386.2h0.75M174.1 385.0h0.75M172.5 385.2h0.75M171.1 388.2h0.75M180.2 387.4h0.75M175.3 385.3h0.75M184.2 385.5h0.75M172.7 387.6h0.75M176.2 386.1h0.75M187.5 386.4h0.75M172.8 389.0h0.75M191.8 386.5h0.75M183.3 385.2h0.75M177.5 386.8h0.75M186.1 385.6h0.75M171.9 384.0h0.75M170.3 389.3h0.75M185.6 384.2h0.75M188.6 386.1h0.75M182.6 390.3h0.75M176.6 388.9h0.75M186.6 387.1h0.75M172.3 389.5h0.75M173.7 388.9h0.75M183.8 389.7h0.75M187.9 387.2h0.75M178.5 391.0h0.75M185.6 384.3h0.75M182.9 389.2h0.75M175.9 386.9h0.75M173.2 385.4h0.75M188.7 387.0h0.75M172.0 385.9h0.75M177.4 384.8h0.75M171.3 387.9h0.75M176.7 387.3h0.75M190.0 389.1h0.75M180.5 390.8h0.75M190.9 385.3h0.75M190.3 388.2h0.75M185.9 383.3h0.75M172.0 388.4h0.75M171.7 387.5h0.75M177.6 389.4h0.75M172.6 385.3h0.75M184.4 389.0h0.75M188.9 388.7h0.75M187.3 385.0h0.75M183.6 386.1h0.75M180.3 386.7h0.75M183.9 384.7h0.75M179.2 384.9h0.75M187.2 389.7h0.75M186.3 386.7h0.75M177.3 386.7h0.75M175.8 389.4h0.75M190.3 388.8h0.75M189.7 387.7h0.75M181.7 388.4h0.75M185.0 385.4h0.75M173.1 382.9h0.75M181.9 387.5h0.75M187.3 388.3h0.75M170.4 391.2h0.75M185.3 385.7h0.75M184.9 385.2h0.75M177.9 391.4h0.75M190.2 386.3h0.75M179.0 387.9h0.75M190.1 386.1h0.75M170.4 384.5h0.75M180.4 384.8h0.75M184.5 387.5h0.75M186.2 387.4h0.75M190.5 387.3h0.75M176.9 388.4h0.75M178.8 387.5h0.75M182.0 389.0h0.75M181.0 387.9h0.75M171.0 385.4h0.75M177.9 387.4h0.75M170.3 389.1h0.75M182.1 386.8h0.75M186.6 387.4h0.75M183.0 385.3h0.75M181.9 386.0h0.75M190.8 386.6h0.75M170.1 383.6h0.75M170.9 387.0h0.75M189.8 388.7h0.75M183.9 386.4h0.75M180.1 386.4h0.75M180.9 386.3h0.75M185.8 387.0h0.75M185.7 387.8h0.75M191.7 385.1h0.75M180.9 383.3h0.75M171.0 387.6h0.75M181.6 389.1h0.75M176.0 388.2h0.75M185.1 382.1h0.75M188.7 387.4h0.75M173.1 388.4h0.75M177.0 385.9h0.75M187.1 389.0h0.75M178.5 386.0h0.75M175.5 387.7h0.75M173.3 388.5h0.75M191.1 384.9h0.75M174.2 389.1h0.75M181.2 385.6h0.75M187.0 384.1h0.75M184.0 388.2h0.75M171.6 386.4h0.75M177.8 386.4h0.75M176.9 386.8h0.75M183.6 389.3h0.75M189.4 384.0h0.75M182.2 384.8h0.75M185.7 388.6h0.75M172.1 389.0h0.75M177.8 382.7h0.75M180.7 387.2h0.75M172.5 390.3h0.75M184.5 385.7h0.75M190.2 384.8h0.75M178.6 387.2h0.75M185.1 384.6h0.75M180.2 387.1h0.75M176.7 390.4h0.75M171.4 387.1h0.75M189.4 392.1h0.75M186.8 388.1h0.75M182.3 385.6h0.75M182.6 386.6h0.75M174.6 386.5h0.75M178.9 387.1h0.75M171.1 389.5h0.75M175.5 389.1h0.75M183.3 387.9h0.75M183.2 387.0h0.75M185.8 386.7h0.75M179.7 388.0h0.75M187.8 387.6h0.75M186.3 388.1h0.75M180.1 385.0h0.75M181.2 386.9h0.75M171.3 389.7h0.75M178.4 384.8h0.75M191.2 389.4h0.75M173.5 385.5h0.75M176.7 392.5h0.75M182.9 388.6h0.75M176.1 386.5h0.75M172.1 384.8h0.75M186.5 385.4h0.75M183.9 385.0h0.75M173.4 388.0h0.75M191.7 386.6h0.75M172.4 386.3h0.75M170.8 385.8h0.75M182.3 384.2h0.75M187.5 388.8h0.75M173.2 390.6h0.75M169.8 373.0h0.75M176.0 356.7h0.75M165.9 369.9h0.75M172.6 370.0h0.75M173.0 380.3h0.75M167.1 371.1h0.75M174.3 382.3h0.75M169.7 366.6h0.75M173.9 363.0h0.75M172.6 380.5h0.75M183.3 367.2h0.75M177.3 374.0h0.75M178.7 372.2h0.75M172.3 372.3h0.75M169.8 370.8h0.75M173.7 379.1h0.75M178.5 372.7h0.75M177.4 382.4h0.75M170.9 384.3h0.75M184.4 370.8h0.75M181.6 370.6h0.75M167.9 363.0h0.75M184.3 367.2h0.75M173.1 376.9h0.75M174.2 367.6h0.75M174.5 378.2h0.75M181.1 367.3h0.75M184.4 368.5h0.75M169.6 374.4h0.75M169.6 377.4h0.75M177.0 365.2h0.75M175.7 359.3h0.75M174.9 378.4h0.75M176.7 357.2h0.75M162.4 361.3h0.75M188.7 377.6h0.75M165.5 377.9h0.75M169.4 381.2h0.75M182.4 377.1h0.75M179.4 371.7h0.75M178.1 367.5h0.75M174.5 362.8h0.75M177.0 361.0h0.75M171.8 370.9h0.75M168.5 373.0h0.75M170.2 375.8h0.75M169.9 357.5h0.75M181.0 373.4h0.75M159.5 371.9h0.75M170.8 362.2h0.75M182.8 373.0h0.75M185.1 379.7h0.75M173.5 359.1h0.75M166.6 373.5h0.75M180.5 381.1h0.75M175.7 375.3h0.75M173.1 373.4h0.75M172.7 360.0h0.75M161.6 364.9h0.75M176.9 378.7h0.75M177.4 372.7h0.75M191.2 366.0h0.75M171.5 360.8h0.75M174.6 375.5h0.75M185.2 360.9h0.75" stroke="#555" stroke-width="0.75"/><clipPath id="k18"><rect x="153.7" y="351.8" width="46.3" height="45.8"/></clipPath><g clip-path="url(#k18)"><path d="M156 396L169.5 383" stroke="#000" stroke-width="4.8" stroke-linecap="round" stroke-linejoin="round" fill="none" filter="url(#b8)"/></g>
<rect x="53.5" y="335.6" width="5" height="2.2" fill="#fff" stroke="#999" stroke-width=".25"/>
<rect x="107" y="336.5" width="6" height="2.2" fill="#fff" stroke="#999" stroke-width=".25"/>
<rect x="38.6" y="369.8" width="3.2" height="2.6" fill="#fff" stroke="#999" stroke-width=".25"/>
<rect x="100" y="369.3" width="3.6" height="2.6" fill="#fff" stroke="#999" stroke-width=".25"/>
<rect x="104" y="391.5" width="6" height="2.2" fill="#fff" stroke="#999" stroke-width=".25"/>
<rect x="53" y="392.6" width="5" height="2.2" fill="#fff" stroke="#999" stroke-width=".25"/>
<text x="58" y="315.3" font-size="3" fill="#333">0.42</text>
<text x="34.3" y="318.2" font-size="3" fill="#333">2.44</text>
<text x="116.5" y="315.3" font-size="3" fill="#333">0.004</text>
<text x="95.2" y="318.5" font-size="3" fill="#333">0.61</text>
<text x="179" y="315.3" font-size="3" fill="#333">0.13</text>
<text x="156.8" y="318.5" font-size="3" fill="#333">1.63</text>
<text x="56.5" y="371.5" font-size="3" fill="#333">0.90</text>
<text x="118.5" y="371" font-size="3" fill="#333">0.83</text>
<text x="180" y="370.5" font-size="3" fill="#333">0.034</text>
<text x="156.8" y="372" font-size="3" fill="#333">1.19</text>
<path d="M17.3 11.3V115.6M26.8 123.5H204" stroke="#888" stroke-width=".85" fill="none"/>
<path d="M14.9 13.6L17.3 10.8L19.7 13.6M201.2 121.3L204.4 123.5L201.2 125.7" stroke="#111" stroke-width="1.1" fill="none"/>
<text x="12.90" y="106.35" font-size="5.9" text-anchor="middle" textLength="18.5" lengthAdjust="spacingAndGlyphs" transform="rotate(-90 12.90 106.35)" stroke="#000" stroke-width=".2">CTLA-4</text>
<path d="M17.3 151.3V255.6M26.8 262.7H204" stroke="#888" stroke-width=".85" fill="none"/>
<path d="M14.9 153.6L17.3 150.8L19.7 153.6M201.2 260.5L204.4 262.7L201.2 264.9" stroke="#111" stroke-width="1.1" fill="none"/>
<text x="12.90" y="248.15" font-size="5.9" text-anchor="middle" textLength="13.7" lengthAdjust="spacingAndGlyphs" transform="rotate(-90 12.90 248.15)" stroke="#000" stroke-width=".2">IL-21</text>
<path d="M17.3 293.6V399.2M26.8 408.7H204" stroke="#888" stroke-width=".85" fill="none"/>
<path d="M14.9 295.9L17.3 293.1L19.7 295.9M201.2 406.5L204.4 408.7L201.2 410.9" stroke="#111" stroke-width="1.1" fill="none"/>
<text x="12.90" y="390.95" font-size="5.9" text-anchor="middle" textLength="13.3" lengthAdjust="spacingAndGlyphs" transform="rotate(-90 12.90 390.95)" stroke="#000" stroke-width=".2">IL-17</text>
<text x="25.40" y="132.30" font-size="6.2" textLength="16.1" lengthAdjust="spacingAndGlyphs" stroke="#000" stroke-width=".2">FoxP3</text>
<text x="25.40" y="271.70" font-size="6.2" textLength="11.9" lengthAdjust="spacingAndGlyphs" stroke="#000" stroke-width=".2">IFN&#947;</text>
<text x="25.40" y="417.40" font-size="6.2" textLength="11.9" lengthAdjust="spacingAndGlyphs" stroke="#000" stroke-width=".2">IFN&#947;</text>
<text x="314.40" y="23.30" font-size="9" font-weight="bold" textLength="28.4" lengthAdjust="spacingAndGlyphs">CTLA-4</text>
<text x="384.5" y="23.4" font-size="9" font-weight="bold" textLength="66.5" lengthAdjust="spacingAndGlyphs">CTLA-4<tspan font-size="4.5" dy="-3">+</tspan><tspan dy="3">/FoxP3</tspan><tspan font-size="4.5" dy="-3">+</tspan></text>
<text x="274.80" y="228.60" font-size="9.2" font-weight="bold" textLength="18.6" lengthAdjust="spacingAndGlyphs">IL-17</text>
<text x="360.00" y="228.60" font-size="9.2" font-weight="bold" textLength="21.2" lengthAdjust="spacingAndGlyphs">IFN&#947;</text>
<text x="446.00" y="228.60" font-size="9.2" font-weight="bold" textLength="19.5" lengthAdjust="spacingAndGlyphs">IL-21</text>
<text x="462.30" y="72.90" font-size="9.2" font-weight="bold" textLength="23.5" lengthAdjust="spacingAndGlyphs">mDCs</text>
<text x="462.30" y="150.70" font-size="9.2" font-weight="bold" textLength="24.3" lengthAdjust="spacingAndGlyphs">beads</text>
<text x="495.00" y="281.30" font-size="9.2" font-weight="bold" textLength="23.7" lengthAdjust="spacingAndGlyphs">mDCs</text>
<text x="495.30" y="375.30" font-size="9.2" font-weight="bold" textLength="24.3" lengthAdjust="spacingAndGlyphs">beads</text>
<rect x="305.7" y="100.5" width="12.20" height="2.20"/>
<path d="M299.40 45.80V106.50H360.00" fill="none" stroke="#111" stroke-width=".85"/>
<path d="M297.80 106.50H299.40M297.80 94.36H299.40M297.80 82.22H299.40M297.80 70.08H299.40M297.80 57.94H299.40M297.80 45.80H299.40" stroke="#222" stroke-width=".6"/>
<text x="297.50" y="108.00" font-size="4.7" text-anchor="end" fill="#111" stroke="#111" stroke-width=".1">0.0</text>
<text x="297.50" y="95.86" font-size="4.7" text-anchor="end" fill="#111" stroke="#111" stroke-width=".1">2.5</text>
<text x="297.50" y="83.72" font-size="4.7" text-anchor="end" fill="#111" stroke="#111" stroke-width=".1">5.0</text>
<text x="297.50" y="71.58" font-size="4.7" text-anchor="end" fill="#111" stroke="#111" stroke-width=".1">7.5</text>
<text x="297.50" y="59.44" font-size="4.7" text-anchor="end" fill="#111" stroke="#111" stroke-width=".1">10.0</text>
<text x="297.50" y="47.30" font-size="4.7" text-anchor="end" fill="#111" stroke="#111" stroke-width=".1">12.5</text>
<text x="311.60" y="112.10" font-size="5.0" text-anchor="middle" textLength="15.0" lengthAdjust="spacingAndGlyphs" stroke="#000" stroke-width=".12">Control</text>
<text x="329.60" y="112.10" font-size="5.0" text-anchor="middle" stroke="#000" stroke-width=".12">25D<tspan font-size="3.25" dy="1">3</tspan></text>
<text x="347.50" y="112.10" font-size="5.0" text-anchor="middle" stroke="#000" stroke-width=".12">1,25D<tspan font-size="3.25" dy="1">3</tspan></text>
<text x="286.60" y="74.00" font-size="4.3" text-anchor="middle" fill="#111" textLength="55.7" lengthAdjust="spacingAndGlyphs" transform="rotate(-90 286.60 74.00)" stroke="#111" stroke-width=".08">Relative CTLA-4 expression</text>
<path d="M309.80 40.10V38.50H347.40V40.10" fill="none" stroke="#333" stroke-width=".7"/>
<text x="328.60" y="39.10" font-size="4.41" text-anchor="middle" fill="#222">*</text>
<path d="M309.80 47.40V45.80H328.00V47.40" fill="none" stroke="#333" stroke-width=".7"/>
<text x="318.90" y="46.40" font-size="4.41" text-anchor="middle" fill="#222">*</text>
<path d="M330.00 47.40V45.80H347.40V47.40" fill="none" stroke="#333" stroke-width=".7"/>
<text x="338.70" y="44.60" font-size="4.2" text-anchor="middle" fill="#222">ns</text>
<path d="M323.70 71.30H335.80M341.60 71.50H353.60" stroke="#333" stroke-width=".8"/>
<circle cx="326.70" cy="55.30" r="1.20"/>
<circle cx="330.00" cy="57.60" r="1.20"/>
<circle cx="330.00" cy="66.50" r="1.20"/>
<circle cx="326.70" cy="71.10" r="1.20"/>
<circle cx="330.00" cy="71.60" r="1.20"/>
<circle cx="330.00" cy="75.90" r="1.20"/>
<circle cx="333.00" cy="75.00" r="1.20"/>
<circle cx="348.00" cy="52.50" r="1.20"/>
<circle cx="348.00" cy="57.60" r="1.20"/>
<circle cx="348.00" cy="68.10" r="1.20"/>
<circle cx="344.70" cy="71.60" r="1.20"/>
<circle cx="348.00" cy="71.60" r="1.20"/>
<circle cx="350.80" cy="73.50" r="1.20"/>
<circle cx="348.00" cy="76.30" r="1.20"/>
<path d="M389.20 46.20V106.50H446.90" fill="none" stroke="#111" stroke-width=".85"/>
<path d="M387.60 106.50H389.20M387.60 96.45H389.20M387.60 86.40H389.20M387.60 76.35H389.20M387.60 66.30H389.20M387.60 56.25H389.20M387.60 46.20H389.20" stroke="#222" stroke-width=".6"/>
<text x="387.30" y="108.00" font-size="4.7" text-anchor="end" fill="#111" stroke="#111" stroke-width=".1">0</text>
<text x="387.30" y="97.95" font-size="4.7" text-anchor="end" fill="#111" stroke="#111" stroke-width=".1">10</text>
<text x="387.30" y="87.90" font-size="4.7" text-anchor="end" fill="#111" stroke="#111" stroke-width=".1">20</text>
<text x="387.30" y="77.85" font-size="4.7" text-anchor="end" fill="#111" stroke="#111" stroke-width=".1">30</text>
<text x="387.30" y="67.80" font-size="4.7" text-anchor="end" fill="#111" stroke="#111" stroke-width=".1">40</text>
<text x="387.30" y="57.75" font-size="4.7" text-anchor="end" fill="#111" stroke="#111" stroke-width=".1">50</text>
<text x="387.30" y="47.70" font-size="4.7" text-anchor="end" fill="#111" stroke="#111" stroke-width=".1">60</text>
<text x="400.80" y="112.10" font-size="5.0" text-anchor="middle" textLength="15.0" lengthAdjust="spacingAndGlyphs" stroke="#000" stroke-width=".12">Control</text>
<text x="419.40" y="112.10" font-size="5.0" text-anchor="middle" stroke="#000" stroke-width=".12">25D<tspan font-size="3.25" dy="1">3</tspan></text>
<text x="436.50" y="112.10" font-size="5.0" text-anchor="middle" stroke="#000" stroke-width=".12">1,25D<tspan font-size="3.25" dy="1">3</tspan></text>
<text x="377.60" y="73.70" font-size="4.3" text-anchor="middle" fill="#111" textLength="54" lengthAdjust="spacingAndGlyphs" transform="rotate(-90 377.60 73.70)" stroke="#111" stroke-width=".08">CTLA-4<tspan font-size="2.6" dy="-1.3">+</tspan><tspan dy="1.3">/FoxP3</tspan><tspan font-size="2.6" dy="-1.3">+</tspan><tspan dy="1.3"> frequency</tspan></text>
<text x="381.40" y="75.80" font-size="4.3" text-anchor="middle" fill="#111" transform="rotate(-90 381.40 75.80)" stroke="#111" stroke-width=".08">(%)</text>
<path d="M400.30 40.10V38.50H437.80V40.10" fill="none" stroke="#333" stroke-width=".7"/>
<text x="419.05" y="39.10" font-size="4.41" text-anchor="middle" fill="#222">*</text>
<path d="M400.30 47.40V45.80H418.00V47.40" fill="none" stroke="#333" stroke-width=".7"/>
<text x="409.15" y="46.40" font-size="4.41" text-anchor="middle" fill="#222">*</text>
<path d="M420.00 47.40V45.80H437.80V47.40" fill="none" stroke="#333" stroke-width=".7"/>
<text x="428.90" y="44.60" font-size="4.2" text-anchor="middle" fill="#222">ns</text>
<path d="M395.60 88.50H407.70M413.20 68.60H425.70M432.10 71.00H443.60" stroke="#333" stroke-width=".8"/>
<rect x="400.51" y="78.11" width="2.18" height="2.18"/>
<rect x="397.31" y="80.61" width="2.18" height="2.18"/>
<rect x="400.51" y="82.61" width="2.18" height="2.18"/>
<rect x="403.81" y="87.11" width="2.18" height="2.18"/>
<rect x="400.51" y="89.61" width="2.18" height="2.18"/>
<rect x="400.51" y="94.71" width="2.18" height="2.18"/>
<rect x="400.51" y="98.71" width="2.18" height="2.18"/>
<circle cx="419.60" cy="52.50" r="1.20"/>
<circle cx="422.80" cy="60.60" r="1.20"/>
<circle cx="419.60" cy="62.80" r="1.20"/>
<circle cx="419.60" cy="68.60" r="1.20"/>
<circle cx="419.60" cy="72.40" r="1.20"/>
<circle cx="419.60" cy="78.60" r="1.20"/>
<circle cx="419.60" cy="82.70" r="1.20"/>
<circle cx="437.70" cy="53.20" r="1.15"/>
<circle cx="440.90" cy="62.30" r="1.15"/>
<circle cx="437.70" cy="64.70" r="1.15"/>
<circle cx="434.50" cy="71.10" r="1.15"/>
<circle cx="437.70" cy="73.50" r="1.15"/>
<circle cx="440.90" cy="79.10" r="1.15"/>
<circle cx="437.70" cy="80.40" r="1.15"/>
<rect x="305.7" y="184.8" width="12.20" height="2.20"/>
<path d="M299.30 132.80V191.90H360.00" fill="none" stroke="#111" stroke-width=".85"/>
<path d="M297.70 191.90H299.30M297.70 177.12H299.30M297.70 162.35H299.30M297.70 147.57H299.30M297.70 132.80H299.30" stroke="#222" stroke-width=".6"/>
<text x="297.40" y="193.40" font-size="4.7" text-anchor="end" fill="#111" stroke="#111" stroke-width=".1">0.0</text>
<text x="297.40" y="178.62" font-size="4.7" text-anchor="end" fill="#111" stroke="#111" stroke-width=".1">2.5</text>
<text x="297.40" y="163.85" font-size="4.7" text-anchor="end" fill="#111" stroke="#111" stroke-width=".1">5.0</text>
<text x="297.40" y="149.07" font-size="4.7" text-anchor="end" fill="#111" stroke="#111" stroke-width=".1">7.5</text>
<text x="297.40" y="134.30" font-size="4.7" text-anchor="end" fill="#111" stroke="#111" stroke-width=".1">10.0</text>
<text x="311.60" y="197.50" font-size="5.0" text-anchor="middle" textLength="15.0" lengthAdjust="spacingAndGlyphs" stroke="#000" stroke-width=".12">Control</text>
<text x="329.60" y="197.50" font-size="5.0" text-anchor="middle" stroke="#000" stroke-width=".12">25D<tspan font-size="3.25" dy="1">3</tspan></text>
<text x="347.50" y="197.50" font-size="5.0" text-anchor="middle" stroke="#000" stroke-width=".12">1,25D<tspan font-size="3.25" dy="1">3</tspan></text>
<text x="286.60" y="160.00" font-size="4.3" text-anchor="middle" fill="#111" textLength="55.7" lengthAdjust="spacingAndGlyphs" transform="rotate(-90 286.60 160.00)" stroke="#111" stroke-width=".08">Relative CTLA-4 expression</text>
<path d="M309.80 125.10V123.50H347.40V125.10" fill="none" stroke="#333" stroke-width=".7"/>
<text x="328.60" y="124.10" font-size="4.41" text-anchor="middle" fill="#222">***</text>
<path d="M309.80 132.80V131.20H328.00V132.80" fill="none" stroke="#333" stroke-width=".7"/>
<text x="318.90" y="131.80" font-size="4.41" text-anchor="middle" fill="#222">***</text>
<path d="M330.00 132.80V131.20H347.40V132.80" fill="none" stroke="#333" stroke-width=".7"/>
<text x="338.70" y="131.80" font-size="4.41" text-anchor="middle" fill="#222">***</text>
<path d="M323.50 182.30H336.00M341.80 157.90H354.30" stroke="#333" stroke-width=".8"/>
<circle cx="326.90" cy="175.50" r="1.10"/>
<circle cx="329.90" cy="177.90" r="1.10"/>
<circle cx="332.90" cy="177.90" r="1.10"/>
<circle cx="326.90" cy="178.70" r="1.10"/>
<circle cx="332.90" cy="179.30" r="1.10"/>
<circle cx="324.50" cy="182.30" r="1.10"/>
<circle cx="327.00" cy="182.30" r="1.10"/>
<circle cx="329.90" cy="182.30" r="1.10"/>
<circle cx="332.50" cy="182.30" r="1.10"/>
<circle cx="335.20" cy="182.30" r="1.10"/>
<circle cx="326.00" cy="183.80" r="1.10"/>
<circle cx="329.90" cy="184.60" r="1.10"/>
<circle cx="333.00" cy="184.00" r="1.10"/>
<circle cx="347.80" cy="147.40" r="1.00"/>
<circle cx="351.10" cy="150.50" r="1.00"/>
<circle cx="347.80" cy="152.10" r="1.00"/>
<circle cx="344.80" cy="155.70" r="1.00"/>
<circle cx="351.10" cy="155.70" r="1.00"/>
<circle cx="347.80" cy="157.90" r="1.00"/>
<circle cx="344.80" cy="158.20" r="1.00"/>
<circle cx="351.10" cy="158.20" r="1.00"/>
<circle cx="347.80" cy="161.80" r="1.00"/>
<circle cx="344.80" cy="165.60" r="1.00"/>
<circle cx="347.80" cy="168.00" r="1.00"/>
<circle cx="344.80" cy="171.20" r="1.00"/>
<circle cx="351.10" cy="171.50" r="1.00"/>
<circle cx="347.80" cy="172.70" r="1.00"/>
<path d="M389.20 132.20V191.90H446.90" fill="none" stroke="#111" stroke-width=".85"/>
<path d="M387.60 191.90H389.20M387.60 176.97H389.20M387.60 162.05H389.20M387.60 147.12H389.20M387.60 132.20H389.20" stroke="#222" stroke-width=".6"/>
<text x="387.30" y="193.40" font-size="4.7" text-anchor="end" fill="#111" stroke="#111" stroke-width=".1">0</text>
<text x="387.30" y="178.47" font-size="4.7" text-anchor="end" fill="#111" stroke="#111" stroke-width=".1">10</text>
<text x="387.30" y="163.55" font-size="4.7" text-anchor="end" fill="#111" stroke="#111" stroke-width=".1">20</text>
<text x="387.30" y="148.62" font-size="4.7" text-anchor="end" fill="#111" stroke="#111" stroke-width=".1">30</text>
<text x="387.30" y="133.70" font-size="4.7" text-anchor="end" fill="#111" stroke="#111" stroke-width=".1">40</text>
<text x="400.80" y="197.50" font-size="5.0" text-anchor="middle" textLength="15.0" lengthAdjust="spacingAndGlyphs" stroke="#000" stroke-width=".12">Control</text>
<text x="419.40" y="197.50" font-size="5.0" text-anchor="middle" stroke="#000" stroke-width=".12">25D<tspan font-size="3.25" dy="1">3</tspan></text>
<text x="436.50" y="197.50" font-size="5.0" text-anchor="middle" stroke="#000" stroke-width=".12">1,25D<tspan font-size="3.25" dy="1">3</tspan></text>
<text x="377.60" y="158.60" font-size="4.3" text-anchor="middle" fill="#111" textLength="54" lengthAdjust="spacingAndGlyphs" transform="rotate(-90 377.60 158.60)" stroke="#111" stroke-width=".08">CTLA-4<tspan font-size="2.6" dy="-1.3">+</tspan><tspan dy="1.3">/FoxP3</tspan><tspan font-size="2.6" dy="-1.3">+</tspan><tspan dy="1.3"> frequency</tspan></text>
<text x="381.40" y="160.70" font-size="4.3" text-anchor="middle" fill="#111" transform="rotate(-90 381.40 160.70)" stroke="#111" stroke-width=".08">(%)</text>
<path d="M400.30 125.70V124.10H437.80V125.70" fill="none" stroke="#333" stroke-width=".7"/>
<text x="419.05" y="124.70" font-size="4.41" text-anchor="middle" fill="#222">***</text>
<path d="M400.30 133.80V132.20H418.00V133.80" fill="none" stroke="#333" stroke-width=".7"/>
<text x="409.15" y="132.80" font-size="4.41" text-anchor="middle" fill="#222">*</text>
<path d="M420.00 133.80V132.20H437.80V133.80" fill="none" stroke="#333" stroke-width=".7"/>
<text x="428.90" y="132.80" font-size="4.41" text-anchor="middle" fill="#222">*</text>
<path d="M395.60 175.00H407.90M413.50 166.20H425.90M432.10 154.90H443.80" stroke="#333" stroke-width=".8"/>
<rect x="397.65" y="164.96" width="2.09" height="2.09"/>
<rect x="400.75" y="165.56" width="2.09" height="2.09"/>
<rect x="404.06" y="164.36" width="2.09" height="2.09"/>
<rect x="397.65" y="168.06" width="2.09" height="2.09"/>
<rect x="400.75" y="167.66" width="2.09" height="2.09"/>
<rect x="404.06" y="166.76" width="2.09" height="2.09"/>
<rect x="402.35" y="169.26" width="2.09" height="2.09"/>
<rect x="400.75" y="170.56" width="2.09" height="2.09"/>
<rect x="400.75" y="173.96" width="2.09" height="2.09"/>
<rect x="404.06" y="174.86" width="2.09" height="2.09"/>
<rect x="397.65" y="178.56" width="2.09" height="2.09"/>
<rect x="400.75" y="178.56" width="2.09" height="2.09"/>
<rect x="397.65" y="182.06" width="2.09" height="2.09"/>
<rect x="400.75" y="182.06" width="2.09" height="2.09"/>
<rect x="404.06" y="182.06" width="2.09" height="2.09"/>
<rect x="404.06" y="184.76" width="2.09" height="2.09"/>
<rect x="400.75" y="186.26" width="2.09" height="2.09"/>
<circle cx="416.60" cy="153.00" r="1.10"/>
<circle cx="416.60" cy="156.10" r="1.10"/>
<circle cx="420.30" cy="155.50" r="1.10"/>
<circle cx="422.40" cy="156.70" r="1.10"/>
<circle cx="419.70" cy="159.80" r="1.10"/>
<circle cx="419.70" cy="162.90" r="1.10"/>
<circle cx="419.70" cy="166.20" r="1.10"/>
<circle cx="416.60" cy="170.00" r="1.10"/>
<circle cx="419.70" cy="170.00" r="1.10"/>
<circle cx="422.80" cy="173.70" r="1.10"/>
<circle cx="419.70" cy="175.90" r="1.10"/>
<circle cx="419.70" cy="180.20" r="1.10"/>
<circle cx="419.70" cy="183.90" r="1.10"/>
<circle cx="437.60" cy="145.60" r="1.00"/>
<circle cx="434.60" cy="147.70" r="1.00"/>
<circle cx="440.70" cy="149.30" r="1.00"/>
<circle cx="437.60" cy="149.30" r="1.00"/>
<circle cx="434.60" cy="154.90" r="1.00"/>
<circle cx="437.60" cy="154.90" r="1.00"/>
<circle cx="440.70" cy="154.90" r="1.00"/>
<circle cx="437.60" cy="158.60" r="1.00"/>
<circle cx="434.60" cy="164.10" r="1.00"/>
<circle cx="440.70" cy="164.10" r="1.00"/>
<circle cx="434.60" cy="167.20" r="1.00"/>
<circle cx="440.70" cy="168.20" r="1.00"/>
<circle cx="437.60" cy="170.70" r="1.00"/>
<path d="M258.40 250.82V315.70H321.80" fill="none" stroke="#111" stroke-width=".85"/>
<path d="M256.80 315.70H258.40M256.80 302.72H258.40M256.80 289.75H258.40M256.80 276.77H258.40M256.80 263.80H258.40M256.80 250.82H258.40" stroke="#222" stroke-width=".6"/>
<text x="256.50" y="317.20" font-size="4.7" text-anchor="end" fill="#111" stroke="#111" stroke-width=".1">0.0</text>
<text x="256.50" y="304.22" font-size="4.7" text-anchor="end" fill="#111" stroke="#111" stroke-width=".1">2.5</text>
<text x="256.50" y="291.25" font-size="4.7" text-anchor="end" fill="#111" stroke="#111" stroke-width=".1">5.0</text>
<text x="256.50" y="278.27" font-size="4.7" text-anchor="end" fill="#111" stroke="#111" stroke-width=".1">7.5</text>
<text x="256.50" y="265.30" font-size="4.7" text-anchor="end" fill="#111" stroke="#111" stroke-width=".1">10.0</text>
<text x="256.50" y="252.32" font-size="4.7" text-anchor="end" fill="#111" stroke="#111" stroke-width=".1">12.5</text>
<text x="269.30" y="322.10" font-size="5.0" text-anchor="middle" textLength="15.0" lengthAdjust="spacingAndGlyphs" stroke="#000" stroke-width=".12">Control</text>
<text x="289.60" y="322.10" font-size="5.0" text-anchor="middle" stroke="#000" stroke-width=".12">25D<tspan font-size="3.25" dy="1">3</tspan></text>
<text x="310.00" y="322.10" font-size="5.0" text-anchor="middle" stroke="#000" stroke-width=".12">1,25D<tspan font-size="3.25" dy="1">3</tspan></text>
<text x="243.20" y="282.50" font-size="4.3" text-anchor="middle" fill="#111" textLength="41" lengthAdjust="spacingAndGlyphs" transform="rotate(-90 243.20 282.50)" stroke="#111" stroke-width=".08">IL-17<tspan font-size="2.6" dy="-1.3">+</tspan><tspan dy="1.3"> frequency (%)</tspan></text>
<path d="M269.30 244.50V242.90H310.40V244.50" fill="none" stroke="#333" stroke-width=".7"/>
<text x="289.85" y="243.50" font-size="4.41" text-anchor="middle" fill="#222">**</text>
<path d="M269.30 252.20V250.60H287.30V252.20" fill="none" stroke="#333" stroke-width=".7"/>
<text x="278.30" y="251.20" font-size="4.41" text-anchor="middle" fill="#222">**</text>
<path d="M291.50 252.20V250.60H310.40V252.20" fill="none" stroke="#333" stroke-width=".7"/>
<text x="300.95" y="249.40" font-size="4.2" text-anchor="middle" fill="#222">ns</text>
<path d="M265.10 301.00H277.40M284.60 309.00H297.00M304.10 308.60H317.00" stroke="#333" stroke-width=".8"/>
<rect x="270.16" y="258.16" width="2.28" height="2.28"/>
<rect x="270.16" y="281.46" width="2.28" height="2.28"/>
<rect x="270.16" y="287.76" width="2.28" height="2.28"/>
<rect x="270.16" y="298.56" width="2.28" height="2.28"/>
<rect x="266.86" y="300.76" width="2.28" height="2.28"/>
<rect x="273.76" y="300.76" width="2.28" height="2.28"/>
<rect x="270.16" y="303.56" width="2.28" height="2.28"/>
<rect x="270.16" y="308.56" width="2.28" height="2.28"/>
<circle cx="290.90" cy="283.90" r="1.15"/>
<circle cx="287.70" cy="306.10" r="1.15"/>
<circle cx="291.30" cy="309.30" r="1.15"/>
<circle cx="294.10" cy="309.00" r="1.15"/>
<circle cx="290.60" cy="312.90" r="1.15"/>
<circle cx="293.70" cy="312.90" r="1.15"/>
<circle cx="287.70" cy="311.00" r="1.15"/>
<path d="M310.30 291.30L311.40 293.28H309.20z"/>
<path d="M306.60 308.20L307.70 310.18H305.50z"/>
<path d="M310.60 307.90L311.70 309.88H309.50z"/>
<path d="M310.30 311.80L311.40 313.78H309.20z"/>
<path d="M313.40 311.80L314.50 313.78H312.30z"/>
<path d="M313.70 307.00L314.80 308.98H312.60z"/>
<path d="M340.40 250.10V315.70H406.80" fill="none" stroke="#111" stroke-width=".85"/>
<path d="M338.80 315.70H340.40M338.80 299.30H340.40M338.80 282.90H340.40M338.80 266.50H340.40M338.80 250.10H340.40" stroke="#222" stroke-width=".6"/>
<text x="338.50" y="317.20" font-size="4.7" text-anchor="end" fill="#111" stroke="#111" stroke-width=".1">0</text>
<text x="338.50" y="300.80" font-size="4.7" text-anchor="end" fill="#111" stroke="#111" stroke-width=".1">10</text>
<text x="338.50" y="284.40" font-size="4.7" text-anchor="end" fill="#111" stroke="#111" stroke-width=".1">20</text>
<text x="338.50" y="268.00" font-size="4.7" text-anchor="end" fill="#111" stroke="#111" stroke-width=".1">30</text>
<text x="338.50" y="251.60" font-size="4.7" text-anchor="end" fill="#111" stroke="#111" stroke-width=".1">40</text>
<text x="353.20" y="322.10" font-size="5.0" text-anchor="middle" textLength="15.0" lengthAdjust="spacingAndGlyphs" stroke="#000" stroke-width=".12">Control</text>
<text x="373.10" y="322.10" font-size="5.0" text-anchor="middle" stroke="#000" stroke-width=".12">25D<tspan font-size="3.25" dy="1">3</tspan></text>
<text x="392.90" y="322.10" font-size="5.0" text-anchor="middle" stroke="#000" stroke-width=".12">1,25D<tspan font-size="3.25" dy="1">3</tspan></text>
<text x="328.60" y="280.00" font-size="4.3" text-anchor="middle" fill="#111" textLength="41" lengthAdjust="spacingAndGlyphs" transform="rotate(-90 328.60 280.00)" stroke="#111" stroke-width=".08">IFN&#947;<tspan font-size="2.6" dy="-1.3">+</tspan><tspan dy="1.3"> frequency (%)</tspan></text>
<path d="M352.60 244.10V242.50H393.90V244.10" fill="none" stroke="#333" stroke-width=".7"/>
<text x="373.25" y="243.10" font-size="4.41" text-anchor="middle" fill="#222">**</text>
<path d="M352.60 252.00V250.40H371.50V252.00" fill="none" stroke="#333" stroke-width=".7"/>
<text x="362.05" y="251.00" font-size="4.41" text-anchor="middle" fill="#222">**</text>
<path d="M375.50 252.00V250.40H393.90V252.00" fill="none" stroke="#333" stroke-width=".7"/>
<text x="384.70" y="249.20" font-size="4.2" text-anchor="middle" fill="#222">ns</text>
<path d="M347.30 266.00H359.80M366.60 296.50H379.60M386.00 299.50H399.40" stroke="#333" stroke-width=".8"/>
<rect x="348.76" y="254.46" width="2.28" height="2.28"/>
<rect x="352.56" y="254.96" width="2.28" height="2.28"/>
<rect x="356.06" y="260.56" width="2.28" height="2.28"/>
<rect x="352.56" y="263.66" width="2.28" height="2.28"/>
<rect x="349.16" y="264.86" width="2.28" height="2.28"/>
<rect x="352.56" y="267.66" width="2.28" height="2.28"/>
<rect x="352.56" y="271.46" width="2.28" height="2.28"/>
<rect x="352.56" y="275.96" width="2.28" height="2.28"/>
<rect x="352.56" y="289.26" width="2.28" height="2.28"/>
<circle cx="369.70" cy="281.70" r="1.20"/>
<circle cx="373.20" cy="282.50" r="1.20"/>
<circle cx="376.50" cy="281.70" r="1.20"/>
<circle cx="373.20" cy="295.40" r="1.20"/>
<circle cx="376.50" cy="296.50" r="1.20"/>
<circle cx="373.20" cy="300.00" r="1.20"/>
<circle cx="373.20" cy="305.60" r="1.20"/>
<circle cx="376.50" cy="307.20" r="1.20"/>
<circle cx="373.20" cy="310.20" r="1.20"/>
<path d="M392.80 278.20L393.90 280.18H391.70z"/>
<path d="M392.80 282.10L393.90 284.08H391.70z"/>
<path d="M392.80 286.20L393.90 288.18H391.70z"/>
<path d="M389.50 298.40L390.60 300.38H388.40z"/>
<path d="M396.00 298.40L397.10 300.38H394.90z"/>
<path d="M392.80 300.70L393.90 302.68H391.70z"/>
<path d="M392.80 305.00L393.90 306.98H391.70z"/>
<path d="M396.00 307.10L397.10 309.08H394.90z"/>
<path d="M392.80 309.60L393.90 311.58H391.70z"/>
<path d="M427.60 250.10V315.70H497.90" fill="none" stroke="#111" stroke-width=".85"/>
<path d="M426.00 315.70H427.60M426.00 302.58H427.60M426.00 289.46H427.60M426.00 276.34H427.60M426.00 263.22H427.60M426.00 250.10H427.60" stroke="#222" stroke-width=".6"/>
<text x="425.70" y="317.20" font-size="4.7" text-anchor="end" fill="#111" stroke="#111" stroke-width=".1">0</text>
<text x="425.70" y="304.08" font-size="4.7" text-anchor="end" fill="#111" stroke="#111" stroke-width=".1">10</text>
<text x="425.70" y="290.96" font-size="4.7" text-anchor="end" fill="#111" stroke="#111" stroke-width=".1">20</text>
<text x="425.70" y="277.84" font-size="4.7" text-anchor="end" fill="#111" stroke="#111" stroke-width=".1">30</text>
<text x="425.70" y="264.72" font-size="4.7" text-anchor="end" fill="#111" stroke="#111" stroke-width=".1">40</text>
<text x="425.70" y="251.60" font-size="4.7" text-anchor="end" fill="#111" stroke="#111" stroke-width=".1">50</text>
<text x="441.10" y="322.10" font-size="5.0" text-anchor="middle" textLength="15.0" lengthAdjust="spacingAndGlyphs" stroke="#000" stroke-width=".12">Control</text>
<text x="460.40" y="322.10" font-size="5.0" text-anchor="middle" stroke="#000" stroke-width=".12">25D<tspan font-size="3.25" dy="1">3</tspan></text>
<text x="479.60" y="322.10" font-size="5.0" text-anchor="middle" stroke="#000" stroke-width=".12">1,25D<tspan font-size="3.25" dy="1">3</tspan></text>
<text x="418.00" y="282.50" font-size="4.3" text-anchor="middle" fill="#111" textLength="41" lengthAdjust="spacingAndGlyphs" transform="rotate(-90 418.00 282.50)" stroke="#111" stroke-width=".08">IL-21<tspan font-size="2.6" dy="-1.3">+</tspan><tspan dy="1.3"> frequency (%)</tspan></text>
<path d="M440.00 244.10V242.50H480.30V244.10" fill="none" stroke="#333" stroke-width=".7"/>
<text x="460.15" y="243.10" font-size="4.41" text-anchor="middle" fill="#222">*</text>
<path d="M440.00 252.00V250.40H458.60V252.00" fill="none" stroke="#333" stroke-width=".7"/>
<text x="449.30" y="251.00" font-size="4.41" text-anchor="middle" fill="#222">*</text>
<path d="M462.00 252.00V250.40H480.30V252.00" fill="none" stroke="#333" stroke-width=".7"/>
<text x="471.15" y="249.20" font-size="4.2" text-anchor="middle" fill="#222">ns</text>
<path d="M434.30 277.10H447.10M453.60 301.40H466.90M473.40 299.70H486.70" stroke="#333" stroke-width=".8"/>
<rect x="439.56" y="254.16" width="2.28" height="2.28"/>
<rect x="439.56" y="269.16" width="2.28" height="2.28"/>
<rect x="443.06" y="275.26" width="2.28" height="2.28"/>
<rect x="439.56" y="276.56" width="2.28" height="2.28"/>
<rect x="439.56" y="281.66" width="2.28" height="2.28"/>
<rect x="439.56" y="291.56" width="2.28" height="2.28"/>
<circle cx="460.20" cy="287.00" r="1.20"/>
<circle cx="460.20" cy="297.50" r="1.20"/>
<circle cx="463.80" cy="296.90" r="1.20"/>
<circle cx="460.20" cy="305.60" r="1.20"/>
<circle cx="463.80" cy="308.70" r="1.20"/>
<circle cx="460.20" cy="310.20" r="1.20"/>
<path d="M480.00 289.80L481.10 291.78H478.90z"/>
<path d="M480.00 294.30L481.10 296.28H478.90z"/>
<path d="M483.40 293.60L484.50 295.58H482.30z"/>
<path d="M480.00 303.50L481.10 305.48H478.90z"/>
<path d="M480.00 310.60L481.10 312.58H478.90z"/>
<path d="M483.40 309.90L484.50 311.88H482.30z"/>
<path d="M258.40 345.40V411.00H321.80" fill="none" stroke="#111" stroke-width=".85"/>
<path d="M256.80 411.00H258.40M256.80 394.60H258.40M256.80 378.20H258.40M256.80 361.80H258.40M256.80 345.40H258.40" stroke="#222" stroke-width=".6"/>
<text x="256.50" y="412.50" font-size="4.7" text-anchor="end" fill="#111" stroke="#111" stroke-width=".1">0.0</text>
<text x="256.50" y="396.10" font-size="4.7" text-anchor="end" fill="#111" stroke="#111" stroke-width=".1">2.5</text>
<text x="256.50" y="379.70" font-size="4.7" text-anchor="end" fill="#111" stroke="#111" stroke-width=".1">5.0</text>
<text x="256.50" y="363.30" font-size="4.7" text-anchor="end" fill="#111" stroke="#111" stroke-width=".1">7.5</text>
<text x="256.50" y="346.90" font-size="4.7" text-anchor="end" fill="#111" stroke="#111" stroke-width=".1">10.0</text>
<text x="269.30" y="417.40" font-size="5.0" text-anchor="middle" textLength="15.0" lengthAdjust="spacingAndGlyphs" stroke="#000" stroke-width=".12">Control</text>
<text x="289.60" y="417.40" font-size="5.0" text-anchor="middle" stroke="#000" stroke-width=".12">25D<tspan font-size="3.25" dy="1">3</tspan></text>
<text x="310.00" y="417.40" font-size="5.0" text-anchor="middle" stroke="#000" stroke-width=".12">1,25D<tspan font-size="3.25" dy="1">3</tspan></text>
<text x="243.20" y="374.00" font-size="4.3" text-anchor="middle" fill="#111" textLength="41" lengthAdjust="spacingAndGlyphs" transform="rotate(-90 243.20 374.00)" stroke="#111" stroke-width=".08">IL-17<tspan font-size="2.6" dy="-1.3">+</tspan><tspan dy="1.3"> frequency (%)</tspan></text>
<path d="M269.30 339.10V337.50H310.40V339.10" fill="none" stroke="#333" stroke-width=".7"/>
<text x="289.85" y="338.10" font-size="4.41" text-anchor="middle" fill="#222">***</text>
<path d="M269.30 347.00V345.40H287.30V347.00" fill="none" stroke="#333" stroke-width=".7"/>
<text x="278.30" y="344.20" font-size="4.2" text-anchor="middle" fill="#222">ns</text>
<path d="M291.50 347.00V345.40H310.40V347.00" fill="none" stroke="#333" stroke-width=".7"/>
<text x="300.95" y="346.00" font-size="4.41" text-anchor="middle" fill="#222">**</text>
<path d="M265.00 388.60H277.90M284.10 392.50H297.40M303.00 405.50H317.00" stroke="#333" stroke-width=".8"/>
<rect x="270.16" y="365.06" width="2.28" height="2.28"/>
<rect x="266.76" y="372.76" width="2.28" height="2.28"/>
<rect x="270.16" y="374.66" width="2.28" height="2.28"/>
<rect x="270.16" y="378.36" width="2.28" height="2.28"/>
<rect x="266.76" y="384.26" width="2.28" height="2.28"/>
<rect x="266.76" y="387.46" width="2.28" height="2.28"/>
<rect x="270.16" y="387.46" width="2.28" height="2.28"/>
<rect x="273.86" y="386.46" width="2.28" height="2.28"/>
<rect x="266.76" y="390.86" width="2.28" height="2.28"/>
<rect x="270.16" y="391.96" width="2.28" height="2.28"/>
<rect x="273.86" y="391.96" width="2.28" height="2.28"/>
<rect x="266.76" y="398.76" width="2.28" height="2.28"/>
<rect x="270.16" y="399.76" width="2.28" height="2.28"/>
<rect x="270.16" y="404.16" width="2.28" height="2.28"/>
<circle cx="290.80" cy="355.90" r="1.20"/>
<circle cx="290.80" cy="377.30" r="1.20"/>
<circle cx="290.80" cy="381.00" r="1.20"/>
<circle cx="290.80" cy="385.00" r="1.20"/>
<circle cx="290.80" cy="389.50" r="1.20"/>
<circle cx="294.40" cy="389.50" r="1.20"/>
<circle cx="287.80" cy="392.50" r="1.20"/>
<circle cx="294.40" cy="391.30" r="1.20"/>
<circle cx="290.80" cy="395.00" r="1.20"/>
<circle cx="290.80" cy="398.40" r="1.20"/>
<circle cx="287.80" cy="401.90" r="1.20"/>
<circle cx="290.80" cy="401.90" r="1.20"/>
<circle cx="290.80" cy="407.50" r="1.20"/>
<circle cx="294.20" cy="406.30" r="1.20"/>
<path d="M310.40 383.60L311.50 385.58H309.30z"/>
<path d="M307.00 398.30L308.10 400.28H305.90z"/>
<path d="M310.70 400.80L311.80 402.78H309.60z"/>
<path d="M313.90 400.80L315.00 402.78H312.80z"/>
<path d="M305.50 404.90L306.60 406.88H304.40z"/>
<path d="M308.50 404.40L309.60 406.38H307.40z"/>
<path d="M311.50 404.90L312.60 406.88H310.40z"/>
<path d="M314.50 404.40L315.60 406.38H313.40z"/>
<path d="M307.00 407.40L308.10 409.38H305.90z"/>
<path d="M310.00 407.90L311.10 409.88H308.90z"/>
<path d="M313.00 407.40L314.10 409.38H311.90z"/>
<path d="M316.00 406.40L317.10 408.38H314.90z"/>
<path d="M340.40 345.90V411.20H406.80" fill="none" stroke="#111" stroke-width=".85"/>
<path d="M338.80 411.20H340.40M338.80 394.88H340.40M338.80 378.55H340.40M338.80 362.22H340.40M338.80 345.90H340.40" stroke="#222" stroke-width=".6"/>
<text x="338.50" y="412.70" font-size="4.7" text-anchor="end" fill="#111" stroke="#111" stroke-width=".1">0</text>
<text x="338.50" y="396.38" font-size="4.7" text-anchor="end" fill="#111" stroke="#111" stroke-width=".1">5</text>
<text x="338.50" y="380.05" font-size="4.7" text-anchor="end" fill="#111" stroke="#111" stroke-width=".1">10</text>
<text x="338.50" y="363.72" font-size="4.7" text-anchor="end" fill="#111" stroke="#111" stroke-width=".1">15</text>
<text x="338.50" y="347.40" font-size="4.7" text-anchor="end" fill="#111" stroke="#111" stroke-width=".1">20</text>
<text x="353.20" y="417.60" font-size="5.0" text-anchor="middle" textLength="15.0" lengthAdjust="spacingAndGlyphs" stroke="#000" stroke-width=".12">Control</text>
<text x="373.10" y="417.60" font-size="5.0" text-anchor="middle" stroke="#000" stroke-width=".12">25D<tspan font-size="3.25" dy="1">3</tspan></text>
<text x="392.90" y="417.60" font-size="5.0" text-anchor="middle" stroke="#000" stroke-width=".12">1,25D<tspan font-size="3.25" dy="1">3</tspan></text>
<text x="328.60" y="374.50" font-size="4.3" text-anchor="middle" fill="#111" textLength="41" lengthAdjust="spacingAndGlyphs" transform="rotate(-90 328.60 374.50)" stroke="#111" stroke-width=".08">IFN&#947;<tspan font-size="2.6" dy="-1.3">+</tspan><tspan dy="1.3"> frequency (%)</tspan></text>
<path d="M352.60 341.20V339.60H393.90V341.20" fill="none" stroke="#333" stroke-width=".7"/>
<text x="373.25" y="340.20" font-size="4.41" text-anchor="middle" fill="#222">***</text>
<path d="M352.60 348.70V347.10H371.50V348.70" fill="none" stroke="#333" stroke-width=".7"/>
<text x="362.05" y="347.70" font-size="4.41" text-anchor="middle" fill="#222">**</text>
<path d="M375.50 348.70V347.10H393.90V348.70" fill="none" stroke="#333" stroke-width=".7"/>
<text x="384.70" y="347.70" font-size="4.41" text-anchor="middle" fill="#222">***</text>
<path d="M347.10 378.10H360.00M366.60 383.20H379.20M386.60 399.50H399.10" stroke="#333" stroke-width=".8"/>
<rect x="348.96" y="357.76" width="2.28" height="2.28"/>
<rect x="352.46" y="357.76" width="2.28" height="2.28"/>
<rect x="352.46" y="362.86" width="2.28" height="2.28"/>
<rect x="355.86" y="371.76" width="2.28" height="2.28"/>
<rect x="348.96" y="373.26" width="2.28" height="2.28"/>
<rect x="352.46" y="374.66" width="2.28" height="2.28"/>
<rect x="348.96" y="376.66" width="2.28" height="2.28"/>
<rect x="352.46" y="376.96" width="2.28" height="2.28"/>
<rect x="355.86" y="376.96" width="2.28" height="2.28"/>
<rect x="352.46" y="379.16" width="2.28" height="2.28"/>
<rect x="348.96" y="383.56" width="2.28" height="2.28"/>
<rect x="352.46" y="385.76" width="2.28" height="2.28"/>
<rect x="348.96" y="389.06" width="2.28" height="2.28"/>
<rect x="352.46" y="390.96" width="2.28" height="2.28"/>
<rect x="355.86" y="390.66" width="2.28" height="2.28"/>
<circle cx="369.90" cy="367.70" r="1.20"/>
<circle cx="373.30" cy="371.00" r="1.20"/>
<circle cx="376.70" cy="373.90" r="1.20"/>
<circle cx="373.30" cy="376.30" r="1.20"/>
<circle cx="369.90" cy="381.80" r="1.20"/>
<circle cx="373.30" cy="383.70" r="1.20"/>
<circle cx="376.70" cy="383.20" r="1.20"/>
<circle cx="376.70" cy="385.50" r="1.20"/>
<circle cx="373.30" cy="388.10" r="1.20"/>
<circle cx="369.90" cy="391.40" r="1.20"/>
<circle cx="376.70" cy="390.60" r="1.20"/>
<circle cx="373.30" cy="393.10" r="1.20"/>
<circle cx="373.30" cy="402.40" r="1.20"/>
<path d="M392.80 382.10L393.90 384.08H391.70z"/>
<path d="M392.80 388.80L393.90 390.78H391.70z"/>
<path d="M389.50 392.90L390.60 394.88H388.40z"/>
<path d="M392.80 394.70L393.90 396.68H391.70z"/>
<path d="M394.00 395.90L395.10 397.88H392.90z"/>
<path d="M389.50 397.60L390.60 399.58H388.40z"/>
<path d="M396.20 398.40L397.30 400.38H395.10z"/>
<path d="M389.50 400.30L390.60 402.28H388.40z"/>
<path d="M396.20 400.30L397.30 402.28H395.10z"/>
<path d="M392.80 402.40L393.90 404.38H391.70z"/>
<path d="M396.20 405.00L397.30 406.98H395.10z"/>
<path d="M392.80 407.20L393.90 409.18H391.70z"/>
<path d="M427.60 345.90V411.20H497.90" fill="none" stroke="#111" stroke-width=".85"/>
<path d="M426.00 411.20H427.60M426.00 398.14H427.60M426.00 385.08H427.60M426.00 372.02H427.60M426.00 358.96H427.60M426.00 345.90H427.60" stroke="#222" stroke-width=".6"/>
<text x="425.70" y="412.70" font-size="4.7" text-anchor="end" fill="#111" stroke="#111" stroke-width=".1">0</text>
<text x="425.70" y="399.64" font-size="4.7" text-anchor="end" fill="#111" stroke="#111" stroke-width=".1">10</text>
<text x="425.70" y="386.58" font-size="4.7" text-anchor="end" fill="#111" stroke="#111" stroke-width=".1">20</text>
<text x="425.70" y="373.52" font-size="4.7" text-anchor="end" fill="#111" stroke="#111" stroke-width=".1">30</text>
<text x="425.70" y="360.46" font-size="4.7" text-anchor="end" fill="#111" stroke="#111" stroke-width=".1">40</text>
<text x="425.70" y="347.40" font-size="4.7" text-anchor="end" fill="#111" stroke="#111" stroke-width=".1">50</text>
<text x="441.10" y="417.60" font-size="5.0" text-anchor="middle" textLength="15.0" lengthAdjust="spacingAndGlyphs" stroke="#000" stroke-width=".12">Control</text>
<text x="460.40" y="417.60" font-size="5.0" text-anchor="middle" stroke="#000" stroke-width=".12">25D<tspan font-size="3.25" dy="1">3</tspan></text>
<text x="479.60" y="417.60" font-size="5.0" text-anchor="middle" stroke="#000" stroke-width=".12">1,25D<tspan font-size="3.25" dy="1">3</tspan></text>
<text x="418.00" y="373.80" font-size="4.3" text-anchor="middle" fill="#111" textLength="41" lengthAdjust="spacingAndGlyphs" transform="rotate(-90 418.00 373.80)" stroke="#111" stroke-width=".08">IL-21<tspan font-size="2.6" dy="-1.3">+</tspan><tspan dy="1.3"> frequency (%)</tspan></text>
<path d="M440.00 339.10V337.50H480.30V339.10" fill="none" stroke="#333" stroke-width=".7"/>
<text x="460.15" y="338.10" font-size="4.41" text-anchor="middle" fill="#222">***</text>
<path d="M440.00 347.00V345.40H458.60V347.00" fill="none" stroke="#333" stroke-width=".7"/>
<text x="449.30" y="344.20" font-size="4.2" text-anchor="middle" fill="#222">ns</text>
<path d="M462.00 347.00V345.40H480.30V347.00" fill="none" stroke="#333" stroke-width=".7"/>
<text x="471.15" y="346.00" font-size="4.41" text-anchor="middle" fill="#222">***</text>
<path d="M434.40 389.10H447.00M453.30 394.00H466.20M473.60 405.00H486.10" stroke="#333" stroke-width=".8"/>
<rect x="439.66" y="359.46" width="2.28" height="2.28"/>
<rect x="439.66" y="364.86" width="2.28" height="2.28"/>
<rect x="439.66" y="379.56" width="2.28" height="2.28"/>
<rect x="442.86" y="381.36" width="2.28" height="2.28"/>
<rect x="439.66" y="383.16" width="2.28" height="2.28"/>
<rect x="435.96" y="387.96" width="2.28" height="2.28"/>
<rect x="439.66" y="388.46" width="2.28" height="2.28"/>
<rect x="442.86" y="388.46" width="2.28" height="2.28"/>
<rect x="435.96" y="394.96" width="2.28" height="2.28"/>
<rect x="439.66" y="396.46" width="2.28" height="2.28"/>
<rect x="442.86" y="396.46" width="2.28" height="2.28"/>
<circle cx="460.30" cy="350.70" r="1.20"/>
<circle cx="460.30" cy="359.60" r="1.20"/>
<circle cx="460.30" cy="387.40" r="1.20"/>
<circle cx="456.90" cy="392.80" r="1.20"/>
<circle cx="460.30" cy="391.80" r="1.20"/>
<circle cx="464.00" cy="393.10" r="1.20"/>
<circle cx="456.90" cy="395.00" r="1.20"/>
<circle cx="461.50" cy="395.80" r="1.20"/>
<circle cx="463.20" cy="397.60" r="1.20"/>
<circle cx="460.30" cy="398.40" r="1.20"/>
<circle cx="457.50" cy="396.50" r="1.20"/>
<path d="M479.90 391.40L481.00 393.38H478.80z"/>
<path d="M479.90 399.90L481.00 401.88H478.80z"/>
<path d="M483.20 399.10L484.30 401.08H482.10z"/>
<path d="M474.50 403.90L475.60 405.88H473.40z"/>
<path d="M477.50 403.40L478.60 405.38H476.40z"/>
<path d="M480.50 403.90L481.60 405.88H479.40z"/>
<path d="M483.50 403.40L484.60 405.38H482.40z"/>
<path d="M486.00 404.40L487.10 406.38H484.90z"/>
<path d="M476.00 406.40L477.10 408.38H474.90z"/>
<path d="M479.00 406.90L480.10 408.88H477.90z"/>
<path d="M482.00 406.40L483.10 408.38H480.90z"/>
<path d="M485.00 405.90L486.10 407.88H483.90z"/>
</svg>
</body></html>
